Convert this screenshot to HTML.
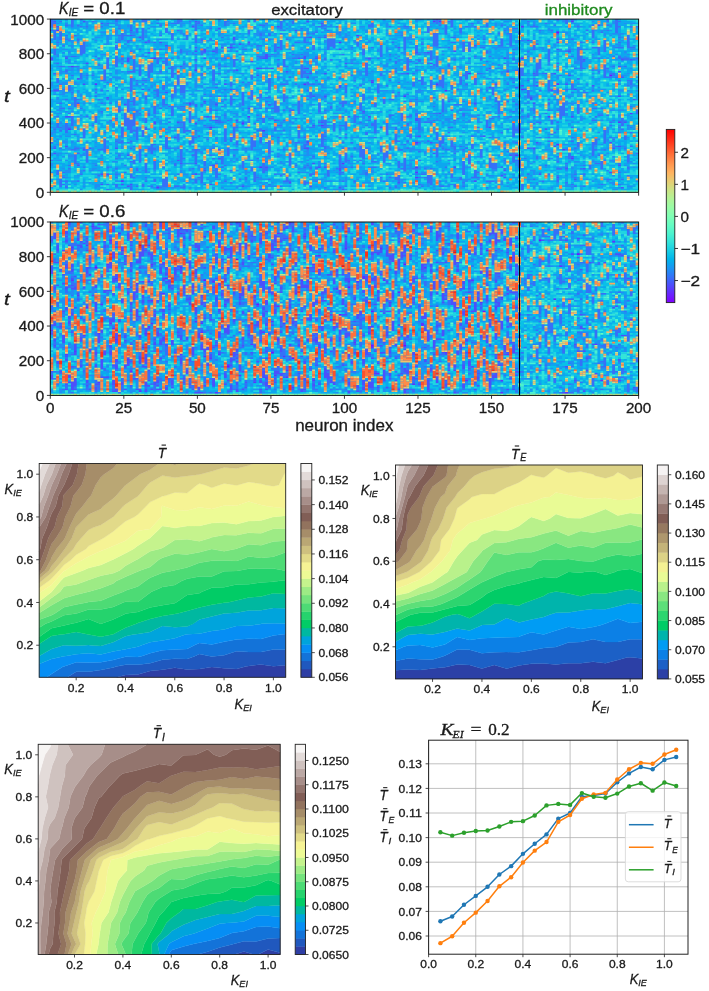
<!DOCTYPE html>
<html><head><meta charset="utf-8"><style>
html,body{margin:0;padding:0;background:#fff;}
svg{display:block;filter:blur(0.35px);}
</style></head><body>
<svg width="709" height="991" viewBox="0 0 709 991">
<rect width="709" height="991" fill="#fff"/>
<g transform="translate(50.30 19.10) scale(2.9415 1.7320)" fill="none" stroke-width="1">
<rect x="0" y="0" width="200" height="100" fill="#0ac0e8"/>
<path stroke="#7610ff" d="M172.5 7v1m18 24v1"/>
<path stroke="#6032fe" d="M2.5 6v1m4 56v1m1-37v1m8 9v1m9 55v1m11-72v1m1 74v1m13-69v1m5 32v1m7-47v1m4 43v1m2-5v1m4 28v1m1-22v1m14-28v1m6 23v1m6-49v1m1 69v1m5-75v1m5 26v1m11 7v1m4 46v1m0-4v1m0-4v1m0-15v1m6-71v1m1 35v1m1-37v1m2 39v1m8-11v1m7 30v1m9 15v1m2-39v1m0-19v1m0-19v1m9 51v1m3 15v1m0-36v1m2 37v1m3 4v1m0-80v1m16 57v1m4-6v1"/>
<path stroke="#4c50fc" d="M0.5 22v2m1 53v1m0-4v1m0-34v1m0-41v1m1 39v1m0-38v1m3 68v1m0-18v1m0-35v1m1 33v1m3 27v1m0-37v1m0-15v1m2 40v1m0-39v1m0-37v1m1 23v1m1 48v1m3-49v1m1 68v1m0-7v1m0-88v1m2 86v1m0-45v1m3 28v1m0-59v1m0-17v1m2 94v1m1-47v1m1 46v1m0-19v1m0-57v3m1 70v1m0-87v1m0-4v1m3 3v1m1 29v1m1 22v1m0-51v1m1 5v1m1 2v1m1 36v2m2-48v1m2 28v1m0-28v1m3 52v1m1 12v1m0-23v1m1 23v1m0-57v1m3 20v2m1-46v1m1 84v1m0-7v1m0-24v1m0-35v1m0-4v1m0-6v1m0-3v1m0-16v1m3 85v1m0-41v1m0-26v1m0-6v2m1 37v1m1 38v1m1-12v1m0-67v1m1 39v1m0-10v1m1 30v1m0-6v1m0-50v1m0-22v1m1 10v1m1 20v1m1-22v1m1 23v1m1-31v2m1 46v1m0-30v1m1-16v1m1 81v1m0-38v1m2-9v1m0-39v1m1 10v1m2 7v1m0-5v1m1 69v1m0-71v1m1-7v1m1 62v1m0-66v3m1 26v1m1-22v1m1 29v1m1-43v1m0-13v1m3 25v1m1 63v1m2-89v1m1 15v1m2 51v1m0-47v1m0-8v2m1 51v1m0-5v2m0-39v1m0-6v1m0-28v1m1 94v1m0-66v1m0-22v1m1 72v1m0-23v1m0-18v1m1-23v1m1 62v1m1-27v1m0-58v1m1 82v1m0-42v1m0-14v1m0-22v1m5 86v1m0-12v2m0-50v2m0-23v1m1 80v1m1-74v1m1 30v1m5-4v1m2 2v1m0-35v1m1 12v1m3 26v1m6 31v1m0-79v1m3 14v1m3 25v2m0-40v1m1 47v1m3-49v1m1 51v1m0-47v1m1 51v1m0-52v1m1-27v1m1 53v1m3-29v1m2 58v1m0-68v1m7 74v1m0-46v1m0-34v1m3 51v1m2-29v1m0-12v1m2 8v1m2 52v1m1 0v1m0-5v1m0-66v1m1 7v1m1 47v1m2-40v1m2-2v1m1 1v1m1 33v1m0-63v1m1 32v2m1 27v1m0-27v1m0-18v1m1 39v1m0-34v1m1 50v1m2-27v1m0-33v1m2 9v1m1 31v1m0-43v1m1 59v1m0-75v1m0-5v1m0-3v1m0-4v1m0-9v1m3 85v1m0-50v1m1-6v1m0-15v1m1 60v1m0-24v1m0-57v1m1 91v1m0-53v1m3 45v1m0-64v1m3 14v1m2-36v1m4 84v1m0-18v1m1 2v1m2 9v1m0-12v1m0-30v1m0-15v1m0-4v1m1 69v1m0-65v1m0-11v1m1 35v1m2-37v1m1 22v1"/>
<path stroke="#3670f8" d="M0.5 81v1m0-11v1m0-66v1m0-7v5m1 68v1m0-11v1m0-24v1m0-10v1m0-15v4m0-15v6m0-10v1m1 84v3m0-30v3m0-7v1m0-17v1m0-7v3m0-12v1m0-13v1m1 78v5m0-23v1m0-11v1m0-3v1m0-12v1m0-4v1m0-12v1m0-11v1m0-21v5m0-11v1m1 93v1m0-5v1m0-4v1m0-38v1m0-12v1m0-14v1m0-13v1m1 80v2m0-5v1m0-34v6m0-20v1m0-18v2m0-10v1m0-11v1m0-3v1m0-7v1m1 82v1m0-3v1m0-23v1m0-9v1m0-4v1m0-14v4m0-15v1m0-16v1m1 62v1m0-20v6m0-20v1m0-11v1m0-12v1m0-22v5m1 73v6m0-10v2m0-10v1m0-22v6m0-24v1m0-7v1m0-13v1m1 83v1m0-11v1m0-7v1m0-4v1m0-5v1m0-25v1m0-20v1m0-17v2m0-10v1m1 85v1m0-39v1m0-21v4m0-20v6m0-17v1m0-5v1m1 86v1m0-3v1m0-12v1m0-12v6m0-56v7m1 55v8m0-27v1m0-25v1m0-29v1m2 56v1m0-30v1m0-32v1m1 82v1m0-29v4m0-16v1m0-3v1m0-3v1m0-20v1m1 68v1m0-16v1m0-12v1m0-19v1m0-25v1m1 52v1m0-23v1m0-6v1m0-8v1m0-7v1m0-8v1m0-25v1m1 64v8m0-12v1m0-37v7m1 62v1m0-4v1m0-11v1m0-40v1m0-11v1m0-15v7m0-27v1m1 55v1m0-11v1m2 46v2m0-6v1m0-3v1m0-4v1m0-7v1m0-11v1m0-14v1m0-19v1m0-19v7m0-11v1m0-3v1m0-3v1m0-13v1m1 76v1m0-8v1m0-22v4m0-42v1m0-4v1m0-5v1m1 64v2m0-10v6m0-23v1m0-21v1m0-4v2m0-16v4m1 76v1m0-5v1m0-31v8m0-53v1m1 61v1m0-15v7m0-18v8m0-24v1m0-19v2m0-5v1m1 86v3m0-10v3m0-7v1m0-4v1m0-3v1m0-7v1m0-5v1m0-13v8m0-19v1m0-14v8m0-12v1m0-9v1m0-5v1m0-7v1m0-6v1m0-5v3m1 85v1m0-11v3m0-11v1m0-10v1m0-11v8m0-17v5m0-27v8m0-22v1m0-9v1m1 94v1m0-11v2m0-26v8m0-17v1m0-17v1m0-3v1m0-31v3m1 67v8m0-29v1m0-29v7m0-16v1m1 77v2m0-33v4m0-31v1m0-3v1m0-31v7m0-12v2m1 91v1m0-3v1m0-9v6m0-11v1m0-17v1m0-6v3m0-16v3m0-12v1m0-15v1m0-22v2m1 72v2m0-22v2m0-16v1m0-15v8m0-22v2m1 82v1m0-25v6m0-53v6m1 61v2m0-12v5m0-13v2m0-4v1m0-23v5m0-14v1m0-25v1m0-5v1m1 82v1m0-57v5m0-23v4m0-24v1m0-3v1m1 96v1m0-31v1m0-17v1m0-22v1m0-9v1m0-6v1m0-9v1m0-7v1m1 88v5m0-12v1m0-40v4m0-12v3m0-17v1m1 66v6m0-29v7m0-26v1m0-28v5m0-22v3m1 66v1m0-13v1m0-4v1m0-10v1m0-23v1m1 21v6m0-13v3m0-19v7m0-26v4m0-10v1m1 93v1m0-14v2m0-47v5m0-12v1m0-30v1m1 93v1m0-8v1m0-16v1m0-9v4m0-8v1m0-31v6m0-32v1m0-7v3m1 94v1m0-23v8m0-21v1m0-4v1m0-10v1m0-13v5m0-26v3m0-20v2m1 94v2m0-18v1m0-22v7m0-16v1m0-13v5m0-18v2m1 37v1m0-17v1m0-40v3m1 58v3m0-9v1m0-12v7m0-59v1m1 87v1m0-4v1m0-9v1m0-4v1m0-9v5m0-24v1m0-49v1m1 91v3m0-20v8m0-15v1m0-5v1m0-16v2m0-24v2m0-9v1m0-12v5m0-12v5m1 84v1m0-17v1m0-9v1m0-10v1m0-58v2m1 85v7m0-46v1m0-19v2m0-6v1m0-10v3m0-10v2m0-10v1m1 91v1m0-10v1m0-5v3m0-24v1m0-6v1m0-9v1m0-6v1m0-25v1m1 49v1m0-8v1m1 21v1m0-7v1m0-4v1m0-13v1m0-6v1m0-3v1m0-6v2m0-9v1m0-17v1m0-18v1m0-7v1m1 81v1m0-3v1m0-6v1m0-7v1m0-13v1m0-5v1m0-30v7m1 50v6m0-9v1m0-25v1m0-4v1m0-5v1m0-5v1m0-10v1m0-3v1m0-22v4m0-14v1m1 82v1m0-32v2m0-16v1m0-14v1m0-4v1m1 56v1m0-7v5m0-25v1m0-10v1m0-4v1m0-38v1m1 82v1m0-10v1m0-22v8m0-16v1m0-10v1m0-3v1m0-5v1m0-14v1m0-6v1m0-22v3m1 70v5m0-21v1m0-58v1m1 92v1m0-8v1m0-20v3m0-27v6m0-14v3m0-25v2m1 62v1m0-4v1m0-14v7m0-23v1m0-7v1m0-12v1m0-7v5m0-12v1m0-3v1m0-13v1m1 72v1m0-6v3m0-11v1m0-4v1m0-37v1m0-6v1m1 73v1m0-73v1m1 61v4m0-18v1m0-27v8m0-14v1m0-20v1m1 73v2m0-19v1m0-13v1m0-46v1m1 61v1m0-18v1m0-4v1m0-15v1m0-10v1m0-23v1m0-9v3m0-8v1m1 83v3m0-7v1m0-14v8m0-35v6m0-15v3m1 53v6m0-24v4m0-14v1m0-10v1m0-52v2m1 89v1m0-12v1m0-17v1m0-7v1m0-4v1m0-11v1m0-25v1m0-5v1m0-3v1m1 52v4m0-9v2m0-8v1m0-7v1m0-9v3m0-25v2m0-8v1m0-8v2m0-7v1m1 94v1m0-16v6m0-22v1m0-11v3m0-32v1m0-8v1m0-11v1m0-9v1m1 82v2m0-6v1m0-12v1m0-6v1m0-16v1m0-5v1m0-3v1m0-18v1m0-27v1m1 92v1m0-4v1m0-14v1m0-10v8m0-21v1m0-13v1m0-12v7m0-13v1m0-8v1m0-5v1m0-7v1m0-4v2m1 57v1m0-11v1m0-7v1m0-32v1m1 68v1m0-28v3m0-18v7m0-40v5m1 60v1m0-12v1m0-8v1m0-4v1m0-9v4m0-28v2m0-5v1m1 74v1m0-3v1m0-7v1m0-30v1m0-25v1m0-26v6m0-10v1m0-8v5m1 87v1m0-5v1m0-15v1m0-12v1m0-7v1m0-7v1m0-10v5m0-11v1m0-15v5m0-22v1m0-7v1m1 90v3m0-49v1m0-9v1m0-11v1m0-17v1m1 81v1m0-17v8m0-30v1m0-4v1m0-20v1m1 18v1m0-31v1m0-3v1m0-6v1m0-15v2m1 81v1m0-10v1m0-5v1m0-15v1m0-21v1m0-16v1m0-10v1m1 74v1m0-18v1m0-8v5m0-22v8m0-42v1m1 30v1m0-19v8m0-12v1m0-3v1m0-16v1m1 87v3m0-11v1m0-14v2m0-6v1m0-39v2m0-22v4m1 80v1m0-11v1m0-10v1m0-4v1m0-27v1m0-3v1m0-4v1m0-6v2m0-7v1m0-15v1m0-5v1m0-4v1m0-3v1m1 80v2m0-6v2m0-25v1m0-21v4m0-9v1m0-8v1m0-5v1m1 62v1m0-11v1m0-18v1m0-26v1m0-23v3m0-10v1m1 84v1m0-9v2m0-52v1m0-15v1m0-15v1m1 53v1m0-3v1m0-12v6m0-17v1m0-28v1m0-7v1m1 61v8m0-12v1m0-5v1m0-56v2m1 92v1m0-15v1m0-11v2m0-6v1m0-3v1m0-3v1m0-8v5m0-11v1m0-8v1m0-24v2m0-15v1m0-5v1m0-3v1m1 83v4m0-30v1m0-51v7m0-12v1m1 43v2m0-29v1m0-13v5m1 44v5m0-54v6m1 69v1m0-83v1m1 83v2m0-12v8m0-18v1m0-6v1m0-3v1m0-14v1m0-15v1m0-28v1m1 85v1m0-6v1m0-4v1m0-12v1m0-4v1m0-11v1m0-6v1m0-10v4m0-31v1m1 75v1m0-12v1m0-9v6m0-15v1m0-3v1m0-8v5m0-17v2m0-11v5m0-16v1m1 53v1m0-8v1m1 10v1m0-7v1m0-9v1m0-40v1m0-8v1m0-10v1m1 76v1m0-20v1m0-20v5m0-13v1m0-13v1m1 20v1m0-44v3m1 65v1m0-9v7m0-21v1m0-12v5m0-15v1m1 44v1m0-9v6m0-27v1m0-12v4m0-30v4m1 67v2m0-16v1m0-10v2m0-6v1m0-37v8m0-11v1m1 35v1m0-36v1m0-21v2m1 80v1m0-4v1m0-23v2m0-46v1m0-15v3m1 80v1m0-4v1m0-15v1m0-11v8m0-18v3m1-14v6m0-21v1m1 68v1m0-19v4m0-46v2m0-18v7m1 71v1m0-17v6m0-37v3m0-49v1m1 88v1m0-14v4m0-20v7m0-29v1m1 58v1m0-7v1m0-18v2m0-21v2m0-11v1m0-12v1m0-6v1m0-8v1m0-4v1m0-17v1m1 50v1m0-10v1m0-5v1m0-30v1m1 82v2m0-7v2m0-27v5m0-9v2m0-20v1m0-15v1m0-3v1m0-5v2m1 64v4m0-12v4m0-11v1m0-6v1m0-29v1m0-7v1m1 49v1m0-12v1m0-14v1m0-9v5m0-28v1m0-23v1m1 84v1m0-15v8m0-16v1m0-26v1m0-17v1m0-22v8m0-14v1m1 69v1m0-5v1m0-4v1m0-8v2m0-6v1m0-14v1m0-22v8m0-26v1m1 61v3m0-14v2m0-7v1m0-4v1m0-24v1m0-15v1m1 75v1m0-51v3m0-8v1m1 57v1m0-4v1m0-15v1m0-6v1m0-14v2m0-10v1m0-18v1m0-5v1m0-11v4m1 76v1m0-5v1m0-11v1m0-6v1m0-6v1m0-15v7m0-29v1m0-13v2m0-5v1m1 75v1m0-8v1m0-57v5m0-24v1m1 76v1m0-3v1m0-4v1m0-28v1m0-41v1m1 70v5m0-25v1m0-12v1m0-3v1m0-33v1m0-22v4m1 82v6m0-10v1m0-28v1m0-25v5m0-13v1m0-10v6m1 34v1m0-5v1m0-5v1m0-6v1m0-38v8m0-16v1m1 81v1m0-9v6m0-15v5m0-16v1m0-17v1m0-18v7m0-20v8m0-15v2m1 93v1m0-4v1m0-24v4m0-39v4m0-11v1m0-13v1m0-14v1m0-4v1m1 95v1m0-23v1m0-8v5m0-26v8m0-22v8m1 45v1m0-11v1m0-73v6m1 66v1m0-11v1m0-4v1m0-16v1m0-21v1m0-12v1m0-16v1m1 87v3m0-22v4m0-12v1m0-11v1m0-7v1m0-9v3m0-28v1m0-4v1m0-11v5m1 90v2m0-20v1m0-5v3m0-18v1m0-10v1m0-27v1m0-11v1m0-4v1m1 46v1m0-9v1m0-10v1m1 50v2m0-20v1m0-22v1m0-4v1m0-17v5m0-33v3m1 88v1m0-3v1m0-13v8m0-15v1m0-22v2m0-9v1m0-16v1m0-20v6m1 55v1m0-38v1m0-8v5m0-31v1m1 73v6m0-62v1m0-10v6m1 72v1m0-20v3m0-8v1m0-66v1m1 84v5m0-43v1m0-16v4m0-17v1m0-18v1m1 86v1m0-4v1m0-27v1m0-8v1m0-25v1m1 43v5m0-13v1m0-37v1m0-10v2m0-8v1m1-1v1m0-6v1m1 85v1m0-5v1m0-36v5m0-22v1m0-13v1m0-6v1m0-7v2m0-18v3m1 88v1m0-14v6m0-18v1m0-12v1m0-37v1m1 71v1m0-11v4m0-30v1m0-19v5m0-31v1m0-14v1m1 82v4m0-42v3m1 8v1m0-10v8m0-29v1m0-12v1m0-8v1m1 76v1m0-21v1m0-55v5m0-13v1m1 85v1m0-4v1m0-6v1m0-8v1m0-4v1m0-47v1m0-20v1m1 69v1m0-14v1m0-17v1m0-11v1m0-9v1m0-8v1m0-15v1m1 47v1m0-23v1m0-27v8m1 61v6m0-23v8m0-15v1m0-7v1m0-12v1m0-3v1m0-13v2m0-7v1m0-13v1m1 75v1m0-11v1m0-9v2m0-16v1m0-21v1m0-5v1m0-21v1m1 84v1m0-10v5m0-26v6m0-22v1m0-17v7m0-27v1m1 86v4m0-31v1m0-13v1m0-5v1m0-25v5m0-21v1m1 67v1m0-55v1m1 62v1m0-35v2m0-16v5m0-11v1m0-15v1m0-4v1m0-18v1m1 72v1m0-31v1m0-33v1m0-9v1m1 87v1m0-18v1m0-16v1m0-5v1m0-6v2m0-15v1m0-5v1m0-3v1m0-11v1m0-8v3m0-15v2m1 74v2m0-22v1m0-24v1m0-12v8m0-19v1m0-11v1m1 63v1m0-10v1m0-4v1m0-16v1m0-19v6m0-23v1m1 86v1m0-63v1m1 52v1m0-31v1m0-53v1m1 86v1m0-10v1m0-11v1m0-3v1m0-17v1m0-5v2m0-4v1m0-12v7m0-16v1m0-10v8m1 41v1m0-9v3m0-21v1m0-10v1m0-26v1m1 58v1m0-28v1m0-36v1m1 88v2m0-4v1m0-5v1m0-5v1m0-4v1m0-17v1m0-5v1m0-8v1m0-13v3m0-14v1m0-3v1m0-3v1m1 60v1m0-37v8m0-14v1m0-13v1m1 15v8m1 38v1m0-10v1m0-3v1m0-9v1m0-36v1m0-23v1m0-19v3m1 74v4m0-64v1m1 77v1m0-26v1m0-3v1m0-7v1m0-21v1m0-6v4m0-20v1m0-11v1m1 84v1m0-6v1m0-3v1m0-16v1m0-47v1m1 42v3m0-25v6m0-21v1m0-19v8m0-20v1m1 81v1m0-66v8m0-12v1m0-5v1m1 82v1m0-8v1m0-6v1m0-43v1m0-15v1m0-5v1m1 17v1m0-37v1m1 77v3m1-16v8m0-21v1m0-8v1m0-4v1m0-8v1m0-13v1m0-14v1m0-4v1m0-8v5m0-8v1m1 79v1m0-9v1m0-7v4m0-15v1m0-3v1m0-6v1m0-36v1m1 66v1m0-6v1m0-24v1m0-26v1m0-9v1m0-7v5m1 74v1m0-14v5m0-32v1m0-5v1m0-45v1m1 73v1m0-7v1m0-12v8m0-46v8m0-22v7m1 73v1m0-38v1m0-23v1m0-6v1m0-23v1m0-4v1m0-4v2m1 90v1m0-25v1m0-8v1m0-3v1m0-27v1m0-3v1m1 37v1m0-12v1m0-28v2m0-6v1m0-7v1m1 51v1m0-41v1m0-18v1m0-17v8m1 87v1m0-8v1m0-6v1m0-19v1m0-4v1m0-28v1m0-15v2m0-7v1m0-4v1m0-4v1m0-7v1m0-4v1m1 90v1m0-30v1m0-7v5m0-40v1m0-7v1m1 57v1m0-8v3m0-43v1m0-6v2m1 66v1m0-6v2m0-9v5m0-22v1m0-24v1m0-4v1m0-14v2m0-15v8m1 56v1m0-9v1m0-4v1m0-13v1m0-16v3m0-22v1m0-13v1m1 18v1m0-8v1m1 60v1m0-26v3m0-33v1m0-19v1"/>
<path stroke="#208ef4" d="M0.5 97v1m0-6v1m0-5v1m0-6v2m0-8v2m0-5v1m0-10v2m0-5v1m0-3v1m0-8v1m0-8v1m0-6v1m0-6v3m0-11v1m0-10v1m0-9v2m1 67v1m0-11v1m0-7v2m0-4v1m0-7v1m0-14v1m0-19v1m0-26v1m1 91v1m0-12v1m0-5v2m0-7v1m0-4v1m0-16v1m0-3v1m0-5v1m0-4v2m0-9v1m0-12v1m0-8v2m0-5v1m0-4v2m0-6v3m0-8v1m0-4v1m1 84v1m0-7v1m0-5v1m0-11v1m0-5v1m0-5v2m0-7v1m0-3v1m0-3v1m0-8v1m0-3v1m0-13v3m0-19v1m1 79v1m0-4v1m0-5v1m0-8v1m0-5v1m0-6v2m0-11v3m0-18v1m0-6v3m0-8v2m0-4v1m0-5v1m0-12v1m0-3v1m1 76v1m0-4v1m0-5v2m0-8v1m0-5v1m0-4v1m0-5v2m0-5v1m0-15v1m0-12v1m0-7v2m0-7v1m0-8v1m0-8v1m0-8v1m0-7v1m0-3v1m0-3v1m1 94v1m0-9v2m0-11v2m0-6v2m0-9v1m0-7v1m0-27v1m0-5v1m0-3v1m0-7v3m0-5v1m0-4v2m0-5v1m0-5v1m0-5v1m0-5v1m1 89v1m0-13v1m0-4v2m0-10v2m0-6v1m0-4v1m0-11v1m0-3v1m0-4v2m0-5v2m0-4v1m0-5v3m0-14v2m0-15v2m0-5v2m1 81v1m0-3v1m0-21v1m0-15v1m0-24v2m0-14v1m0-8v1m1 72v1m0-16v1m0-9v1m0-5v1m0-8v1m0-16v2m0-6v1m0-10v2m0-9v1m0-9v1m0-5v1m0-6v1m1 93v1m0-12v2m0-11v1m0-5v1m0-7v1m0-12v1m0-3v1m0-10v1m0-4v2m0-43v1m1 93v1m0-3v1m0-18v2m0-23v1m0-5v1m0-5v1m0-17v1m0-5v1m0-4v1m0-22v1m1 66v1m0-17v1m0-23v2m0-4v1m0-17v1m0-11v1m0-5v3m1 90v1m0-8v1m0-31v1m0-10v1m0-5v1m1 41v2m0-5v1m0-10v2m0-16v1m0-30v1m0-21v1m1 83v3m0-9v1m0-4v1m0-4v1m0-11v1m0-3v1m0-5v1m0-27v1m0-30v1m0-3v1m0-10v1m1 93v2m0-8v1m0-3v1m0-8v1m0-21v1m0-8v1m0-11v1m0-16v1m0-6v1m0-14v1m1 83v1m0-15v1m0-3v1m0-5v1m0-21v1m0-9v1m0-7v1m0-15v1m0-7v1m0-12v1m0-3v1m1 40v1m0-11v1m0-19v1m0-7v1m0-8v1m0-6v2m1 86v1m0-5v1m0-14v2m0-5v1m0-12v1m0-5v1m0-15v1m0-33v6m0-12v1m1 94v1m0-14v1m0-27v1m0-26v2m0-5v1m0-23v1m0-6v1m0-3v1m1 92v1m0-9v1m0-6v1m0-23v3m0-30v1m0-8v1m0-25v1m1 94v1m0-5v1m0-4v1m0-3v1m0-4v1m0-4v1m0-6v1m0-7v3m0-5v1m0-12v1m0-4v1m0-9v2m0-9v1m0-8v2m0-6v3m0-26v4m0-8v2m1 93v1m0-5v1m0-5v1m0-11v2m0-4v1m0-9v2m0-4v1m0-22v1m0-14v2m0-12v2m0-12v1m0-4v2m0-9v2m0-5v1m1 79v1m0-4v1m0-5v2m0-7v1m0-17v1m0-7v1m0-7v1m0-11v1m0-7v1m1 72v1m0-50v1m0-13v1m0-13v1m0-11v1m0-3v1m0-7v3m0-9v1m1 85v1m0-7v1m0-4v1m0-39v1m0-9v1m0-17v1m0-13v2m0-5v1m1 78v1m0-9v1m0-4v1m0-18v2m0-4v1m0-24v1m0-19v1m1 79v1m0-14v1m0-10v2m0-5v1m0-13v2m0-13v1m0-3v1m0-5v2m0-18v1m0-12v2m1 81v1m0-13v1m0-25v2m0-4v1m0-4v1m0-12v1m0-3v1m0-8v1m0-4v2m0-13v1m0-6v1m1 77v1m0-27v2m0-9v1m0-4v1m0-7v1m0-9v1m0-4v1m0-15v1m0-10v1m0-12v1m1 85v1m0-13v1m0-19v2m0-16v2m0-11v1m0-9v1m0-7v2m0-9v1m1 78v1m0-20v1m0-27v2m0-11v1m0-3v1m0-3v1m0-16v1m0-11v2m0-5v2m1 88v1m0-9v1m0-13v1m0-4v1m0-7v1m0-5v1m0-12v2m0-10v1m0-4v1m0-7v1m0-31v1m0-6v1m1 96v1m0-41v1m0-8v1m0-13v2m0-4v1m0-24v1m0-10v1m0-3v1m1 94v1m0-11v1m0-26v2m0-8v1m0-12v1m0-3v1m0-7v1m0-12v1m0-23v1m1 68v3m0-19v1m0-4v1m0-6v2m0-20v1m0-21v1m1 84v1m0-29v1m0-7v2m0-6v3m0-19v1m0-12v1m0-3v1m0-4v1m0-13v1m0-4v1m0-5v2m0-5v1m0-3v1m1 94v2m0-26v1m0-24v1m0-9v1m0-18v1m0-4v1m0-6v1m0-5v1m1 83v1m0-11v1m0-23v1m0-3v1m0-4v1m0-10v1m0-11v1m0-4v1m0-3v1m0-4v1m0-4v1m0-12v1m0-4v2m1 45v1m0-7v1m0-21v1m0-12v1m0-20v2m0-7v1m1 94v1m0-16v1m0-9v1m0-7v1m0-7v1m0-41v1m0-5v2m1 77v1m0-24v2m0-9v1m0-4v1m0-3v1m0-13v1m0-8v2m0-18v2m0-28v1m1 77v1m0-10v1m0-11v1m0-11v2m0-25v1m0-7v2m0-12v1m1 84v1m0-10v2m0-5v2m0-26v2m0-7v1m0-5v2m0-10v1m0-13v1m0-4v1m0-23v3m0-7v3m1 90v1m0-3v1m0-5v1m0-7v1m0-33v2m0-5v1m0-6v3m0-13v1m0-7v2m0-5v1m0-7v1m0-8v1m0-4v2m0-8v1m1 91v1m0-6v1m0-7v1m0-9v1m0-35v1m0-6v2m0-12v2m0-10v3m1 76v1m0-7v2m0-7v2m0-5v1m0-8v1m0-34v1m0-5v1m0-6v1m0-8v2m0-11v1m0-3v1m0-15v1m1 91v1m0-3v1m0-10v1m0-8v1m0-4v1m0-18v2m0-9v1m0-3v1m0-5v1m0-13v2m0-14v2m0-18v1m1 61v2m0-8v1m0-4v1m0-16v1m0-7v5m0-10v1m0-7v1m0-8v1m1 74v1m0-4v1m0-6v3m0-11v1m0-13v1m0-8v1m0-17v1m0-4v1m0-13v1m0-14v1m0-9v1m0-3v1m1 77v1m0-6v2m0-20v1m0-9v1m0-6v2m0-9v2m0-6v1m0-22v1m0-8v1m1 81v1m0-4v1m0-12v2m0-8v1m0-7v1m0-5v1m0-19v1m0-4v1m1 54v1m0-8v1m0-18v1m0-4v1m0-5v1m0-23v1m0-12v1m0-9v1m0-3v1m0-3v1m0-5v1m1 80v1m0-20v1m0-14v1m0-9v1m0-8v5m0-8v1m0-5v1m0-18v1m0-5v1m0-7v1m0-9v1m1 92v1m0-3v1m0-18v1m0-6v1m0-8v1m0-15v1m0-6v3m0-6v1m0-6v1m0-4v2m0-12v1m0-7v1m0-9v1m1 79v1m0-20v1m0-6v2m0-8v1m0-13v1m0-7v1m0-14v1m0-10v2m1 68v1m0-33v1m0-5v2m0-17v1m0-6v1m0-10v1m0-3v1m0-18v2m0-10v2m1 95v1m0-4v1m0-8v1m0-46v1m0-3v1m0-14v1m0-6v2m0-6v1m0-5v2m0-8v1m1 89v1m0-7v1m0-3v1m0-13v1m0-4v2m0-5v1m0-14v1m0-4v2m0-4v1m0-6v2m0-10v1m0-7v1m0-3v1m0-3v1m0-6v1m0-4v1m0-10v1m0-6v1m1 32v1m0-3v1m0-4v1m0-9v2m0-4v1m0-7v1m0-4v1m0-8v1m0-3v1m0-8v2m1 87v1m0-11v1m0-7v1m0-15v1m0-5v2m0-6v1m0-25v1m0-8v2m0-7v2m0-17v1m1 79v1m0-4v1m0-8v1m0-17v1m0-3v1m0-12v1m0-7v1m0-8v1m0-19v1m0-6v2m1 87v2m0-11v1m0-8v2m0-9v1m0-10v1m0-4v1m0-8v2m0-6v1m0-7v1m0-5v2m0-26v1m0-6v1m1 84v1m0-8v1m0-6v2m0-21v1m0-7v1m0-4v1m0-9v3m0-13v1m0-8v1m0-8v1m0-17v1m1 86v1m0-10v1m0-13v2m0-25v2m0-22v1m0-12v1m0-5v1m0-3v1m0-11v1m1 91v1m0-4v1m0-7v3m0-15v2m0-18v1m0-23v2m0-5v1m0-11v1m0-10v1m0-6v1m1 85v1m0-9v1m0-8v1m0-8v2m0-19v2m0-7v3m0-5v1m0-14v1m0-11v1m0-28v1m1 49v1m0-34v1m0-3v1m1 82v1m0-24v1m0-11v1m0-33v1m0-20v1m0-7v1m0-5v2m1 86v1m0-3v1m0-6v1m0-5v1m0-7v1m0-9v1m0-5v1m0-7v1m0-7v1m0-3v1m0-15v1m0-5v1m0-10v2m0-4v1m0-5v1m0-11v4m1 86v1m0-3v1m0-4v2m0-18v1m0-21v1m0-7v2m0-18v1m0-24v2m0-5v1m1 87v1m0-4v1m0-14v1m0-8v1m0-8v2m0-21v1m0-16v1m0-13v2m0-14v3m0-6v1m1 93v1m0-3v1m0-3v1m0-3v1m0-9v1m0-6v2m0-14v1m0-5v2m0-9v1m0-5v2m0-6v1m0-7v1m0-8v2m0-23v1m0-9v1m0-4v1m1 92v1m0-12v1m0-8v1m0-28v1m0-5v1m0-4v1m0-19v1m0-7v1m1 75v1m0-3v1m0-10v1m0-10v1m0-13v1m0-9v1m0-4v1m0-6v2m0-14v1m0-26v1m0-5v1m0-8v1m1 95v1m0-77v2m0-14v1m1 80v1m0-3v1m0-11v2m0-4v1m0-7v3m0-8v1m0-20v1m0-5v1m0-9v2m0-10v1m0-7v2m0-4v1m0-5v1m0-9v1m0-5v1m1 87v1m0-5v1m0-4v2m0-6v1m0-13v1m0-3v1m0-3v1m0-4v2m0-13v1m0-4v1m0-4v1m0-10v1m0-28v1m1 87v1m0-12v1m0-10v1m0-12v1m0-5v1m0-26v2m0-6v1m0-30v1m1 92v1m0-13v1m0-8v1m0-4v2m0-6v1m0-19v2m0-4v1m0-5v1m0-10v2m0-6v1m0-10v1m0-18v1m0-4v2m1 92v1m0-7v1m0-25v1m0-3v1m0-3v1m0-5v2m0-7v1m0-3v1m0-22v1m0-9v1m0-4v1m0-3v1m0-7v1m0-6v1m0-3v1m0-4v1m1 68v2m0-13v2m0-4v1m0-9v1m0-6v1m0-14v1m0-5v1m0-18v1m0-6v1m0-6v1m1 84v1m0-3v1m0-8v1m0-5v2m0-12v1m0-14v1m0-22v1m0-5v2m0-6v2m0-15v1m1 84v1m0-7v1m0-9v1m0-3v1m0-7v1m0-33v2m0-12v1m0-9v2m0-16v1m1 81v1m0-3v1m0-5v1m0-10v3m0-5v1m0-4v1m0-7v3m0-16v2m0-14v1m0-21v1m0-5v1m0-8v1m1 81v1m0-3v1m0-3v1m0-7v1m0-3v1m0-7v2m0-5v1m0-4v1m0-8v1m0-3v1m0-18v1m0-7v2m0-5v1m0-3v1m0-4v1m0-6v2m0-19v1m1 85v1m0-4v1m0-3v1m0-3v1m0-6v3m0-17v1m0-23v1m0-3v1m0-5v1m0-3v1m0-4v1m0-6v2m0-7v3m0-17v3m0-8v1m1 96v1m0-18v1m0-3v1m0-5v1m0-6v1m0-12v2m0-6v1m0-6v1m0-23v1m0-15v2m0-7v1m1 83v2m0-6v1m0-9v1m0-3v1m0-4v1m0-16v1m0-12v1m0-4v1m0-4v1m0-11v2m0-13v3m0-18v1m0-6v2m0-4v1m1 95v1m0-5v1m0-26v1m0-25v4m0-10v1m0-5v1m0-4v2m0-8v3m0-17v1m0-5v1m0-3v1m1 87v1m0-11v3m0-13v2m0-5v1m0-6v1m0-7v1m0-5v1m0-12v2m0-28v1m0-16v1m1 93v1m0-5v1m0-18v1m0-16v1m0-7v1m0-11v3m0-6v1m0-5v3m0-9v1m0-9v1m0-14v1m0-4v1m0-3v1m0-5v1m1 91v1m0-3v1m0-3v1m0-11v1m0-5v2m0-7v1m0-5v1m0-3v1m0-12v2m0-8v1m0-5v1m0-5v1m0-5v1m0-9v1m0-9v2m0-4v1m0-6v2m0-8v1m0-3v1m1 93v1m0-6v1m0-17v1m0-5v2m0-13v1m0-4v1m0-8v1m0-5v1m0-6v1m0-11v2m0-6v1m0-26v1m0-4v1m1 91v1m0-20v1m0-14v1m0-3v1m0-12v1m0-42v1m0-5v2m1 93v1m0-3v1m0-10v1m0-32v1m0-3v1m1 43v1m0-11v1m0-22v1m0-12v1m0-3v1m0-3v1m0-3v1m0-11v3m0-16v1m0-11v1m0-5v1m0-7v2m1 89v1m0-3v1m0-5v2m0-30v1m0-3v1m0-4v1m0-9v2m0-6v1m0-15v1m0-10v1m0-5v1m0-13v2m1 86v2m0-9v1m0-4v1m0-3v1m0-3v1m0-29v1m0-16v1m0-30v2m0-6v1m1 91v1m0-8v3m0-42v2m0-10v1m0-22v1m0-7v1m0-10v3m0-6v1m0-4v1m1 82v1m0-4v2m0-35v1m0-22v1m0-4v1m0-17v1m0-3v1m1 75v1m0-6v1m0-11v1m0-10v1m0-3v1m0-8v1m0-7v1m0-5v1m0-13v1m0-6v2m0-8v1m0-16v1m1 91v1m0-14v1m0-7v1m0-8v1m0-8v1m0-14v1m0-11v1m0-6v2m0-10v1m0-3v1m0-12v2m0-12v1m1 89v1m0-11v1m0-9v2m0-4v1m0-5v1m0-9v1m0-22v1m0-10v1m0-6v1m0-20v1m1 89v1m0-8v1m0-5v1m0-26v1m0-7v1m0-11v1m0-8v1m0-8v3m0-17v1m0-5v1m0-4v1m0-6v1m1 89v1m0-8v3m0-8v1m0-21v1m0-3v1m0-5v2m0-6v1m0-16v1m0-4v2m0-6v1m0-27v1m1 89v1m0-5v1m0-4v1m0-28v1m0-3v1m0-4v1m0-43v1m0-3v1m0-6v2m1 90v1m0-3v1m0-3v1m0-10v1m0-9v1m0-4v2m0-5v1m0-4v1m0-7v1m0-6v1m0-13v1m0-7v2m0-6v1m0-5v1m0-6v1m0-15v2m1 73v2m0-9v2m0-4v1m0-11v1m0-4v1m0-12v1m0-25v1m0-9v1m0-17v2m1 72v1m0-41v1m1 41v1m0-6v2m0-8v1m0-7v1m0-22v1m0-28v2m0-5v1m0-8v1m1 84v2m0-5v1m0-22v1m0-16v1m0-8v1m0-6v1m0-4v1m0-9v1m0-6v1m1 33v1m0-19v1m0-10v1m0-3v1m0-5v2m1 64v2m0-11v1m0-43v1m0-12v1m0-6v3m0-12v3m0-11v1m0-3v1m0-5v3m1 84v1m0-7v1m0-12v2m0-12v1m0-6v1m0-6v1m0-32v1m0-5v1m0-9v1m1 83v1m0-3v1m0-3v1m0-12v1m0-17v1m0-3v1m0-20v1m0-15v1m0-17v1m1 69v1m0-11v1m0-12v1m0-7v1m0-26v1m0-8v1m0-3v1m0-6v2m0-6v1m0-3v1m1 87v1m0-3v1m0-22v1m0-8v1m0-4v1m0-6v2m0-10v1m0-9v2m0-14v1m0-9v2m0-4v1m0-5v1m0-9v1m0-3v1m0-4v1m0-3v1m1 89v3m0-12v2m0-13v1m0-45v2m0-7v1m0-5v1m0-13v2m0-5v1m1 87v1m0-17v1m0-3v1m0-12v1m0-5v1m0-17v1m0-5v1m0-16v1m0-7v3m0-16v1m0-3v1m1 82v1m0-3v1m0-14v1m0-9v1m0-28v1m0-27v2m0-7v1m1 77v4m0-6v1m0-8v3m0-5v1m0-14v1m0-14v1m0-34v1m0-3v1m0-3v1m1 84v1m0-14v1m0-8v2m0-6v1m0-8v1m0-18v1m0-3v1m0-21v1m0-14v1m1 84v1m0-5v1m0-6v1m0-13v1m0-6v1m0-9v2m0-5v1m0-4v1m0-5v2m0-7v3m0-5v1m0-5v2m0-7v1m0-3v1m0-5v1m0-4v1m0-5v1m0-4v1m0-11v1m0-11v2m1 95v1m0-9v1m0-5v2m0-12v1m0-12v2m0-12v1m0-8v1m0-8v3m0-14v1m0-11v1m0-20v1m1 94v1m0-5v1m0-4v1m0-19v1m0-8v2m0-6v1m0-13v1m0-7v1m0-15v1m0-3v1m0-7v1m0-7v1m0-3v1m1 76v1m0-4v1m0-10v2m0-7v1m0-33v1m0-4v2m0-9v1m0-10v1m0-14v1m1 87v2m0-12v1m0-28v1m0-36v1m0-4v1m1 58v1m0-6v3m0-10v1m0-8v1m0-3v1m0-3v1m0-3v1m0-13v1m0-15v1m0-25v1m0-3v1m1 95v1m0-3v1m0-11v1m0-16v1m0-8v2m0-4v1m0-15v1m0-8v1m0-5v1m0-11v2m0-8v2m0-21v1m1 86v1m0-19v1m0-15v2m0-4v1m0-10v1m0-6v1m0-6v1m0-8v1m0-14v1m0-12v1m1 92v1m0-4v1m0-15v1m0-24v1m0-3v1m0-28v2m0-23v1m0-7v1m1 84v1m0-9v1m0-3v1m0-3v1m0-3v1m0-15v2m0-6v1m0-28v1m0-9v1m0-3v1m0-3v1m0-12v1m1 90v1m0-4v1m0-3v1m0-3v1m0-16v1m0-3v1m0-6v1m0-11v2m0-7v2m0-17v1m0-9v1m0-14v1m1 78v2m0-9v1m0-6v1m0-3v1m0-15v1m0-11v3m0-14v1m0-6v1m0-14v1m0-17v1m1 82v1m0-3v1m0-18v1m0-3v1m0-16v1m0-3v1m0-3v1m0-14v1m0-15v1m0-7v2m0-6v1m1 72v1m0-6v1m0-7v2m0-6v1m0-5v1m0-14v2m0-30v1m0-10v1m0-14v1m0-5v1m1 86v1m0-17v1m0-24v1m0-10v1m0-8v1m0-11v1m0-12v1m1 69v1m0-12v1m0-9v1m0-17v1m0-12v1m0-14v2m0-7v1m0-10v2m0-7v1m1 86v1m0-4v2m0-18v1m0-4v1m0-9v1m0-4v1m0-5v1m0-3v1m0-6v2m0-13v1m0-3v1m0-4v1m0-14v1m1 69v2m0-9v1m0-14v1m0-14v1m0-6v1m0-3v1m0-4v1m0-10v1m0-3v1m0-14v1m0-13v1m0-14v1m1 91v1m0-8v1m0-28v2m0-5v1m0-4v1m0-26v1m0-3v1m0-22v1m0-3v1m1 90v1m0-39v2m0-9v1m0-33v1m0-14v2m1 67v1m0-6v1m0-4v1m0-9v1m0-11v2m0-4v1m0-23v1m0-7v1m0-5v1m0-3v1m1 81v1m0-11v1m0-4v1m0-16v2m0-9v3m0-49v1m0-3v1m0-9v2m1 56v1m0-20v2m0-5v1m0-11v1m0-13v1m0-10v1m0-3v1m0-5v1m1 90v1m0-21v1m0-17v1m0-23v1m0-3v1m0-10v1m0-8v1m0-3v1m0-5v2m0-7v1m1 84v2m0-16v1m0-37v2m0-7v1m0-7v1m0-14v1m0-8v1m1 85v1m0-5v1m0-33v2m0-7v1m0-10v3m0-13v1m0-5v1m0-5v1m0-9v2m0-12v1m1 81v1m0-4v1m0-21v2m0-13v1m0-7v1m0-16v1m0-11v1m0-4v1m0-7v1m1 76v2m0-8v1m0-14v1m0-7v1m0-13v1m0-3v1m0-6v1m0-12v2m0-12v1m0-13v2m0-8v1m0-9v2m1 81v1m0-8v1m0-11v1m0-12v1m0-24v1m0-7v1m0-7v1m0-7v1m0-10v1m1 85v3m0-7v1m0-28v1m0-3v1m0-8v2m0-8v1m0-18v2m0-4v1m0-3v1m0-6v1m0-6v1m0-13v1m0-3v1m0-3v1m1 81v2m0-4v1m0-6v1m0-4v1m0-16v1m0-7v1m0-12v2m0-7v1m0-6v1m0-15v1m0-10v1m0-3v1m0-3v1m0-3v1m1 94v1m0-3v1m0-39v2m0-18v1m0-5v1m0-13v4m0-9v3m0-6v1m0-3v1m0-11v3m0-6v1m1 81v1m0-7v1m0-26v2m0-29v1m0-23v1m0-4v1m1 90v1m0-3v1m0-20v2m0-26v1m0-9v1m0-4v1m0-7v1m0-5v1m0-7v2m0-6v1m0-10v1m1 90v1m0-7v1m0-5v1m0-6v3m0-8v1m0-13v1m0-4v1m0-5v1m0-3v1m0-6v3m0-6v1m0-26v1m0-8v2m0-6v2m0-7v1m0-5v1m1 74v1m0-25v1m0-6v1m0-3v1m0-10v2m0-18v2m0-12v1m0-6v1m1 81v1m0-4v2m0-8v1m0-7v1m0-8v1m0-5v1m0-5v1m0-3v1m0-5v1m0-13v1m0-19v1m0-7v1m0-15v1m0-4v1m1 55v1m0-9v1m0-5v2m0-4v1m0-11v1m0-13v1m0-9v1m0-13v1m1 91v1m0-11v1m0-24v1m0-6v1m0-8v2m0-15v1m0-4v1m0-13v1m0-6v1m0-13v2m1 90v1m0-3v1m0-3v1m0-4v1m0-5v1m0-25v1m0-9v2m0-12v1m0-4v1m0-13v1m0-10v1m1 78v2m0-11v3m0-8v1m0-7v2m0-16v1m0-5v1m0-6v2m0-6v2m0-7v2m0-11v3m0-8v1m0-22v1m0-9v2m1 91v2m0-24v1m0-5v1m0-26v2m0-28v1m0-6v1m1 85v1m0-6v1m0-6v1m0-5v1m0-14v2m0-11v1m0-3v1m0-6v1m0-25v1m0-16v1m0-10v1m1 90v1m0-83v2m0-12v1m1 78v1m0-11v1m0-8v1m0-35v1m0-13v1m1 52v1m0-4v2m0-8v1m0-9v1m0-8v1m0-27v1m0-14v2m0-9v2m0-5v1m0-3v1m1 96v1m0-18v1m0-5v1m0-15v1m0-11v1m0-9v1m0-7v1m0-4v1m0-4v1m0-17v1m0-7v1m0-4v1m1 50v1m0-3v1m0-3v1m0-9v1m0-3v1m0-4v2m0-29v2m1 78v1m0-10v1m0-6v2m0-5v1m0-4v1m0-7v1m0-8v2m0-12v1m0-6v4m0-18v3m0-15v1m0-3v1m0-9v1m1 6v2m1 66v1m0-14v1m0-55v1m0-7v1m0-6v1m0-8v2m1 93v2m0-7v1m0-4v1m0-4v1m0-6v1m0-6v1m0-3v1m0-15v1m0-5v2m0-5v2m0-6v3m0-6v1m0-4v1m0-6v1m0-10v1m0-14v1m0-4v1m0-5v2m1 87v1m0-15v1m0-13v1m0-11v1m0-13v1m0-5v2m0-6v1m0-7v2m0-5v1m0-11v1m0-3v1m0-4v1m0-4v1m0-3v1m0-3v1m0-5v1m0-6v1m1 95v2m0-9v3m0-7v2m0-6v1m0-7v1m0-4v1m0-14v1m0-7v3m0-8v2m0-6v1m0-13v1m0-6v1m0-11v1m0-16v1m1 90v1m0-7v2m0-5v1m0-3v1m0-8v1m0-4v1m0-5v1m0-21v1m0-25v2m0-13v1m0-5v1m0-6v1m0-3v1m0-3v1m1 81v1m0-6v1m0-4v1m0-12v1m0-5v1m0-16v1m0-5v3m0-6v1m0-10v1m0-5v2m0-23v1m1 92v1m0-8v1m0-6v1m0-7v1m0-11v1m0-13v3m0-8v1m0-10v1m0-3v1m0-12v1m0-14v1m0-13v1m1 85v1m0-9v1m0-4v1m0-23v1m0-17v1m0-25v1m0-5v1m1 78v1m0-46v1m0-11v1m0-16v1m0-6v1m0-10v1m1 70v1m0-20v1m0-17v1m0-21v1m0-21v1m1 88v1m0-10v1m0-4v2m0-26v1m0-19v2m0-8v1m0-3v1m0-10v1m0-3v1m0-9v1m0-12v1m1 90v1m0-11v1m0-4v1m0-7v1m0-26v1m0-20v1m0-8v1m0-12v1m0-6v1m1 90v1m0-3v1m0-19v1m0-9v1m0-5v1m0-12v1m0-14v1m0-3v1m0-6v1m0-4v1m0-3v1m0-30v1m1 74v1m0-4v1m0-15v1m0-5v1m0-7v1m0-9v1m0-19v1m0-17v1m0-4v1m1 91v1m0-4v1m0-15v1m0-39v1m0-33v2m0-4v1m1 86v1m0-7v1m0-11v1m0-4v1m0-6v2m0-9v4m0-24v1m0-14v2m0-9v1m1 71v1m0-14v1m0-30v1m0-5v1m0-5v1m0-15v1m0-4v1m0-19v1m0-4v1m0-4v2m1 93v1m0-5v2m0-6v1m0-10v2m0-4v1m0-8v2m0-4v1m0-3v1m0-6v1m0-5v1m0-8v1m0-13v1m0-8v1m0-8v1m0-12v2m0-9v1m0-8v2m1 95v1m0-7v1m0-25v1m0-25v1m0-13v1m0-10v1m0-4v1m0-7v1m0-7v1m1 88v1m0-8v2m0-18v2m0-13v1m0-3v1m0-4v1m0-4v2m0-5v1m0-7v1m0-6v1m0-5v1m0-13v1m0-12v2m0-5v1m0-4v2m1 85v1m0-23v1m0-22v1m0-12v1m0-10v1m0-6v1m0-16v1m0-3v1m0-3v1m1 79v1m0-5v1m0-10v1m0-3v1m0-16v1m0-27v1m0-12v1m0-4v2m0-18v1m1 93v1m0-14v1m0-16v1m0-7v2m0-9v1m0-13v1m0-3v1m0-6v2m0-7v1m0-12v1m1 75v1m0-6v1m0-10v1m0-8v1m0-20v1m0-6v1m0-14v2m0-12v1m0-12v1m0-16v1m1 82v1m0-3v1m0-6v1m0-16v1m0-3v1m0-24v1m0-17v1m0-6v1m0-3v1m0-5v1m0-10v1m1 90v1m0-19v1m0-6v1m0-25v1m0-6v1m0-4v1m0-4v1m0-3v1m0-11v1"/>
<path stroke="#0ca7ef" d="M0.5 93v1m0-9v1m0-13v1m0-7v1m0-4v1m0-6v1m0-13v4m0-12v1m0-6v1m0-6v1m0-4v2m0-11v2m0-6v1m1 82v1m0-7v1m0-4v2m0-4v1m0-3v1m0-3v1m0-6v1m0-5v1m0-7v3m0-9v2m0-5v1m0-5v2m0-4v1m0-5v1m0-6v1m0-5v2m0-4v1m0-10v1m0-7v3m0-11v1m1 84v1m0-6v2m0-12v1m0-5v2m0-11v2m0-5v1m0-3v1m0-3v1m0-9v1m0-6v1m0-4v1m0-5v1m0-16v1m0-3v1m0-4v1m0-6v2m0-12v1m0-9v2m1 95v1m0-13v2m0-4v1m0-6v1m0-4v1m0-8v1m0-8v1m0-5v1m0-5v1m0-5v1m0-4v2m0-6v1m0-8v2m0-9v1m0-4v1m0-10v3m0-5v1m0-3v1m0-11v1m0-3v1m1 86v1m0-5v3m0-9v1m0-12v1m0-7v1m0-5v3m0-7v2m0-6v1m0-5v1m0-6v1m0-9v1m0-11v1m0-8v1m0-7v2m1 85v1m0-7v2m0-7v1m0-10v1m0-4v1m0-4v1m0-4v1m0-18v1m0-6v1m0-10v1m0-9v1m0-5v1m0-12v3m0-8v1m1 85v1m0-3v1m0-7v1m0-4v2m0-4v1m0-4v1m0-13v2m0-7v1m0-3v1m0-6v1m0-4v1m0-5v3m0-7v1m0-9v1m0-3v1m0-5v1m0-9v1m0-4v1m0-10v1m0-5v1m1 92v1m0-4v1m0-13v1m0-3v1m0-9v3m0-13v1m0-11v1m0-3v1m0-7v1m0-12v2m0-5v2m0-7v1m0-6v1m0-4v2m0-5v1m0-10v1m1 88v1m0-5v2m0-5v1m0-4v2m0-15v2m0-8v1m0-6v2m0-4v1m0-3v1m0-3v1m0-16v1m0-9v1m0-3v1m0-5v1m0-4v1m0-3v1m0-3v1m0-12v1m0-5v3m0-6v1m1 90v1m0-7v1m0-4v1m0-10v1m0-6v2m0-4v1m0-6v2m0-10v2m0-8v1m0-5v2m0-9v1m0-7v2m0-7v1m0-4v1m0-3v1m0-11v1m0-3v1m0-4v2m1 78v1m0-3v1m0-3v1m0-3v1m0-8v1m0-15v1m0-3v1m0-5v1m0-3v1m0-3v1m0-14v2m0-9v1m0-5v1m0-16v3m0-6v2m0-5v1m0-3v1m1 95v1m0-3v1m0-4v2m0-11v2m0-13v1m0-20v1m0-5v1m0-3v1m0-6v1m0-3v1m0-6v2m0-4v1m0-3v1m0-5v1m0-4v1m0-20v1m1 88v1m0-25v1m0-7v1m0-24v4m0-9v2m0-12v3m0-9v2m0-5v1m0-5v2m0-9v2m1 84v1m0-7v1m0-4v1m0-3v1m0-11v1m0-11v1m0-9v1m0-12v2m0-17v1m0-14v2m0-13v4m0-6v1m1 92v2m0-7v1m0-6v2m0-5v2m0-7v1m0-7v1m0-5v3m0-15v1m0-15v2m0-6v2m0-5v2m0-5v1m0-4v1m0-7v1m0-14v1m0-5v1m0-3v1m1 91v1m0-4v1m0-5v1m0-3v1m0-5v2m0-4v1m0-4v2m0-4v1m0-3v1m0-3v1m0-3v1m0-4v2m0-18v2m0-5v1m0-9v1m0-4v1m0-3v1m0-7v2m0-6v1m0-7v4m0-8v1m0-3v1m1 85v2m0-6v2m0-4v1m0-7v2m0-5v1m0-7v1m0-5v3m0-10v1m0-3v1m0-6v2m0-4v1m0-3v1m0-3v1m0-3v1m0-3v1m0-5v1m0-10v3m0-5v1m0-4v2m0-5v1m0-3v1m0-7v1m0-4v1m0-8v1m1 87v1m0-8v1m0-4v2m0-4v1m0-5v1m0-3v1m0-8v2m0-6v1m0-9v3m0-5v1m0-4v1m0-5v2m0-6v1m0-5v1m0-14v2m0-5v1m0-7v2m0-5v1m0-7v1m0-3v1m0-3v1m0-4v1m0-3v1m0-3v1m1 93v1m0-3v1m0-12v1m0-17v1m0-3v1m0-3v1m0-5v1m0-7v1m0-4v1m0-5v1m0-3v1m0-5v1m0-4v1m0-29v2m0-6v2m1 81v1m0-4v1m0-3v1m0-12v1m0-4v1m0-9v1m0-24v1m0-3v1m0-3v1m0-3v1m0-28v1m0-5v2m1 87v1m0-13v1m0-6v1m0-6v2m0-5v1m0-5v2m0-7v1m0-12v4m0-12v1m0-5v1m0-5v1m0-3v1m0-6v1m0-8v1m0-5v2m0-6v1m0-7v1m1 97v1m0-10v1m0-4v1m0-23v1m0-19v1m0-9v1m0-11v1m0-9v1m0-12v1m0-6v1m0-5v2m1 77v1m0-17v2m0-9v1m0-8v2m0-5v1m0-6v4m0-8v1m0-3v1m0-25v2m0-8v1m1 89v1m0-11v2m0-19v1m0-8v2m0-26v2m0-10v3m0-10v1m0-6v4m0-20v1m1 95v1m0-10v1m0-6v3m0-8v1m0-7v1m0-16v1m0-3v1m0-9v2m0-12v1m0-4v1m0-15v1m0-6v2m0-5v1m0-10v3m0-6v1m1 94v1m0-3v1m0-3v1m0-7v1m0-8v3m0-10v1m0-26v2m0-9v1m0-5v1m0-6v2m0-10v1m0-7v2m0-8v2m0-9v3m1 91v1m0-3v1m0-7v1m0-5v1m0-13v2m0-6v1m0-3v1m0-27v1m0-17v1m0-5v1m0-6v1m0-10v1m0-3v1m1 87v1m0-11v2m0-10v1m0-3v1m0-5v1m0-16v1m0-5v1m0-3v1m0-6v4m0-24v3m0-5v1m0-7v3m0-5v1m0-4v2m1 86v1m0-4v2m0-4v1m0-5v1m0-4v2m0-14v1m0-7v3m0-9v1m0-44v1m0-7v1m0-4v1m0-7v2m0-4v1m1 95v1m0-4v1m0-5v1m0-4v1m0-4v1m0-7v3m0-6v1m0-7v1m0-15v1m0-9v1m0-5v1m0-3v1m0-18v1m0-6v2m0-6v2m0-6v1m0-5v1m0-9v2m1 96v1m0-9v2m0-6v1m0-20v1m0-4v1m0-8v2m0-8v1m0-5v2m0-4v1m0-4v1m0-4v1m0-4v1m0-19v1m1 79v1m0-9v3m0-5v1m0-4v2m0-14v1m0-29v1m0-8v1m0-3v1m0-8v1m0-13v1m0-3v1m0-4v1m1 77v1m0-12v1m0-3v1m0-4v1m0-5v1m0-4v2m0-18v2m0-14v2m0-9v1m0-3v1m0-23v1m0-7v1m1 87v2m0-6v1m0-7v3m0-6v1m0-10v3m0-5v1m0-16v1m0-13v1m0-4v1m0-3v1m0-14v2m0-6v1m0-8v2m0-5v1m0-5v1m1 91v1m0-3v1m0-3v1m0-3v1m0-32v1m0-4v1m0-7v1m0-8v1m0-6v1m0-5v1m0-26v1m1 86v1m0-5v1m0-3v1m0-12v1m0-3v1m0-4v1m0-4v1m0-6v1m0-11v1m0-12v1m0-3v1m0-3v1m0-3v1m0-3v1m0-7v2m0-5v1m0-5v3m0-7v3m0-8v2m0-7v1m0-4v1m0-6v2m1 95v1m0-8v1m0-11v6m0-8v1m0-8v1m0-15v2m0-4v1m0-4v1m0-3v1m0-7v2m0-11v1m0-4v1m0-4v1m0-4v1m0-16v6m0-14v1m1 93v1m0-8v3m0-5v1m0-8v1m0-11v1m0-3v1m0-23v2m0-6v2m0-5v1m0-3v1m0-5v2m0-10v1m0-5v1m0-4v1m0-6v1m1 70v1m0-10v1m0-4v1m0-3v1m0-11v1m0-3v1m0-3v1m0-16v1m0-3v1m0-9v1m0-3v1m0-12v1m0-7v2m0-5v1m0-10v1m1 95v1m0-16v1m0-3v1m0-5v2m0-4v1m0-19v2m0-9v1m0-6v2m0-4v1m0-5v1m0-3v1m0-4v2m0-5v1m0-3v1m0-17v2m0-4v1m1 85v1m0-9v1m0-3v1m0-6v1m0-4v2m0-6v3m0-5v1m0-4v1m0-7v2m0-11v1m0-5v1m0-11v2m0-5v1m0-5v2m0-5v1m0-7v1m0-11v1m0-13v1m1 85v1m0-7v1m0-4v2m0-6v1m0-10v1m0-4v1m0-19v1m0-11v3m0-24v3m0-15v2m1 88v1m0-5v2m0-6v1m0-5v2m0-20v1m0-3v1m0-13v1m0-5v1m0-20v1m0-19v1m0-6v1m0-4v1m1 96v1m0-4v1m0-4v2m0-11v2m0-4v1m0-4v2m0-6v1m0-13v1m0-4v1m0-4v2m0-13v2m0-6v2m0-4v1m0-21v2m0-4v1m0-10v1m1 84v2m0-8v1m0-15v1m0-5v1m0-6v3m0-8v1m0-3v1m0-8v1m0-5v3m0-16v2m0-14v1m0-6v2m1 75v1m0-3v1m0-4v2m0-8v1m0-5v2m0-5v1m0-5v3m0-6v1m0-13v1m0-7v1m0-29v2m0-4v1m0-5v3m0-15v1m0-3v1m1 88v2m0-16v1m0-11v1m0-4v1m0-7v1m0-9v1m0-12v1m0-8v2m0-16v1m0-17v2m1 90v2m0-14v1m0-9v1m0-9v1m0-5v1m0-12v1m0-10v1m0-6v1m0-8v1m0-8v2m0-5v2m0-6v1m0-8v2m0-7v2m1 82v2m0-8v1m0-3v1m0-17v1m0-3v1m0-18v1m0-5v3m0-10v1m0-8v2m0-15v1m0-3v1m0-11v1m1 95v2m0-15v1m0-16v1m0-3v1m0-7v3m0-7v1m0-7v5m0-10v1m0-4v2m0-5v1m0-7v1m0-3v1m0-12v2m0-4v1m0-6v2m0-16v1m1 96v1m0-11v1m0-7v2m0-10v1m0-4v1m0-3v1m0-7v2m0-5v2m0-22v1m0-9v1m0-5v1m0-9v2m0-5v2m0-7v2m0-4v1m0-6v1m1 90v3m0-13v1m0-4v2m0-11v3m0-6v1m0-4v1m0-6v4m0-7v2m0-8v1m0-6v1m0-5v1m0-4v1m0-6v1m0-4v1m0-6v2m0-4v1m0-5v1m0-15v2m0-6v2m0-5v2m1 91v1m0-22v1m0-28v1m0-3v1m0-4v2m0-10v1m0-4v1m0-5v1m0-13v1m0-5v2m0-4v1m0-4v2m0-5v1m1 88v1m0-6v2m0-5v2m0-4v1m0-4v1m0-6v1m0-4v1m0-5v1m0-7v1m0-12v1m0-3v1m0-5v2m0-4v1m0-5v1m0-7v1m0-5v1m0-9v1m0-16v2m1 88v1m0-5v3m0-11v2m0-8v2m0-5v1m0-14v1m0-4v1m0-4v1m0-14v2m0-8v2m0-7v2m0-5v1m0-5v2m0-5v1m0-6v2m0-11v1m0-5v1m1 95v1m0-8v3m0-6v2m0-4v1m0-15v1m0-9v2m0-5v1m0-3v1m0-10v1m0-6v2m0-4v1m0-6v1m0-18v2m0-4v1m0-3v1m0-4v1m0-7v2m1 72v1m0-3v1m0-3v1m0-9v1m0-6v1m0-6v1m0-7v1m0-4v1m0-11v2m0-17v2m0-8v1m0-10v1m0-7v1m1 88v1m0-4v1m0-7v1m0-3v1m0-5v1m0-6v1m0-9v1m0-5v1m0-12v2m0-5v1m0-7v1m0-4v2m0-4v1m0-3v1m0-7v2m0-9v1m0-6v3m0-6v1m0-3v1m0-6v1m0-6v2m1 92v1m0-4v1m0-20v1m0-7v4m0-12v2m0-4v1m0-4v1m0-4v1m0-5v1m0-3v1m0-3v1m0-6v1m0-7v1m0-8v1m0-16v2m0-4v1m0-9v4m1 91v1m0-3v1m0-4v1m0-6v1m0-7v4m0-7v1m0-4v1m0-17v1m0-6v1m0-12v2m0-5v1m0-11v2m0-6v1m0-5v1m0-7v1m0-5v1m0-8v1m1 93v1m0-3v1m0-3v1m0-3v1m0-11v3m0-14v2m0-4v1m0-10v1m0-4v1m0-6v2m0-6v1m0-8v1m0-9v1m0-9v1m0-6v1m0-8v2m0-5v1m0-4v1m0-8v1m1 97v1m0-3v1m0-9v1m0-5v1m0-3v1m0-3v1m0-5v1m0-12v1m0-7v1m0-6v1m0-5v1m0-10v1m0-3v1m0-16v4m0-19v1m0-9v1m1 96v1m0-3v1m0-4v2m0-5v1m0-7v1m0-5v1m0-5v2m0-9v1m0-17v1m0-4v1m0-4v1m0-4v1m0-10v1m0-18v1m0-6v1m0-11v1m0-3v1m1 74v2m0-15v1m0-8v1m0-4v1m0-5v1m0-4v1m0-8v1m0-10v2m0-5v1m0-7v1m0-8v2m0-9v4m0-10v2m1 95v1m0-6v1m0-8v1m0-8v1m0-8v1m0-5v1m0-7v1m0-12v1m0-6v1m0-5v1m0-3v1m0-5v1m0-4v1m0-6v2m0-4v1m0-10v1m0-5v1m0-4v1m0-7v2m1 91v2m0-7v1m0-5v1m0-11v1m0-6v1m0-9v1m0-5v2m0-5v1m0-5v2m0-19v1m0-6v1m0-6v1m0-10v2m0-5v1m0-8v3m0-10v1m1 95v1m0-4v1m0-10v1m0-3v1m0-3v1m0-14v1m0-4v1m0-6v1m0-6v1m0-5v1m0-5v2m0-7v1m0-4v1m0-7v1m0-3v1m0-3v1m0-3v1m0-8v1m0-3v1m0-11v1m0-6v2m1 88v3m0-6v1m0-6v1m0-6v1m0-3v1m0-9v1m0-3v1m0-4v2m0-20v3m0-6v1m0-7v1m0-11v1m0-5v1m0-8v1m0-3v1m0-7v1m1 85v1m0-42v1m0-19v2m0-12v1m0-13v1m0-4v1m0-6v1m1 88v1m0-11v1m0-7v3m0-8v1m0-12v1m0-5v1m0-8v1m0-3v1m0-22v1m0-4v1m0-3v1m0-16v2m1 82v3m0-7v1m0-3v1m0-6v1m0-5v1m0-3v1m0-7v5m0-9v1m0-11v1m0-4v2m0-7v1m0-9v1m0-4v1m0-5v2m0-5v1m0-6v1m0-12v1m0-4v2m0-8v1m0-3v1m1 93v1m0-8v1m0-5v2m0-5v2m0-4v1m0-6v3m0-5v1m0-3v1m0-15v3m0-5v1m0-3v1m0-9v3m0-12v1m0-3v1m0-5v2m0-6v1m0-5v1m0-4v1m0-5v3m1 75v1m0-19v2m0-5v2m0-13v2m0-11v1m0-9v1m0-10v2m0-12v1m0-15v4m0-10v1m0-5v1m0-3v1m1 96v1m0-8v1m0-3v1m0-6v1m0-3v1m0-10v3m0-7v1m0-4v1m0-4v1m0-8v1m0-7v1m0-4v1m0-7v1m0-8v1m0-3v1m0-9v2m0-16v2m0-4v1m0-4v2m1 80v1m0-7v1m0-18v2m0-5v1m0-3v1m0-3v1m0-7v1m0-5v1m0-6v2m0-21v2m0-6v1m0-3v1m0-5v1m0-6v1m0-5v1m0-4v2m1 93v1m0-5v3m0-11v1m0-15v1m0-5v2m0-4v1m0-10v1m0-3v1m0-7v2m0-11v2m0-5v2m0-4v1m0-3v1m0-10v1m0-7v1m0-7v1m0-7v1m1 88v3m0-9v2m0-4v1m0-7v2m0-14v3m0-10v1m0-37v2m0-16v1m0-6v1m0-4v1m1 96v1m0-7v2m0-8v1m0-4v1m0-18v2m0-6v1m0-4v1m0-6v1m0-13v1m0-6v4m0-6v1m0-5v1m0-8v1m0-4v1m0-4v1m0-5v1m0-3v1m0-10v1m0-4v1m1 92v2m0-16v1m0-5v1m0-18v1m0-5v2m0-7v1m0-6v1m0-7v1m0-3v1m0-6v1m0-7v2m0-7v1m1 75v1m0-13v1m0-3v1m0-5v3m0-5v1m0-7v1m0-3v1m0-3v1m0-5v1m0-10v1m0-6v2m0-12v1m0-8v3m0-19v2m0-9v2m0-6v1m1 91v1m0-11v3m0-18v1m0-6v1m0-8v6m0-13v1m0-4v1m0-4v2m0-20v2m0-7v1m0-5v3m0-5v1m0-8v1m0-3v1m0-9v1m1 91v1m0-4v1m0-5v1m0-19v3m0-5v1m0-3v1m0-4v1m0-5v2m0-10v1m0-4v1m0-6v3m0-8v1m0-5v1m0-3v1m0-5v2m0-4v1m0-3v1m0-10v1m0-3v1m0-6v1m0-4v2m0-4v1m1 97v1m0-6v1m0-11v1m0-12v1m0-5v2m0-8v1m0-13v1m0-6v1m0-10v3m0-7v2m0-4v1m0-3v1m0-6v4m0-6v1m0-4v2m0-6v1m0-9v1m0-4v1m1 74v1m0-5v1m0-7v1m0-9v1m0-3v1m0-4v1m0-29v1m0-18v1m0-6v1m0-4v1m1 90v2m0-10v1m0-4v1m0-6v1m0-21v1m0-17v1m0-5v1m0-11v1m0-4v1m0-6v1m0-8v1m0-3v1m0-7v1m0-4v2m1 84v1m0-10v1m0-9v1m0-10v1m0-5v2m0-5v1m0-4v2m0-7v3m0-11v2m0-4v1m0-16v1m0-3v1m0-4v1m0-7v1m0-3v1m0-5v1m0-3v1m1 95v1m0-12v1m0-9v4m0-6v1m0-3v1m0-7v1m0-5v2m0-4v1m0-5v2m0-9v2m0-6v1m0-5v1m0-6v3m0-6v1m0-14v1m0-6v1m0-4v2m0-13v3m1 91v1m0-6v1m0-8v1m0-8v1m0-16v1m0-4v1m0-13v5m0-15v1m0-10v1m0-5v2m0-6v1m0-5v1m0-5v1m0-4v2m0-4v1m1 88v1m0-7v1m0-6v1m0-5v2m0-10v3m0-11v1m0-5v2m0-5v1m0-4v1m0-12v3m0-11v1m0-7v3m0-6v1m0-10v3m0-6v2m0-12v1m0-5v2m0-4v1m1 93v3m0-7v1m0-5v1m0-12v1m0-5v3m0-6v1m0-7v3m0-8v1m0-7v1m0-12v1m0-4v1m0-20v3m0-13v1m0-9v1m1 95v1m0-3v1m0-5v1m0-9v1m0-4v1m0-7v3m0-7v1m0-6v1m0-5v3m0-10v1m0-17v1m0-3v1m0-14v1m0-4v1m0-12v1m0-5v1m0-5v1m1 94v3m0-10v1m0-10v1m0-6v1m0-11v1m0-3v1m0-4v1m0-16v1m0-4v1m0-3v1m0-12v3m0-6v1m0-11v1m0-4v2m0-4v1m0-3v1m0-9v1m1 95v1m0-5v3m0-7v1m0-5v3m0-5v1m0-28v2m0-16v2m0-10v1m0-8v4m0-7v1m0-5v2m0-5v1m0-9v1m1 88v1m0-7v1m0-3v1m0-5v1m0-3v1m0-5v1m0-9v1m0-5v1m0-18v1m0-6v1m0-6v1m0-6v3m0-5v1m0-5v1m0-3v1m0-4v1m0-5v1m0-4v1m0-3v1m0-3v1m0-8v1m0-8v1m1 95v2m0-18v1m0-6v2m0-9v2m0-13v1m0-5v1m0-4v2m0-10v1m0-4v1m0-33v1m0-6v1m1 95v1m0-3v1m0-10v2m0-14v1m0-7v2m0-5v1m0-5v1m0-7v1m0-5v1m0-4v1m0-9v1m0-3v1m0-3v1m0-4v1m0-18v1m0-12v1m0-7v2m1 91v1m0-4v1m0-3v1m0-3v1m0-4v1m0-3v1m0-6v3m0-22v1m0-11v1m0-6v1m0-4v2m0-11v1m0-11v2m0-15v1m0-4v1m0-5v2m1 91v1m0-7v1m0-3v1m0-9v2m0-18v1m0-3v1m0-9v1m0-5v1m0-3v1m0-11v1m0-13v1m0-4v1m0-9v1m0-7v1m0-5v1m0-3v1m1 89v2m0-19v1m0-9v1m0-6v1m0-7v1m0-6v1m0-4v1m0-7v2m0-11v1m0-3v1m0-4v2m0-5v1m0-12v1m0-3v1m0-11v3m1 88v2m0-20v1m0-4v1m0-8v1m0-6v3m0-10v2m0-10v1m0-4v1m0-4v1m0-4v2m0-7v2m0-15v1m0-4v1m0-7v2m0-4v1m0-6v1m1 93v2m0-12v1m0-18v1m0-4v1m0-16v1m0-7v1m0-9v1m0-8v1m0-3v1m0-3v1m0-3v1m0-10v2m0-9v1m0-3v1m0-4v1m1 90v1m0-5v1m0-9v1m0-6v1m0-14v1m0-10v2m0-5v1m0-4v2m0-34v3m0-8v4m0-6v1m1 89v1m0-3v1m0-5v1m0-4v1m0-6v1m0-5v3m0-6v1m0-4v2m0-7v1m0-3v1m0-10v1m0-7v1m0-4v1m0-3v1m0-6v1m0-8v1m0-6v1m0-4v1m0-9v1m0-5v1m0-6v1m1 85v1m0-8v1m0-5v1m0-3v1m0-5v1m0-15v1m0-17v1m0-8v3m0-13v1m0-5v1m0-7v1m0-5v1m0-3v1m0-10v1m0-8v1m1 90v1m0-4v1m0-13v1m0-4v1m0-7v1m0-9v1m0-3v1m0-6v1m0-11v1m0-12v3m0-6v2m0-6v1m0-15v1m0-4v1m1 83v1m0-6v3m0-21v2m0-8v2m0-8v1m0-4v1m0-20v1m0-6v1m0-5v1m0-7v1m0-3v1m0-4v1m0-10v1m0-5v2m1 82v2m0-6v1m0-14v1m0-4v1m0-5v1m0-4v2m0-5v1m0-6v2m0-4v1m0-10v1m0-4v1m0-5v2m0-6v1m0-8v3m0-12v1m0-3v1m0-6v2m1 84v3m0-14v1m0-10v1m0-4v1m0-16v2m0-4v1m0-7v2m0-5v1m0-3v1m0-5v1m0-4v1m0-11v1m0-10v1m0-6v2m0-9v1m0-3v1m1 92v1m0-5v3m0-9v1m0-11v1m0-10v2m0-7v3m0-8v1m0-4v1m0-5v2m0-5v1m0-4v2m0-11v3m0-5v1m0-3v1m0-13v3m0-14v1m0-5v1m1 96v1m0-5v3m0-8v1m0-4v1m0-4v1m0-5v1m0-4v1m0-6v2m0-11v1m0-4v1m0-7v1m0-5v2m0-7v3m0-5v1m0-3v1m0-4v2m0-8v4m0-6v1m0-6v2m0-9v1m0-8v3m1 79v2m0-6v1m0-11v2m0-26v1m0-25v1m0-3v1m0-3v1m0-5v1m0-10v2m0-15v1m1 96v2m0-12v1m0-3v1m0-3v1m0-4v2m0-8v1m0-3v1m0-3v1m0-7v1m0-5v1m0-5v1m0-4v2m0-25v1m0-5v1m0-4v1m0-11v1m0-9v2m1 90v1m0-12v1m0-8v2m0-4v1m0-35v2m0-6v1m0-3v1m0-12v1m0-3v1m0-3v1m0-12v1m0-10v2m1 85v1m0-30v1m0-19v3m0-6v1m0-7v2m0-7v1m0-7v1m0-3v1m0-7v1m0-14v2m1 93v1m0-6v1m0-4v1m0-19v1m0-15v1m0-4v1m0-8v1m0-5v1m0-6v1m0-7v1m0-3v1m0-7v2m0-6v3m0-7v1m0-4v2m0-5v1m0-3v1m0-7v1m1 96v1m0-3v1m0-5v2m0-6v1m0-3v1m0-3v1m0-8v1m0-10v2m0-7v1m0-4v2m0-15v1m0-7v2m0-7v1m0-3v1m0-8v2m0-5v1m0-3v1m0-7v1m0-6v1m0-11v1m1 95v2m0-11v1m0-8v1m0-5v1m0-4v2m0-11v1m0-3v1m0-7v2m0-21v1m0-3v1m0-4v1m0-6v1m0-5v1m0-5v2m0-6v2m0-4v1m0-6v1m0-6v1m1 88v1m0-7v1m0-5v1m0-4v1m0-3v1m0-21v2m0-4v1m0-12v3m0-10v1m0-4v2m0-4v1m0-3v1m0-6v2m0-15v1m0-4v1m0-3v1m0-8v1m1 94v1m0-11v2m0-23v1m0-3v1m0-3v1m0-8v5m0-7v1m0-4v1m0-4v1m0-10v1m0-4v2m0-4v1m0-8v5m0-12v1m0-5v2m0-4v1m0-3v1m0-3v1m0-9v1m1 94v2m0-27v2m0-9v1m0-5v3m0-18v1m0-8v3m0-5v1m0-11v2m0-11v1m0-7v1m0-6v1m0-4v1m0-3v1m1 74v1m0-3v1m0-6v2m0-6v2m0-4v1m0-29v4m0-13v1m0-4v2m0-22v1m1 92v2m0-9v2m0-5v1m0-5v1m0-7v1m0-11v2m0-5v1m0-4v1m0-8v1m0-9v2m0-4v1m0-4v2m0-4v1m0-22v1m0-5v2m0-8v2m1 89v1m0-8v1m0-4v1m0-6v1m0-4v1m0-20v1m0-4v1m0-7v1m0-8v1m0-6v2m0-5v2m0-7v1m0-4v2m0-7v1m0-8v1m0-3v1m0-11v3m1 89v1m0-8v1m0-5v1m0-10v1m0-4v1m0-23v3m0-7v1m0-18v1m0-3v1m0-4v1m0-10v1m0-3v1m1 75v1m0-12v2m0-13v1m0-4v2m0-6v1m0-19v2m0-8v3m0-5v1m0-5v1m0-4v1m0-26v2m1 87v3m0-16v1m0-8v1m0-3v1m0-3v1m0-3v1m0-14v1m0-8v1m0-10v3m0-13v1m0-3v1m1 59v1m0-11v2m0-12v1m0-4v1m0-6v2m0-6v1m0-8v1m0-5v2m0-6v2m0-12v1m0-6v1m0-4v1m0-5v3m0-12v1m0-4v1m0-5v1m1 97v1m0-4v2m0-5v1m0-15v1m0-9v1m0-4v1m0-24v3m0-6v1m0-12v1m0-10v1m0-20v1m1 83v1m0-8v1m0-9v1m0-9v2m0-12v2m0-5v1m0-5v1m0-3v1m0-4v2m0-5v1m0-12v2m0-7v1m0-9v1m0-4v1m0-12v1m1 96v1m0-14v2m0-8v1m0-7v1m0-3v1m0-14v1m0-3v1m0-3v1m0-6v3m0-8v1m0-3v1m0-10v1m0-4v1m0-15v1m0-6v2m0-6v1m0-4v1m0-3v1m1 95v1m0-3v1m0-4v2m0-7v1m0-5v1m0-11v2m0-6v1m0-7v1m0-5v1m0-3v1m0-3v1m0-5v2m0-4v1m0-3v1m0-5v1m0-8v1m0-3v1m0-17v3m0-5v1m0-14v2m1 93v1m0-3v1m0-11v3m0-6v2m0-5v2m0-22v1m0-5v1m0-8v4m0-14v1m0-8v3m0-5v1m0-3v1m0-25v1m1 89v1m0-5v2m0-10v4m0-7v2m0-4v1m0-3v1m0-13v1m0-7v1m0-3v1m0-15v1m0-3v1m0-9v1m0-9v1m0-20v2m1 92v1m0-6v1m0-5v1m0-7v4m0-26v2m0-7v2m0-4v1m0-15v2m0-20v2m0-12v1m0-5v1m1 89v1m0-5v1m0-5v1m0-5v1m0-4v2m0-6v1m0-4v2m0-5v1m0-3v1m0-8v1m0-4v1m0-3v1m0-4v1m0-3v1m0-6v3m0-14v3m0-5v1m0-7v2m0-5v2m0-11v1m0-4v1m0-4v1m1 76v1m0-11v1m0-6v1m0-12v2m0-5v2m0-6v1m0-8v2m0-6v1m0-10v1m0-12v1m0-5v1m0-5v1m0-5v2m0-6v2m0-9v1m1 89v1m0-15v1m0-4v1m0-12v1m0-9v1m0-8v1m0-3v1m0-4v2m0-26v1m0-6v3m0-12v1m1 90v1m0-6v2m0-7v2m0-11v2m0-16v1m0-3v1m0-12v1m0-6v2m0-4v1m0-6v1m0-6v1m0-3v1m0-13v1m0-14v2m0-5v1m0-5v1m1 92v1m0-3v1m0-6v1m0-4v1m0-9v1m0-3v1m0-11v2m0-7v2m0-6v1m0-3v1m0-3v1m0-4v2m0-8v1m0-4v1m0-10v4m0-10v1m0-4v1m0-4v1m0-3v1m0-3v1m0-5v2m0-4v1m0-8v1m1 95v2m0-18v5m0-11v1m0-3v1m0-9v1m0-4v1m0-3v1m0-4v2m0-4v1m0-14v4m0-19v1m0-4v1m0-4v1m0-3v1m0-4v2m0-7v1m0-9v1m0-3v1m1 96v1m0-21v2m0-5v1m0-5v3m0-9v1m0-4v1m0-3v1m0-3v1m0-9v2m0-5v1m0-8v1m0-4v2m0-11v3m0-9v1m0-15v2m0-5v2m1 90v1m0-9v4m0-6v1m0-11v1m0-12v1m0-5v2m0-6v1m0-3v1m0-6v2m0-5v2m0-10v1m0-25v1m0-8v1m1 66v1m0-5v2m0-6v1m0-4v1m0-9v1m0-3v1m0-5v1m0-11v5m0-15v1m0-3v1m0-6v2m0-22v1m0-4v1m1 97v1m0-35v1m0-13v1m0-9v1m0-8v1m0-11v1m0-17v1m1 84v2m0-19v1m0-5v1m0-10v1m0-12v1m0-6v1m0-6v1m0-19v1m0-3v1m0-12v1m0-9v1m0-5v1m0-3v1m1 88v1m0-7v1m0-9v1m0-4v1m0-6v2m0-17v1m0-5v1m0-15v1m0-5v1m0-4v1m0-3v1m0-5v2m0-16v1m0-8v1m1 97v1m0-8v1m0-9v3m0-15v1m0-3v1m0-4v1m0-19v1m0-4v1m0-4v1m0-11v2m0-6v3m0-6v1m0-5v1m0-4v2m0-10v1m0-9v1m1 89v2m0-13v3m0-12v1m0-8v1m0-15v1m0-9v1m0-17v1m0-4v1m1 73v1m0-5v1m0-8v1m0-12v1m0-3v1m0-12v2m0-12v2m0-4v1m0-3v1m0-5v3m0-6v1m0-6v1m0-7v1m0-7v1m0-20v1m1 89v2m0-7v1m0-5v1m0-12v1m0-4v1m0-8v1m0-4v2m0-5v2m0-8v1m0-6v1m0-8v1m0-7v1m0-6v2m0-4v1m0-3v1m0-4v1m0-3v1m0-3v1m0-4v1m0-3v1m0-12v1m0-5v3m1 94v1m0-7v1m0-4v1m0-11v1m0-6v3m0-11v2m0-9v1m0-13v1m0-11v1m0-8v2m0-5v1m0-7v1m0-6v1m0-8v1m0-7v1m1 93v2m0-8v1m0-13v1m0-6v1m0-10v1m0-6v3m0-9v1m0-4v2m0-11v1m0-6v1m0-3v1m0-4v1m0-7v2m0-9v5m0-8v1m0-5v2m0-9v1m1 90v1m0-6v1m0-8v2m0-6v1m0-7v3m0-12v2m0-5v2m0-5v1m0-4v1m0-15v2m0-4v1m0-10v1m0-8v1m0-4v2m0-5v2m0-10v1m0-5v1m0-4v2m1 84v1m0-8v2m0-7v1m0-13v1m0-4v1m0-5v1m0-9v1m0-6v3m0-5v1m0-16v1m0-6v1m0-4v1m0-3v1m1 78v1m0-7v1m0-15v3m0-9v1m0-3v1m0-6v1m0-6v2m0-4v1m0-5v1m0-7v1m0-4v1m0-8v2m0-4v1m0-4v2m0-4v1m0-13v1m0-6v1m0-5v1m0-9v1m1 91v1m0-9v4m0-10v1m0-9v2m0-5v1m0-4v2m0-8v1m0-7v1m0-14v1m0-6v1m0-7v1m0-6v1m0-7v2m0-8v2m0-4v1m0-3v1m0-8v1m1 94v3m0-7v1m0-3v1m0-8v1m0-12v2m0-6v1m0-5v1m0-6v2m0-22v2m0-5v1m0-3v1m0-5v2m0-4v1m0-6v1m0-3v1m0-5v1m0-13v1m0-4v1m1 95v1m0-4v2m0-6v1m0-4v1m0-20v1m0-13v3m0-5v1m0-6v2m0-12v1m0-13v2m0-8v1m0-6v1m0-8v4m0-6v1m0-4v1m1 87v3m0-10v2m0-8v1m0-10v1m0-4v2m0-12v1m0-4v1m0-5v1m0-5v2m0-5v2m0-11v2m0-9v2m0-5v1m0-5v1m0-6v1m0-6v1m0-5v1m0-6v1m1 91v1m0-3v1m0-6v1m0-13v1m0-8v1m0-12v1m0-7v2m0-4v1m0-6v1m0-7v1m0-14v1m0-12v1m1 76v1m0-3v1m0-8v1m0-4v1m0-3v1m0-4v1m0-9v1m0-6v1m0-3v1m0-4v1m0-5v1m0-5v2m0-4v1m0-4v1m0-4v1m0-6v4m0-17v1m0-4v1m0-5v2m0-5v1m0-7v2m0-6v2m1 92v1m0-11v2m0-6v1m0-4v2m0-5v1m0-6v1m0-8v2m0-8v1m0-3v1m0-10v1m0-6v1m0-7v1m0-5v1m0-7v1m0-3v1m0-6v1m0-6v1m0-3v1m0-11v2m1 90v2m0-5v2m0-9v3m0-7v3m0-10v1m0-10v1m0-6v1m0-7v1m0-3v1m0-13v1m0-3v1m0-5v1m0-4v2m0-4v1m0-6v3m0-5v1m0-4v1m0-5v1m0-3v1m0-6v3m0-5v1m1 91v1m0-6v1m0-4v2m0-5v1m0-6v1m0-6v1m0-6v1m0-18v3m0-22v1m0-3v1m0-14v2m0-8v1m0-11v1m0-4v2m1 92v1m0-17v3m0-11v3m0-6v1m0-4v2m0-7v1m0-3v1m0-12v1m0-8v4m0-14v1m0-6v1m0-15v2m0-4v1m0-3v1m0-7v1m1 91v1m0-5v2m0-12v1m0-5v1m0-9v1m0-5v1m0-5v1m0-10v1m0-5v2m0-7v1m0-7v1m0-14v1m0-17v2m0-4v1m0-3v1m1 94v2m0-19v2m0-24v2m0-10v2m0-11v1m0-24v1m0-8v1m0-3v1m0-5v1m0-3v1m1 91v1m0-11v2m0-11v1m0-4v1m0-10v2m0-7v1m0-5v1m0-6v1m0-4v1m0-3v1m0-13v1m0-15v1m0-12v2m0-7v1m1 95v1m0-6v1m0-7v1m0-15v2m0-10v1m0-6v1m0-5v3m0-15v1m0-4v1m0-4v1m0-7v2m0-5v1m0-10v2m0-6v3m0-5v1m0-3v1m0-5v1m0-3v1m0-4v2m1 92v2m0-6v1m0-4v1m0-7v2m0-5v1m0-4v1m0-3v1m0-3v1m0-8v1m0-3v1m0-4v2m0-7v1m0-8v1m0-9v1m0-14v1m0-19v1m0-5v1m0-4v1m0-4v1m1 96v1m0-3v1m0-4v1m0-7v1m0-11v2m0-4v1m0-6v1m0-3v1m0-22v2m0-13v2m0-5v2m0-9v1m0-8v1m0-16v1m0-4v2m1 93v1m0-4v1m0-7v1m0-3v1m0-5v1m0-4v2m0-9v1m0-5v2m0-20v5m0-9v1m0-11v1m0-3v1m0-12v1m0-5v1m0-3v1m0-13v1m0-3v1m0-3v1m1 94v2m0-9v1m0-14v1m0-9v1m0-4v2m0-6v1m0-33v1m0-3v1m0-6v3m0-5v1m0-5v1m0-4v1m0-4v1m0-4v1m0-3v1m0-4v1m1 96v1m0-9v2m0-7v1m0-4v1m0-3v1m0-6v1m0-17v1m0-24v2m0-17v1m0-11v1m0-5v1m0-4v1m0-5v1m1 95v1m0-6v1m0-6v1m0-13v1m0-32v1m0-4v1m0-4v1m0-6v1m0-4v2m0-4v1m0-15v1m1 84v1m0-8v3m0-5v1m0-10v1m0-25v1m0-18v1m0-6v2m0-4v1m0-3v1m0-6v2m0-23v1m1 93v1m0-4v1m0-7v1m0-9v1m0-10v2m0-7v1m0-7v1m0-4v1m0-3v1m0-7v2m0-9v1m0-7v1m0-8v1m0-9v1m0-8v1m0-4v1m0-3v1m0-4v2m0-8v1m1 96v1m0-5v1m0-3v1m0-6v2m0-15v1m0-4v1m0-6v2m0-10v1m0-12v1m0-5v1m0-15v2m0-5v1m0-7v1m0-3v1m0-7v4m1 74v1m0-6v2m0-8v2m0-5v1m0-8v1m0-4v2m0-9v1m0-4v2m0-16v1m0-6v2m0-4v1m0-5v1m0-5v1m0-6v2m0-7v1m0-7v1m0-4v1m0-3v1m0-4v1m1 87v3m0-8v1m0-3v1m0-5v1m0-6v1m0-33v1m0-5v1m0-4v1m0-11v1m0-18v2m0-6v2m0-5v1m1 94v2m0-16v1m0-8v2m0-8v2m0-8v1m0-12v1m0-8v3m0-6v2m0-6v1m0-3v1m0-7v2m0-18v1m0-7v1m0-8v1m1 89v1m0-6v1m0-5v1m0-4v1m0-3v1m0-3v1m0-8v1m0-8v1m0-24v1m0-15v3m0-6v1m0-4v1m0-11v3m0-5v1m0-4v1m1 82v1m0-10v1m0-7v1m0-9v1m0-14v2m0-10v2m0-5v1m0-3v1m0-16v5m1 68v2m0-6v1m0-13v1m0-4v1m0-4v2m0-4v1m0-17v1m0-3v1m0-10v1m0-4v1m0-3v1m0-16v1m0-3v1m0-7v1m0-7v1m0-5v1m0-5v1m0-4v1m1 95v1m0-8v1m0-5v1m0-7v1m0-12v1m0-6v2m0-6v1m0-8v1m0-4v2m0-7v1m0-11v1m0-7v1m0-8v1m0-22v1m1 94v2m0-4v1m0-4v1m0-7v1m0-7v1m0-5v1m0-13v1m0-4v1m0-7v1m0-10v1m0-5v2m0-8v4m0-19v2m0-11v1m0-9v1m0-3v1m1 95v1m0-4v2m0-11v1m0-3v1m0-8v1m0-4v1m0-15v1m0-3v1m0-4v1m0-3v1m0-3v1m0-4v1m0-7v1m0-4v1m0-3v1m0-10v1m0-4v2m0-14v1m0-6v2m1 88v2m0-8v1m0-14v1m0-4v1m0-8v1m0-6v1m0-10v1m0-7v1m0-5v2m0-12v1m0-13v1m0-6v3m0-19v3m1 95v1m0-13v1m0-13v1m0-24v1m0-9v1m0-23v1m0-15v1m0-3v1m0-5v1m1 73v1m0-5v3m0-6v1m0-3v1m0-10v2m0-11v3m0-14v2m0-14v1m0-6v1m0-5v1m0-5v1m0-6v2m0-4v1m1 91v1m0-14v1m0-3v1m0-16v1m0-6v1m0-5v1m0-13v1m0-13v1m0-9v1m0-4v2m0-5v2m0-8v2m0-8v1m1 88v1m0-5v1m0-10v1m0-10v2m0-12v1m0-5v1m0-5v1m0-3v1m0-5v1m0-5v2m0-5v1m0-4v1m0-5v1m0-10v1m0-6v1m0-7v3m0-10v1m1 86v1m0-15v1m0-10v1m0-4v1m0-7v1m0-8v1m0-7v1m0-19v1m0-4v1m0-10v1m0-5v1m0-4v1m1 76v2m0-5v1m0-3v1m0-3v1m0-16v3m0-9v1m0-8v1m0-5v1m0-4v1m0-9v2m0-4v1m0-7v1m0-9v1m0-4v1m0-6v1m0-7v1m0-8v3m0-6v2m0-4v1m1 97v1m0-5v1m0-4v1m0-6v3m0-12v1m0-4v1m0-5v1m0-3v1m0-5v2m0-22v1m0-5v1m0-13v1m0-5v1m0-7v4m0-7v1m0-3v1m0-13v3m1 94v1m0-4v1m0-13v1m0-3v1m0-3v1m0-10v3m0-18v1m0-4v1m0-5v2m0-13v2m0-6v1m0-3v1m0-4v1m0-3v1m0-7v1m0-8v1m0-6v1m0-6v2m0-4v1m1 95v2m0-4v1m0-3v1m0-7v2m0-5v1m0-16v1m0-5v1m0-7v1m0-4v2m0-4v1m0-9v1m0-3v1m0-11v1m0-3v1m0-5v3m0-7v2m0-5v1m0-5v2m0-15v1m0-4v2m1 94v1m0-8v1m0-6v1m0-3v1m0-4v1m0-11v1m0-8v1m0-3v1m0-5v2m0-10v1m0-5v3m0-7v2m0-9v1m0-6v2m0-7v3m0-5v1m0-5v1m0-8v1m0-6v1m0-6v1m1 93v2m0-7v1m0-10v1m0-5v1m0-10v1m0-4v1m0-4v1m0-6v1m0-4v1m0-6v2m0-7v1m0-8v1m0-9v1m0-21v1m1 80v2m0-7v1m0-3v1m0-4v1m0-3v1m0-14v1m0-6v1m0-4v1m0-15v3m0-7v1m0-4v1m0-13v2m0-6v1m0-4v1m0-11v2m0-4v1m0-4v1"/>
<path stroke="#20d5e1" d="M0.5 98v1m0-12v1m0-8v1m0-29v1m0-8v1m0-11v1m0-11v1m1 71v1m0-12v1m0-12v1m0-21v1m0-4v1m0-8v1m0-12v1m0-5v1m0-3v1m1 68v1m0-32v1m0-23v1m0-3v1m1 55v1m0-78v2m0-8v1m1 82v1m0-3v1m0-3v1m0-3v1m0-11v1m0-3v1m0-5v1m0-3v1m0-3v1m0-18v1m0-9v1m0-16v2m0-6v1m0-3v1m0-4v2m0-24v1m1 96v1m0-19v1m0-3v1m0-3v1m0-25v1m0-5v1m0-29v1m0-6v2m0-12v1m1 88v1m0-23v1m0-4v1m0-11v1m0-44v1m0-11v1m0-7v3m1 86v2m0-6v1m0-10v1m0-10v1m0-4v2m0-42v1m0-6v1m1 77v2m0-10v1m0-22v1m0-12v1m0-7v1m0-10v1m0-3v1m0-8v2m0-27v1m1 87v1m0-16v1m0-18v2m0-21v1m0-13v1m0-8v1m0-25v1m0-3v1m1 94v1m0-4v2m0-12v1m0-3v1m0-14v1m0-15v2m0-17v1m0-12v1m0-6v2m0-12v1m0-8v1m1 92v1m0-9v1m0-9v1m0-13v1m0-14v1m0-15v1m0-15v1m0-4v1m0-19v1m1 88v2m0-6v1m0-4v1m0-4v2m0-5v1m0-18v2m0-11v1m0-6v2m0-16v1m0-18v2m0-5v1m0-20v1m1 96v2m0-9v1m0-12v1m0-7v1m0-4v1m0-5v2m0-14v2m0-10v1m0-11v4m0-7v1m0-11v2m0-16v2m1 82v1m0-4v2m0-27v1m0-15v1m0-9v1m0-6v2m0-5v1m0-12v3m0-5v1m0-7v1m0-3v1m0-5v1m0-5v1m1 53v1m0-8v1m0-7v1m0-18v1m0-17v2m0-9v1m1 80v1m0-11v1m0-18v1m0-17v1m0-4v1m0-9v1m0-3v1m0-4v1m0-6v1m0-4v1m0-9v1m0-6v1m1 87v1m0-5v1m0-17v2m0-15v1m0-5v1m0-15v1m0-4v1m0-7v1m0-8v1m0-5v1m0-12v1m1 77v1m0-10v1m0-21v1m0-5v2m0-6v1m0-3v1m0-14v1m0-4v1m0-16v1m0-6v2m0-7v2m1 82v2m0-4v1m0-4v2m0-5v1m0-10v1m0-14v2m0-12v1m0-10v1m0-6v2m0-6v2m0-24v2m1 75v1m0-11v1m0-4v1m0-3v1m0-3v1m0-4v2m0-6v1m0-5v1m0-10v1m0-15v1m0-10v1m0-4v1m0-4v1m0-3v1m0-3v1m0-4v1m0-14v1m0-5v1m1 92v1m0-4v1m0-15v2m0-5v2m0-10v3m0-12v1m0-5v1m0-8v2m0-11v2m0-6v1m0-23v2m0-5v2m0-9v1m1 94v1m0-5v1m0-33v1m0-27v1m0-9v1m0-15v1m1 79v1m0-3v1m0-11v2m0-12v1m0-7v1m0-7v1m0-5v3m0-5v1m0-12v2m0-10v1m0-4v1m0-5v1m0-3v1m1 55v1m0-4v1m0-4v1m0-24v1m0-4v1m0-8v1m0-25v1m0-19v1m1 90v1m0-3v1m0-4v1m0-6v2m0-9v2m0-5v1m0-11v1m0-19v1m0-4v1m0-5v1m0-19v3m1 72v1m0-8v2m0-10v1m0-45v1m0-3v1m0-7v1m0-10v1m0-11v1m1 83v1m0-12v1m0-6v1m0-63v1m1 79v1m0-23v1m0-41v1m1 61v1m0-11v1m0-12v1m0-16v1m0-9v2m0-9v1m0-12v3m0-7v1m0-7v2m0-5v1m0-6v1m1 81v1m0-27v2m0-6v1m0-8v3m0-19v1m0-3v1m0-5v1m0-4v1m0-27v1m0-3v1m0-3v1m1 88v1m0-12v2m0-5v1m0-3v1m0-7v1m0-4v1m0-13v1m0-3v1m0-3v1m0-7v1m0-6v1m0-3v1m0-18v1m1 74v1m0-9v1m0-18v1m0-13v2m0-12v1m0-14v1m0-18v1m0-3v1m0-8v1m1 83v1m0-4v1m0-8v1m0-22v2m0-7v2m0-4v1m0-9v1m0-8v1m0-28v2m0-9v1m0-3v1m1 91v1m0-5v1m0-3v1m0-3v1m0-4v1m0-4v2m0-21v1m0-3v1m0-5v1m0-4v1m0-12v1m0-26v2m0-17v2m0-7v1m1 93v1m0-5v1m0-12v1m0-9v1m0-11v1m0-29v2m0-17v1m1 76v1m0-6v1m0-4v1m0-8v1m0-4v2m0-12v3m0-9v1m0-7v1m0-8v1m0-17v1m0-5v1m0-23v1m0-4v1m1 90v1m0-9v1m0-7v1m0-3v1m0-8v1m0-17v1m0-3v1m0-20v1m0-10v1m0-8v1m0-7v1m0-12v1m1 66v1m0-4v2m0-8v1m0-25v1m0-18v1m0-7v1m0-9v2m0-6v2m1 84v1m0-8v2m0-25v1m0-5v2m0-22v1m0-21v1m0-5v2m0-10v1m1 89v3m0-5v1m0-5v2m0-14v1m0-7v1m0-9v1m0-3v1m0-3v1m0-10v3m0-5v1m0-8v1m0-8v2m0-12v2m0-9v3m0-6v1m0-4v1m0-3v1m1 91v1m0-13v1m0-10v1m0-4v2m0-4v1m0-6v2m0-4v1m0-3v1m0-4v2m0-25v1m0-16v1m0-20v1m1 96v1m0-21v1m0-9v1m0-15v1m0-11v2m0-18v1m0-7v1m0-7v1m0-5v3m0-6v1m1 75v2m0-5v1m0-13v1m0-25v1m0-21v1m0-12v1m0-6v3m0-6v1m1 88v1m0-29v1m0-4v1m0-44v2m0-5v1m0-10v1m0-4v1m0-5v1m1 88v1m0-10v1m0-13v1m0-54v1m0-9v1m0-3v1m0-6v1m1 92v1m0-11v1m0-4v1m0-5v2m0-4v1m0-3v1m0-9v1m0-3v1m0-9v2m0-5v1m0-4v2m0-8v1m0-4v1m0-3v1m0-3v1m0-8v1m0-22v4m0-13v2m0-5v1m1 94v1m0-17v1m0-5v1m0-32v1m0-3v1m0-22v1m0-10v1m0-8v3m1 90v1m0-3v1m0-13v1m0-25v1m0-6v1m0-6v1m0-15v1m0-9v1m0-17v1m0-6v1m0-3v1m0-4v1m1 92v1m0-6v1m0-6v1m0-28v1m0-12v1m0-6v1m1 47v1m0-3v1m0-6v1m0-4v1m0-20v1m0-9v4m0-13v4m0-6v1m0-3v1m0-19v2m0-10v1m0-7v1m0-3v1m1 77v1m0-6v2m0-10v2m0-19v2m0-5v2m0-11v2m0-4v1m0-11v1m0-6v1m0-26v1m1 97v1m0-3v1m0-5v1m0-3v1m0-15v1m0-8v2m0-4v1m0-4v2m0-9v1m0-4v1m0-5v2m0-14v1m0-4v2m0-13v1m0-5v1m0-5v1m0-10v1m0-5v1m1 94v1m0-6v1m0-4v1m0-3v1m0-22v1m0-14v1m0-17v1m0-4v1m0-4v2m0-4v1m0-8v1m0-10v2m0-5v1m0-9v1m0-4v2m1 94v2m0-17v1m0-3v1m0-8v1m0-4v2m0-16v1m0-23v1m0-5v1m0-17v1m1 80v1m0-5v1m0-9v1m0-15v1m0-6v1m0-41v1m0-11v1m0-3v1m0-6v1m1 90v2m0-20v1m0-3v1m0-6v1m0-6v1m0-5v1m0-7v1m0-13v1m0-10v1m0-4v1m0-6v1m0-20v2m0-11v3m1 90v1m0-6v1m0-17v1m0-18v1m0-3v1m0-5v1m0-7v1m0-11v2m0-20v2m0-4v1m1 77v1m0-19v1m0-7v1m0-5v2m0-14v1m0-3v1m0-14v2m0-6v1m0-8v1m0-7v1m0-7v1m1 74v2m0-38v1m0-15v1m0-5v1m0-3v1m0-5v1m0-24v1m1 89v1m0-6v1m0-3v1m0-4v1m0-5v1m0-15v1m0-14v2m0-7v1m0-7v1m0-10v1m0-11v1m0-8v1m0-3v1m0-12v1m1 88v1m0-9v2m0-8v1m0-17v1m0-8v1m0-6v1m0-21v1m0-13v2m0-8v1m0-4v1m0-8v2m1 90v1m0-7v1m0-7v1m0-10v1m0-16v1m0-3v1m0-9v1m0-5v1m0-8v2m0-4v1m0-3v1m0-16v1m0-11v1m0-6v1m1 87v2m0-6v1m0-3v1m0-39v1m0-4v1m0-14v1m0-9v1m0-3v1m0-6v1m0-5v1m1 83v1m0-4v1m0-5v1m0-8v1m0-7v1m0-5v1m0-3v1m0-3v1m0-7v1m0-3v1m0-5v1m0-4v2m0-9v1m0-16v1m0-12v1m0-3v1m0-9v2m1 80v1m0-5v1m0-13v1m0-15v1m0-7v1m0-30v2m0-5v2m0-14v1m0-7v1m1 70v1m0-6v1m0-11v2m0-7v1m0-7v1m0-8v2m0-4v1m0-3v1m0-10v1m0-5v1m0-6v1m0-3v1m0-13v1m1 66v1m0-8v1m0-3v1m0-13v1m0-16v1m0-6v1m0-7v1m0-7v1m0-8v1m1 81v1m0-5v1m0-5v1m0-15v1m0-11v1m0-3v1m0-7v3m0-5v1m0-8v1m0-3v1m0-21v1m0-3v1m0-13v1m0-7v2m0-6v1m1 92v1m0-13v1m0-3v1m0-6v1m0-14v1m0-4v1m0-5v1m0-4v1m0-8v1m0-5v1m0-5v3m0-8v1m0-3v1m0-11v1m1 74v2m0-31v2m0-27v1m0-26v1m0-6v1m0-4v1m0-10v1m1 86v1m0-9v1m0-42v1m0-11v1m0-11v1m0-15v1m1 87v1m0-16v1m0-25v1m0-4v2m0-6v1m0-4v1m0-7v1m0-12v1m0-4v1m0-9v2m1 59v1m0-34v1m0-8v1m0-9v1m0-5v1m0-13v1m0-6v1m1 85v1m0-5v1m0-32v1m0-17v1m0-17v1m0-13v1m0-6v1m0-9v1m1 86v1m0-4v2m0-14v2m0-14v1m0-4v1m0-17v2m0-5v1m0-14v1m0-6v1m0-4v1m0-10v1m0-10v2m1 78v1m0-6v1m0-6v4m0-10v1m0-25v3m0-10v2m0-5v1m0-4v1m0-26v1m0-4v1m1 94v1m0-6v1m0-7v1m0-5v1m0-5v1m0-4v1m0-11v1m0-8v1m0-48v1m0-3v1m1 89v1m0-3v1m0-8v1m0-5v1m0-12v2m0-6v1m0-17v1m0-4v2m0-6v1m0-4v1m0-5v1m0-5v1m0-17v1m1 78v1m0-7v1m0-3v1m0-6v1m0-19v1m0-7v1m0-7v1m0-28v1m0-11v1m0-8v4m1 83v1m0-19v1m0-12v1m0-14v1m0-3v1m0-14v2m0-5v1m0-5v1m0-11v2m0-8v1m0-7v1m0-4v1m0-9v1m1 95v2m0-13v2m0-42v2m0-4v1m0-6v1m0-4v1m0-19v1m0-5v1m1 79v4m0-9v1m0-9v1m0-8v1m0-8v1m0-3v1m0-8v1m0-12v1m0-14v2m0-7v1m1 64v1m0-4v2m0-6v1m0-6v1m0-4v1m0-11v2m0-4v1m0-3v1m0-10v1m0-4v2m0-10v1m0-30v2m0-7v1m1 84v1m0-7v1m0-19v1m0-15v1m0-3v1m0-17v1m0-9v2m0-11v1m0-13v1m1 83v4m0-10v1m0-6v1m0-4v1m0-3v1m0-4v2m0-43v1m0-21v1m0-5v1m1 77v1m0-29v1m0-4v1m0-25v1m0-32v1m0-4v1m1 96v1m0-6v1m0-6v1m0-25v1m0-4v1m0-14v1m0-13v1m0-13v1m0-20v1m1 61v1m0-6v1m0-7v1m0-3v1m0-18v1m0-18v1m0-5v1m0-4v1m0-11v1m1 87v1m0-10v1m0-25v1m0-10v1m0-10v2m1 57v1m0-15v1m0-4v1m0-14v1m0-3v1m0-10v4m0-6v1m0-5v1m0-4v1m0-20v1m0-14v1m0-5v1m0-5v1m0-6v1m1 86v2m0-5v2m0-8v1m0-3v1m0-9v1m0-15v1m0-3v1m0-21v1m0-3v1m0-15v1m0-5v1m0-11v1m0-3v1m0-4v1m1 89v1m0-7v1m0-6v1m0-6v1m0-24v1m0-5v3m0-18v1m0-8v2m0-9v1m0-6v1m0-8v1m1 22v1m0-6v1m0-14v1m1 69v1m0-10v1m0-13v1m0-7v3m0-12v2m0-7v1m0-4v1m0-6v1m0-3v1m0-3v1m0-4v2m0-4v1m0-5v1m0-15v1m1 91v1m0-7v1m0-8v2m0-8v1m0-8v2m0-9v1m0-7v1m0-5v1m0-11v1m0-5v1m0-3v1m0-4v2m0-8v1m0-9v2m0-18v1m1 78v1m0-17v2m0-5v2m0-12v1m0-6v2m0-9v1m0-9v1m0-8v2m0-6v1m0-3v1m0-4v1m0-18v2m1 88v1m0-3v1m0-7v1m0-5v1m0-5v1m0-3v1m0-12v3m0-8v1m0-4v1m0-8v1m0-6v2m0-9v1m0-8v2m0-7v1m0-4v2m0-4v1m0-4v1m0-6v1m0-11v1m1 65v1m0-10v1m0-24v1m0-8v1m1 65v2m0-6v1m0-4v1m0-9v1m0-8v1m0-4v1m0-3v1m0-13v1m0-15v1m0-6v1m0-9v1m0-4v1m0-4v1m0-4v1m0-6v1m0-12v1m0-3v1m1 95v1m0-28v1m0-21v1m0-15v1m0-8v1m0-12v1m0-3v1m1 81v1m0-6v4m0-20v1m0-5v1m0-5v2m0-5v2m0-4v1m0-6v1m0-3v1m0-7v1m0-13v7m0-13v4m0-11v1m0-9v1m0-18v1m1 95v1m0-11v2m0-13v1m0-4v1m0-21v3m0-13v1m0-18v1m0-14v1m0-9v1m0-3v1m1 93v1m0-10v1m0-3v1m0-3v1m0-8v1m0-9v1m0-19v1m0-15v1m0-35v1m1 94v1m0-19v1m0-4v1m0-7v1m0-3v1m0-9v1m0-9v1m0-8v3m0-8v1m0-7v1m0-14v1m0-6v1m0-10v1m0-5v2m0-5v2m1 89v1m0-11v1m0-3v1m0-15v2m0-10v1m0-4v1m0-17v1m0-5v2m0-9v1m0-3v1m0-6v2m0-15v1m1 82v1m0-23v1m0-7v2m0-27v1m0-8v1m0-23v1m0-9v2m1 94v1m0-12v1m0-3v1m0-4v1m0-4v2m0-11v1m0-8v1m0-4v1m0-8v1m0-3v1m0-8v1m0-6v1m0-20v1m0-8v1m1 84v1m0-14v1m0-4v2m0-13v1m0-22v1m0-7v1m0-7v2m0-15v1m0-5v1m0-7v2m0-6v1m0-11v1m1 89v1m0-7v1m0-8v1m0-5v1m0-8v1m0-9v1m0-4v2m0-14v1m0-3v1m0-3v1m0-14v1m0-6v1m0-3v1m0-6v2m0-7v1m1 85v2m0-8v2m0-10v1m0-11v1m0-5v1m0-17v1m0-10v1m0-5v1m0-3v1m0-5v1m0-9v1m0-8v1m0-6v1m0-4v2m0-10v1m1 93v1m0-8v1m0-10v1m0-4v1m0-8v1m0-12v2m0-14v2m0-24v2m0-11v1m0-6v1m0-3v1m1 81v1m0-4v2m0-11v1m0-13v1m0-3v1m0-9v2m0-9v1m0-5v1m0-6v1m0-6v2m0-27v1m0-7v2m1 89v1m0-5v2m0-6v2m0-4v1m0-18v1m0-4v2m0-13v2m0-5v2m0-4v1m0-10v1m0-10v1m0-7v1m0-11v5m0-8v1m0-5v1m0-3v1m1 91v1m0-13v1m0-16v1m0-4v1m0-18v1m0-4v2m0-5v1m0-6v1m0-31v2m1 82v1m0-8v1m0-3v1m0-10v1m0-7v1m0-4v1m0-3v1m0-15v1m0-12v1m0-3v1m0-10v1m0-4v1m0-15v1m0-8v1m0-4v1m1 84v1m0-3v1m0-4v1m0-3v1m0-13v1m0-3v1m0-3v1m0-12v2m0-4v1m0-3v1m0-15v1m0-11v1m0-19v1m0-3v1m0-3v1m1 94v1m0-14v1m0-10v1m0-27v4m0-6v1m0-10v2m0-9v1m0-16v1m1 61v2m0-10v1m0-3v1m0-8v1m0-33v1m0-12v1m0-17v1m1 77v2m0-5v1m0-11v1m0-20v1m0-3v1m0-6v2m0-4v1m0-7v1m0-5v1m0-10v2m0-6v2m0-5v1m0-14v1m1 88v2m0-21v1m0-12v1m0-13v1m0-8v2m0-43v2m1 96v1m0-9v1m0-11v1m0-13v1m0-11v1m0-5v1m0-5v1m0-10v1m0-25v2m0-10v1m0-7v1m1 88v1m0-20v1m0-4v1m0-19v2m0-11v1m0-3v1m0-8v1m0-18v1m0-3v1m1 81v1m0-7v1m0-5v2m0-10v1m0-3v1m0-18v1m0-32v1m0-4v2m0-6v2m0-9v1m0-16v1m1 72v1m0-34v1m0-15v1m0-6v2m0-12v1m0-4v2m0-4v1m1 75v2m0-4v1m0-12v1m0-18v1m0-5v2m0-6v1m0-14v3m0-18v1m0-15v2m1 88v2m0-10v1m0-5v1m0-4v2m0-7v3m0-6v1m0-10v2m0-6v1m0-5v1m0-27v1m0-6v1m0-13v1m0-4v1m0-5v1m1 90v1m0-7v1m0-5v1m0-12v3m0-9v1m0-4v2m0-5v1m0-12v1m0-7v1m0-10v2m0-5v1m0-6v1m0-9v1m0-5v1m0-3v1m0-12v1m1 96v1m0-22v1m0-12v1m0-7v2m0-6v1m0-8v1m0-7v1m0-8v1m0-3v1m0-6v2m0-19v2m0-5v1m1 73v1m0-11v1m0-5v1m0-18v1m0-27v1m0-3v1m1 66v1m0-8v1m0-7v1m0-3v1m0-10v1m0-15v1m0-8v1m0-15v2m0-4v1m1 28v1m0-17v1m0-4v1m0-6v1m0-5v1m1 60v1m0-7v2m0-23v1m0-16v2m0-5v1m0-30v2m0-5v1m0-3v1m0-5v3m1 82v1m0-4v1m0-16v1m0-14v1m1 33v1m0-3v1m0-16v2m0-12v1m0-3v1m0-4v1m0-4v1m0-8v1m0-9v1m0-6v2m0-9v1m0-4v2m0-9v1m0-9v1m0-7v1m1 80v2m0-4v1m0-6v1m0-8v1m0-9v2m0-6v1m0-15v1m0-11v1m0-4v1m0-5v1m0-3v1m0-15v1m0-13v1m0-5v1m0-4v1m1 95v3m0-5v1m0-12v2m0-18v1m0-3v1m0-18v1m0-15v1m0-9v1m0-3v1m0-4v1m0-10v1m0-4v1m0-3v1m0-3v1m1 88v1m0-5v1m0-26v1m0-33v1m0-15v1m0-8v1m1 76v2m0-7v1m0-11v1m0-8v2m0-7v1m0-7v1m0-6v1m0-10v2m0-9v1m0-12v1m0-11v1m0-12v1m1 85v2m0-15v2m0-7v1m0-3v1m0-17v1m0-15v1m0-11v1m0-9v1m0-21v1m1 61v1m0-22v1m0-18v1m0-7v2m0-12v1m0-4v1m0-4v1m1 93v1m0-4v1m0-26v1m0-4v2m0-8v1m0-16v1m0-3v1m0-3v1m0-16v1m0-4v1m0-5v2m0-7v1m0-6v1m0-5v2m0-5v2m1 94v1m0-3v1m0-3v1m0-8v1m0-14v1m0-5v1m0-5v1m0-22v1m0-7v1m0-3v1m0-6v3m0-6v1m0-4v1m0-6v1m0-3v1m0-12v1m1 87v2m0-17v1m0-6v1m0-14v1m0-4v1m0-10v1m0-7v1m0-24v3m0-6v2m0-4v1m0-12v2m0-7v1m1 92v1m0-12v1m0-6v1m0-5v1m0-7v1m0-10v2m0-8v1m0-14v3m0-5v1m0-13v1m0-3v1m0-7v1m0-8v1m0-9v1m1 93v1m0-3v1m0-3v1m0-9v1m0-6v2m0-8v1m0-4v1m0-6v1m0-4v1m0-3v1m0-8v1m0-6v2m0-5v2m0-4v1m0-22v2m0-5v1m0-4v2m1 73v1m0-3v1m0-4v1m0-18v1m0-11v3m0-5v1m0-3v1m0-11v1m0-9v1m0-3v1m0-11v1m0-7v1m0-4v1m0-6v1m0-8v1m0-3v1m1 93v2m0-10v1m0-4v1m0-3v1m0-9v1m0-4v1m0-4v1m0-5v1m0-3v1m0-6v2m0-8v1m0-7v1m0-7v1m0-3v1m0-17v1m0-16v1m1 87v1m0-6v2m0-5v1m0-10v2m0-4v1m0-5v1m0-7v1m0-16v1m0-5v1m0-6v1m0-8v1m0-5v1m0-3v1m0-15v1m0-5v2m0-9v1m1 86v1m0-4v1m0-16v2m0-7v4m0-6v1m0-16v1m0-5v1m0-6v1m0-9v1m0-3v1m0-25v2m1 85v1m0-3v1m0-3v1m0-48v1m0-15v2m0-23v1m0-10v1m1 96v1m0-4v1m0-7v1m0-11v1m0-3v1m0-12v2m0-5v1m0-29v1m0-4v1m0-6v1m0-5v1m0-16v1m0-3v1m0-7v1m1 85v3m0-8v1m0-6v1m0-18v2m0-18v1m0-4v1m0-10v1m0-3v1m0-16v1m0-3v1m0-3v1m0-5v1m0-7v1m1 90v2m0-7v2m0-5v1m0-16v3m0-16v2m0-14v1m0-4v1m0-6v4m0-16v3m0-21v1m0-5v1m1 92v1m0-3v1m0-5v1m0-10v1m0-11v1m0-9v2m0-18v1m0-4v1m0-19v1m0-15v1m0-7v1m1 85v1m0-25v1m0-5v1m0-8v1m0-41v1m1 77v1m0-6v1m0-5v1m0-6v1m0-14v1m0-6v1m0-12v1m0-4v2m0-23v1m0-6v1m0-5v1m0-16v1m1 95v1m0-7v1m0-20v1m0-5v1m0-39v2m0-7v1m0-13v1m1 80v1m0-7v2m0-11v1m0-12v1m0-10v1m0-20v2m0-17v1m0-16v1m0-4v1m0-7v1m1 72v1m0-7v1m0-15v1m0-4v1m0-18v1m0-18v2m0-5v1m0-12v2m1 73v1m0-11v1m0-21v1m0-17v1m0-14v1m1 76v1m0-5v2m0-13v3m0-9v2m0-7v1m0-6v3m0-15v1m0-4v1m0-5v1m0-5v1m0-11v1m0-6v1m0-15v1m0-10v3m0-5v1m1 94v1m0-12v1m0-12v2m0-13v1m0-5v1m0-9v1m0-5v1m0-22v1m0-14v1m0-6v1m0-6v1m1 92v1m0-27v2m0-6v2m0-5v2m0-11v1m0-8v1m0-3v1m0-12v1m0-4v1m0-7v4m0-6v1m0-5v1m0-12v2m0-5v2m0-4v1m0-4v1m1 87v1m0-7v2m0-25v1m0-15v1m0-23v1m1 72v1m0-17v2m0-17v1m0-8v1m0-10v1m0-4v1m0-31v2m0-11v3m1 82v1m0-3v1m0-3v1m0-8v1m0-3v1m0-4v1m0-9v1m0-5v2m0-7v1m0-11v1m0-6v1m0-5v1m0-10v1m0-4v1m0-12v1m0-5v1m0-7v1m0-5v1m1 85v2m0-4v1m0-8v1m0-6v1m0-5v1m0-4v1m0-6v2m0-7v2m0-7v2m0-9v1m0-4v1m0-6v1m0-7v1m0-6v1m0-5v3m0-5v1m0-3v1m0-11v4m0-11v1m0-4v1m1 86v1m0-18v1m0-11v1m0-3v1m0-5v1m0-10v1m0-20v2m0-4v1m0-3v1m0-5v1m0-11v1m0-5v1m0-6v1m1 93v1m0-7v1m0-20v1m0-6v1m0-6v2m0-8v1m0-11v1m0-14v1m0-4v1m0-19v2m1 84v1m0-10v1m0-4v2m0-4v1m0-3v1m0-13v1m0-15v2m0-6v2m0-6v1m0-7v1m0-13v3m0-5v1m0-4v1m0-3v1m0-8v1m0-3v1m0-3v1m1 82v1m0-3v1m0-3v1m0-6v1m0-4v1m0-11v1m0-14v1m0-11v1m0-18v1m0-6v1m0-5v1m0-3v1m0-9v3m1 84v1m0-15v1m0-32v1m0-4v1m0-13v1m0-8v1m0-16v1m1 77v2m0-26v1m0-4v1m0-23v1m0-8v1m0-6v2m0-4v1m0-6v1m0-5v3m0-6v2m0-13v2m0-5v2m1 91v1m0-4v1m0-3v1m0-5v1m0-8v1m0-5v1m0-16v5m0-7v1m0-4v2m0-21v1m0-4v1m0-13v1m0-11v1m0-10v1m1 72v1m0-16v2m0-4v1m0-9v1m0-4v1m0-27v1m0-6v1m0-10v1m0-6v2m0-4v1m1 88v3m0-7v1m0-5v1m0-39v2m0-7v2m0-4v1m0-20v1m1 42v1m0-19v2m0-16v1m0-9v3m0-17v1m0-3v1m0-3v1m1 91v2m0-5v1m0-41v1m0-6v1m0-7v2m0-13v1m0-17v1m0-5v1m0-12v1m1 92v2m0-6v1m0-4v1m0-10v1m0-3v1m0-12v1m0-28v1m0-6v1m0-3v1m0-5v1m0-16v1m0-5v1m1 79v1m0-9v1m0-12v1m0-5v1m0-5v2m0-4v1m0-11v1m0-12v1m0-9v1m0-20v1m0-4v1m0-4v1m0-3v1m1 90v1m0-14v1m0-9v1m0-10v1m0-4v1m0-8v2m0-10v1m0-11v1m0-4v2m0-6v1m0-12v1m0-5v1m0-15v1m1 89v1m0-9v1m0-6v1m0-12v2m0-8v3m0-7v1m0-9v2m0-9v1m0-3v1m0-7v2m0-4v1m0-12v2m0-4v1m0-12v1m1 85v1m0-4v2m0-5v1m0-17v1m0-3v1m0-4v1m0-10v1m0-3v1m0-13v1m0-7v1m0-6v1m0-15v1m0-3v1m0-5v1m0-3v1m0-6v1m0-5v2m1 94v1m0-4v1m0-30v1m0-5v1m0-6v1m0-14v1m0-19v3m1 70v1m0-33v1m0-3v1m0-4v1m0-19v1m0-5v1m0-7v1m0-4v1m0-8v1m0-10v1m1 72v2m0-10v1m0-4v1m0-4v2m0-9v1m0-5v1m0-6v1m0-6v1m0-5v1m0-17v1m0-12v1m0-13v2m1 76v1m0-18v1m0-6v1m0-7v1m0-23v3m0-10v1m0-7v1m0-6v1m0-7v2m0-4v1m0-4v2m0-6v1m1 92v1m0-5v1m0-4v1m0-7v2m0-7v1m0-21v2m0-4v1m0-4v1m0-6v1m0-5v1m0-4v1m0-4v1m1 58v1m0-9v1m0-10v1m0-21v1m0-3v1m0-9v1m0-7v2m0-4v1m0-5v1m0-5v1m0-4v1m0-6v1m0-11v1m0-9v1m1 88v1m0-8v1m0-5v1m0-5v1m0-4v1m0-3v1m0-3v1m0-13v3m0-13v2m0-11v1m0-7v1m0-3v1m0-28v3m0-8v1m1 85v1m0-9v1m0-17v1m0-6v1m0-3v1m0-12v2m0-8v1m0-10v1m0-6v1m0-5v1m0-12v1m1 75v2m0-7v2m0-8v1m0-4v1m0-5v1m0-4v1m0-4v1m0-4v2m0-5v1m0-8v1m0-3v1m0-6v1m0-6v2m0-16v1m0-4v2m0-5v1m0-5v1m0-5v1m0-4v2m1 33v1m0-8v2m0-11v1m0-11v1m1 76v1m0-16v1m0-3v1m0-31v1m0-3v1m0-3v1m0-7v1m0-35v1m1 90v2m0-4v1m0-9v1m0-7v1m0-5v2m0-16v1m0-7v1m0-3v1m0-4v1m0-7v3m0-6v1m0-14v1m0-15v1m0-4v1m0-4v1m1 64v1m0-11v1m0-12v1m0-7v1m0-3v1m0-6v1m0-41v1m1 94v1m0-9v3m0-11v1m0-6v1m0-7v2m0-18v1m0-5v1m0-28v1m0-10v1m0-5v3m0-11v1m1 96v1m0-4v1m0-7v2m0-8v1m0-8v1m0-4v1m0-20v1m0-7v1m0-5v1m0-5v2m0-13v1m0-5v2m0-12v1m0-5v1m0-11v1m1 95v2m0-14v1m0-4v1m0-6v1m0-8v1m0-4v1m0-9v1m0-12v2m0-12v1m0-4v1m0-14v1m0-6v1m0-4v2m0-14v1"/>
<path stroke="#34e4d9" d="M0.5 94v1m0-19v1m0-33v1m0-21v1m1 73v1m0-8v1m0-34v1m0-24v1m0-3v1m1 62v1m1-63v1m0-15v1m1 60v1m0-57v1m0-4v1m0-19v2m1 73v1m0-54v1m0-8v1m1 6v1m1 71v1m0-7v1m0-67v1m1 42v1m0-32v1m0-23v1m0-11v1m1 64v1m0-17v1m0-33v1m0-8v1m0-16v1m1 89v1m0-66v1m1 52v2m0-12v1m1 25v1m0-10v1m0-18v1m0-13v1m0-9v1m0-12v1m0-30v1m1 83v1m0-3v1m0-12v1m0-12v1m0-6v1m0-3v1m0-5v1m0-9v2m0-5v1m0-8v1m0-7v2m0-6v1m0-5v1m0-6v2m0-12v2m0-6v2m0-7v1m1 95v1m0-7v1m0-5v1m0-9v1m0-18v1m0-19v1m0-4v1m0-14v1m0-12v1m0-19v1m1 87v1m0-9v1m0-52v1m0-14v1m0-9v1m1 30v1m0-23v1m0-3v1m1 77v1m0-3v1m0-35v1m0-8v1m1 45v1m0-13v2m0-8v1m0-23v2m0-4v1m0-5v1m0-27v1m1 68v1m0-13v1m0-25v1m0-4v1m0-6v1m0-10v1m0-9v1m0-4v2m1 63v1m0-7v1m0-19v1m0-5v1m0-10v1m0-6v1m0-3v1m0-11v2m0-18v1m0-13v1m0-8v1m1 77v2m0-22v1m0-22v1m0-6v1m0-17v1m0-3v1m0-8v1m1 25v1m1 52v1m0-5v1m0-13v1m0-21v1m0-16v1m0-5v1m1 61v1m0-12v1m0-13v1m0-48v2m0-16v1m0-13v1m1 78v1m0-13v1m0-20v1m0-6v1m0-3v1m0-6v1m0-11v2m0-5v1m1 72v1m0-7v1m0-3v1m0-8v2m0-13v1m0-35v1m0-5v1m0-9v1m2 44v1m0-56v1m1 72v1m0-8v1m0-42v1m1 55v1m0-4v1m0-6v1m0-22v1m0-4v1m0-22v1m0-12v1m0-20v1m1 69v1m0-35v1m0-19v1m1 0v1m0-9v1m0-11v2m1 80v1m0-9v1m0-6v1m0-24v2m0-13v1m0-6v1m1 42v1m0-42v1m0-38v1m1 35v1m0-35v1m1 57v2m0-25v1m0-11v1m0-9v1m0-20v1m0-4v1m1 82v1m0-10v1m0-3v1m0-28v1m1 34v1m0-10v2m0-9v1m0-3v1m0-13v1m0-5v1m0-20v1m0-26v2m0-5v2m1 77v1m0-4v1m0-7v1m0-67v1m1 82v1m0-46v1m0-17v1m0-23v1m0-6v1m0-6v1m1 89v2m0-44v1m0-15v1m0-30v1m1 71v1m0-6v1m0-8v1m0-15v1m0-27v1m0-3v1m0-7v1m0-14v1m1 85v1m0-5v1m0-41v1m0-4v1m0-5v1m0-16v1m0-20v1m0-3v1m1 91v1m0-30v1m0-37v1m1 38v1m0-4v1m0-67v1m1 79v1m0-7v1m0-3v1m0-12v1m0-7v1m0-11v1m0-3v1m0-16v1m0-5v1m0-9v1m1 71v1m0-5v1m0-19v1m0-4v1m0-29v1m0-26v2m1 60v1m0-19v1m0-10v1m0-22v2m0-5v1m0-6v2m0-10v1m2 69v1m0-5v1m0-4v1m0-29v1m0-16v1m0-4v1m0-19v1m1 13v1m0-7v1m1 77v1m0-41v1m0-26v2m1 49v1m0-16v1m0-20v1m0-10v1m0-3v1m0-33v1m1 95v1m1-28v1m0-19v2m0-39v1m1 76v1m0-62v1m0-4v1m0-6v1m0-18v1m0-5v1m1 63v1m0-4v1m0-27v1m1 49v1m0-44v1m0-11v1m0-6v1m0-3v1m0-24v1m2 83v1m0-39v1m0-7v1m0-18v1m0-10v1m1 58v1m0-5v1m0-33v1m0-11v1m0-28v3m1 62v1m0-43v1m0-24v1m0-6v1m1 94v1m0-13v1m0-19v1m0-66v1m1 75v1m0-10v1m0-10v1m0-25v1m0-17v1m0-13v2m1 68v1m0-47v1m1 51v1m0-22v1m0-22v1m0-19v1m0-12v2m0-6v1m0-3v1m1 80v1m0-5v1m0-11v1m0-10v1m0-23v1m0-8v1m0-5v1m0-10v2m0-4v1m1 77v1m0-5v1m0-3v1m0-12v1m0-4v1m0-15v1m0-3v1m0-5v1m0-30v1m0-10v1m0-11v1m0-10v3m1 22v1m0-3v1m0-3v1m0-3v1m0-14v2m0-6v1m1 41v1m0-7v1m1 13v1m0-15v1m1 36v1m0-6v1m0-11v1m0-18v1m0-3v1m1-1v1m0-4v1m1 58v1m0-69v1m1 58v1m0-12v1m0-5v1m0-13v1m0-7v1m0-15v2m0-4v1m0-11v1m0-7v3m1 62v1m0-6v1m0-9v1m0-21v1m0-29v1m0-22v1m1 36v1m0-8v1m1 54v1m0-60v1m0-26v1m1 63v2m0-8v1m0-10v1m0-50v1m1 89v1m0-15v1m0-3v1m0-6v1m0-7v1m0-16v1m0-13v1m0-5v1m0-33v1m1 91v1m0-9v1m0-20v1m0-23v1m0-8v1m1 46v2m0-5v1m0-22v1m0-3v1m0-4v1m0-20v1m0-3v1m0-34v2m0-5v1m1 93v1m0-3v1m0-8v1m0-4v1m0-21v1m0-6v1m0-15v1m0-5v1m0-5v1m0-14v1m1 71v1m0-8v1m0-9v1m0-3v1m0-40v1m0-17v1m0-27v1m1 65v1m0-64v1m1 50v1m0-12v1m0-9v1m1 60v1m1-6v1m0-24v1m0-18v1m0-47v1m0-6v1m1 83v1m0-18v2m0-19v1m0-26v1m1 51v1m0-5v1m0-18v1m0-7v1m0-37v1m1 41v1m0-29v1m0-5v1m1 73v1m0-44v1m0-4v1m0-34v1m0-5v2m0-6v1m1 38v1m0-3v1m1 45v2m0-25v1m0-6v1m0-31v1m0-16v2m0-5v1m1 63v1m0-10v1m0-9v1m0-6v1m0-6v1m0-3v1m0-26v1m0-3v1m1 64v1m0-43v1m0-14v1m0-11v1m0-22v2m1 62v1m0-4v1m0-35v1m0-15v1m0-5v1m0-12v1m1 95v1m0-68v1m0-12v2m0-5v2m0-9v1m1 14v1m0-4v1m0-3v1m0-4v1m0-17v1m1 85v1m0-68v1m0-3v1m1 77v1m0-22v1m0-31v1m0-26v2m0-17v1m0-7v1m1 64v1m0-6v1m0-16v1m0-7v1m0-4v1m0-23v1m1 72v1m0-6v1m0-3v1m0-5v1m0-57v1m0-11v2m1 58v1m0-35v1m0-19v1m0-16v1m1 53v1m0-40v1m1 73v1m0-26v1m0-19v1m0-26v1m1 70v1m0-29v1m0-5v1m0-17v1m0-11v1m0-18v2m0-4v1m0-11v1m1 57v1m0-4v1m0-12v1m0-26v1m0-3v1m0-17v1m1 47v1m0-7v1m1 39v1m0-8v1m0-9v1m0-8v1m0-15v1m0-4v1m0-9v1m0-18v1m0-8v1m1 63v1m0-19v2m0-5v1m0-14v1m0-30v1m0-20v1m1 92v1m0-26v1m0-6v1m0-16v1m0-3v1m0-41v2m1 59v1m0-14v2m0-5v1m0-25v1m0-7v1m0-15v1m0-3v1m1 89v1m0-11v1m0-6v1m0-14v1m0-20v1m1 13v1m0-15v1m0-12v1m0-26v1m1 80v1m0-6v1m0-24v1m0-7v1m0-14v1m0-15v1m0-27v1m1 70v1m0-19v1m1 16v1m1 10v1m0-3v1m0-8v1m0-36v1m0-5v1m0-9v1m0-7v1m0-13v1m0-3v1m1 84v1m0-10v1m0-37v2m0-9v1m0-41v1m1 86v1m0-3v1m0-13v1m0-27v1m0-6v1m1 49v1m0-8v1m0-3v1m0-13v1m0-45v1m0-7v1m0-9v1m0-13v1m1 90v1m0-9v1m0-23v1m0-3v1m0-27v4m0-27v1m0-11v2m2 89v1m0-56v1m0-18v1m0-6v1m0-9v1m0-5v1m1 88v1m0-9v1m0-9v1m0-4v1m0-30v2m1 38v1m0-12v1m0-29v2m0-5v1m0-7v1m0-26v1m0-3v1m0-3v1m0-6v2m1 72v1m0-3v1m0-33v1m0-10v1m0-8v1m0-12v1m0-14v1m1 21v1m0-18v1m1 21v1m1 55v1m0-50v1m1 33v1m0-28v1m0-33v1m1 79v1m0-18v1m0-56v1m0-9v1m0-9v2m1 77v1m0-26v1m0-41v1m1 52v1m0-5v1m0-22v1m0-12v1m0-35v1m1 75v1m0-3v1m0-4v1m0-47v1m0-21v1m0-4v1m1 57v1m0-19v1m1 49v2m0-19v2m0-6v2m0-10v1m0-5v2m0-6v1m0-17v1m0-10v1m0-3v1m0-10v2m0-6v1m0-21v1m1 64v1m0-17v1m0-34v1m0-7v1m1 79v1m0-26v1m0-22v1m0-3v1m0-14v1m0-7v1m0-14v1m1 70v1m0-13v2m0-37v1m0-15v1m0-10v1m1 84v1m0-3v1m0-12v1m0-12v1m0-11v1m0-4v1m0-26v1m0-35v1m1 85v1m0-8v1m0-16v1m0-13v2m0-20v2m0-9v1m0-4v2m0-19v1m0-4v1m1 75v1m0-5v1m0-9v1m0-12v1m0-5v1m0-32v1m1 60v1m0-9v1m0-24v1m0-9v1m0-8v1m0-13v1m1 69v1m0-11v1m0-6v1m0-30v1m0-18v1m1 54v1m0-4v2m0-9v1m0-4v2m0-11v1m0-15v1m0-7v1m0-11v1m0-34v1m1 80v1m0-52v1m0-27v1m1 78v1m0-33v1m1 20v1m0-24v1m0-22v1m0-23v1m0-3v1m1 78v1m0-82v1m1 69v1m0-46v2m1 41v1m0-28v1m0-16v1m0-28v1m1 78v1m0-26v1m0-8v1m1 14v2m0-10v1m0-11v1m0-9v1m1 21v1m0-5v1m0-16v1m0-15v2m1 55v1m0-34v1m0-16v1m0-17v1m1 73v1m0-66v1m0-13v1m1 55v1m0-12v1m0-21v1m0-27v2m0-21v1m1 59v1m0-12v1m1 18v1m0-5v1m0-6v1m0-9v2m0-4v1m0-22v2m0-12v1m0-5v2m0-7v1m0-3v1m1 64v1m0-28v1m1 50v1m0-14v1m0-4v1m0-5v1m0-7v1m0-15v1m0-8v1m0-16v1m0-27v1m0-4v1m1 66v1m0-69v1m1 91v1m0-8v1m0-7v1m0-10v3m0-9v1m0-6v1m0-4v1m0-5v1m0-8v1m0-10v1m0-9v1m0-19v1m0-8v1m1 68v1m0-9v1m0-17v1m1 41v1m0-6v1m0-17v1m0-22v1m0-30v1m0-6v2m0-6v1m0-7v1m0-5v1m1 89v1m0-4v1m0-24v1m0-17v1m0-7v1m0-3v1m0-16v1m0-7v1m0-24v1m1 93v1m0-35v1m1 20v1m0-14v1m0-9v1m0-20v1m0-13v1m0-10v1m0-19v1m1 87v1m0-23v1m0-9v1m0-39v1m0-7v1m0-17v1m1 95v1m0-29v1m0-13v1m0-55v1m1 89v1m0-5v1m0-19v1m0-3v1m0-7v1m0-50v1m0-12v1m1 93v1m0-6v1m0-9v1m0-4v1m0-6v1m0-20v1m0-20v1m0-5v2m0-8v1m0-4v1m0-5v2m0-7v2m1 58v1m0-6v1m0-5v1m0-3v1m0-20v1m0-18v1m1 55v1m0-17v1m0-7v1m0-26v1m0-11v1m0-3v1m1 56v2m0-9v1m0-71v1m0-4v1m1 74v1m0-29v1m0-46v1m1 91v2m0-11v1m0-28v1m0-5v1m0-3v1m0-11v1m0-16v1m0-24v1m0-7v1m1 79v1m0-28v1m0-5v1m0-6v1m0-5v1m0-7v2m0-27v1m0-10v1m1 93v1m0-3v1m0-23v1m0-56v1m0-5v1m1 70v1m0-4v1m0-18v1m0-9v1m0-6v1m0-16v1m0-7v1m0-11v1m0-19v1m1 74v1m0-7v1m0-4v1m0-30v1m0-3v1m0-7v1m0-9v1m0-3v1m0-7v1m0-7v1m1 89v1m0-9v1m0-25v1m0-52v1m1 44v1m0-29v1m0-18v1m1 64v1m1 17v1m0-26v1m0-5v1m0-21v1m0-15v1m0-5v1m0-20v1m0-3v1m0-6v1m1 88v1m0-6v1m1 6v1m0-11v1m0-5v1m0-23v1m0-17v1m0-21v1m1 54v1m0-11v1m0-34v1m0-21v1m0-16v1m1 76v1m0-13v1m0-14v2m0-10v1m0-4v1m1 50v1m0-5v1m0-29v1m0-8v3m0-10v1m0-18v1m0-3v1m2 56v1m0-6v1m0-3v1m0-3v1m0-11v2m0-6v1m0-20v1m0-7v1m0-13v1m0-22v1m1 84v1m0-5v1m0-29v1m0-22v1m0-13v1m0-9v2m1 71v1m0-18v2m0-8v1m0-19v1m0-10v1m0-35v1m1 65v1m0-8v1m0-12v1m0-22v1m0-14v1m1 64v1m0-14v1m0-24v1m0-4v1m0-10v1m0-34v1m1 83v3m0-26v1m0-33v1m0-6v1m0-9v1m0-17v1m0-4v1"/>
<path stroke="#4af2cf" d="M0.5 20v1m1 23v1m1 4v1m0-34v1m1 16v1m1 20v1m2 43v2m0-4v1m0-42v1m1 13v1m1-15v1m0-4v1m0-27v1m1 71v2m1-38v1m0-55v1m1 49v1m0-53v1m1 38v1m1-5v1m0-11v1m1 37v1m2 13v1m1 14v1m0-75v1m1-2v1m1 45v1m0-20v1m0-36v1m1 23v1m0-25v1m5 54v1m1 20v1m0-60v1m1 33v1m1 17v1m1-13v1m0-55v1m1 76v1m1-24v1m0-13v1m0-12v1m0-22v1m2 43v1m1 26v1m1-31v1m1 18v1m0-84v1m1 89v1m0-27v1m0-38v1m0-23v1m0-6v1m1 82v1m0-13v1m0-45v1m2 34v1m0-29v1m1 55v1m0-27v1m0-57v1m1-4v1m0-6v1m1 47v1m0-7v1m0-23v1m1 27v1m0-44v1m2 84v1m0-12v1m0-50v1m0-15v1m2 0v1m0-8v1m0-7v2m2 85v1m0-73v1m0-4v1m0-12v1m2 34v1m0-25v1m3 57v1m0-65v1m2 49v1m0-3v1m1-30v1m2 51v1m1 2v2m2-79v1m2-13v1m1 68v1m0-45v1m0-7v1m0-7v1m0-8v1m2 71v2m1 19v1m0-3v1m0-49v1m0-20v1m0-28v1m2-3v1m1 27v1m1 63v1m1-6v1m0-37v1m1 26v1m1 18v1m0-8v1m0-12v1m0-74v1m0-6v1m1 88v1m1-45v1m0-8v1m1 56v1m3-52v1m0-4v1m1 53v1m0-3v1m0-50v1m0-7v2m1 38v1m0-46v1m2 61v1m2-92v1m2 8v1m2-4v1m2 7v1m1 4v1m0-8v2m1 75v1m0-78v1m1 75v1m2-30v1m1-20v1m1-28v1m2 79v1m0-79v1m0-3v1m0-5v1m1-16v1m1 96v1m3-77v1m1 30v1m1 44v1m0-28v1m0-46v1m0-7v1m0-18v1m1 54v1m0-6v1m0-44v1m1 72v1m1 7v1m0-5v1m0-26v1m0-26v2m0-33v1m2 93v1m0-18v1m0-34v1m0-32v1m1 64v1m2-7v1m1 20v1m0-8v1m0-13v1m0-34v1m2 30v1m1-46v1m3 1v1m2 27v1m0-13v1m0-19v1m0-28v2m1 76v1m0-6v1m0-27v1m0-16v1m4 50v1m0-41v1m0-7v1m3 37v1m0-47v1m1 31v1m0-37v1m1 67v1m1-14v1m2 4v1m1-8v1m0-73v1m2 83v1m0-8v1m0-3v1m0-5v1m0-51v1m0-3v1m0-31v1m1 69v1m0-52v1m1 50v1m0-68v1m1 91v1m0-45v1m2 43v1m0-14v1m0-11v1m0-4v1m0-56v1m1 26v1m1 13v1m0-42v1m1 40v1m0-51v1m1 93v1m1-42v1m1 34v1m0-30v3m0-41v1m2 41v1m0-51v1m1-18v1m1 34v1m1 55v1m0-5v1m0-13v1m0-77v1m2 97v1m0-38v1m0-53v1m1 54v1m4 30v1m0-5v1m0-17v1m0-29v1m1 9v1m0-19v1m2 42v1m1 16v1m1-18v1m0-59v1m1 51v1m1 22v1m0-16v1m0-9v1m0-12v2m0-51v1m1 52v1m0-44v1m1 39v1m5 8v1m1-46v1m0-11v1m1 64v1m0-15v1m0-7v1m0-36v1m1 57v1m0-24v1m0-5v1m0-27v1m0-5v1m0-11v1m0-7v1m0-7v1m3 88v1m0-8v1m0-42v1m1 38v1m0-67v1m1 64v1m1-4v1m0-6v1m0-58v1m1 32v1m0-10v1m0-48v1m1 35v1m0-13v1m1 71v1m0-20v1m0-16v1m0-20v1m1 34v1m1-43v1m1 41v1m0-36v1m1-41v1m1 80v1m1-21v1m1 3v1"/>
<path stroke="#60fac5" d="M0.5 51v1m6 24v1m7-59v1m5-4v1m3 51v1m0-53v1m2 60v1m1-19v1m1 39v1m10 0v1m0-68v1m0-23v1m6 28v1m8 59v1m6-1v1m5-95v1m3 45v1m1 30v1m3 16v1m0-75v1m2 20v1m5 42v1m0-85v1m2 91v1m3-7v1m4-50v1m5 56v1m7-1v1m1-6v1m0-16v1m1 15v1m2-30v1m2 23v1m9-14v1m2 21v1m2-15v1m14 13v1m0-27v1m0-34v1m9 58v1m7-1v1m4-19v1m10-16v1m7 32v1m4-1v1m0-17v1m1-60v1m1-5v1m2 43v1m2-49v1m2 11v1m1 32v1m2 37v1m2-19v1m1-1v1m3 17v1m6-22v1m0-50v1m4 69v1m1-1v1m1-1v1m1-29v1"/>
<path stroke="#74feba" d="M1.5 99v1m15-1v1m9-1v1m3-1v1m2-1v1m2-76v1m1 74v1m10-1v1m5-1v1m6-1v1m5-1v1m1-1v1m11-1v1m1-1v1m10-1v1m10-1v1m0-50v1m7 48v1m7-1v1m4-1v1m0-57v1m19 55v1m22-1v1m6-1v1m3-1v1m12-1v1m4-1v1m1-1v1m5-1v1m5-12v1m1-54v1m3 63v1m2-1v1m6-1v1"/>
<path stroke="#8bfeae" d="M3.5 99v1m7-1v1m4-1v1m5-1v1m1-1v1m1-1v1m5-1v1m14-1v1m6-1v1m6-1v1m4-1v1m2-1v1m4-1v1m2-1v1m4-1v1m2-1v1m4-1v1m2-1v1m8-1v1m10-1v1m6-1v1m2-1v1m3-1v1m4-1v1m5-1v1m3-1v1m5-1v1m5-1v1m5-1v1m4-1v1m11-1v1m1-1v1m19-31v1m8 29v1m3-1v1m1-1v1m8-1v1m1-1v1"/>
<path stroke="#a0faa1" d="M5.5 58v1m2 40v1m2-14v1m2 12v1m1-89v1m6 87v1m6-1v1m3-1v1m2-1v1m3-1v1m4-1v1m3-1v1m12-1v1m5-26v1m1 24v1m6-1v1m12-1v1m3-1v1m1-1v1m1-1v1m3-1v1m2-1v1m1-1v1m3-1v1m1-61v1m1 59v1m5-1v1m5-1v1m6-1v1m4-1v1m8-1v1m1-1v1m1-1v1m1-100v1m4 98v1m5-1v1m3-1v1m1-1v1m4-1v1m7-1v1m0-28v1m4 26v1m6-1v1m3-1v1m4-1v1m1-1v1m2-1v1m1-1v1m1-1v1m0-65v1m16 63v1m5-1v1m1-1v1m4-1v1m2-51v1"/>
<path stroke="#b4f295" d="M0.5 16v1m2 69v1m0-30v1m1 12v1m2 28v1m0-66v1m6 25v1m1 38v1m0-28v1m1-44v1m2 69v1m1-98v1m2 23v1m5-11v1m1-10v1m3-6v1m5 77v1m0-55v1m2 41v1m3 4v1m1 25v1m0-9v1m0-3v1m0-34v1m0-28v1m0-4v1m3 72v1m0-74v1m0-3v1m1 74v1m0-65v1m1 27v1m1 35v1m0-66v1m1 64v1m1-8v1m1 6v1m3-1v1m2-22v1m0-66v1m1 85v1m2-100v1m4 15v1m0-11v1m2 28v1m1 55v1m3 7v1m0-29v1m0-31v1m1 57v1m1-40v1m1 21v1m0-32v1m1-7v1m3 9v1m1 43v1m0-30v1m0-53v1m1 12v1m3 17v1m1-50v1m1 18v1m3 64v1m0-6v1m5-11v1m0-4v1m2-37v1m0-4v1m1 13v1m3 15v1m0-3v1m7-22v1m2 55v1m2-27v1m0-46v1m1 25v1m1 28v1m1-58v1m1 81v1m2-92v1m1 84v1m0-3v1m0-88v1m2 94v1m3-1v1m0-57v1m2 55v1m2-5v1m4 3v1m1-1v1m1-70v1m4 68v1m0-60v1m2 5v1m0-21v1m1 72v1m1-54v1m1 21v1m2-29v1m2 7v1m0-4v1m1 53v1m1-23v1m0-62v1m1-5v1m1 86v1m0-32v1m0-60v1m4 11v1m2 77v1m0-23v1m2 4v1m1 8v1m1-82v1m2 70v1m1 5v1m1-14v1m1 24v1m1-91v1m1 84v1m0-4v1m1 7v1m1-1v1m3-78v1m1 40v1m2-16v1m1-33v1m1 75v1m0-4v1m0-27v1m1 13v1m0-4v1m0-47v1m2 1v1m6 39v1m1 3v1m1 24v1m0-55v1m1 47v1m1 5v1m0-36v1m4-20v1m1-42v1m2 44v1m2 49v1m0-20v1m0-33v1m0-13v1m3 62v1m1-94v1m1 53v1m2-31v1"/>
<path stroke="#cbe486" d="M0.5 91v1m0-36v1m0-3v1m0-45v1m0-3v1m2 21v1m1 42v1m1 25v1m1-59v1m0-4v1m1-2v1m1 16v1m0-47v1m1 90v1m0-37v1m0-21v1m0-30v1m1 73v1m0-70v1m0-3v1m1 53v1m0-3v1m2-7v1m0-4v1m2-3v1m1 5v1m0-11v1m0-29v1m1 43v1m1 28v1m0-31v1m0-6v1m0-33v1m0-16v1m1 70v1m1-68v1m0-14v1m0-3v1m1 85v1m1-37v1m0-4v1m0-4v1m0-28v1m0-16v1m0-4v1m1 60v1m0-6v1m0-42v1m0-3v1m1 80v1m1-39v1m1-11v1m1 2v1m1-23v1m1 45v1m0-35v1m1 30v1m0-15v1m0-58v1m1 17v1m1 40v1m0-39v1m0-22v1m1 61v1m0-3v1m0-36v1m1-28v1m1 68v1m0-56v1m2 4v1m0-4v1m1 66v1m0-3v1m0-8v1m1-41v1m2 57v1m1-53v1m3-6v1m1 18v1m0-20v1m2 31v1m0-37v1m0-8v1m1 24v1m2-16v1m0-8v1m2 51v1m0-50v1m0-32v1m1 24v1m1 61v1m0-4v1m1-10v1m3-2v1m1-57v1m2 79v1m1-15v1m0-66v1m1 48v1m0-36v1m0-31v1m2 19v1m1 47v1m1-71v1m1 81v1m0-32v1m1 33v1m0-71v1m1 44v1m0-3v1m1 4v1m1-16v1m0-3v1m0-14v1m1-21v1m1 51v1m1 4v1m1-27v1m0-3v1m0-5v1m1 5v1m2 41v1m0-67v1m2 53v1m1-22v1m1-55v1m1 73v1m0-32v1m0-16v1m2 62v1m1 6v1m0-43v1m1 35v1m0-53v1m1-28v1m1 84v1m1-7v1m0-26v1m0-49v1m3 65v1m0-4v1m0-19v1m0-3v1m2-5v1m0-14v1m0-14v1m0-24v1m1 60v1m1-2v1m1 7v1m0-35v1m1 11v1m1-55v1m2 49v1m0-49v1m1 16v1m1 25v1m0-7v1m1 55v1m0-27v1m0-30v1m0-3v1m2 37v1m1 14v1m1-38v1m0-10v1m1-12v1m0-8v1m1 53v1m0-72v1m1 61v1m0-3v1m0-9v1m1-8v1m1-52v1m1 65v1m0-28v1m0-14v1m3 20v1m0-4v1m1-2v1m0-24v1m0-18v1m1 11v1m1-19v1m1 46v1m0-3v1m0-14v1m0-3v1m0-29v1m0-3v1m1 80v1m0-4v1m1-27v1m1-2v1m0-23v1m1 22v1m0-34v1m2 42v1m0-4v1m0-46v1m0-9v1m1 80v1m0-3v1m1-25v1m0-3v1m0-43v1m0-3v1m1 24v1m0-12v1m1 32v1m0-21v1m2-22v1m0-3v1m1 12v1m1 21v1m0-4v1m0-17v1m3 42v1m1 17v1m0-82v1m1 27v1m1 38v1m0-8v1m0-8v1m0-14v1m0-18v1m1 44v1m0-3v1m0-24v1m1-50v1m1 61v1m1-40v1m0-18v1m1 38v1m1-44v1m0-4v1m1 60v1m0-3v1m0-8v1m0-26v1m0-11v1m1 43v1m1 21v1m0-49v1m0-9v1m0-4v1m1 14v1m0-44v1m1 19v1m1 71v1m0-17v1m3-8v1m0-4v1m0-42v1m1-6v1m1 54v1m0-56v1m1-7v1m1 73v1m0-56v1m1 22v1m3-26v1m0-38v1m1 76v1m1 1v1m0-30v1m1-18v1m0-4v1m1 41v1m0-9v1m0-11v1m1 43v1m1-56v1m1 29v1m0-26v1m0-7v1m0-4v1m1 58v1m0-56v1m0-35v1m0-3v1m1 3v1m1 63v1m0-75v1m1 49v1m0-3v1m1 12v1m2 26v1m2 4v1m1-70v1m1 42v1m0-66v1m1 83v1m0-3v1m1-72v1m1 65v1m0-57v1m1 36v1m0-10v1m1 0v1m0-3v1m0-40v1m1 61v1m1 13v1m1-8v1m1-15v1m1-13v1m0-3v1m1-14v1m0-3v1m4 21v1"/>
<path stroke="#e0d377" d="M0.5 70v1m1 22v1m0-89v1m1 27v1m1 6v1m1-28v1m0-4v1m0-4v1m2 41v1m1-15v1m2 21v1m0-7v1m1 12v1m0-35v1m1 31v1m0-19v1m0-34v1m2 87v1m0-24v1m1-22v1m0-9v1m1 13v1m0-38v1m1 43v1m0-64v1m1 78v1m0-14v1m1 19v1m1-15v1m0-14v1m2-40v1m1 73v1m1-53v1m1 11v1m0-25v1m1 38v1m0-22v1m1-9v1m0-4v1m1 45v1m0-12v1m1-37v1m0-22v1m0-10v1m1-10v1m1 69v1m1 26v1m1-18v1m0-7v1m1-52v1m0-3v1m1-1v1m1 56v1m2 18v1m0-34v1m1 17v1m0-4v1m0-28v1m1-34v1m0-18v1m0-4v1m1 67v1m1-30v1m0-34v1m1 84v1m2-19v1m1-17v1m0-25v1m1-29v1m1 23v1m1 33v1m0-6v1m0-7v1m1 18v1m0-66v1m1 25v1m3 61v1m0-43v1m0-4v1m0-45v1m1 57v1m0-65v1m1 54v1m0-28v1m0-26v1m1 8v1m1 74v1m0-10v1m0-34v1m1 32v1m0-59v1m0-15v1m1 54v1m2 5v1m1-26v1m1 23v1m0-31v1m0-31v1m2 72v1m0-41v1m0-19v1m1 57v1m0-10v1m2-33v1m0-8v1m0-27v1m1 63v1m3-38v1m1 42v1m0-65v1m0-11v1m1 81v1m0-15v1m0-37v1m1 46v1m0-75v1m1 6v1m1 15v1m1 0v1m0-4v1m0-17v1m0-3v1m2 79v1m0-13v1m0-65v1m1-6v1m1 7v1m1 16v1m1 39v1m0-11v1m0-57v1m1 84v1m0-51v1m0-3v1m0-16v1m0-3v1m1 23v1m0-41v1m2 87v1m1-85v1m1 75v1m1-10v1m0-32v1m0-25v1m1 58v1m0-5v1m0-43v1m1 62v1m0-98v1m1 7v1m1-1v1m1 62v1m0-3v1m0-28v1m0-14v1m1 67v1m1-45v1m0-19v1m1 37v1m0-30v1m1 29v1m0-46v1m0-20v1m1 47v1m2-30v1m0-3v1m1 69v1m0-6v1m0-9v1m1-16v1m0-26v1m0-36v1m2 63v1m1 12v1m0-81v1m0-3v1m1 40v1m1-43v1m1 5v1m1 73v1m1-16v1m1 23v1m0-20v1m0-4v1m1-42v1m1-30v1m1 85v1m0-14v1m1-38v1m2 40v1m0-3v1m0-26v1m2 42v1m0-74v1m1 76v1m0-80v1m0-11v1m1 84v1m0-82v1m1-10v1m2 19v1m1 63v1m0-73v1m0-15v1m0-3v1m1 87v1m0-3v1m0-41v1m1-9v1m1 52v1m0-86v1m1 60v1m1-38v1m0-32v1m1 43v1m0-43v1m1 29v1m1 35v1m0-19v1m1 19v1m0-28v1m0-15v1m0-15v1m2 16v1m0-3v1m2-2v1m0-3v1m1 71v1m0-91v1m1 5v1m1 36v1m0-22v1m1 67v1m0-60v1m1 47v1m1 7v1m0-60v1m0-38v1m1 54v1m1-49v1m0-3v1m1 76v1m0-4v1m0-20v1m0-55v1m1 37v1m0-3v1m0-30v1m2 64v1m0-5v1m1 24v1m0-50v1m1 23v1m0-32v1m1 32v1m1-33v1m0-3v1m0-40v1m2 66v1m0-60v1m1 73v1m0-78v1m1 65v1m1-6v1m1-10v1m0-37v1m0-11v1m2 40v1m0-4v1m1 12v1m0-21v1m0-11v1m0-14v1m1 12v1m1 41v1m0-42v1m3-11v1m0-17v1m1 45v1m1-30v1m2-7v1m1 44v1m0-42v1m1 9v1m2-21v1m2 35v1m0-9v1m1 26v1m0-58v1m1 39v1m0-8v1m0-19v1m1 18v1m1-43v1m1 53v1m0-17v1m2 2v1m1-32v1m1 56v1m0-30v1m0-26v1m1 67v1m0-74v1m1 80v1m0-56v1m1 42v1m0-4v1m0-49v1m2-22v1m1 81v1m0-18v1m0-24v1m0-45v1m1 67v1m0-33v1m1 21v1m0-15v1m0-20v1m0-4v1m0-4v1m0-7v1m0-3v1m0-13v1m0-4v1m1 46v1m0-43v1"/>
<path stroke="#f4c069" d="M0.5 99v1m0-5v1m0-6v1m0-77v2m1 79v1m0-81v1m1-9v1m1 83v1m0-4v1m0-85v1m1 7v1m1 46v1m0-28v1m2 22v1m0-19v1m0-27v1m1 32v1m1 42v1m0-28v1m1-48v1m1 32v1m1-1v1m3-41v1m0-4v1m1 65v1m1-5v2m0-52v2m2 44v1m0-10v1m0-34v1m1 70v1m0-53v1m2 14v1m0-3v1m2 37v1m1-17v1m0-7v1m1-13v1m1 1v1m0-38v1m0-20v1m1 78v1m2-56v1m1-2v1m0-23v1m1 53v1m0-4v1m0-27v1m1-27v1m1 58v1m0-26v1m0-18v1m1 47v1m0-18v1m2 15v1m1 24v1m0-47v1m1 45v1m1-73v1m1 6v1m1 11v1m0-18v1m1 44v1m0-35v1m1 3v1m1-1v1m1 32v1m0-18v1m1 16v1m0-17v1m1 38v1m3-36v1m2 20v1m1-11v1m1 7v1m0-34v1m1 32v1m0-61v1m1 31v1m1 29v1m1-61v2m0-19v1m1 72v1m1-40v1m1 57v1m0-6v1m0-66v1m2-23v1m1 80v1m0-42v1m0-29v1m2-8v1m1 77v1m0-45v1m1 46v1m0-21v1m0-31v2m0-20v1m1 42v1m0-15v1m2 49v1m1-29v1m0-70v1m1 81v1m2-38v1m0-14v1m0-21v1m1 86v1m0-53v1m2 38v1m0-45v1m0-4v1m0-19v1m1 35v1m0-42v1m1 57v1m1-22v1m1-19v1m1 38v1m2-66v1m1 6v1m1 6v1m1-12v1m1 77v1m2-10v1m0-6v1m2-69v1m3 29v1m1 37v1m0-71v1m0-4v1m1 27v1m1 25v2m0-26v1m1-2v1m0-3v1m2 23v1m1 42v1m0-36v1m0-51v1m1 27v1m1 31v1m0-32v1m0-15v1m0-14v1m1 0v2m4 11v1m2 47v1m2 1v1m0-72v1m1 21v1m2 59v1m1-42v1m1 9v1m0-4v1m0-27v1m2 63v1m0-29v1m0-4v1m0-61v1m1 15v1m1-6v1m1-6v1m3 65v1m1-31v1m0-38v1m1 30v1m2 6v1m1 20v1m2-38v1m1 58v1m1-62v1m1 67v1m1-50v2m2-20v1m0-12v1m1 31v1m1 33v1m0-15v1m0-58v1m1 50v1m1-21v1m0-40v1m2 41v1m0-45v1m1 82v1m1-7v1m0-74v1m2 62v1m0-56v1m1 55v1m1 0v1m0-21v1m0-44v2m1 37v1m0-20v1m1 16v1m1 39v1m0-79v1m0-3v1m1 37v1m2 14v1m1-35v1m1 48v1m0-52v1m1 48v1m2-60v1m2 72v1m0-86v1m1 37v1m1 50v1m0-12v1m0-29v1m2 40v1m0-35v1m1 17v1m0-37v1m0-3v1m1 16v1m0-10v1m1 33v1m0-68v1m1 34v1m1-35v1m1 60v1m3-62v1m1 6v1m1 47v1m0-4v1m0-14v2m2 28v1m0-20v1m0-13v1m1 18v1m1 28v1m0-74v1m0-24v1m1 8v1m1 65v1m0-51v1m1-4v1m0-23v1m2 69v1m0-33v2m1-32v1m1 76v1m0-39v1m1 15v1m0-39v1m3-22v1m1 51v1m2 2v1"/>
<path stroke="#ffa759" d="M0.5 89v1m0-22v1m2 30v1m0-16v2m0-27v1m0-28v1m1 56v1m0-19v1m0-33v1m1-29v1m0-6v1m1 32v2m0-8v1m1 2v1m1 47v1m0-49v1m1 40v1m0-65v1m1 45v1m0-42v1m1 51v1m0-57v1m2 58v2m0-14v1m0-15v1m0-36v1m1 64v1m0-13v1m0-38v1m1 28v1m0-12v1m0-24v1m1 68v1m0-31v2m0-39v1m1-23v2m2 63v1m0-42v2m1 47v1m0-70v1m2 43v2m0-47v1m2 41v1m0-35v2m2 36v1m0-27v2m1 28v1m1 29v1m0-60v1m0-28v1m1 11v1m1 61v1m0-30v2m2 14v1m0-39v1m0-21v1m1 38v2m0-16v1m2 40v2m1-24v1m1-9v1m1 44v1m0-11v2m1-21v1m0-19v1m0-11v2m1-27v1m2 46v1m0-44v1m1 29v1m1 27v1m0-36v1m1 59v2m0-55v1m1 20v1m0-22v1m1 56v1m0-44v1m0-43v1m1 16v1m1 64v1m0-33v1m0-7v1m1 20v2m1-40v1m0-6v1m2 49v1m0-69v1m0-13v1m1 95v2m0-23v1m0-25v1m0-28v1m1 61v2m0-22v1m1-10v1m0-17v1m0-15v1m0-27v2m1 73v1m0-6v1m1 14v1m0-11v1m0-31v1m1-40v1m1 54v1m0-56v1m2 35v1m0-11v1m1 52v1m0-46v1m1 25v1m0-25v1m0-9v1m0-31v1m1-5v1m1 78v1m2-20v1m0-59v2m1 62v1m0-16v1m0-13v1m0-12v2m0-9v1m0-19v1m1 39v1m2 22v1m0-26v1m1 39v1m0-27v1m0-8v1m1-33v1m1 50v1m1 12v1m1-49v1m0-23v1m1 85v1m0-50v1m1 22v2m1 14v1m0-68v1m2-12v1m1 75v1m0-9v1m0-24v1m0-38v1m2 27v2m0-38v1m1 83v1m0-53v1m1 3v2m1 21v1m1-29v1m1-13v1m0-16v1m1 26v1m0-14v2m1 48v1m0-12v2m0-22v1m2 30v1m0-22v1m0-56v1m1 82v1m0-21v1m2 7v1m0-65v1m1 63v1m0-34v1m1 37v1m0-7v1m0-36v1m0-32v1m1 71v1m0-33v1m1-14v1m1 28v1m0-59v2m1 86v1m0-44v1m1-44v2m1 77v2m0-23v1m0-14v1m2 22v1m1 2v2m0-54v1m1 62v1m0-81v1m1 83v1m1-46v1m0-41v2m1 84v1m0-66v1m0-16v1m0-10v1m1 80v1m0-14v2m0-45v2m1 45v1m0-14v2m1 31v1m2-52v1m1 45v1m0-18v1m0-10v1m1 23v1m0-36v1m1 11v1m1 30v1m0-19v1m0-22v1m0-7v1m0-45v2m1 10v1m1 28v2m0-29v1m0-21v1m1 47v1m0-31v1m0-11v1m0-6v1m1 89v1m0-83v1m1 43v1m0-50v1m1 23v1m1 22v1m0-32v2m1 62v2m0-13v1m0-10v1m0-66v1m1 85v1m0-26v1m0-31v2m0-19v1m1 43v2m0-56v2m1 87v1m0-23v1m0-55v1m1 49v1m0-26v1m0-20v1m1 17v2m0-34v1m1 33v1m0-46v2m1 67v1m0-47v1m1 27v1m0-16v2m1 30v2m0-14v1m0-16v1m0-6v1m0-21v2m1-7v1m1 19v1m0-29v2m2 73v1m1-69v2m1 65v1m0-8v1m0-14v1m0-15v1m0-10v1m0-22v2m0-5v1m1 74v1m2-13v1m0-11v1m1-28v1m0-18v2m0-20v1m1 54v1m0-57v2m1 76v1m0-24v1m1 15v1m0-10v1m0-36v1m1 53v1m1 10v1m0-49v2m0-10v2m1 61v1m0-23v1m0-26v1m1 1v2m1 17v1m0-43v1m1 54v1m0-12v1m0-57v1m2 54v1m0-45v2m1 39v2m0-14v1m1 32v2m0-11v1m0-59v1m1 46v1m1-34v1m1 22v1m0-41v2m2 30v1m0-32v2m1 19v1m0-8v1m1-2v1m1 42v1m0-31v1m1-18v1m0-18v1m1 74v1m0-27v1m1 11v1m0-41v1m0-10v1m2 14v1m0-15v2m1 11v1m0-33v1m1 21v1m1-9v2m1 26v1m2 17v1m0-22v1m1 42v1m0-19v1m1-30v1m1 49v1m1-12v1m0-36v1m1-4v1m1-42v1m1 55v2m0-18v2m0-44v1m1 88v1m1-40v1m0-6v1m0-37v1m0-10v1m1 50v1m1 20v1m0-25v1m0-32v1m1 2v1m1 58v1m0-33v1m1 30v2m0-15v1m1-13v1m1-16v1m1 50v1m0-42v2m2-21v2m0-7v1m0-22v2m1 85v1m0-21v1m0-10v1"/>
<path stroke="#ff8c49" d="M0.5 96v1m0-28v1m0-15v1m0-47v1m1 84v1m0-79v1m0-13v1m1 53v1m0-28v1m1 58v1m0-19v1m0-35v1m0-34v2m4 76v1m0-75v1m1 52v1m1-5v1m0-9v1m1 12v1m0-35v1m1 31v1m0-17v1m0-34v1m1 49v1m2-7v1m1 36v1m0-39v1m0-52v2m2 77v1m0-14v1m0-38v2m1 54v2m1-16v1m0-14v2m0-44v1m1 70v1m0-55v1m1 27v2m0-9v1m0-35v1m0-18v1m1 59v2m0-10v2m0-9v1m0-34v1m1 29v1m1 40v2m0-56v1m0-31v1m1 58v2m1-24v2m1 42v1m0-10v1m0-23v1m0-29v1m0-10v1m1 59v1m0-27v1m0-11v1m0-22v1m1 36v1m0-57v1m1 19v2m1 37v1m1 18v1m0-7v1m0-11v1m0-12v2m1-32v1m1 36v2m0-29v1m0-11v1m0-8v1m1 49v2m0-21v1m1-11v1m0-19v1m1 43v1m1 17v2m0-21v1m0-19v1m1 42v2m0-23v1m0-48v1m1 74v1m0-73v1m0-7v1m1 23v1m1 49v1m0-73v1m3 33v1m0-25v2m1-24v1m1 23v2m1 33v1m1-59v1m1 25v1m1 51v2m0-31v1m1 21v1m0-49v1m1 44v1m0-25v1m0-28v1m0-18v1m1 56v1m1-10v1m1 37v2m0-12v2m2-10v1m0-56v1m3 44v1m1-7v2m0-41v1m1 46v1m0-27v1m1-41v1m1 66v2m0-49v1m1 57v1m0-10v1m1-30v2m1-21v1m1 43v2m1-23v1m0-28v1m0-20v1m1 65v1m0-26v1m1 54v1m0-17v1m0-48v2m1 41v1m0-61v1m0-5v1m1 68v1m0-50v1m1 37v2m0-68v2m1 54v2m0-24v1m1 57v1m0-69v1m1-1v2m0-20v1m1 29v1m1 49v1m0-13v1m0-21v1m0-45v2m1 59v1m0-6v1m1 7v1m1-45v1m0-35v1m1 60v1m0-32v1m0-23v1m1 85v1m1-4v1m0-84v1m1 58v1m0-9v1m1 34v1m0-24v2m0-34v1m0-15v1m1 3v1m1 59v1m1 4v1m0-74v1m1 55v1m0-13v1m0-31v1m1 42v1m1 6v1m0-77v1m1-2v1m1 36v1m0-14v1m0-24v1m2 47v1m0-54v1m1 71v1m0-45v2m1 52v2m0-14v2m0-39v1m0-27v1m1 19v1m2 31v2m0-12v1m0-24v1m1 64v2m0-46v1m0-9v2m0-25v1m1 51v1m0-63v1m1 84v2m0-81v1m2 69v1m0-8v2m1 11v1m0-92v1m1 55v1m0-13v1m1-12v2m1-23v1m1 57v1m0-27v1m1 28v1m0-17v2m1 19v2m0-49v1m0-25v1m1 62v1m0-42v2m0-31v1m1 87v1m0-16v1m0-10v1m0-60v1m1 32v1m0-35v1m1 58v1m0-14v2m1 8v1m0-6v1m0-7v1m0-24v2m1-9v1m1 73v1m0-32v1m1 7v2m0-39v1m1 47v2m1-78v1m1 48v1m2 19v1m0-61v2m1 47v1m0-19v1m0-39v1m2 84v1m0-22v1m0-67v1m1 26v2m0-11v1m1 4v2m2-1v2m1 54v1m0-18v1m1-15v1m0-14v1m0-6v1m0-10v1m1 68v1m0-86v1m2 67v1m0-69v1m1 66v1m1-4v1m0-30v1m1-6v1m0-10v1m1 28v1m0-6v1m0-26v2m1 8v1m0-30v1m0-9v1m1 83v1m1 5v1m0-51v1m0-20v1m1 57v1m1-73v2m1 66v2m0-21v1m0-25v1m0-34v2m1 37v1m1 52v2m0-5v1m0-23v1m1 0v2m1-26v2m1 32v1m0-11v1m0-41v1m1-27v1m1 69v1m0-75v1m1 72v1m1 4v1m0-56v1m0-16v1m1 73v1m0-59v1m2 69v2m0-28v1m1-10v1m0-47v1m1-2v1m1 38v1m1 32v1m0-51v1m0-17v2m1 57v2m1 10v1m1-59v1m1 37v2m0-17v1m1-14v1m0-4v1m0-33v2m1 45v1m1 40v2m0-20v1m0-7v2m0-27v2m0-8v1m0-29v1m1 31v1m1-26v1m1 54v1m0-11v1m0-63v2m1 31v1m1 27v1m1 3v1m0-22v1m0-34v1m1 77v1m0-21v1m0-55v2m1 47v1m1 1v1m1-18v1m0-6v1m0-21v1m1 18v1m0-42v1m1 81v1m0-61v1m1-15v2m0-14v1m1 90v1m0-14v2m0-35v1m0-6v1m0-16v2m1 54v2m0-21v1m0-41v2m1-11v1m2 72v1m0-76v1m1 82v1m0-9v1m0-51v2m1-7v2m2 32v1m0-56v1m2 65v1m0-35v1m0-11v1m1 17v1m0-32v1m1 52v1m0-24v1m0-20v1"/>
<path stroke="#ff703a" d="M1.5 3v1m6 6v1m2 38v1m4 28v1m4 3v1m2-32v1m2 5v1m3 2v1m0-40v1m3 33v1m0-23v1m1 8v1m0-22v1m1 38v1m1 12v2m1-24v1m4 29v1m1-63v1m2 44v1m1-62v1m1 92v1m0-29v1m0-53v1m4 56v1m3-23v1m1 13v1m3-49v1m2-11v1m3 5v2m1 62v1m3-56v1m5 0v1m1 62v1m6-6v1m4-43v1m3 1v1m2 29v1m3-41v1m1-8v1m2 33v1m1-35v1m2 63v1m1-67v1m4-14v1m1 48v1m2-3v1m6-46v1m2 13v2m0-12v1m3 32v1m3-35v1m2 58v1m1-41v1m1 36v1m0-71v1m1 6v1m5 56v1m7-20v1m1 43v1m0-15v1m1 18v1m0-32v1m2-63v2m3 84v1m2 8v1m4-20v1m0-30v1m1 35v1m1-34v1m1-11v1m0-28v1m6 55v2m1 0v1m3-29v1m1 47v1m1-18v1m0-17v1m2-34v1m1-18v1m1 81v1m3-79v1m2 50v1m1-28v1m1 52v1m5-14v1m1-32v1m2 17v1m5 1v1m1-13v1m0-43v1m3 55v1m0-20v1m0-22v1m6 59v1m4-24v1m1 10v2m2-11v1m1-58v2"/>
<path stroke="#ff5029" d="M43.5 30v1m41 31v1m40 30v1"/>
</g>
<g transform="translate(50.30 222.00) scale(2.9415 1.7340)" fill="none" stroke-width="1">
<rect x="0" y="0" width="200" height="100" fill="#0ca7ef"/>
<path stroke="#7610ff" d="M15.5 26v1m37 6v1m8 49v1m3-63v1m7 25v1m5 27v1m7 2v1m16-26v1m3-17v1m8 33v1m0-21v1m11 19v1m0-48v1m27 26v1m19-42v1m13 7v1"/>
<path stroke="#6032fe" d="M0.5 62v1m5 13v1m1-77v1m1 32v1m0-20v1m1 59v1m1-33v1m2 22v1m1-17v1m0-37v1m1 16v1m1-29v1m2 89v1m0-29v1m1-18v1m2-24v1m1 33v1m0-49v1m1 50v1m1 5v1m0-36v1m1-27v1m1 9v1m2 62v1m1 6v1m2-52v1m1 61v1m1-26v1m1-9v1m1-5v1m0-27v1m0-22v1m0-5v1m1 48v1m0-14v1m0-22v1m4 16v1m1-10v1m5 43v1m0-51v1m0-21v1m5 50v1m2 5v1m0-6v1m0-17v1m1 34v1m0-70v1m2 69v1m1-45v1m1 63v1m1-23v1m0-27v1m2-4v1m1 34v1m0-23v1m0-25v1m3-37v1m1 87v1m0-46v1m2-10v1m2 35v1m1 21v1m3-30v1m3-7v1m1 30v1m1-22v1m0-20v1m0-43v1m2 70v1m0-20v1m1 30v1m0-5v1m1-86v1m1 94v1m1-55v1m2-9v1m1-26v1m3 82v1m0-68v1m1 43v1m1 3v1m0-46v1m0-9v1m4 36v1m2-19v1m3-24v1m0-8v1m1 25v1m2 34v1m1-36v1m2-4v2m2-19v1m1 57v1m0-13v1m1 26v1m1-1v1m1-73v1m1 17v1m2 12v1m2-44v1m1 36v1m2 55v1m3-4v1m3-36v2m1-34v1m7 48v1m7 15v1m0-49v1m2-11v1m2 11v1m1 0v1m2-31v1m3 32v1m2 48v1m0-8v1m0-49v1m2 32v1m3-47v1m0-22v1m13 34v1m2-20v1m2 72v1m10-29v1m2 20v1m4-81v1m6 44v1"/>
<path stroke="#4c50fc" d="M0.5 88v3m0-5v1m0-23v1m0-6v1m0-12v1m0-24v5m0-20v1m1 60v1m0-5v2m0-11v2m0-23v2m0-16v1m0-18v4m1 70v2m0-46v1m0-14v1m0-11v4m1 69v1m0-27v1m0-3v1m0-32v1m1 37v5m0-19v1m0-17v1m0-6v1m0-15v1m1 79v1m0-4v1m0-15v1m0-3v1m0-29v2m0-14v2m0-15v3m0-17v2m0-4v1m0-4v2m1 85v1m0-5v2m0-33v2m0-5v2m0-43v1m0-13v1m1 90v5m0-14v1m0-21v1m0-12v2m0-4v1m0-13v1m0-3v1m0-5v1m0-6v2m0-5v2m0-11v2m1 79v1m0-7v5m0-20v2m0-7v4m0-25v1m0-13v2m0-8v1m1 53v1m0-42v1m0-4v1m0-29v1m0-5v2m0-5v2m1 74v2m0-4v1m0-15v3m0-14v1m0-43v2m0-4v1m0-12v1m1 55v1m0-20v1m0-26v1m1 81v1m0-4v2m0-45v1m0-23v4m0-14v1m0-6v1m0-3v1m1 86v1m0-24v2m0-49v1m0-4v1m0-4v2m1 20v1m0-28v1m0-13v1m0-3v1m1 93v2m0-4v1m0-12v2m0-9v2m0-31v6m0-16v2m0-13v1m0-23v1m1 89v1m0-29v5m0-67v1m0-3v1m1 87v1m0-11v6m0-23v2m0-33v1m1 57v1m0-16v3m0-38v2m0-28v2m0-4v1m1 77v1m0-51v1m0-12v1m0-4v2m0-22v1m0-6v1m1 73v3m0-6v2m0-17v2m0-19v1m0-17v4m0-16v2m0-5v1m1 88v1m0-7v3m0-12v1m0-28v3m0-5v1m0-13v1m0-10v3m0-18v4m0-19v4m1 90v2m0-16v3m0-6v2m0-13v2m0-6v3m0-34v1m0-4v2m0-18v1m0-3v1m1 43v2m0-23v3m1 54v2m0-50v3m0-29v1m0-5v2m0-13v2m0-4v1m1 94v1m0-15v2m0-16v1m0-4v2m0-43v1m0-3v1m0-4v1m1 60v3m0-5v1m0-39v2m0-4v1m0-33v4m1 84v1m0-10v1m0-6v1m0-11v1m0-21v2m0-6v2m0-11v1m0-11v2m0-6v3m0-13v1m0-3v1m0-10v1m0-3v1m1 89v1m0-3v1m0-49v5m0-26v1m1 76v1m0-7v1m0-35v1m0-7v5m0-17v3m0-5v1m0-15v2m1 72v1m0-20v5m0-17v2m0-13v1m0-29v1m0-10v7m0-17v1m1 75v1m0-25v1m0-15v2m0-5v2m0-10v1m0-22v7m1 76v2m0-6v3m0-12v1m0-8v6m0-17v1m0-5v3m0-48v1m0-16v2m1 91v1m0-4v1m0-7v1m0-25v1m0-17v1m0-15v1m0-15v2m0-12v2m0-5v1m1 91v1m0-16v1m0-47v1m0-11v1m0-8v4m1 70v2m0-25v2m0-4v1m0-15v2m0-4v1m1 44v1m0-3v1m0-4v2m0-30v3m0-5v1m0-17v1m0-35v1m0-6v4m1 86v1m0-19v1m0-11v3m0-21v1m0-10v1m0-16v4m0-6v1m0-25v3m1 63v3m0-16v1m0-4v2m0-20v2m0-11v2m1 70v2m0-27v2m0-38v1m0-6v2m0-5v2m0-13v1m0-12v1m1 85v1m0-41v1m0-4v2m0-13v2m0-5v2m0-26v1m0-4v1m0-4v1m1 91v1m0-5v3m0-26v3m0-33v1m0-3v1m1 38v1m0-50v5m1 46v1m0-13v1m0-3v1m0-23v1m0-15v1m0-3v1m0-22v5m1 69v4m0-17v3m0-7v1m0-35v3m0-5v1m0-23v2m1 87v1m0-3v1m0-51v1m0-5v3m0-26v1m0-6v2m0-4v1m0-3v1m1 80v3m0-22v2m0-24v1m0-3v1m0-20v1m0-20v2m1 89v1m0-3v1m0-4v1m0-12v1m0-34v2m0-5v2m0-23v5m0-19v2m1 86v1m0-25v5m0-38v3m0-6v2m1 60v1m0-44v1m0-7v4m0-22v1m0-5v3m0-14v1m0-5v3m0-15v2m1 96v1m0-4v2m0-33v3m0-54v4m1 81v1m0-29v4m0-12v1m0-6v1m0-12v2m0-5v1m0-41v1m0-3v1m1 92v1m0-3v1m0-20v2m0-20v1m0-8v1m0-3v1m0-11v1m0-11v1m1 54v2m0-11v2m0-69v1m1 70v2m0-11v1m0-12v1m0-4v1m1 36v5m0-23v1m0-33v1m0-4v1m0-5v1m0-9v2m0-25v2m1 67v1m0-3v1m0-27v3m0-14v1m0-10v1m0-4v2m0-4v1m1 56v1m0-13v4m0-16v1m0-17v2m0-26v4m1 45v1m0-20v2m0-4v1m0-14v1m0-6v1m0-18v3m1 86v1m0-7v3m0-29v3m0-16v1m0-4v1m0-14v2m0-4v1m0-17v3m1 74v1m0-31v4m0-6v1m0-16v2m0-17v1m0-4v2m0-8v1m0-6v1m1 78v3m0-15v1m0-5v3m0-31v1m0-37v7m0-20v1m1 77v1m0-5v3m0-22v2m0-18v2m1 54v2m0-6v2m0-14v1m0-3v1m0-3v1m0-4v2m1 7v4m0-23v1m0-18v2m0-4v1m0-4v2m0-16v1m0-16v5m0-17v3m1 93v1m0-11v1m0-16v1m0-6v2m0-17v2m0-15v5m0-20v2m1 70v1m0-4v1m0-81v4m1 48v2m0-4v1m0-4v2m0-10v1m0-15v3m0-21v3m0-18v1m0-3v1m1 72v1m0-9v2m0-4v1m0-56v2m0-5v2m1 81v2m0-21v1m0-13v1m0-15v1m0-4v2m0-36v1m1 71v1m0-24v3m0-12v1m0-28v1m1 74v1m0-6v2m0-25v1m0-7v3m0-32v4m0-17v1m0-12v4m0-7v1m1 79v4m0-6v1m0-33v3m0-6v2m0-17v6m1 56v1m0-5v3m0-6v2m0-13v1m0-5v1m0-3v1m0-15v2m0-9v1m0-7v3m0-27v1m0-16v1m1 87v2m0-32v1m0-25v1m0-4v2m0-21v3m1 53v1m0-16v1m0-20v2m0-18v1m0-5v1m0-9v5m1 75v1m0-3v1m0-5v2m0-38v3m0-6v2m0-14v1m0-5v3m0-19v1m0-3v1m0-7v5m1 74v2m0-5v1m0-16v1m0-54v2m0-9v1m1 78v2m0-17v3m0-12v1m0-4v1m0-7v4m0-18v1m0-4v2m0-13v2m0-18v2m0-6v1m1 82v1m0-3v1m0-61v2m0-20v1m0-7v2m0-4v1m1 55v1m0-5v1m0-45v1m0-8v2m1 75v1m0-3v1m0-8v2m0-11v1m0-15v3m0-6v2m0-16v1m0-14v2m0-4v1m0-3v1m0-13v1m1 94v1m0-40v2m0-4v1m0-29v1m0-26v4m0-6v1m1 58v1m0-3v1m0-19v2m0-5v1m0-14v2m1 64v2m0-4v1m0-18v2m0-4v1m0-25v1m0-31v1m1 81v2m0-21v1m0-4v1m0-24v1m0-18v4m1 58v1m0-7v2m0-12v2m0-34v1m0-13v2m0-18v1m0-12v1m0-4v2m0-4v1m1 62v2m0-14v2m0-21v2m0-5v2m1 49v1m0-32v4m0-25v1m0-7v1m0-14v4m1 76v2m0-5v1m0-24v2m0-4v1m0-20v3m0-21v1m0-3v1m1 55v1m0-5v2m0-11v1m0-4v2m0-4v1m0-9v1m0-12v2m0-28v1m0-18v3m1 88v1m0-24v2m0-12v1m0-11v1m0-23v3m0-16v1m1 44v3m0-18v1m0-3v1m0-4v2m0-27v1m0-3v1m0-14v1m1 83v6m0-15v1m0-6v4m0-18v1m0-12v1m0-7v2m1 46v4m0-6v1m0-37v1m0-3v1m0-18v1m1 60v2m0-4v1m0-16v1m0-8v2m0-16v1m0-3v1m0-22v1m0-19v1m0-5v3m1 81v2m0-22v2m0-14v2m0-24v1m0-6v3m0-20v2m0-17v1m1 58v1m0-3v1m0-29v1m0-4v2m1 37v3m0-7v3m0-26v3m1 40v1m0-22v1m0-9v1m0-10v4m0-18v1m0-4v1m0-26v2m0-4v1m1 63v3m0-6v2m0-10v1m0-6v1m0-17v2m0-23v4m1 82v2m0-7v2m0-18v2m0-14v2m0-34v2m0-5v1m0-25v1m0-3v1m1 76v2m0-21v1m1 13v1m0-6v1m0-4v2m0-12v1m0-15v2m0-13v1m0-14v1m1 77v1m0-4v2m0-43v3m0-18v1m0-3v1m0-28v2m1 50v1m0-6v1m0-6v3m0-45v1m0-4v1m1 88v2m0-6v3m0-15v3m0-17v1m0-11v1m0-17v2m1 32v4m0-32v2m0-4v1m0-13v3m1 58v4m0-20v1m0-14v2m0-5v2m0-26v2m1 54v4m0-6v1m0-13v1m0-9v1m0-39v2m0-17v2m0-19v2m1 84v1m0-13v1m0-28v1m0-12v2m0-7v3m0-17v1m0-7v1m1 85v1m0-3v1m0-15v1m0-39v3m0-7v2m0-24v2m1 56v1m0-5v1m0-5v1m0-17v1m0-22v1m0-3v1m0-13v2m0-4v1m1 70v7m0-17v1m0-7v1m0-18v1m0-6v1m0-16v1m1 62v1m0-33v3m0-6v1m0-10v1m0-8v2m0-12v1m0-19v4m0-7v1m1 76v1m0-4v2m0-12v1m0-4v2m0-4v1m0-22v1m0-5v2m0-22v1m0-9v3m1 35v6m0-23v4m0-26v5m1 68v1m0-14v1m0-9v2m0-44v2m0-25v1m1 90v1m0-9v1m0-23v2m0-9v1m0-39v7m0-17v1m0-3v1m0-3v1m1 79v1m0-5v1m0-19v1m0-49v4m1 76v2m0-15v3m0-14v1m0-5v2m0-4v1m0-13v1m0-37v1m0-7v5m1 78v1m0-12v3m0-6v1m0-18v2m1-19v1m0-14v2m0-16v1m0-3v1m0-12v1m1 80v2m0-16v2m0-31v1m0-4v2m0-13v3m0-31v2m1 84v1m0-3v1m0-6v1m0-52v1m0-32v1m1 91v1m0-46v1m0-43v2m1 46v2m0-25v1m0-8v4m0-28v1m1 78v2m0-9v1m0-12v2m0-11v4m0-32v1m1 66v6m0-34v6m0-48v2m1 61v2m0-4v1m0-43v3m0-16v2m0-5v2m0-21v1m0-4v2m1 72v1m0-9v5m0-39v5m1 50v4m0-26v1m0-6v1m0-4v2m0-4v1m0-10v1m0-8v1m0-15v1m0-5v1m0-8v1m0-12v6m1 56v1m0-9v1m0-27v2m0-28v2m0-6v1m1 71v1m0-14v4m0-15v1m0-6v1m0-6v4m0-28v2m0-4v1m1 77v2m0-4v1m0-16v1m0-33v1m0-3v1m0-5v3m0-18v1m1 61v1m0-4v1m0-71v1m0-11v1m0-3v1m1 43v4m1 50v1m0-14v1m0-4v2m0-38v4m0-31v6m1 49v3m0-28v1m0-23v2m0-4v1m0-3v1m0-13v1m0-6v4m1 61v3m0-16v2m0-22v1m1 54v3m0-14v3m0-24v1m0-11v3m0-17v2m0-5v2m1 39v1m0-9v2m0-13v3m1 25v1m0-5v3m0-35v2m0-10v1m0-3v1m0-6v2m0-18v2m1 64v1m0-33v1m0-42v1m0-11v1m1 95v1m0-5v1m0-47v6m0-35v2m0-4v1m1 78v1m0-6v2m0-4v1m0-28v1m0-18v2m0-5v2m0-40v1m1 62v2m0-18v1m0-3v1m0-20v2m0-12v1m0-4v1m0-4v2m1 67v1m0-3v1m0-77v1m1 83v1m0-20v2m0-5v2m0-25v4m0-10v1m0-9v4m0-6v1m1 63v6m0-26v2m0-14v3m0-5v1m0-47v2m0-6v2m1 80v2m0-86v3m0-5v1m1 84v3m0-12v1m0-3v1m0-13v4m0-18v1m0-3v1m0-5v3m0-9v1m0-6v2m0-6v1m0-14v1m0-11v7m1 69v1m0-3v1m0-24v1m0-12v3m0-18v1m0-3v1m0-20v1m0-7v1m1 77v1m0-26v5m0-18v1m0-41v3m1 69v1m0-6v4m0-66v2m1 85v1m0-22v1m0-16v1m0-6v3m0-17v1m0-4v2m0-23v1m0-3v1m1 74v1m0-22v1m0-12v2m0-20v1m0-16v3m0-19v5m1 82v1m0-26v5m0-7v1m0-30v1m0-24v6m0-23v1m1 87v1m0-3v1m0-3v1m0-36v1m0-7v2m0-5v1m0-13v2m0-6v2m0-13v1m1 39v1m3-22v1m4 49v1m1-73v1m1 21v1m1-29v1m3 43v1m2 49v1m0-98v1m1 81v1m0-74v1m2 7v1m1 72v1m0-22v1m1 3v1m0-55v1m0-12v1m1 50v2m0-9v1m0-27v1m1 69v1m0-24v1m0-14v1m0-55v1m1 77v1m0-8v1m1-56v1m1 46v1m1 16v1m3-65v1m3 25v1m1-2v1m0-17v1m0-15v1m1 72v1m0-13v1m0-62v1m1 46v1m0-47v1m1 45v1m0-18v1m1-17v1m0-13v1m2 74v1"/>
<path stroke="#3670f8" d="M0.5 87v1m0-25v1m0-4v2m0-13v2m0-40v1m0-4v2m1 80v1m0-5v1m0-15v1m0-4v2m0-14v1m0-7v1m0-13v2m0-5v1m0-16v2m0-5v1m1 74v1m0-34v1m0-15v3m0-32v1m0-6v1m1 74v1m0-3v1m0-25v1m0-3v1m0-32v1m1 67v1m0-25v1m0-19v1m0-3v1m1 41v2m0-18v1m0-40v2m0-12v1m0-8v2m0-15v1m0-3v1m1 64v1m0-3v1m0-10v1m0-3v1m0-4v1m0-13v2m0-10v2m0-10v2m0-28v1m1 95v1m0-23v1m0-15v1m0-12v1m0-10v1m0-6v1m0-4v2m0-5v1m0-3v1m0-4v1m0-15v2m0-10v1m1 90v1m0-13v1m0-4v1m0-46v2m0-25v2m1 70v1m0-40v1m0-3v1m0-4v1m0-27v3m0-9v1m0-4v1m1 75v1m0-3v1m0-16v2m0-12v1m0-22v1m0-3v1m0-20v1m0-10v1m1 81v2m0-21v1m0-10v1m0-12v1m0-9v1m0-29v1m0-3v1m1 86v2m0-4v1m0-12v1m0-20v1m0-17v1m0-15v1m0-4v2m0-17v1m0-4v1m0-3v1m0-3v1m1 84v1m0-38v1m0-17v1m0-8v1m0-10v1m0-3v1m0-4v1m1 26v1m0-10v2m0-35v2m0-6v1m1 96v1m0-4v1m0-4v2m0-14v1m0-3v1m0-6v3m0-12v3m0-26v1m0-22v1m0-18v1m1 91v3m0-65v2m1 32v1m0-14v1m0-8v1m0-17v1m0-25v1m0-6v1m1 82v2m0-31v2m0-7v2m0-9v1m0-29v3m0-6v1m0-12v1m1 69v1m0-17v1m0-16v2m0-15v1m0-11v1m0-5v2m0-14v4m1 75v1m0-8v1m0-11v1m0-5v1m0-5v1m0-47v1m0-3v1m1 86v3m0-14v1m0-24v1m0-7v1m0-3v1m0-11v1m0-12v1m1 53v1m0-5v1m0-45v1m0-4v1m0-24v1m1 86v1m0-61v1m0-16v1m0-3v1m0-4v1m0-12v1m1 86v3m0-7v2m0-30v1m0-37v1m0-4v1m0-7v1m0-16v1m1 81v1m0-16v1m0-6v1m0-10v1m0-33v1m0-4v2m1 69v1m0-30v1m0-24v1m0-30v1m0-6v1m1 89v1m0-12v1m0-6v1m0-11v1m0-15v2m0-4v1m0-6v2m0-15v1m0-4v1m0-7v1m0-12v2m0-5v1m0-12v1m1 85v1m0-20v1m0-9v1m0-4v1m0-40v1m1 45v2m0-11v1m0-14v2m0-7v1m0-17v1m1 53v2m0-10v1m0-13v1m0-22v1m0-7v2m0-5v1m0-20v1m1 75v1m0-12v1m0-12v2m0-12v1m0-4v1m0-4v1m0-20v2m0-25v1m1 92v1m0-57v2m0-13v2m0-4v1m0-10v1m0-3v1m0-16v1m1 85v5m0-19v1m0-25v1m0-3v1m0-4v1m0-11v1m0-4v1m0-12v1m0-15v2m0-4v1m1 89v1m0-35v1m0-5v2m0-11v1m0-11v1m0-3v1m0-13v2m0-7v1m0-12v1m0-3v1m0-3v1m0-3v1m1 93v3m0-23v1m0-3v1m0-5v1m0-3v1m0-11v1m0-5v1m0-3v1m0-24v1m0-5v2m0-6v1m1 73v1m0-5v2m0-29v1m0-17v1m0-32v1m0-11v1m1 84v2m0-13v1m0-6v1m0-8v1m0-4v2m0-8v1m0-8v1m0-10v3m0-5v1m0-16v1m0-23v1m1 94v1m0-8v1m0-15v1m0-8v1m0-17v2m0-4v1m0-28v1m0-20v1m1 87v1m0-15v1m0-9v5m0-42v1m0-8v1m0-11v3m0-9v1m0-7v1m1 84v2m0-41v1m0-4v1m0-4v1m0-9v1m0-4v1m0-29v2m0-5v2m1 88v1m0-5v1m0-14v1m0-41v1m1 50v1m0-6v1m0-11v2m0-44v3m0-20v1m0-4v1m1 54v1m0-3v1m0-4v2m0-23v1m0-3v1m0-8v1m0-6v1m0-12v2m0-6v1m0-3v1m1 80v1m0-9v1m0-6v1m0-16v3m0-58v1m0-3v1m1 87v1m0-3v1m0-4v2m0-13v1m0-10v1m0-7v1m0-22v2m0-4v1m0-22v1m0-5v1m0-5v1m0-4v1m0-3v1m1 92v1m0-15v1m0-40v1m0-3v1m0-23v1m1 72v1m0-4v2m0-13v1m0-3v1m0-34v1m0-4v1m0-13v1m0-21v1m0-7v4m1 86v2m0-16v1m0-4v1m0-40v1m0-4v1m0-10v1m0-14v1m0-11v1m0-3v1m1 70v1m0-20v1m0-24v1m0-28v1m1 93v1m0-37v3m0-52v1m1 72v1m0-4v1m0-14v1m0-9v1m0-18v2m0-13v1m0-4v1m0-7v3m1 71v1m0-10v3m0-17v2m0-14v1m0-11v2m0-8v1m0-13v1m0-20v1m0-15v1m1 59v1m0-21v1m0-4v2m0-27v1m1 83v1m0-9v1m0-12v1m0-5v1m0-12v1m0-11v2m0-24v3m0-12v1m0-3v1m1 49v1m0-16v1m0-9v1m0-8v1m0-4v2m0-21v1m0-4v1m1 62v1m0-10v1m0-3v1m0-23v3m0-7v1m0-21v1m0-4v1m0-14v2m1 90v1m0-11v1m0-15v1m0-20v1m0-4v1m0-25v1m0-19v1m1 72v1m0-9v1m0-15v1m0-3v1m0-17v1m0-4v1m0-9v1m0-11v1m0-16v3m1 76v1m0-23v1m0-19v1m0-3v1m0-9v1m0-3v1m0-4v1m0-9v1m0-7v2m0-19v2m1 95v1m0-52v1m0-10v1m0-10v1m0-13v1m0-9v1m1 88v1m0-5v1m0-11v1m0-3v1m0-16v1m0-16v1m0-29v1m0-16v1m0-9v1m1 95v1m0-19v1m0-14v1m0-8v1m0-11v1m0-7v1m1 51v2m0-19v1m0-3v1m0-20v1m0-6v1m0-35v1m0-14v1m0-4v1m1 89v1m0-6v1m0-15v1m0-17v1m0-12v1m0-20v1m0-3v1m0-8v2m1 53v1m0-5v3m0-14v1m0-12v2m0-4v1m0-8v1m0-13v1m0-5v2m0-17v1m1 86v2m0-4v1m0-17v2m0-18v1m0-4v1m0-4v1m0-8v1m0-22v1m0-8v1m1 47v1m0-4v1m0-3v1m0-26v1m0-12v1m0-21v5m0-7v1m1 74v1m0-3v1m0-8v1m0-4v1m0-12v1m0-33v1m0-6v1m0-10v1m0-5v2m1 65v1m0-3v1m0-11v2m0-13v1m0-4v2m0-4v1m0-22v1m0-4v1m0-3v1m0-10v2m1 49v1m0-21v1m0-7v1m0-8v1m0-3v1m0-25v1m1 95v2m0-9v1m0-13v1m0-14v3m0-31v1m0-8v3m0-26v2m1 83v2m0-9v1m0-11v1m0-25v1m0-4v1m0-23v1m1 64v1m0-4v1m0-14v1m0-3v1m0-13v1m0-7v3m0-20v1m0-30v1m0-3v1m0-3v1m1 67v1m0-11v1m0-25v1m0-19v2m0-18v1m0-5v1m1 82v1m0-12v1m0-11v1m0-37v1m0-9v1m0-10v2m0-10v1m1 93v1m0-6v1m0-3v1m0-6v2m0-37v1m0-4v1m0-13v1m0-23v1m1 71v2m0-17v2m0-5v1m0-39v4m0-13v1m0-20v1m1 74v3m0-7v1m0-10v1m0-5v2m0-21v1m0-4v1m0-24v1m0-7v3m1 86v1m0-9v1m0-11v1m0-6v4m0-18v1m0-34v1m0-17v1m0-4v2m0-7v1m1 88v1m0-5v2m0-6v2m0-6v1m0-3v1m0-24v1m0-22v1m0-26v1m1 69v1m0-14v1m0-3v1m0-4v1m0-11v1m0-5v1m0-27v1m0-5v1m0-3v1m0-3v1m0-11v1m1 91v1m0-5v2m0-29v2m0-6v1m0-4v1m0-31v1m0-11v1m0-16v1m1 64v3m0-9v1m0-3v1m0-22v2m0-4v1m0-11v1m0-21v1m1 90v1m0-3v1m0-7v1m0-3v1m0-18v1m0-3v1m0-15v1m0-7v1m0-3v1m0-25v1m0-7v1m1 57v1m0-18v1m0-8v2m0-12v1m0-40v1m1 96v1m0-6v4m0-17v1m0-10v1m0-22v1m0-32v2m0-15v1m0-3v1m1 74v1m0-41v2m0-5v1m0-25v1m0-8v1m0-4v2m1 82v1m0-3v1m0-57v2m1 66v2m0-5v1m0-27v1m0-3v1m0-38v1m0-3v1m0-10v1m1 79v1m0-17v2m0-12v1m0-6v1m0-11v1m0-39v1m0-13v3m1 84v1m0-13v1m0-8v1m0-5v1m0-9v1m0-11v2m0-36v1m0-18v1m1 43v1m0-3v1m0-29v1m0-12v1m1 79v1m0-7v1m0-4v1m0-18v1m0-17v1m0-4v1m0-22v1m1 73v3m0-8v1m0-54v1m0-20v1m0-13v1m1 93v1m0-7v1m0-25v1m0-27v1m0-13v2m0-17v1m0-3v1m1 62v3m0-15v1m0-31v1m0-18v1m0-16v1m1 95v1m0-14v1m0-25v1m0-20v1m0-4v1m0-7v1m0-3v1m0-28v2m1 79v1m0-14v1m0-6v1m1 24v2m0-11v1m0-7v1m0-14v1m0-12v1m0-24v2m0-26v1m0-4v1m1 94v1m0-13v2m0-4v1m0-10v1m0-11v1m0-13v2m0-6v1m0-12v1m0-3v1m0-5v2m0-23v2m0-4v1m1 86v1m0-5v2m0-14v1m0-9v1m0-8v1m0-23v1m0-4v1m0-4v2m0-7v2m0-12v2m0-8v1m0-11v1m1 81v1m0-8v1m0-21v1m0-3v1m0-11v1m0-7v1m0-5v1m0-21v1m0-9v1m0-4v1m1 79v1m0-14v1m0-15v1m0-13v1m0-6v1m0-10v1m0-31v1m0-3v1m1 94v1m0-38v1m0-3v1m0-21v1m0-3v1m0-8v1m1 68v1m0-24v1m0-6v3m0-15v4m0-7v2m0-19v1m0-5v2m0-27v1m0-6v2m0-4v1m1 92v1m0-13v1m0-19v1m0-9v1m0-13v2m0-4v1m0-13v1m0-10v1m0-6v1m0-4v2m1 76v1m0-15v1m0-34v1m0-11v1m0-5v1m1 46v1m0-3v1m0-14v1m0-24v1m0-16v1m0-4v1m0-7v1m0-3v1m1 82v1m0-6v1m0-36v2m0-4v1m0-5v1m0-4v1m0-4v1m0-16v2m0-12v3m1 66v1m0-16v1m0-16v1m0-10v1m0-8v1m0-9v2m0-24v5m1 79v1m0-3v1m0-15v1m0-10v1m0-3v1m0-10v1m0-7v1m0-14v2m0-20v1m0-8v1m0-14v2m1 63v2m0-41v1m0-17v1m1 63v1m0-8v1m0-23v4m0-50v2m1 83v1m0-8v1m0-3v1m0-13v1m0-6v2m0-28v1m0-3v1m0-11v1m0-10v2m0-14v1m1 86v1m0-14v1m0-4v1m0-29v1m0-24v3m0-7v1m0-18v2m1 41v1m0-6v1m0-32v1m0-9v1m1 85v1m0-10v1m0-42v1m0-5v1m0-3v1m0-25v1m0-3v1m1 72v1m0-10v1m0-14v2m0-7v3m0-11v1m0-33v1m0-3v1m0-4v2m1 77v3m0-6v2m0-23v1m0-15v1m0-26v1m0-18v1m1 82v1m0-16v1m0-5v1m0-3v1m0-19v1m0-16v2m0-5v1m0-8v1m0-6v1m1 79v1m0-16v2m0-4v1m0-15v1m0-16v1m0-4v1m0-8v1m1 53v1m0-30v1m0-16v1m0-4v1m0-30v1m0-3v1m0-7v1m0-4v1m0-3v1m1 88v2m0-7v2m0-16v1m0-31v1m0-3v1m0-15v1m0-32v1m1 81v1m0-52v1m0-15v1m0-3v1m0-10v1m0-5v1m1 89v1m0-12v1m0-25v1m0-9v3m0-5v1m0-8v1m1 31v1m0-41v1m0-3v1m0-3v1m0-11v1m0-7v1m0-4v1m0-3v1m0-7v1m1 81v1m0-14v1m0-12v2m0-27v3m0-5v1m0-6v2m0-4v1m0-26v1m1 96v1m0-8v1m0-10v1m0-11v1m0-10v1m0-60v1m1 94v1m0-13v1m0-4v1m0-19v2m0-19v1m0-6v2m0-16v1m0-4v1m0-23v1m1 74v1m0-5v1m0-3v1m1-11v2m0-4v1m0-4v1m0-19v1m1 55v1m0-17v1m0-5v1m0-17v1m0-3v1m0-24v3m0-15v1m0-15v1m0-6v3m1 69v1m0-10v1m0-15v1m0-9v1m0-23v1m0-8v1m0-3v1m1 80v1m0-4v1m0-38v2m0-14v1m0-3v1m0-20v1m0-8v2m0-5v1m0-3v1m0-9v1m1 93v1m0-10v1m0-5v2m0-4v1m0-20v1m0-18v3m0-31v1m0-5v1m0-11v2m0-4v1m1 30v1m0-26v1m1 89v1m0-14v1m0-35v2m1 46v1m0-35v2m0-40v1m0-3v1m0-15v1m1 63v2m0-6v1m0-32v1m0-17v1m1 72v1m0-17v2m0-10v1m0-13v1m0-11v1m0-15v1m1 53v1m0-14v1m0-8v1m0-16v1m0-16v1m0-25v1m0-12v1m1 84v1m0-4v1m0-3v1m0-3v1m0-5v1m0-45v3m0-22v1m0-12v1m1 63v1m0-24v1m0-4v1m0-4v1m0-7v1m0-10v1m0-5v1m0-20v1m1 90v1m0-25v1m0-54v1m0-3v1m1 76v1m0-4v1m0-4v2m0-29v2m0-18v1m0-33v2m0-7v1m0-3v1m0-3v1m1 74v1m0-10v1m0-18v1m0-3v1m0-12v1m0-22v2m0-4v1m1 67v1m0-3v1m0-37v1m0-6v1m1 51v1m0-6v1m0-13v1m0-8v1m0-22v1m0-12v1m0-9v1m0-13v1m0-5v1m1 84v1m0-40v1m1 32v2m0-5v1m0-26v1m0-45v7m0-16v1m0-3v1m0-5v1m0-3v1m1 75v1m0-23v1m0-9v1m0-18v3m0-14v1m1 61v1m0-39v3m0-10v1m0-5v1m0-3v1m0-16v1m0-5v1m1 69v1m0-12v1m0-3v1m0-37v1m0-12v1m0-6v1m1 71v1m0-14v1m0-34v1m0-35v1m1 54v4m0-13v1m0-18v1m0-12v1m0-9v1m0-3v1m1 72v1m0-24v1m0-7v1m0-22v1m0-16v1m0-24v1m1 92v2m0-26v1m0-30v1m1 55v1m0-20v1m0-4v1m0-3v1m0-8v1m0-19v1m0-8v2m0-17v2m0-14v1m0-7v1m0-9v1m1 85v1m0-9v1m0-13v1m0-12v1m0-4v1m1 33v1m0-12v1m0-61v1m0-14v1m1 69v1m0-38v1m0-3v1m0-13v1m1 31v1m0-6v3m0-14v3m0-10v2m0-19v5m1 59v1m0-6v1m0-38v1m0-6v1m0-19v1m0-11v1m1 67v1m0-16v1m0-22v3m0-13v1m0-17v3m1 78v1m0-17v6m0-17v1m0-21v1m0-43v1m1 84v1m0-17v4m0-10v1m0-7v1m0-4v1m0-7v5m0-12v1m0-9v1m0-13v5m1 33v3m0-40v1m0-19v5m1 75v1m0-3v1m0-12v1m0-9v6m0-19v5m0-47v1m1 79v4m0-20v4m0-13v1m0-8v6m0-30v3m0-10v1m0-8v6m0-14v1m0-3v1m1 49v6m0-54v1m1 79v3m0-28v4m0-48v1m0-18v6m1 55v1m0-28v1m0-7v1m0-17v1m0-13v3m1 91v1m0-4v1m0-43v6m0-29v6m0-17v5m0-9v1m0-8v3m0-9v1m1 68v5m0-30v3m0-15v1m0-10v1m0-16v1m0-3v1m1 54v3m0-28v1m0-7v1m1 65v1m0-6v1m0-13v1m0-35v6m0-9v1m0-10v3m0-6v1m0-8v4m0-16v2m1 83v1m0-16v1m0-40v1m0-40v2m1 85v1m0-3v1m0-20v2m0-6v1m0-67v4m1 90v3m0-26v1m0-10v1m0-5v1m0-5v1m0-15v1m0-9v1m0-10v1m0-15v1m1 81v1m0-14v4m0-9v1m0-12v2m0-14v1m0-8v1m0-8v1m0-15v1m0-6v1m0-6v1m1 53v1m0-15v1m0-31v1m0-11v1m1 65v1m0-3v1m0-8v3m0-9v2m0-11v4m0-16v1m0-9v6m0-17v5m0-15v5m0-12v1m1 69v2m0-20v1m0-24v5m0-27v5m1 71v5m0-52v4m0-6v1m0-19v1m0-4v1m0-12v1m1 86v1m0-35v5m0-30v3m1 41v1m0-12v1m0-21v6m0-33v2m1 71v1m0-14v1m0-4v1m0-10v1m0-5v1m0-23v1m0-5v1m0-9v1m0-27v1m0-8v3m1 85v1m0-11v6m0-14v3m0-16v1m0-7v1m0-11v1m0-28v1m1 76v3m0-65v4m1 38v2m0-59v1m1 67v6m0-26v1m0-38v3m0-27v7m1 78v1m0-15v1m0-11v4m0-22v3m0-34v1m1 75v1m0-10v1m0-11v1m0-10v3m0-18v1m0-7v1m0-11v1m0-12v1m1 69v1m0-6v4m0-70v1m0-6v1m0-14v1m1 89v1m0-5v1m0-36v1m0-23v6m0-33v1m1 90v5m0-35v6m0-24v1m0-42v4m1 44v1m0-13v3m0-12v4m0-10v1m1 70v1m0-75v1m0-20v4m1 88v3m0-20v3m0-16v1m0-34v1m0-4v1m0-27v1"/>
<path stroke="#208ef4" d="M0.5 97v1m0-47v1m0-52v1m1 76v2m0-53v1m1 59v1m0-5v2m0-12v2m0-4v1m0-5v1m0-35v1m0-12v2m0-21v2m1 92v3m0-7v1m0-3v1m0-21v3m0-9v1m0-16v1m0-5v1m0-9v1m0-5v1m1 60v1m0-15v1m0-8v1m0-4v2m0-19v1m0-10v4m0-10v1m0-8v2m0-10v2m0-14v1m1 49v1m0-9v1m0-13v1m0-12v1m0-3v1m0-17v1m1 84v2m0-5v1m0-19v1m0-30v2m0-9v2m0-10v3m0-15v1m0-9v1m0-4v2m0-5v2m1 76v1m0-5v1m0-6v1m0-5v3m0-9v1m0-27v3m0-12v1m0-14v1m0-18v4m1 56v1m0-17v2m0-14v1m0-18v1m0-5v1m0-10v1m1 74v1m0-6v1m0-19v1m0-23v1m0-5v1m0-6v2m0-7v1m1 52v1m0-24v1m0-5v1m0-11v1m0-3v1m0-3v1m0-16v3m1 78v1m0-4v1m0-7v2m0-5v1m0-3v1m0-4v1m0-6v1m0-28v1m0-21v2m0-9v1m0-6v2m0-16v1m1 79v1m0-10v1m0-4v1m0-8v1m0-29v2m0-22v1m1 73v1m0-4v1m0-59v1m1 63v1m0-4v1m0-3v1m0-19v1m0-30v3m0-16v2m0-14v1m0-6v1m0-4v1m1 71v1m0-19v1m0-5v3m0-6v1m0-15v1m0-13v1m0-8v1m0-3v1m0-3v1m1 54v1m0-17v1m0-3v1m0-3v1m0-18v1m0-24v1m1 76v1m0-22v1m0-4v1m0-14v1m0-7v1m0-4v1m0-7v1m0-3v1m0-9v1m1 63v1m0-11v1m0-37v2m0-4v1m0-43v1m1 89v1m0-6v2m0-5v2m0-9v1m0-4v1m0-5v2m0-9v1m0-20v1m0-37v3m1 87v1m0-4v1m0-5v1m0-11v1m0-3v1m0-14v1m0-16v1m0-10v1m0-25v1m1 42v1m1 27v1m1 0v1m0-4v1m0-6v2m0-7v1m0-4v1m0-49v1m0-3v1m0-15v1m0-6v1m0-4v1m1 96v1m0-21v1m0-8v2m0-9v4m0-32v1m0-9v1m0-4v2m0-21v1m1 80v1m0-16v2m0-6v1m0-11v1m0-7v1m0-45v1m1 86v1m0-7v2m0-6v1m0-17v1m0-4v1m0-21v1m0-19v2m1 67v3m0-16v1m0-3v1m0-15v1m0-10v1m0-5v1m0-17v3m0-5v1m0-4v2m0-5v1m0-17v1m1 82v1m0-14v1m0-13v1m0-3v1m0-13v1m0-10v1m0-4v1m0-24v2m0-4v1m0-12v1m0-11v1m1 90v5m0-13v1m0-9v1m0-13v1m0-37v1m0-17v1m1 74v1m0-4v1m0-28v1m0-6v1m0-7v1m1 27v1m0-4v1m0-9v1m0-12v1m0-3v1m0-15v1m0-7v1m0-30v2m1 41v1m0-14v1m0-6v1m0-8v2m1 76v1m0-21v1m0-6v1m0-23v1m0-3v1m0-4v1m0-10v2m0-15v1m0-7v1m0-3v1m0-3v1m0-3v1m0-9v1m1 86v1m0-6v1m0-3v1m0-3v1m0-4v2m0-5v1m0-8v1m0-7v1m0-5v1m0-14v1m0-19v1m0-24v1m0-3v1m1 71v1m0-3v1m0-14v1m0-4v1m0-14v1m0-5v1m0-6v1m0-9v1m1 44v1m0-20v1m0-40v3m1 77v2m0-5v1m0-3v1m0-8v2m0-7v1m0-5v1m0-11v1m0-8v1m0-38v2m0-5v2m1 81v1m0-18v1m0-3v1m0-8v4m0-6v1m0-5v1m0-3v1m0-24v1m0-5v1m0-3v1m0-6v2m0-5v1m0-6v1m0-4v1m0-10v1m0-3v1m1 90v1m0-13v2m0-7v1m0-34v1m0-8v2m0-26v1m0-5v2m0-5v1m0-10v2m1 90v2m0-42v1m0-3v1m0-13v1m0-15v1m0-3v1m1 74v1m0-28v1m0-33v1m1 20v1m0-12v2m0-36v1m0-4v2m0-10v1m1 79v1m0-6v1m0-31v1m0-4v2m0-12v2m0-6v2m0-4v1m0-3v1m0-11v1m1 79v1m0-12v2m0-6v3m0-16v1m0-3v1m0-36v1m0-16v1m0-11v1m1 70v1m0-15v1m0-13v1m0-6v1m0-23v1m0-15v1m1 84v1m0-27v3m0-6v1m0-21v1m0-32v1m0-12v1m1 74v2m0-13v1m0-9v2m0-33v4m0-8v1m0-15v1m1 71v1m0-5v2m0-20v1m0-4v2m0-5v2m0-36v1m0-5v1m0-6v1m0-10v1m1 91v1m0-12v1m0-11v1m0-4v1m0-13v1m0-6v1m0-15v1m0-11v1m0-14v1m0-18v1m1 65v1m0-20v2m0-11v1m0-5v3m0-13v1m0-10v1m0-16v3m1 84v1m0-4v2m0-5v1m0-3v1m0-51v2m0-22v3m0-10v1m1 92v1m0-5v1m0-15v2m0-19v1m0-7v2m0-18v1m0-4v1m0-4v1m0-6v1m0-6v2m0-15v2m0-8v3m1 90v1m0-13v2m0-28v2m0-7v1m0-10v1m0-17v1m0-5v1m0-3v1m0-4v1m0-4v2m0-10v1m0-9v1m0-3v1m1 91v1m0-31v2m0-29v1m0-35v1m1 96v1m0-24v7m0-9v1m0-7v1m0-6v1m0-6v1m0-7v1m0-6v1m0-11v1m0-5v1m0-6v1m0-10v1m0-7v2m0-10v1m1 77v2m0-12v1m0-42v1m0-4v1m0-19v1m0-11v4m1 86v1m0-4v1m0-21v1m0-28v1m0-4v2m0-10v1m0-3v1m1 44v1m0-7v1m0-3v1m0-42v2m0-6v2m1 71v1m0-18v1m0-4v1m0-8v2m0-46v1m0-19v1m1 94v1m0-7v1m0-7v1m0-3v1m0-5v1m0-43v1m0-20v1m0-3v1m1 44v1m0-7v1m0-19v1m0-13v1m0-6v2m0-18v1m1 88v2m0-53v1m0-38v1m0-6v1m1 82v1m0-6v1m0-16v1m0-13v1m0-4v1m0-4v2m0-8v5m0-15v1m0-13v1m0-10v1m0-5v1m0-4v2m1 92v1m0-7v1m0-21v2m0-4v1m0-14v1m0-8v1m0-24v1m0-6v1m1 64v1m0-3v1m0-9v1m0-17v1m0-4v1m0-4v1m0-6v1m0-6v1m0-37v2m1 87v1m0-15v1m0-3v1m0-11v2m0-4v1m0-7v1m0-3v1m0-14v1m0-17v3m0-11v1m0-4v1m0-17v2m1 85v2m0-8v1m0-10v1m0-6v1m0-4v2m0-44v1m0-4v2m1 68v2m0-4v1m0-8v1m0-12v1m0-18v1m0-17v1m0-4v1m0-3v1m0-8v1m0-5v2m0-6v1m0-5v1m1 79v1m0-22v1m0-14v2m0-7v1m0-24v1m0-10v1m0-9v1m0-3v1m1 80v1m0-3v1m0-16v1m0-17v2m0-23v1m0-11v1m0-4v2m0-9v3m0-5v1m0-16v1m1 88v1m0-26v1m0-23v2m0-28v1m0-9v2m1 83v1m0-5v1m0-17v1m0-17v1m0-6v1m0-31v1m0-11v1m0-17v1m1 93v1m0-44v1m0-5v3m0-14v1m0-4v2m0-6v1m0-4v1m0-5v1m0-4v1m0-3v1m0-11v1m1 63v1m0-25v1m0-41v1m0-5v1m0-3v1m1 61v1m0-3v1m0-5v1m0-3v1m0-13v1m0-11v1m0-5v1m0-8v1m0-6v1m1 76v1m0-3v1m0-20v1m0-56v1m1 75v1m0-8v1m0-17v1m0-33v1m0-7v1m0-18v1m0-15v3m0-5v1m1 83v1m0-8v1m0-33v1m1 50v1m0-3v1m0-36v2m0-14v1m0-11v1m0-3v1m0-13v2m0-11v2m0-4v1m1 72v1m0-9v1m0-5v1m0-10v1m0-10v1m0-23v1m0-10v1m0-14v1m0-3v1m1 22v4m0-10v1m0-25v1m1 84v1m0-5v2m0-15v1m0-4v1m0-9v3m0-16v1m0-3v1m0-10v1m0-22v1m0-5v2m0-7v3m1 78v2m0-18v1m0-3v1m0-7v1m0-16v1m0-35v1m0-11v1m1 90v1m0-41v1m0-23v1m0-4v2m0-5v1m0-6v1m0-7v1m0-15v1m1 75v1m0-41v1m0-21v1m0-18v3m1 74v1m0-17v1m0-13v1m0-12v1m0-14v1m0-4v1m0-14v2m1 76v2m0-10v1m0-4v1m0-31v1m0-34v1m0-10v2m0-4v1m1 55v1m0-16v1m0-4v1m0-12v1m0-8v2m0-6v1m0-20v1m1 80v1m0-13v2m0-16v1m0-17v1m0-8v1m0-16v1m0-3v1m0-10v1m0-7v1m1 96v1m0-4v1m0-12v1m0-27v1m0-11v1m0-4v1m0-3v1m0-11v1m0-12v1m0-6v1m1 65v1m0-9v3m0-22v1m0-3v1m0-12v1m0-11v1m0-13v1m0-5v1m1 48v2m0-14v1m0-24v2m0-15v1m1 42v1m0-18v1m0-14v1m0-6v1m0-7v1m0-11v1m0-4v2m0-5v1m1 90v1m0-32v1m0-3v1m0-3v1m0-10v1m0-17v1m0-3v1m0-7v1m0-10v1m0-5v1m0-8v1m1 68v1m0-27v2m0-19v1m0-32v1m1 93v2m0-13v1m0-8v1m0-27v1m0-10v1m0-4v1m0-3v1m0-20v1m1 79v1m0-7v2m0-6v1m0-5v1m0-5v2m0-14v1m0-3v1m0-16v1m0-5v1m0-29v1m0-13v1m0-3v1m0-6v1m1 95v1m0-6v2m0-4v1m0-6v1m0-3v1m0-12v1m0-21v1m0-22v1m0-28v3m0-5v1m1 94v2m0-9v1m0-27v1m0-15v1m0-18v1m0-18v2m0-4v1m1 81v1m0-10v1m0-17v2m0-18v1m0-5v1m0-5v1m0-4v1m0-7v1m0-16v1m0-3v1m0-3v1m0-3v1m1 38v1m0-4v1m0-38v3m0-5v1m1 83v1m0-29v3m0-12v1m0-3v1m0-8v1m0-4v1m0-7v2m0-6v3m0-5v1m0-5v2m0-21v2m0-7v1m1 78v1m0-12v1m0-3v1m0-4v1m0-14v1m0-3v1m0-3v1m0-10v1m0-29v1m0-10v1m0-7v1m0-3v1m1 85v1m0-6v1m0-18v2m0-8v1m0-3v1m0-31v2m0-15v2m1 83v1m0-4v1m0-6v2m0-7v1m0-8v1m0-4v1m0-32v1m0-5v2m0-7v1m0-23v6m0-9v1m0-6v1m0-4v1m0-3v1m1 68v2m0-11v1m0-8v2m0-28v1m0-6v1m0-3v1m0-4v1m0-11v1m0-4v1m1 93v1m0-52v1m0-13v1m1 60v1m0-57v1m1 57v1m0-18v1m0-6v2m0-9v1m0-11v1m0-5v1m0-4v1m0-7v1m0-13v1m1 60v1m0-18v1m0-15v1m0-15v2m0-8v3m0-46v1m1 65v2m0-14v1m0-28v1m0-5v1m0-4v2m0-16v1m0-7v2m1 74v1m0-6v1m0-55v2m1 76v2m0-24v1m0-15v2m0-27v1m0-11v2m0-5v1m0-4v1m0-5v1m0-3v1m0-4v1m0-5v1m0-6v1m1 86v1m0-3v1m0-18v1m0-22v1m0-28v2m1 74v1m0-3v1m0-5v1m0-27v1m0-31v1m0-5v2m0-7v1m0-17v1m0-5v1m0-7v1m1 89v1m0-16v1m0-5v1m0-7v1m0-21v1m0-36v1m0-5v2m0-5v1m0-3v1m1 86v1m0-14v1m0-14v1m0-10v1m0-21v2m0-4v1m0-16v2m1 71v1m0-12v1m0-3v1m0-20v1m0-17v1m0-4v1m0-11v2m0-18v1m1 62v1m0-12v1m0-18v1m0-3v1m0-13v1m0-29v2m0-5v2m1 78v1m0-26v1m0-9v1m0-13v3m0-9v2m0-6v2m0-4v1m0-6v1m1 76v1m0-10v1m0-18v2m0-5v1m0-26v1m0-6v1m0-7v1m1 60v1m0-11v1m0-20v2m0-4v1m0-26v1m0-11v1m1 70v1m0-21v1m0-20v1m0-7v1m0-32v1m0-4v1m0-14v1m1 86v1m0-3v1m0-5v1m0-16v1m0-9v2m0-9v1m0-9v1m0-3v1m0-9v2m0-5v1m0-3v1m0-8v1m0-5v1m0-6v2m0-8v1m0-6v1m0-5v1m0-4v1m1 96v1m0-4v1m0-15v1m0-14v2m0-7v1m0-5v1m0-4v1m0-4v2m0-54v1m1 96v1m0-11v4m0-11v5m0-9v1m0-4v1m0-3v1m0-3v1m0-14v2m0-11v1m0-14v1m0-6v1m0-13v1m0-3v1m0-3v1m0-4v2m0-6v1m0-5v1m1 83v1m0-3v1m0-4v1m0-9v1m0-3v1m0-15v1m0-15v1m0-5v2m0-10v1m0-17v1m0-3v1m0-5v2m1 69v1m0-3v1m0-7v2m0-37v1m0-4v2m0-13v2m0-25v1m1 95v1m0-6v1m0-17v1m0-4v1m0-28v2m0-13v1m0-21v1m0-5v1m0-4v1m1 76v1m0-8v1m0-27v1m0-4v1m0-26v1m0-3v1m0-3v1m0-3v1m1 76v1m0-24v1m0-4v1m0-22v1m0-16v1m0-11v1m0-6v2m0-7v2m1 79v1m0-12v1m0-5v2m0-11v1m0-6v1m0-41v1m0-15v1m1 76v1m0-11v1m0-31v1m0-27v1m0-3v1m0-15v1m1 91v2m0-21v1m0-19v1m0-14v1m0-18v2m0-5v1m0-3v1m0-7v1m0-12v1m0-6v1m0-3v1m1 96v1m0-28v1m0-14v1m0-4v1m0-33v1m0-8v1m0-7v1m0-3v1m1 53v1m0-9v1m0-22v1m0-26v1m1 87v1m0-39v1m0-34v1m0-19v1m1 89v1m0-15v1m0-4v1m0-27v1m0-42v1m1 82v2m0-4v1m0-35v2m0-15v1m0-20v3m0-10v1m0-15v3m1 88v1m0-14v2m0-22v1m0-7v1m0-20v2m0-16v1m0-11v1m0-4v1m1 84v1m0-7v2m0-18v1m0-3v1m0-3v1m0-13v1m0-17v1m0-20v1m0-9v1m0-3v1m0-3v1m0-10v1m1 91v1m0-4v1m0-27v2m0-13v1m0-6v1m0-13v1m0-18v1m0-3v1m1 68v1m0-5v3m0-17v1m0-4v1m0-25v1m0-4v2m0-6v2m0-7v1m0-11v1m0-5v1m0-8v1m0-4v1m0-8v1m1 68v1m0-17v1m0-27v1m0-8v1m0-3v1m0-15v1m0-3v1m1 44v1m0-18v3m0-11v1m0-4v1m0-15v2m1 80v1m0-19v1m0-49v1m0-3v1m1 64v1m0-29v1m0-12v1m0-7v1m0-3v1m0-9v1m0-21v1m0-6v1m0-5v2m1 86v2m0-16v1m0-5v1m0-19v1m0-6v1m0-17v1m0-21v1m0-5v1m1 72v1m0-74v2m1 66v1m0-3v1m0-4v1m0-11v1m0-11v1m0-19v1m0-26v1m1 87v1m0-6v1m0-41v1m0-16v1m0-17v2m0-5v2m0-4v1m1 75v1m0-26v1m0-51v2m1 77v3m0-11v1m0-16v1m0-4v1m0-22v1m0-4v1m0-11v1m0-29v1m1 90v1m0-3v1m0-19v1m0-30v1m0-9v1m0-14v1m1 68v1m0-40v2m0-16v1m0-5v1m0-12v1m0-5v1m0-3v1m0-5v1m1 60v1m0-13v1m0-20v1m0-9v1m0-10v1m1 11v1m0-13v1m1 65v1m0-3v1m0-3v1m0-10v1m0-4v2m0-8v1m0-7v2m0-8v1m0-7v1m0-9v2m0-20v1m0-23v1m1 85v1m0-5v1m0-28v1m0-10v1m0-3v1m0-19v1m0-8v1m0-4v2m0-9v1m0-13v1m1 82v1m0-3v1m0-12v3m0-27v1m0-12v1m0-9v1m0-3v1m0-16v3m0-19v1m1 88v1m0-7v1m0-23v1m0-27v1m0-3v1m0-3v1m0-13v1m0-19v1m1 95v1m0-9v1m0-5v1m0-9v2m0-14v2m0-13v2m0-37v1m1 75v1m0-3v1m0-5v1m0-5v1m0-4v2m0-7v1m0-23v1m0-4v1m0-17v1m0-4v1m0-7v1m0-14v1m0-5v1m0-5v1m0-7v1m1 64v2m0-8v1m0-60v1m1 94v1m0-7v1m0-21v1m0-7v2m0-10v1m0-9v1m0-4v1m0-7v1m0-10v1m0-6v1m0-6v1m0-8v1m0-7v1m0-6v1m1 90v1m0-16v1m0-18v1m0-9v1m0-10v1m0-29v1m0-6v1m0-4v2m1 70v1m0-3v1m0-13v1m0-19v1m0-17v2m1 51v1m0-3v1m0-3v1m0-4v1m0-9v1m0-38v1m0-9v1m0-16v1m1 86v1m0-17v2m0-21v1m0-11v1m0-6v1m0-7v1m0-31v1m0-9v1m1 80v1m0-4v1m0-5v1m0-53v1m0-19v1m1 90v1m0-29v1m0-17v4m0-6v1m0-23v1m0-21v1m1 76v2m0-7v1m0-3v1m0-11v1m0-40v1m0-7v1m1 65v1m0-4v1m0-5v1m0-5v1m0-8v1m0-9v1m0-7v1m0-22v1m0-26v2m1 81v1m0-5v2m0-11v1m0-4v1m0-22v1m0-9v1m0-19v1m0-11v2m0-20v2m0-5v2m0-4v1m1 83v1m0-33v1m0-5v1m0-5v1m0-11v1m0-7v1m0-4v1m0-9v1m0-9v1m1 85v1m0-10v1m0-7v1m0-12v2m0-14v1m0-17v1m0-24v1m0-4v1m1 81v1m0-5v1m0-14v3m0-23v1m0-13v1m0-17v1m0-3v1m0-20v1m0-4v2m1 86v2m0-20v2m0-12v2m0-22v1m0-4v1m0-4v1m0-9v1m0-9v1m0-4v2m0-12v1m1 84v1m0-8v1m0-5v1m0-7v1m0-3v1m0-7v1m0-6v1m0-3v1m0-3v1m0-4v1m0-5v1m0-10v1m0-9v1m0-9v1m0-5v3m0-6v1m0-3v1m0-11v1m0-7v1m1 88v1m0-13v1m0-20v2m0-8v1m0-8v1m0-14v2m0-9v2m0-6v1m0-5v1m0-18v1m1 88v1m0-17v1m0-13v1m0-6v1m0-9v1m0-23v2m0-35v4m1 92v1m0-11v1m0-3v1m0-3v1m0-3v1m0-15v1m0-4v1m0-20v1m0-3v1m0-34v1m1 87v1m0-42v1m0-48v1m0-3v1m1 90v1m0-27v1m0-17v2m0-25v1m0-4v1m0-10v2m0-5v1m0-9v1m0-3v1m1 82v1m0-11v1m0-13v1m0-29v1m0-18v1m1 63v1m0-18v2m0-5v2m0-25v1m0-13v1m0-13v1m0-15v1m0-4v1m1 79v1m0-4v1m0-10v1m0-5v1m0-14v3m0-24v1m0-15v1m0-5v1m0-3v1m0-9v1m1 77v1m0-11v1m0-20v2m0-24v1m0-32v1m1 83v3m0-14v2m0-17v1m0-55v1m1 90v1m0-12v1m0-8v1m0-5v1m0-11v1m0-26v1m0-11v1m0-12v1m0-17v2m1 66v1m0-30v1m0-13v1m0-13v2m0-10v1m1 85v1m0-8v1m0-17v2m0-35v1m0-4v1m0-5v2m0-8v1m0-9v1m0-6v2m1 74v1m0-8v1m0-3v1m0-6v1m0-6v2m0-31v1m0-32v1m1 79v1m0-20v1m0-22v1m0-12v1m0-9v1m0-6v1m0-25v1m1 92v1m0-8v1m0-18v3m0-15v1m0-6v1m0-4v1m0-4v1m0-5v3m0-6v2m0-7v1m0-14v2m0-9v2m0-5v2m0-6v2m0-9v1m0-3v1m1 54v1m1 33v1m0-3v1m0-3v1m0-6v1m0-4v1m0-7v1m0-18v1m0-20v1m0-13v1m0-3v1m1 60v1m0-3v1m0-34v2m0-26v2m1 44v1m0-15v1m0-11v1m0-13v1m0-24v1m0-6v1m0-5v1"/>
<path stroke="#0ac0e8" d="M0.5 92v1m0-17v2m0-7v1m0-4v2m0-29v1m0-9v2m0-5v1m0-18v1m1 84v1m0-19v1m0-6v1m0-35v2m0-19v1m0-6v1m0-6v2m0-4v1m1 84v2m0-15v1m0-14v1m0-4v1m0-19v1m0-14v1m0-4v2m0-9v2m0-5v1m0-7v1m0-15v1m1 88v3m0-8v1m0-11v1m0-3v1m0-11v1m0-33v3m0-5v1m0-16v3m0-12v1m0-9v1m1 92v1m0-13v2m0-5v1m0-4v1m0-21v2m0-14v1m0-29v1m0-4v1m0-4v2m0-11v1m1 85v1m0-4v1m0-15v1m0-12v2m0-4v1m0-5v1m1 37v1m0-29v1m0-17v1m0-5v1m0-5v2m0-32v1m0-5v1m1 92v1m0-16v1m0-5v2m0-6v1m0-6v1m0-14v1m0-14v1m1 54v1m0-18v2m0-21v1m0-11v1m0-3v1m0-4v1m0-5v1m0-15v1m0-6v2m0-4v1m0-9v1m1 79v1m0-5v2m0-6v2m0-10v1m0-6v4m0-6v1m0-43v1m0-10v1m0-4v1m0-7v1m1 81v1m0-8v2m0-4v1m0-15v1m0-26v1m0-3v1m0-5v2m0-6v3m0-19v1m0-18v1m1 94v1m0-4v1m0-4v1m0-9v1m0-4v1m0-4v1m0-3v1m0-18v1m0-5v1m0-10v1m0-28v1m0-6v1m0-7v1m0-8v1m1 65v1m0-3v1m0-14v2m0-12v1m0-6v3m1 50v2m0-5v1m0-9v1m0-25v1m0-3v1m0-9v1m0-4v2m0-7v3m0-31v1m0-6v3m1 81v1m0-3v1m0-3v1m0-13v1m0-5v1m0-3v1m0-5v1m0-4v1m0-12v2m0-6v2m0-14v1m0-4v1m0-5v1m0-13v1m0-6v1m1 54v1m0-4v1m0-6v1m0-3v1m0-31v2m1 58v2m0-4v1m0-7v1m0-3v1m0-19v1m0-6v1m0-10v1m0-5v1m0-25v1m0-11v1m1 95v1m0-29v1m0-22v1m0-9v1m0-4v1m0-4v1m0-3v1m0-10v1m0-21v1m0-5v1m1 96v1m0-7v2m0-5v1m0-6v1m0-6v1m0-14v1m0-14v1m0-4v1m0-3v1m0-7v1m0-22v3m0-20v1m1 94v1m0-15v1m0-9v1m0-14v1m0-16v1m0-17v1m0-21v1m1 82v1m0-4v1m0-3v1m0-3v1m0-5v2m0-4v1m0-35v1m0-3v1m0-6v1m0-8v1m0-22v1m1 57v1m0-27v1m0-3v1m0-9v1m0-14v1m1 48v1m0-16v2m0-16v2m0-5v1m0-4v1m0-33v1m1 84v1m0-14v4m0-17v1m0-6v1m0-20v1m0-12v1m0-3v1m0-8v2m0-12v1m0-6v1m1 75v1m0-6v1m0-7v1m0-12v3m0-5v1m0-25v2m0-13v1m0-3v1m1 78v1m0-5v1m0-10v1m0-30v1m0-4v1m0-15v1m0-14v1m0-17v1m0-5v1m1 91v1m0-7v1m0-10v1m0-18v1m0-19v3m0-5v1m0-4v2m0-15v2m0-6v1m0-10v1m1 64v1m0-15v1m0-3v1m1 25v1m0-7v1m0-12v1m0-9v1m0-21v2m0-20v1m0-8v1m0-6v1m1 79v1m0-17v1m0-24v5m0-63v1m1 84v1m0-4v1m0-25v1m0-6v1m0-6v2m0-19v2m1 65v1m0-3v1m0-13v2m0-17v1m0-3v1m0-3v1m0-18v1m0-17v1m0-11v3m1 43v1m0-3v1m0-20v1m0-7v1m0-11v1m0-8v1m0-4v1m0-16v1m1 67v1m0-16v1m0-10v1m0-28v1m1 73v1m0-11v1m0-5v1m0-5v1m0-8v1m0-4v1m0-8v1m0-16v1m0-40v1m1 89v1m0-13v1m0-3v1m0-44v1m0-3v1m0-4v2m0-16v1m0-3v1m0-13v2m1 87v1m0-18v2m0-14v2m0-22v1m0-15v2m0-8v2m0-4v1m0-7v2m1 76v1m0-27v2m0-11v1m0-12v1m0-5v1m0-3v1m0-43v1m1 82v1m0-24v1m0-3v1m0-24v1m0-13v2m1 68v1m0-13v1m0-34v1m0-7v1m0-4v1m0-8v4m1 55v2m0-14v1m0-14v1m0-3v1m0-5v2m0-6v1m0-7v1m0-31v1m0-3v1m0-10v2m0-5v2m1 68v1m0-8v1m0-22v1m0-4v1m0-3v1m0-19v1m1 68v1m0-5v3m0-8v1m0-3v1m0-17v2m0-9v1m0-3v1m0-9v2m0-22v1m1 63v1m0-6v1m0-14v3m0-15v1m0-16v1m0-4v2m0-4v1m0-4v1m0-7v1m0-5v1m0-7v1m0-13v1m0-5v1m1 75v1m0-21v1m0-18v1m0-6v1m0-3v1m0-15v1m0-15v1m1 77v2m0-21v1m0-11v2m0-24v1m0-18v1m0-11v1m1 58v1m0-3v1m0-20v2m0-5v2m0-4v1m0-16v1m0-5v1m0-12v1m0-11v5m0-7v1m1 89v1m0-3v1m0-26v1m0-3v1m0-4v1m0-3v1m0-13v1m0-25v1m0-18v1m1 85v1m0-12v1m0-3v1m0-23v1m0-11v3m0-13v3m0-20v1m0-11v1m0-5v1m0-5v1m0-4v1m1 83v1m0-12v1m0-4v2m0-5v1m0-52v1m1 65v2m0-4v1m0-10v2m0-8v2m0-19v1m0-25v1m1 61v1m0-3v1m0-10v2m0-5v2m0-19v1m0-32v2m1 30v1m0-3v1m0-10v1m0-12v2m0-30v1m1 77v1m0-4v1m0-22v2m0-7v1m0-17v1m0-3v1m0-31v3m0-6v1m0-6v1m0-3v1m1 92v3m0-8v1m0-10v1m0-16v1m0-21v1m0-27v2m0-5v2m0-6v1m0-11v2m0-4v1m1 95v1m0-23v1m0-7v3m0-11v2m0-7v1m0-7v1m0-7v2m0-14v1m0-27v1m1 90v1m0-5v1m0-18v1m0-16v1m0-7v1m0-5v1m0-25v1m0-3v1m0-20v1m1 83v1m0-4v1m0-6v1m0-26v1m0-39v3m0-5v1m0-14v1m1 92v1m0-16v1m0-6v1m0-3v1m0-25v1m0-3v1m0-37v1m1 82v4m0-8v1m0-18v1m0-7v4m0-21v1m0-46v1m0-3v1m1 71v1m0-27v1m0-4v2m0-14v1m0-3v1m0-3v1m0-14v1m0-5v1m0-6v1m0-4v1m1 91v1m0-29v1m0-4v1m0-4v2m0-6v1m0-6v1m0-4v1m0-13v2m0-15v2m0-5v1m1 68v1m0-12v1m0-3v1m0-19v3m0-18v1m0-3v1m0-13v1m0-5v1m0-3v1m0-9v1m0-10v2m0-4v1m0-6v2m1 60v1m0-5v1m0-5v3m0-7v1m0-4v1m0-6v1m0-15v1m0-12v1m0-13v1m0-3v1m1 88v1m0-4v2m0-7v1m0-14v1m0-6v1m0-19v1m0-3v1m0-21v2m0-10v2m0-19v1m1 89v1m0-5v1m0-4v2m0-7v1m0-3v1m0-4v1m0-5v1m0-19v1m0-6v1m0-20v1m0-5v1m0-17v1m1 86v1m0-16v1m0-7v1m0-4v1m0-3v1m0-4v1m0-4v2m0-7v1m0-4v1m0-5v2m0-5v1m0-26v2m0-4v1m0-4v1m0-3v1m0-4v2m0-16v1m0-3v1m1 95v3m0-9v1m0-3v1m0-3v1m0-13v1m0-3v1m0-46v1m0-17v1m1 86v1m0-4v1m0-8v1m0-4v2m0-13v1m0-3v1m0-23v2m0-14v1m0-6v1m0-13v2m0-11v2m1 79v2m0-17v3m0-5v1m0-4v1m0-18v1m0-22v1m0-4v2m0-7v2m0-5v1m0-4v1m0-3v1m0-19v1m1 91v1m0-4v1m0-3v1m0-14v3m0-17v2m0-20v1m0-3v1m0-6v1m0-6v1m0-21v1m0-6v1m0-5v3m1 90v1m0-45v1m0-7v1m0-24v1m0-7v1m1 73v1m0-77v1m1 82v1m0-22v2m0-24v1m0-23v1m1 52v1m0-15v1m0-21v1m0-5v1m0-6v1m0-13v1m0-7v2m0-19v1m0-5v1m0-4v1m1 82v1m0-8v6m0-27v1m0-13v1m0-11v1m0-8v1m0-5v1m0-20v1m1 73v1m0-6v2m0-14v1m0-4v2m0-4v1m0-18v1m0-14v1m0-3v1m0-4v1m0-4v2m0-5v1m0-15v1m1 93v1m0-4v2m0-16v1m0-19v2m0-5v1m0-3v1m0-5v2m0-5v1m0-15v1m1 63v1m0-12v1m0-44v1m0-27v1m0-6v1m1 77v1m0-12v1m0-16v1m0-3v1m0-16v1m0-8v2m0-7v1m0-31v1m1 92v1m0-3v1m0-5v2m0-4v1m0-19v1m0-3v1m0-4v1m0-10v1m0-18v1m0-7v4m0-8v2m0-10v2m0-19v1m1 91v1m0-8v1m0-24v1m0-31v1m0-8v2m0-29v1m1 88v1m0-8v2m0-7v1m0-17v1m0-18v1m0-40v1m1 85v1m0-24v2m0-4v1m0-6v1m0-4v1m0-19v2m0-4v1m0-16v1m0-12v1m0-5v2m0-6v1m0-6v1m1 89v1m0-19v1m0-20v1m0-3v1m0-4v1m0-6v1m0-13v1m0-10v1m0-8v2m0-14v1m0-3v1m0-4v1m1 96v1m0-20v1m0-5v1m0-19v1m0-5v2m0-32v2m0-9v1m0-6v2m0-7v1m0-3v1m1 93v1m0-22v1m0-12v1m0-4v2m0-5v1m0-10v1m0-28v1m1 60v1m0-3v1m0-3v1m0-7v1m0-17v1m0-3v1m0-13v1m0-4v2m0-4v1m0-26v1m0-7v1m1 87v1m0-5v3m0-25v1m0-12v1m0-30v1m0-14v1m1 64v1m0-11v2m0-18v1m0-5v1m0-4v1m0-13v1m0-6v1m0-5v1m0-12v1m0-18v2m1 92v1m0-3v1m0-5v2m0-5v1m0-54v1m0-16v1m1 79v1m0-20v1m0-22v2m0-6v1m0-45v1m1 84v1m0-3v1m0-6v4m0-10v1m0-32v1m0-20v1m0-15v2m0-16v1m1 71v1m0-29v1m0-3v1m0-18v1m0-4v1m0-6v1m0-4v1m0-19v1m1 95v1m0-23v2m0-14v1m0-18v1m0-17v1m0-3v1m0-10v3m0-17v1m0-5v2m1 96v1m0-5v1m0-15v1m0-4v1m0-7v1m0-3v1m0-7v1m0-27v2m0-8v1m0-13v1m0-5v2m1 80v1m0-16v1m0-20v1m0-17v1m0-7v1m0-6v1m0-12v1m0-3v1m0-15v1m1 76v1m0-5v1m0-14v2m0-9v1m0-11v1m0-3v1m0-6v2m0-13v2m0-4v1m0-23v1m0-3v1m1 84v1m0-4v1m0-4v2m0-11v2m0-6v1m0-3v1m0-24v1m0-6v1m0-3v1m0-11v1m0-21v1m1 74v2m0-17v1m0-21v1m0-19v3m0-25v1m0-5v1m0-4v1m1 77v1m0-4v1m0-12v1m0-3v1m0-19v1m0-6v1m0-10v1m1 59v1m0-17v2m0-12v1m0-3v1m0-24v1m0-26v1m0-12v4m1 86v1m0-15v1m0-30v2m0-23v2m0-13v1m0-9v1m0-4v1m0-6v1m0-3v1m0-6v1m1 87v1m0-11v1m0-7v1m0-50v1m0-4v1m0-15v2m0-4v1m1 93v1m0-11v1m0-4v1m0-4v1m0-4v1m0-14v2m0-8v3m0-18v1m0-4v2m0-4v1m0-18v1m0-4v1m0-9v1m1 81v1m0-8v1m0-7v1m0-5v1m0-5v1m0-29v1m0-8v1m1 59v1m0-16v1m0-13v1m0-10v1m0-5v1m0-16v1m0-19v1m0-8v2m0-8v1m0-5v2m1 55v1m0-4v1m0-14v2m0-14v1m0-15v1m0-9v1m0-5v2m0-5v1m0-9v1m1 96v1m0-18v1m0-16v1m0-16v1m0-24v3m0-5v1m0-7v1m0-4v1m0-17v1m1 78v1m0-5v1m0-18v1m0-10v1m0-5v1m0-11v1m0-27v1m0-6v4m1 75v2m0-6v2m0-6v3m0-16v1m0-3v1m0-18v1m0-4v2m0-4v1m0-18v1m1 60v1m0-19v1m0-3v1m0-7v1m0-7v4m0-28v1m0-22v1m1 88v2m0-12v1m0-32v1m0-4v1m0-14v1m0-7v1m0-12v1m1 72v2m0-19v1m0-5v1m0-14v1m0-3v1m0-5v1m0-16v1m0-23v2m0-7v2m0-9v1m1 84v2m0-10v1m0-3v1m0-3v1m0-8v1m0-22v1m0-26v1m0-24v1m1 96v1m0-6v2m0-42v1m0-18v2m0-5v1m0-9v1m0-15v2m0-4v1m1 88v1m0-8v1m0-5v3m0-10v1m0-7v1m0-11v1m0-18v1m0-17v1m0-28v1m1 93v1m0-12v1m0-3v1m0-4v2m0-5v1m0-6v1m0-3v1m0-10v2m0-5v2m0-4v1m0-4v1m0-5v1m0-11v3m0-29v1m0-6v1m1 83v1m0-4v2m0-11v1m0-3v1m0-12v2m0-18v2m0-16v1m0-5v1m0-6v2m1 66v1m0-32v1m0-6v2m0-14v1m0-16v1m0-11v1m0-19v2m0-8v1m1 81v1m0-48v1m0-11v1m0-20v1m1 82v1m0-21v1m0-21v1m0-14v1m0-5v1m0-3v1m0-4v1m0-4v2m1 68v1m0-15v1m0-12v1m0-3v1m0-6v1m0-14v1m0-27v1m0-3v1m0-12v1m1 55v1m0-13v3m0-9v4m0-29v1m0-5v2m0-5v2m1 49v2m0-4v1m0-8v4m0-17v1m0-5v1m0-14v1m0-8v1m0-7v1m0-4v2m0-7v1m1 89v1m0-27v1m0-10v3m0-6v1m0-33v2m0-7v4m0-9v1m0-18v1m1 96v1m0-22v2m0-65v1m0-10v1m0-3v1m1 91v4m0-12v1m0-55v1m1 64v1m0-23v2m0-4v1m0-5v1m0-18v1m0-10v1m0-7v2m0-14v3m0-17v2m0-13v2m1 91v2m0-9v1m0-12v1m0-4v1m0-25v1m0-18v1m0-18v2m0-5v1m1 84v2m0-4v1m0-16v3m0-9v1m0-17v1m0-3v1m0-8v2m0-6v1m0-5v1m0-15v1m0-4v1m0-3v1m0-3v1m0-3v1m0-3v1m0-9v5m0-7v1m0-5v1m1 92v4m0-20v1m0-15v1m0-22v1m0-21v1m0-4v1m1 75v1m0-4v1m0-3v1m0-9v1m0-12v2m0-13v2m0-16v1m0-3v1m0-9v1m0-19v2m1 57v1m0-12v2m0-22v1m0-14v1m1 60v1m0-13v1m0-8v1m0-13v3m0-7v1m0-5v1m0-10v1m0-20v1m0-4v1m0-3v1m0-4v1m0-4v1m0-5v1m0-4v1m0-6v2m1 87v1m0-10v1m0-23v1m0-6v1m0-4v2m0-4v1m0-4v1m0-28v3m0-16v1m1 86v1m0-13v1m0-11v1m0-12v3m0-12v1m0-6v1m0-4v1m0-12v1m0-4v2m0-18v4m0-19v4m0-7v1m1 85v2m0-16v2m0-12v4m0-7v2m0-6v1m0-20v1m0-11v1m0-18v1m0-5v1m0-6v1m1 95v1m0-4v2m0-11v1m0-4v1m0-4v1m0-28v2m0-11v1m0-3v1m0-12v1m0-13v1m0-3v1m1 82v1m0-4v1m0-4v1m0-7v1m0-4v2m0-8v3m0-40v2m0-17v2m0-14v1m0-4v1m0-7v2m0-5v2m1 94v1m0-25v1m0-11v1m0-7v1m0-4v1m0-16v1m0-13v1m0-3v1m0-5v1m0-3v1m0-3v1m0-8v1m1 86v1m0-4v1m0-10v1m0-4v1m0-4v1m0-7v1m0-3v1m0-26v1m0-8v1m0-6v3m0-6v1m0-5v2m0-19v3m0-7v1m0-4v1m0-4v1m1 97v1m0-7v1m0-4v1m0-21v1m0-16v1m0-3v1m0-3v1m0-27v1m0-4v1m0-14v1m0-3v1m0-7v2m1 95v1m0-3v1m0-14v1m0-3v1m0-4v2m0-12v1m0-19v1m0-3v1m0-3v1m0-10v1m0-6v1m0-6v2m1 70v1m0-19v1m0-15v1m0-5v1m0-3v1m0-8v1m0-17v1m0-4v2m0-11v1m0-4v2m0-4v1m0-17v1m0-4v1m1 93v2m0-5v1m0-17v1m0-28v1m0-16v1m0-6v1m0-5v2m0-14v1m1 83v1m0-7v1m0-8v1m0-16v1m0-16v2m0-20v1m0-3v1m0-4v1m1 37v3m0-14v4m0-12v1m0-4v1m0-7v2m0-6v1m0-16v2m0-4v1m0-3v1m0-6v3m0-16v1m1 72v1m0-4v1m0-20v1m0-19v1m0-15v1m0-3v1m0-18v1m1 97v1m0-19v1m0-35v1m0-3v1m0-3v1m0-6v1m0-3v1m0-10v1m0-6v1m0-8v1m1 82v2m0-4v1m0-17v1m0-3v1m0-3v1m0-3v1m0-4v1m0-4v1m0-18v1m0-12v1m0-6v1m0-5v2m0-7v2m1 70v1m0-6v4m0-6v1m0-11v1m0-13v1m0-16v1m0-40v1m1 81v1m0-4v1m0-25v1m0-21v3m0-18v1m0-13v1m0-5v1m0-16v1m1 79v1m0-11v1m0-11v4m0-20v1m0-33v1m0-8v1m1 86v1m0-4v1m0-3v1m0-26v1m0-3v1m0-3v1m0-3v1m0-6v1m0-5v2m0-7v1m0-8v1m0-5v1m0-4v1m0-14v3m0-5v1m0-6v3m1 79v3m0-9v1m0-4v1m0-58v1m0-7v1m1 75v2m0-16v1m0-17v1m0-5v2m0-4v1m0-17v1m0-4v2m0-15v1m0-13v2m1 78v2m0-21v1m0-18v1m0-8v1m0-3v1m0-10v1m0-21v2m0-16v1m1 79v1m0-10v1m0-4v1m0-4v1m0-6v1m0-3v1m0-11v1m0-13v2m0-16v1m0-14v1m0-8v2m1 84v1m0-8v2m0-4v1m0-4v1m0-7v1m0-3v1m0-5v2m0-15v2m0-4v1m0-17v1m0-5v1m0-11v1m0-12v1m0-6v3m0-10v2m1 91v1m0-8v1m0-3v1m0-8v1m0-7v1m0-3v1m0-6v3m0-6v2m0-11v4m0-7v1m0-4v2m0-5v1m0-6v1m0-4v1m0-13v1m0-4v1m0-5v1m0-15v1m1 88v1m0-11v1m0-6v1m0-13v3m0-21v1m0-22v2m0-4v1m0-7v1m0-4v1m0-5v1m0-8v3m1 86v1m0-4v1m0-13v3m0-10v1m0-5v2m0-5v1m0-5v2m0-4v1m0-4v2m0-20v1m0-13v1m0-3v1m0-6v2m0-6v1m0-14v2m1 84v1m0-27v1m0-4v2m0-5v2m0-4v1m0-4v1m0-11v2m0-6v1m0-12v1m0-3v1m0-4v2m0-16v1m0-7v1m1 89v2m0-11v1m0-3v1m0-6v1m0-5v1m0-6v1m0-7v1m0-11v1m0-4v1m0-3v1m0-5v1m0-5v3m0-16v4m0-9v2m0-13v1m0-12v1m1 97v1m0-6v2m0-4v1m0-5v2m0-7v1m0-17v1m0-4v1m0-10v1m0-8v1m0-5v1m0-10v3m0-5v1m0-4v1m0-3v1m0-7v1m0-6v1m0-3v1m0-9v1m0-6v1m1 96v1m0-3v1m0-8v2m0-4v1m0-4v1m0-12v2m0-13v1m0-3v1m0-3v1m0-17v2m0-8v3m0-24v1m0-3v1m0-9v1m0-6v2m1 96v1m0-8v3m0-15v1m0-5v1m0-5v3m0-5v1m0-19v4m0-6v1m0-6v1m0-5v1m0-6v1m0-6v1m0-8v2m1 68v1m0-4v2m0-5v1m0-11v1m0-4v1m0-20v1m0-11v1m0-10v1m0-3v1m0-7v1m0-5v1m0-5v1m0-4v2m0-8v1m0-3v1m0-9v1m1 93v1m0-3v1m0-10v1m0-19v1m0-21v1m0-5v1m0-5v1m0-27v1m0-4v1m0-8v1m1 93v1m0-3v1m0-12v1m0-5v2m0-6v1m0-5v2m0-4v1m0-28v4m0-6v1m0-11v1m0-3v1m0-7v2m0-4v1m0-6v2m0-6v1m0-7v2m1 90v1m0-5v1m0-8v1m0-4v2m0-12v2m0-27v1m0-7v1m0-14v1m0-18v1m1 80v1m0-3v1m0-11v1m0-3v1m0-4v2m0-5v2m0-8v1m0-6v1m0-3v1m0-3v1m0-5v2m0-10v2m0-4v1m0-6v1m0-3v1m0-3v1m0-10v1m0-4v1m0-7v2m1 77v1m0-8v2m0-9v1m0-4v1m0-8v1m0-5v1m0-3v1m0-6v1m0-13v1m0-14v1m0-11v1m0-24v1m1 90v1m0-6v3m0-8v3m0-6v2m0-7v4m0-18v1m0-5v1m0-3v1m0-4v2m0-14v1m0-11v1m0-4v2m0-8v1m0-8v2m0-4v1m0-3v1m1 80v1m0-6v1m0-3v1m0-6v3m0-7v2m0-7v1m0-6v2m0-12v3m0-5v1m0-4v1m0-3v1m0-5v1m0-5v1m0-7v1m0-3v1m0-5v1m0-6v1m0-7v1m0-16v1m0-4v2m1 92v1m0-3v1m0-8v1m0-4v1m0-6v2m0-7v2m0-10v2m0-6v1m0-3v1m0-4v2m0-17v1m0-10v1m0-13v1m0-4v2m0-11v2m0-5v1m0-5v2m1 89v2m0-6v1m0-9v1m0-4v1m0-3v1m0-3v1m0-4v2m0-8v2m0-4v1m0-6v2m0-4v1m0-5v1m0-4v1m0-5v1m0-4v1m0-7v2m0-7v1m0-8v1m0-3v1m0-6v2m0-13v1m1 88v2m0-8v2m0-6v2m0-10v3m0-5v1m0-8v1m0-3v1m0-5v1m0-11v1m0-8v1m0-6v1m0-4v1m0-3v1m0-7v1m0-8v1m0-6v1m1 72v3m0-6v2m0-29v1m0-5v1m0-3v1m0-3v1m0-5v2m0-11v2m0-5v1m0-14v1m0-3v1m0-5v2m0-6v1m0-4v1m0-4v1m1 87v1m0-5v1m0-22v2m0-12v1m0-18v1m0-4v1m0-3v1m0-3v1m0-9v1m0-19v1m0-3v1m0-4v2m0-5v1m1 97v1m0-5v1m0-5v1m0-10v3m0-5v1m0-3v1m0-3v1m0-5v1m0-10v1m0-5v1m0-9v1m0-4v1m0-3v1m0-4v2m0-5v1m0-11v1m0-3v1m0-10v1m0-5v1m0-5v1m0-5v1m1 90v1m0-17v1m0-7v2m0-4v1m0-12v1m0-3v1m0-10v1m0-3v1m0-3v1m0-18v2m1 66v1m0-5v1m0-13v2m0-5v2m0-17v2m0-4v1m0-9v2m0-5v1m0-4v1m0-6v1m0-3v1m0-20v1m0-3v1m0-10v1m0-10v1m1 83v1m0-5v2m0-8v1m0-11v2m0-5v1m0-3v1m0-8v1m0-4v2m0-5v1m0-10v1m0-3v1m0-3v1m0-5v2m0-5v1m0-14v1m0-3v1m0-11v1m1 93v1m0-4v1m0-5v1m0-6v2m0-5v1m0-10v1m0-15v1m0-4v1m0-12v2m0-15v1m0-3v1m0-6v1m0-3v1m0-3v1m0-8v2m0-6v1m0-6v3m1 89v2m0-4v1m0-4v1m0-7v1m0-21v2m0-7v1m0-4v1m0-15v1m0-8v2m0-8v1m0-5v1m0-6v1m0-9v1m0-3v1m0-5v1m1 84v2m0-13v1m0-4v1m0-14v1m0-4v1m0-3v1m0-4v2m0-7v2m0-5v1m0-7v1m0-3v1m0-4v1m0-16v1m0-4v1m0-10v1m0-5v1m0-6v2m1 81v2m0-13v1m0-11v2m0-5v1m0-3v1m0-7v1m0-6v1m0-5v3m0-10v1m0-5v3m0-5v1m0-3v1m0-9v1m0-4v1m0-8v1m0-6v1m0-5v1m0-3v1m1 96v1m0-18v2m0-9v1m0-9v3m0-16v1m0-5v3m0-5v1m0-3v1m0-5v1m0-7v2m0-13v1m0-4v1m0-3v1m0-3v1m0-9v1m0-6v1m1 89v1m0-12v1m0-4v2m0-4v1m0-13v3m0-10v3m0-7v1m0-4v1m0-12v4m0-8v2m0-5v1m0-4v2m0-18v2m0-4v1m0-4v2m0-6v1m0-7v2m1 73v1m0-16v2m0-4v1m0-5v1m0-4v1m0-14v2m0-7v2m0-7v1m0-9v2m0-5v1m0-4v2m0-4v1m0-5v2m1 87v2m0-5v1m0-8v1m0-7v1m0-3v1m0-12v1m0-11v1m0-5v2m0-6v2m0-17v2m0-9v1m0-6v1m0-8v1m0-7v1m0-3v1m0-8v1m1 80v1m0-5v1m0-5v1m0-11v1m0-10v3m0-6v2m0-11v2m0-6v1m0-6v1m0-4v1m0-6v1m0-13v1m1 82v2m0-5v1m0-3v1m0-3v1m0-12v2m0-8v1m0-6v1m0-5v1m0-7v1m0-12v1m0-3v1m0-13v1m0-8v1m0-3v1m0-8v1m0-7v1m0-4v1m1 82v1m0-5v1m0-7v3m0-21v2m0-9v1m0-45v2m0-14v1m1 89v1m0-6v1m0-5v1m0-12v5m0-16v1m0-3v1m0-4v1m0-4v1m0-3v1m0-4v1m0-10v1m0-7v1m0-8v3m0-11v1m0-6v1m1 86v1m0-5v2m0-5v1m0-5v1m0-6v1m0-4v1m0-18v1m0-10v1m0-5v1m0-4v1m0-12v1m0-9v1m0-15v1m0-8v1m0-6v1m1 92v1m0-5v1m0-4v1m0-6v1m0-12v1m0-8v2m0-6v3m0-12v1m0-8v1m0-8v1m0-18v1m0-4v1m0-9v3m0-5v1m1 76v1m0-11v1m0-20v1m0-4v1m0-6v1m0-7v1m0-5v3m0-10v2m0-6v1m0-13v2m0-16v1"/>
<path stroke="#20d5e1" d="M0.5 93v1m0-3v1m0-17v1m0-4v1m0-21v1m0-22v1m0-17v2m1 80v1m0-11v2m0-8v2m0-10v2m0-14v1m0-35v1m0-18v2m0-12v1m1 94v2m0-12v1m0-22v2m0-28v1m0-8v1m0-3v1m0-5v1m1 65v1m0-3v1m0-17v3m0-7v1m0-3v1m0-5v1m0-16v1m0-7v2m0-6v1m0-9v1m0-15v1m0-5v1m0-4v2m0-4v1m0-3v1m0-3v1m0-3v1m1 93v1m0-13v1m0-5v1m0-6v1m1 23v1m0-18v2m0-13v1m0-4v2m0-12v1m0-3v1m0-43v2m1 80v1m0-3v1m0-16v2m0-7v1m0-10v1m0-22v1m0-9v1m1 49v1m0-5v1m0-5v1m0-12v3m1-27v1m0-15v1m0-3v1m0-4v1m0-16v1m1 80v1m0-26v1m0-19v1m0-16v1m0-11v1m1 76v1m0-7v1m0-3v1m0-6v1m0-29v2m0-13v1m0-5v1m0-20v1m0-4v1m1 77v1m0-4v1m0-4v1m0-12v1m0-4v1m0-35v1m0-3v1m0-22v1m0-18v1m1 93v1m0-41v2m0-10v1m0-12v1m0-8v1m0-16v1m0-18v1m1 86v1m0-24v3m0-33v1m0-3v1m0-23v1m0-10v1m1 96v1m0-18v2m0-13v1m0-9v1m0-4v1m0-30v1m0-6v1m1 54v1m0-64v1m0-4v1m0-15v2m1 96v1m0-21v1m0-6v1m0-4v1m0-21v1m0-3v1m0-12v1m0-13v1m0-5v1m1 63v1m0-17v1m0-41v1m0-5v1m0-3v1m0-12v2m0-5v2m0-9v1m1 95v1m0-4v1m0-14v1m0-6v1m0-12v1m0-3v1m0-5v1m0-37v1m1 52v1m0-12v2m0-39v1m0-19v1m1 86v1m0-12v1m0-5v1m0-3v1m0-35v1m0-6v2m0-8v3m0-7v1m0-6v1m0-13v1m1 82v1m0-29v1m0-13v1m0-15v1m0-39v1m1 91v1m0-13v1m0-52v1m0-20v1m0-15v1m1 87v1m0-8v1m0-25v4m0-17v1m0-20v1m1 70v1m0-17v1m0-7v1m0-3v1m0-8v1m0-21v3m0-20v1m0-9v1m1 74v1m0-3v1m0-23v1m0-32v1m0-3v1m0-30v1m0-4v2m1 83v1m0-30v1m0-13v2m0-7v1m0-32v1m0-4v2m0-4v1m1-9v1m1 94v1m0-6v2m0-10v1m0-56v2m0-5v2m0-20v1m1 15v1m1 72v1m0-47v1m0-3v1m0-4v1m0-4v1m0-4v1m0-9v1m0-26v2m0-10v1m1 94v1m0-63v1m1 21v1m0-14v1m0-23v1m1 77v1m0-7v1m0-78v1m1 78v1m0-7v1m0-4v1m0-11v1m0-3v1m0-3v1m0-65v1m1 75v1m0-9v1m0-41v1m1 31v1m0-19v2m0-13v1m0-3v1m0-4v1m0-4v2m0-5v1m0-4v1m0-7v1m0-3v1m1 80v1m0-22v1m0-21v2m0-5v1m1 25v1m0-43v2m0-17v1m0-15v1m1 74v1m0-37v1m0-4v1m1 52v1m0-14v1m0-5v1m0-3v1m0-12v1m0-9v1m1 22v1m0-11v1m0-14v2m0-8v1m0-6v1m0-3v1m0-5v1m0-15v1m0-4v1m1 71v1m0-6v1m0-8v1m0-21v4m0-12v1m0-18v1m0-3v1m0-4v1m0-27v1m0-3v1m1 87v2m0-78v1m1 29v2m0-17v1m0-5v1m0-15v1m1 77v1m0-23v1m0-4v2m0-24v1m1 40v1m0-20v1m0-19v1m0-3v1m0-18v1m0-15v2m0-13v1m1 59v2m0-4v1m0-13v1m0-19v1m1 42v2m0-16v1m0-10v1m0-11v1m0-24v1m0-5v1m0-7v1m0-7v1m1 11v1m1 16v1m0-7v1m0-12v1m1 59v1m0-5v1m0-15v1m0-44v1m0-3v1m1 48v1m0-4v1m0-12v1m0-47v1m0-4v1m1 54v1m0-12v1m0-23v1m0-20v1m1 54v1m0-38v1m0-8v1m1 50v1m0-14v2m0-41v1m1 80v1m0-20v1m0-28v1m0-21v1m0-3v1m0-3v1m0-14v1m1 64v1m0-25v2m0-12v1m0-5v1m0-23v1m0-14v1m1 83v3m0-5v1m0-3v1m0-7v2m0-10v2m0-10v2m0-19v3m0-18v1m1 48v1m0-13v1m0-13v1m0-3v1m0-4v1m0-16v1m0-14v1m0-3v1m1 66v1m0-10v1m0-4v1m0-11v1m0-17v1m0-16v1m0-25v3m1 56v1m0-9v1m0-8v1m0-16v1m0-37v1m1 93v1m0-37v1m0-30v1m0-5v1m1 69v1m0-39v1m1 4v2m0-15v1m0-3v1m0-20v1m0-29v1m1 87v2m0-4v1m0-32v1m0-30v1m1 48v1m0-51v3m0-30v1m1 93v1m0-7v1m0-3v1m0-60v1m1 60v2m0-12v1m0-28v1m0-4v1m0-11v1m1 57v1m0-17v1m0-51v1m0-16v1m0-4v1m1 83v1m0-3v1m0-22v1m0-30v1m0-20v1m1 66v1m0-13v1m0-12v2m0-19v1m0-4v1m0-34v1m0-3v1m1 60v1m0-5v1m0-12v1m0-44v1m0-19v1m1 35v1m0-4v1m0-6v1m1 68v1m0-14v1m0-16v1m0-4v1m0-21v1m0-4v2m0-14v1m0-5v2m1 66v1m0-8v1m0-43v1m0-19v2m0-13v1m0-14v1m1 71v1m0-6v1m0-3v1m0-31v1m1 58v1m0-3v1m0-4v1m0-18v1m0-4v1m0-17v2m0-21v2m0-22v1m1 79v1m0-54v1m0-4v1m0-15v2m0-12v1m1 74v1m0-13v1m0-19v1m0-22v3m0-6v1m0-26v1m0-4v1m1 70v1m0-10v1m0-3v1m0-3v1m0-27v1m0-4v1m0-19v1m0-19v1m1 85v1m0-11v1m0-12v1m0-19v1m0-15v1m1 51v1m0-8v1m0-14v1m0-3v1m0-22v1m1 49v1m0-14v1m0-3v1m0-18v1m0-22v1m0-29v1m0-10v1m1 67v1m0-18v1m0-9v1m0-22v1m0-3v1m0-4v1m0-24v1m1 80v3m0-8v1m0-13v1m0-4v1m0-7v1m0-4v1m0-11v1m0-22v2m0-4v1m0-10v1m1 57v1m0-4v1m0-44v1m1 75v1m0-3v1m0-10v1m0-15v1m0-4v1m0-13v1m0-10v1m0-9v1m0-18v1m0-15v1m1 85v1m0-5v1m0-4v2m0-21v1m0-8v1m0-3v1m0-4v1m0-34v1m0-5v1m0-19v1m1 94v1m0-43v1m0-21v1m0-6v1m0-25v1m0-4v1m1 93v1m0-12v1m0-17v1m0-14v1m0-16v1m1 37v1m0-51v1m0-18v1m0-3v1m0-4v1m1 82v1m0-7v1m0-3v1m0-4v1m0-13v1m0-7v1m0-16v2m0-45v1m1 85v1m0-30v1m0-16v1m0-4v1m0-21v1m1 40v1m0-8v1m0-31v1m0-22v2m0-4v1m0-3v1m1 91v1m0-3v1m0-21v1m0-10v2m0-7v1m0-21v1m0-6v1m0-21v1m0-15v1m1 93v1m0-15v1m0-3v1m0-29v1m0-8v2m1 52v1m0-3v1m0-11v1m0-14v1m0-10v2m0-23v1m0-34v1m0-4v1m1 91v1m0-24v1m0-24v1m0-5v1m0-6v1m0-13v1m0-6v2m0-11v1m1 75v3m0-10v1m0-14v1m0-26v1m0-18v1m1 66v1m0-44v1m0-35v1m1 59v3m0-16v1m0-26v1m0-37v1m1 75v1m0-22v1m0-9v1m0-3v1m0-52v1m1 75v1m0-62v1m1 54v2m0-4v1m0-26v1m1 37v2m0-4v1m0-57v1m0-13v1m1 13v1m1 54v1m0-18v1m0-7v1m0-8v1m0-43v1m1 71v1m0-4v2m0-14v2m0-17v1m0-26v1m0-5v2m0-21v1m0-3v1m1 6v1m0-7v1m1 94v2m0-17v1m0-22v1m0-40v1m1 75v1m0-14v1m0-23v1m0-16v2m0-20v1m0-23v1m0-9v1m1 95v3m0-41v1m0-4v2m0-24v2m0-30v2m1 51v1m0-5v2m0-22v1m0-11v1m1 57v4m0-34v1m0-3v1m0-15v1m1 15v1m0-3v1m0-17v1m1 51v1m0-9v1m0-6v1m0-11v1m0-16v1m0-19v1m0-6v2m0-4v1m0-19v1m1 83v1m0-6v1m0-5v2m0-23v1m0-4v1m0-10v1m0-4v2m0-7v2m0-4v1m0-19v2m0-8v1m1 71v2m0-4v1m1 13v1m0-25v1m0-38v1m0-5v1m0-9v1m0-3v1m0-23v1m1 34v1m1 33v1m0-15v2m0-21v1m0-10v1m1 66v1m0-22v2m0-52v1m0-14v1m1 83v2m0-28v1m0-3v1m0-19v1m0-33v1m0-15v2m1 91v1m0-12v2m0-36v1m0-6v1m0-5v1m0-9v1m0-6v1m0-3v1m0-16v1m1 18v2m0-11v1m0-3v1m0-4v2m0-14v2m0-4v1m1 72v1m0-40v1m0-29v1m0-5v1m1 51v1m0-27v1m0-15v1m1 58v1m0-43v1m0-5v2m0-20v1m1 80v1m0-4v1m0-21v3m0-42v1m1 60v3m0-35v1m0-14v1m0-5v1m0-4v1m0-15v1m0-19v1m0-7v1m1 91v1m0-16v1m0-9v1m0-26v1m0-3v1m0-15v1m0-16v1m1 83v1m0-8v1m0-9v1m0-14v2m0-11v1m0-13v1m0-7v3m0-7v3m1 56v1m0-18v1m0-16v1m0-15v1m0-28v1m0-4v1m0-23v1m1 84v1m0-4v1m0-34v1m0-5v1m0-26v1m0-12v1m0-6v2m1 62v1m0-8v1m0-12v1m0-14v1m0-24v1m1 82v1m0-8v1m0-6v1m0-18v1m0-6v1m0-4v1m0-8v1m0-18v1m0-6v1m0-30v1m1 85v1m0-28v1m0-10v2m0-25v1m0-20v1m0-5v1m0-4v1m1 88v1m0-14v1m0-27v1m0-4v1m0-12v1m1 47v3m0-10v2m0-20v1m0-19v1m0-3v1m0-19v1m0-13v1m1 42v2m0-45v1m0-10v1m1 91v1m0-8v2m0-4v1m0-4v1m0-42v1m0-6v1m0-9v1m0-28v1m1 67v1m0-18v1m1 27v1m0-6v1m0-47v1m0-19v1m0-4v1m0-5v2m1 88v1m0-29v1m0-11v2m0-7v1m0-15v1m0-3v1m0-6v1m0-3v1m0-3v1m1 69v2m0-34v3m0-7v1m0-16v1m0-20v1m0-4v1m0-11v1m0-6v1m0-10v1m1 97v1m0-5v3m0-5v1m0-4v1m0-5v1m0-11v1m0-18v1m0-24v1m0-17v1m0-14v1m1 90v1m0-3v1m0-13v1m0-35v1m0-7v1m0-28v2m0-7v1m0-5v1m0-4v1m1 44v2m0-37v1m1 62v3m0-6v2m0-15v1m0-15v1m0-5v1m0-4v1m0-18v2m1 53v1m0-10v1m0-34v2m0-11v2m1 25v1m1 19v1m0-8v1m0-16v1m0-39v1m0-3v1m1 80v1m0-6v1m0-3v1m0-59v1m0-9v1m0-7v1m0-3v1m1 78v1m0-15v1m0-14v1m0-5v1m0-4v2m0-7v2m0-7v1m0-5v1m0-9v1m0-3v1m0-5v1m0-16v1m1 76v1m0-7v1m0-9v1m0-50v1m0-7v1m0-19v1m0-3v1m1 92v1m0-3v1m0-3v1m0-21v1m0-7v1m0-4v1m0-15v1m0-19v1m0-17v2m1 69v1m0-10v1m0-50v4m0-21v1m1 6v1m1 46v1m0-6v1m0-3v1m0-19v2m0-31v1m0-3v1m0-6v2m1 92v1m0-18v1m0-8v1m0-18v1m0-7v1m0-7v1m0-23v1m0-10v1m0-5v2m0-8v3m1 92v1m0-4v1m0-4v1m0-4v1m0-3v1m0-14v4m0-10v1m0-8v1m0-6v1m0-3v1m0-3v1m0-7v2m0-10v1m0-13v1m0-3v1m0-9v3m0-5v1m0-8v1m0-3v1m0-5v1m1 93v1m0-4v1m0-19v1m0-6v1m0-7v1m0-6v1m0-7v1m0-10v1m0-4v1m0-15v1m0-3v1m0-4v1m0-3v1m0-13v1m0-4v1m0-3v1m1 85v1m0-4v1m0-7v2m0-7v1m0-11v1m0-4v1m0-10v1m0-4v2m0-5v1m0-5v1m0-5v1m0-22v3m0-7v2m1 74v2m0-4v1m0-8v1m0-6v1m0-12v2m0-8v2m0-23v2m0-18v1m0-19v1m1 93v1m0-6v1m0-10v1m0-4v1m0-13v1m0-11v1m0-4v1m0-7v1m0-9v1m0-9v1m0-3v1m0-6v1m0-9v2m0-12v4m0-9v2m1 90v1m0-20v1m0-42v1m0-18v1m0-7v1m0-7v1m0-5v2m1 91v1m0-12v1m0-4v2m0-7v1m0-3v1m0-5v1m0-4v2m0-6v2m0-10v1m0-18v2m0-6v1m0-19v1m0-6v1m0-12v1m1 97v1m0-3v1m0-8v1m0-14v1m0-33v1m0-3v1m0-5v1m0-9v1m0-5v1m0-11v1m0-5v2m0-11v1m1 79v1m0-7v1m0-11v1m0-25v1m0-5v1m0-14v2m0-15v1m0-7v1m1 89v2m0-10v3m0-7v2m0-14v2m0-5v1m0-5v3m0-17v1m0-5v1m0-8v1m0-6v2m0-6v1m0-9v1m0-4v1m0-8v1m0-3v1m0-12v1m1 94v1m0-22v2m0-18v2m0-14v1m0-3v1m0-3v1m0-4v2m0-7v1m0-5v2m0-11v3m0-10v1m1 80v1m0-5v1m0-3v1m0-20v1m0-3v1m0-7v1m0-5v1m0-10v1m0-9v2m0-4v1m0-14v1m0-4v1m0-14v2m0-5v1m0-9v1m1 92v1m0-9v1m0-10v1m0-10v1m0-5v1m0-18v1m0-5v1m0-6v1m0-26v1m1 54v1m0-5v2m0-15v1m0-9v1m0-4v1m0-4v1m0-7v1m0-4v1m0-7v1m0-10v1m0-4v1m0-6v1m1 89v2m0-7v1m0-4v1m0-14v2m0-16v1m0-5v1m0-3v1m0-8v1m0-5v1m0-3v1m0-5v1m0-6v1m0-6v1m0-6v1m0-6v1m0-13v1m1 85v2m0-5v1m0-9v1m0-9v1m0-4v1m0-27v2m1 44v1m0-3v1m0-10v1m0-5v1m0-7v1m0-9v1m0-11v1m0-4v1m0-5v1m0-5v1m0-3v1m0-16v1m0-8v1m0-12v1m1 94v1m0-4v1m0-16v1m0-18v1m0-18v2m0-4v1m0-5v1m0-11v1m0-10v2m1 46v1m0-8v1m0-14v1m0-6v1m0-9v1m0-6v1m1 65v1m0-4v1m0-4v1m0-35v1m0-3v1m0-51v1m1 89v1m0-7v1m0-30v1m0-5v2m0-7v1m0-4v1m0-5v1m0-17v1m0-3v1m0-10v1m0-3v1m0-5v2m1 78v1m0-51v1m0-21v1m0-14v1m1 86v1m0-7v1m0-18v1m0-3v1m0-14v1m0-6v1m0-4v1m0-4v1m0-3v1m0-16v2m0-31v2m1 94v1m0-12v1m0-6v1m0-3v1m0-5v1m0-6v1m0-12v2m0-22v1m0-13v1m0-11v1m0-5v1m0-9v1m0-3v1m1 90v1m0-11v1m0-5v1m0-4v1m0-19v1m0-15v1m0-3v1m0-15v1m0-10v1m0-4v1m0-5v2m0-11v2m1 88v1m0-5v2m0-28v1m0-5v2m0-22v1m0-8v1m0-8v2m0-7v1m0-5v1m0-4v1m0-5v2m0-6v1m1 91v2m0-4v1m0-4v1m0-7v1m0-11v3m0-10v1m0-22v2m0-7v1m0-4v1m0-3v1m0-3v1m0-5v1m0-10v1m0-7v1m1 79v2m0-4v1m0-7v2m0-28v2m0-4v1m0-14v1m0-7v1m0-4v1m0-13v2m0-8v1m0-6v2m0-9v1m0-6v2m0-6v1m1 79v1m0-4v2m0-18v2m0-5v1m0-7v1m0-15v2m0-25v1m0-6v1m0-9v2m1 94v1m0-12v1m0-4v2m0-4v1m0-7v1m0-20v1m0-9v1m0-5v3m0-9v1m0-7v1m0-5v1m0-5v1m0-3v1m0-15v1m0-3v1m0-6v1m1 95v1m0-6v1m0-24v1m0-6v1m0-3v1m0-5v1m0-4v1m0-5v1m0-10v1m0-8v1m0-24v1m1 79v1m0-10v2m0-6v1m0-4v2m0-10v2m0-4v1m0-15v1m0-5v1m0-3v1m0-10v2m0-15v2m0-7v1m0-9v1m0-6v1m0-6v1m0-3v1m1 96v1m0-5v2m0-18v1m0-28v1m0-13v1m0-6v1m0-6v2m0-18v1m0-3v1m0-7v2m0-4v1m1 92v2m0-22v1m0-6v1m0-5v1m0-7v4m0-11v3m0-12v1m0-3v1m0-8v1m0-13v1m0-4v2m0-10v1m0-4v1m0-5v2m0-6v1m1 96v1m0-7v2m0-14v1m0-6v1m0-7v3m0-10v1m0-25v1m0-3v1m0-14v1m0-16v1m0-4v2m1 81v1m0-3v1m0-9v2m0-20v1m0-11v1m0-3v1m0-6v1m0-6v4m0-14v1m0-6v1m0-7v2m0-4v1m0-7v1m0-10v1m1 96v1m0-5v1m0-9v1m0-3v1m0-4v1m0-15v1m0-3v1m0-21v1m0-26v1m0-3v1m0-4v1m0-3v1m0-5v1m1 89v1m0-6v1m0-3v1m0-6v1m0-9v1m0-3v1m0-7v1m0-5v1m0-14v2m0-10v1m0-8v2m0-4v1m0-5v1m0-6v1m0-7v1m0-4v1m0-3v1m1 72v2m0-4v1m0-7v1m0-13v1m0-6v1m0-8v2m0-6v1m0-3v1m0-7v1m0-4v1m0-3v1m0-20v1m0-6v1m0-10v1"/>
<path stroke="#34e4d9" d="M0.5 95v1m0-23v1m0-7v1m0-54v1m1 74v1m0-7v2m0-42v1m0-19v1m0-10v1m2 60v1m0-16v1m0-16v1m0-7v1m0-11v1m0-3v1m0-15v1m0-3v1m0-3v1m0-8v1m1 80v1m1 11v1m0-14v1m0-31v1m1 13v1m0-4v1m2 31v1m0-21v3m1 15v1m0-41v1m0-30v1m1 67v1m0-54v1m0-21v1m0-17v1m1 37v1m0-5v1m0-17v1m0-7v1m0-13v1m2 92v1m0-23v2m0-35v1m0-35v1m0-4v2m1 58v1m0-38v1m1 25v1m1 25v1m0-3v1m0-3v1m0-26v1m0-15v1m0-17v1m1-1v1m1 39v1m0-15v1m0-24v1m0-3v1m0-5v1m1 61v1m0-22v1m0-28v1m1 57v1m0-27v1m0-4v1m0-28v1m0-5v1m0-3v1m2 10v2m1 44v1m0-5v1m1-2v1m0-3v1m0-7v1m0-24v1m0-20v1m1 4v2m0-13v1m1 44v1m0-11v1m0-46v1m0-4v1m2 61v1m1 4v1m1-38v1m0-13v1m1-11v1m1 2v1m2-15v1m2 88v1m0-4v1m0-43v1m0-7v1m0-11v1m0-16v1m0-6v1m1 42v1m0-12v1m1-33v1m2 63v1m0-13v1m0-4v1m0-10v2m0-44v1m0-4v1m1 83v1m0-14v1m0-3v1m0-6v1m0-16v1m0-17v1m0-3v1m0-27v1m1 75v1m0-3v1m0-53v1m1 29v1m0-18v1m1-9v1m0-10v2m0-22v1m1 58v1m0-32v1m1 14v1m0-12v1m0-15v1m2-10v1m0-5v1m0-4v1m0-10v3m1 78v1m0-57v1m1 40v1m1 16v1m2-35v1m1 0v1m0-41v1m1 26v1m0-17v1m1 28v2m0-4v1m1 11v1m0-54v1m1 33v1m0-21v1m0-19v1m1 66v1m0-27v1m0-34v1m1 75v1m1-92v1m0-3v1m1 95v1m0-39v1m0-30v1m2 66v1m1-18v1m0-8v1m0-15v1m0-7v1m0-6v1m0-41v2m1 88v1m0-21v1m0-31v1m1-10v1m0-19v1m1 64v1m0-7v1m0-28v1m0-26v3m1 63v1m0-22v1m0-63v1m1 22v1m1 10v1m1 48v1m0-19v1m0-19v2m0-20v2m2 24v1m0-15v1m0-25v1m0-4v1m0-17v1m1 75v1m1-31v1m0-21v2m1 59v1m0-8v1m0-39v2m0-17v1m1 3v1m0-23v1m0-4v1m1 63v1m0-69v1m1 68v1m0-43v1m0-20v2m1 40v1m1 17v1m0-71v1m1 74v1m0-60v1m0-20v1m1 68v1m0-4v1m0-22v1m1 32v1m0-23v1m0-4v1m0-48v3m1 36v1m0-28v1m2 65v1m0-6v2m0-26v1m0-43v1m0-4v1m0-16v1m1 51v1m0-6v1m1-28v1m1 17v1m1 44v1m0-36v1m1 7v1m0-55v1m1 43v1m1 32v1m0-10v1m0-15v1m0-24v1m1 43v1m0-58v1m1 26v1m1 0v1m0-23v1m0-15v3m1 1v1m0-10v3m2 84v1m1-29v1m0-65v1m2 36v1m0-3v1m0-18v1m2 44v1m0-57v1m1 54v1m0-8v1m0-38v1m1 29v1m2 40v2m0-14v1m0-43v1m1 43v1m0-27v2m0-13v1m0-22v1m0-6v1m1 64v2m0-35v1m0-12v1m0-21v1m1 76v1m0-62v1m0-33v1m1 61v1m0-31v1m1 43v1m0-3v1m0-16v1m0-16v1m1-18v1m0-9v1m0-14v1m1 61v1m0-22v1m0-4v1m0-39v2m0-4v1m1 69v1m0-48v2m3 55v1m0-36v1m0-14v1m1 19v1m1 7v1m1-26v1m0-36v1m1 85v1m3-14v1m0-14v1m0-18v1m0-22v1m1 42v1m0-7v1m1-12v1m0-6v1m0-9v1m0-41v2m1 36v1m0-23v1m1 60v1m1-4v1m0-30v1m0-49v1m1 79v1m0-3v1m1 17v1m0-46v2m1 10v1m0-13v1m0-4v2m0-23v1m0-28v1m1 52v1m0-54v1m1 93v1m0-19v1m0-48v1m1 0v1m0-26v1m1 15v1m0-21v1m1 81v1m0-40v1m0-16v1m1 63v2m0-41v1m0-37v1m0-11v1m0-6v1m1 93v1m0-25v2m1 5v1m0-3v1m0-16v1m0-10v1m0-56v1m1 29v1m0-14v2m0-4v1m1 77v1m0-4v1m0-32v1m0-8v2m0-24v1m1-19v1m0-4v1m2 53v1m0-23v1m0-17v1m1 39v1m0-3v1m0-15v1m0-3v1m0-13v1m0-7v1m1 49v1m1 17v1m0-4v1m0-22v1m0-54v1m0-8v1m1 75v2m0-55v1m1 62v1m0-6v1m0-51v1m0-6v1m0-10v1m1 58v1m0-60v1m0-30v1m1 48v3m0-7v1m0-16v1m1 45v1m0-36v1m0-17v1m1 52v1m0-65v1m1 47v1m0-21v1m0-29v2m1 78v2m0-5v1m0-29v1m0-16v1m0-3v1m0-40v1m1 84v1m0-3v1m0-4v1m0-4v1m0-8v3m0-8v1m0-7v1m0-5v2m0-7v1m0-11v3m0-22v1m0-3v1m0-5v1m0-13v1m0-6v1m0-4v2m1 91v1m0-4v1m0-3v1m0-11v1m0-79v1m0-3v1m1 93v1m0-21v1m0-3v1m0-8v1m0-9v1m0-12v1m0-40v1m0-6v1m1 92v2m0-10v1m0-40v1m0-11v1m0-26v1m1 52v1m0-18v1m1 43v1m0-7v1m0-50v1m0-13v1m0-11v1m1 68v5m0-8v1m0-37v1m0-3v1m0-10v1m0-9v1m0-14v1m0-4v2m0-5v1m1 78v1m0-16v1m0-28v1m0-16v1m0-5v1m0-5v1m0-5v1m1 74v1m0-3v1m0-28v1m0-21v1m0-18v2m0-29v1m1 93v1m0-4v2m0-7v1m0-12v1m0-24v2m0-6v3m0-6v2m0-9v1m0-9v1m0-3v1m0-4v2m0-9v1m0-3v1m0-5v1m0-12v2m1 90v1m0-18v1m0-52v3m0-10v2m0-7v1m0-4v1m1 77v1m0-24v1m0-14v1m0-3v1m0-16v1m0-28v1m1 82v1m0-50v1m0-5v1m0-29v1m1 54v1m0-30v1m0-18v1m0-14v1m1 67v1m0-29v1m0-5v1m0-5v1m0-3v1m0-18v1m0-16v2m1 82v1m0-51v1m0-10v1m0-22v1m0-5v1m1 84v1m0-7v1m0-17v1m0-7v1m0-5v1m0-14v1m1 36v1m0-21v1m0-7v1m0-20v1m0-19v1m0-4v2m0-8v3m0-8v1m1 6v1m1 49v1m0-9v1m0-36v1m0-10v2m1 81v1m0-18v1m0-28v1m0-18v1m0-12v1m0-3v1m0-15v1m1 92v1m0-5v2m0-96v2m1 79v1m0-11v1m0-25v1m0-17v1m0-11v1m0-3v1m0-12v1m0-4v1m0-3v1m1 73v1m0-5v1m0-10v2m0-30v1m0-10v1m0-4v2m0-9v1m1 74v1m0-9v1m0-5v1m0-4v2m0-36v1m0-13v1m0-3v1m0-4v1m0-10v1m0-9v1m1 52v1m0-34v1m0-13v1m0-3v1m0-16v1m1 61v1m0-12v1m0-27v4m0-20v3m1 32v1m0-5v1m0-12v1m0-15v1m1 81v1m0-4v2m0-17v1m0-21v1m0-3v1m0-14v1m0-5v1m0-4v1m0-4v1m0-10v1m0-3v1m0-8v1m0-6v1m0-12v1m1 94v1m0-4v2m0-6v1m0-12v1m0-5v1m0-5v1m0-14v1m0-4v1m0-3v1m0-16v1m0-11v2m0-6v1m0-15v1m0-4v1m1 90v2m0-4v1m0-18v2m0-13v1m0-12v1m0-3v1m0-4v1m0-10v1m0-11v1m0-3v1m1 58v1m0-30v1m0-8v1m0-24v1m1 65v1m0-27v1m0-3v1m0-14v1m0-14v1m0-36v2m1 85v1m0-6v1m0-13v3m0-20v1m0-4v1m0-23v1m0-6v1m0-5v1m0-16v1m0-9v1m1 73v3m0-18v1m0-12v1m1 31v1m0-3v1m0-6v1m0-47v1m0-16v1m0-5v1m0-3v1m1 75v1m0-31v1m0-12v1m0-16v1m0-22v1m0-3v1m1 83v1m0-16v1m0-17v1m0-17v2m0-13v1m0-4v1m0-17v1m1 72v1m0-4v1m0-29v1m0-20v1m0-9v1m0-3v1m0-9v1m0-13v1"/>
<path stroke="#4af2cf" d="M0.5 32v1m1 52v1m0-69v1m0-5v1m2 0v1m1 27v1m2 23v2m4-46v1m0-22v1m6 74v1m1-50v1m1 53v1m0-19v1m0-6v1m1-1v1m1-26v1m2 21v1m1-9v1m0-47v1m1 97v1m0-32v1m0-40v1m1 11v1m2-38v1m1 90v1m2-53v1m7-13v1m4 12v1m1 24v1m0-53v1m1 49v1m10-10v1m0-50v1m4 81v2m3-19v1m1-46v1m1 51v1m0-52v1m0-29v1m12 83v1m0-19v1m0-24v1m2-24v1m4-18v1m4 23v1m0-6v1m1 34v1m1 7v1m1 8v1m0-3v1m1 13v1m0-85v1m4 89v1m0-28v2m4-23v1m1-14v1m1 63v1m0-25v1m0-45v1m3 69v1m1-98v2m6 39v1m0-40v1m2 84v1m1-6v1m1 2v1m0-49v1m2 58v1m1-7v1m1-84v1m6 29v1m1-27v1m7 29v1m0-18v1m4 56v1m2 0v1m0-26v1m0-31v1m1-28v1m3 20v2m1 62v1m2-15v1m1-9v1m1-2v1m0-49v1m4 45v1m0-41v1m0-10v1m1 80v1m0-31v1m3 29v1m1-49v1m0-32v1m1 30v1m1 47v1m3-1v1m0-6v1m0-28v1m0-52v1m1 81v2m1-12v1m2 14v1m0-18v1m0-73v1m1 88v1m0-18v1m0-39v1m2 33v1m0-52v1m1 19v1m0-29v1m0-5v1m1 79v2m0-49v1m0-11v1m1 61v1m1-62v1m0-4v1m0-3v1m0-34v1m1 45v1m0-34v1m2 83v1m0-36v1m0-23v1m2 38v1m0-30v1m1-22v1m1 9v1m0-3v1m0-26v1m1 42v1m0-7v1m0-14v1m2-25v1m1 86v1m0-46v1m0-9v1m1 40v1m0-69v1m1 64v1m0-12v1m0-24v1m0-9v1m0-39v1m1 90v1m0-17v1m0-51v1m0-25v1m1 92v1m0-25v2m0-28v1m0-22v1m0-6v1m0-5v1m1 45v2m2-23v1m0-13v1m1 32v1m0-23v1m0-38v1m1 44v1m0-23v1m0-17v1m1 82v1m0-8v1m0-22v1m1 15v1m0-28v2m0-37v1m1 25v1m0-40v2m1 33v1m0-6v2m0-18v1m0-8v1m1 72v1m0-50v1m0-33v1m1 69v1m0-9v1m0-12v1m0-47v1m1 54v1m0-50v1m1 66v1m0-11v1m0-4v2m0-33v1m1-33v1"/>
<path stroke="#60fac5" d="M0.5 94v1m32 4v1m10-1v1m1-1v1m13-1v1m0-9v1m16 7v1m1-1v1m1-48v1m4 46v1m7-38v1m3 35v1m11-93v1m7-2v1m2 92v1m0-94v1m5 93v1m23-42v1m1 40v1m2-1v1m3-1v1m0-35v1m2 33v1m0-70v1m15 68v1m4-57v1m4 55v1m0-6v1m0-64v1m0-3v1m0-3v1m0-11v1m3 16v1m2 33v1m6-15v1m5 44v1m2-51v1m0-3v1m2 16v1m1-57v1m1 34v1m5 23v1m3 31v1m1-81v1"/>
<path stroke="#74feba" d="M3.5 99v1m2-1v1m42-1v1m2-1v1m1-1v1m14-1v1m3-1v1m7-1v1m3-1v1m3-1v1m3-1v1m7-1v1m3-1v1m7-1v1m11-1v1m4-1v1m2-50v1m6 48v1m2-1v1m4-1v1m7-1v1m2-1v1m14-1v1m7-7v1m1-13v1m10 6v1m7 0v1m1 9v1m4-1v1m3-1v1m3-1v1m1-78v1m5 76v1m3-32v1"/>
<path stroke="#8bfeae" d="M1.5 99v1m5-1v1m3-1v1m1-5v1m2 3v1m1-1v1m1-1v1m11-1v1m1-1v1m1-1v1m6-1v1m2-1v1m1-1v1m1-1v1m1-1v1m10-1v1m5-1v1m1-1v1m7-1v1m7-1v1m8-1v1m5-1v1m1-1v1m2-1v1m1-1v1m7-1v1m2-1v1m1-1v1m2-1v1m1-1v1m1-1v1m11-1v1m7-1v1m5-1v1m5-1v1m1-1v1m7-1v1m8-1v1m4-1v1m2-1v1m4-1v1m4-1v1m1-1v1m2-1v1m1-1v1m2-1v1m1-1v1m9-1v1m4-1v1m9-1v1"/>
<path stroke="#a0faa1" d="M2.5 99v1m5-1v1m9-1v1m12-1v1m11-1v1m1-1v1m4-1v1m2-1v1m5-1v1m4-1v1m2-1v1m8-1v1m10-1v1m13-1v1m8-1v1m6-1v1m1-1v1m5-1v1m10-1v1m8-1v1m4-1v1m3-1v1m1-1v1m11-1v1m1-1v1m9-1v1m7-1v1m2-84v1m2 82v1m0-55v1m6 53v1m1-50v1m6 48v1m4-40v1m3-21v1m1 58v1m2-1v1m2-1v1m1-58v1m4 56v1m3-1v1"/>
<path stroke="#b4f295" d="M4.5 99v1m4-15v1m2 13v1m1-1v1m6-1v1m2-1v1m1-1v1m2-1v1m1-1v1m7-1v1m1-1v1m7-90v1m3 43v1m11 44v1m0-35v1m7 33v1m1-1v1m2-1v1m1-1v1m7-1v1m9-1v1m7-1v1m1-1v1m2-1v1m15-1v1m1-54v1m7 52v1m2-1v1m2-1v1m3-1v1m2-1v1m6-83v1m2 0v1m2 80v1m9-1v1m8-1v1m0-80v1m6-19v1m6 9v1m1 32v1m1 43v1m0-57v1m1 35v1m2 29v1m0-29v1m1 9v1m1-26v1m1 1v1m2-51v1m1 53v1m1-41v1m0-10v1m1 73v1m0-19v1m1-10v1m0-18v1m1 55v1m0-32v1m1 30v1m1-49v1m3 47v1m1-15v1m0-51v1m2 54v1m0-4v1m0-3v1m0-19v1m0-33v1m1 63v1m0-99v1m1 69v1m1-71v1m2 57v1m1-4v1m0-3v1m1 34v1m1-90v1m2 98v1m0-14v1m0-62v1m1 22v1m3 8v1m0-20v1m1 41v1m1 10v1m0-32v1"/>
<path stroke="#cbe486" d="M0.5 99v1m1-4v1m0-6v1m0-91v1m2 48v1m0-31v1m1 36v1m2-9v1m2 39v1m1-25v1m1-60v1m4 9v1m1 82v1m0-34v1m0-39v1m1 12v1m2 57v1m1-9v1m0-43v1m0-7v1m0-10v1m2 5v1m1 6v1m0-42v1m0-6v1m2 49v1m0-9v1m0-8v1m0-29v1m1 34v1m0-40v1m1 13v1m1 41v1m1-28v1m1-14v1m1 43v1m0-6v1m1-8v1m0-48v1m1 26v1m1-9v1m4 61v1m0-5v1m1 9v1m1-33v1m0-8v1m0-33v1m1 19v1m1 57v1m0-94v1m2 85v1m0-6v1m0-28v1m1-52v1m1 89v1m0-13v1m0-8v1m1-40v1m0-5v1m0-14v1m1 58v1m0-48v1m2 3v1m0-30v1m0-8v1m2 91v1m0-41v1m1 24v1m0-59v1m1 50v1m1-29v1m1 35v1m0-76v1m2 85v1m1 5v1m1-63v1m0-31v1m1 65v1m0-6v1m4 6v1m1-56v1m0-8v1m1 76v1m1-12v1m0-45v1m2-29v1m0-6v1m1 63v1m3 13v1m1-49v1m3 8v1m0-22v1m1 45v1m0-20v1m0-18v1m0-31v1m1 81v1m0-53v1m2 8v1m1 14v1m0-18v1m4 16v1m0-8v1m2 27v1m1 4v1m0-6v1m0-36v1m0-22v1m2 79v1m0-32v1m0-5v1m2-28v1m0-5v1m1 50v1m2-77v1m4 65v1m0-15v1m0-23v1m1 6v1m1-15v1m1 47v1m0-49v1m1 57v1m1 9v1m0-50v1m1 48v1m0-62v1m0-6v1m1 65v1m0-33v1m0-26v1m0-5v1m0-15v1m1 43v1m1-46v1m3 54v1m0-20v1m0-18v1m0-40v1m7 72v1m1 22v1m0-92v1m1 82v1m2-4v1m1 10v1m0-44v1m1-19v1m1 5v1m1 29v1m0-31v1m1 0v1m0-32v1m1 8v1m1 39v1m2 35v1m0-50v1m1 35v1m0-5v1m1-33v1m2-29v1m2 20v1m0-22v1m3 76v1m4-32v1m3-32v1m1-33v1m1 93v1m0-55v1m1 53v1m0-19v1m0-82v1m1 89v1m0-86v1m1 43v1m0-13v1m1 48v1m0-17v1m2 28v1m0-43v1m1-46v1m2 38v1m0-28v1m1 12v1m2-2v1m0-28v1m2 83v1m0-3v1m0-19v1m0-41v1m0-30v1m3 36v1m0-17v1m1 73v1m0-40v1m0-47v1m0-15v1m1 70v1m0-17v1m0-39v1m0-4v1m1 84v1m1-1v1m0-11v1m0-39v1m0-35v1m0-17v1m1 17v1m1-2v1m0-18v1m1 97v1m0-30v1m0-3v1m1 21v1m0-76v1m2 11v1m0-4v1m1 26v1m2 26v1m0-57v1m1 65v1m0-51v1m1 30v1m0-38v1m0-30v1m1 89v1m1-7v1m1-27v1m0-10v1m0-20v1m1 15v1m0-4v1m0-4v1m1 43v1m0-15v1m1 3v1m0-11v1m1 17v1m0-60v1m0-15v1m1 86v1m0-83v1m1 61v1m0-33v1m1 51v1m0-10v1m0-16v1m0-72v1m1 83v1m0-31v1m1-9v1m0-20v1m1 34v1m0-10v1m0-32v1m0-5v1m0-4v1m1-19v1m1 71v1m0-4v1m0-42v1m0-9v1m0-7v1m0-7v1m0-8v1m1 96v1m0-67v1m0-19v1m1 59v1m0-56v1"/>
<path stroke="#e0d377" d="M0.5 36v1m1 11v1m0-14v1m0-8v1m0-24v1m1 68v1m0-30v1m0-35v1m1 14v1m1 37v1m0-36v1m1 45v1m0-5v1m0-24v1m0-34v1m1 6v1m0-9v1m1 71v1m0-26v1m0-5v1m0-40v1m1 80v1m1-31v1m1-11v1m0-31v1m0-6v1m1 48v1m0-26v1m1 8v1m0-16v1m1 24v1m0-17v1m1 41v1m0-38v1m0-34v1m1 11v1m1 55v1m0-8v1m0-29v1m0-11v1m0-34v1m1 83v1m0-77v1m0-7v1m1 22v1m0-6v1m0-30v1m1 48v1m0-16v1m1 15v1m1 44v1m0-15v1m0-12v1m0-39v1m0-14v1m0-23v1m1 27v1m0-9v1m0-5v1m1 79v1m0-50v1m0-5v1m0-35v1m1 78v1m0-7v1m0-71v1m1 79v1m0-7v1m0-14v1m0-12v1m0-15v1m0-23v1m0-15v1m2 57v1m0-7v1m0-49v1m1 47v1m0-16v1m1 48v1m0-66v1m1 53v1m0-88v1m1 10v1m1 78v1m0-7v1m0-26v1m0-23v1m1 45v1m0-7v1m0-42v1m0-9v1m1 18v1m0-22v1m0-12v1m0-7v1m1 48v1m0-11v1m0-7v1m0-12v1m1 27v1m0-7v1m0-16v1m0-36v1m1 29v1m0-22v1m0-8v1m1 79v1m0-5v1m0-22v1m0-5v1m0-16v1m0-28v1m1 9v1m1 63v1m0-5v1m0-9v1m0-33v1m1 16v1m0-5v1m0-48v1m2 59v1m0-18v1m2-27v1m0-26v1m1 91v1m0-37v1m1 1v1m0-21v1m0-21v1m0-8v1m1 72v1m0-54v1m1 55v1m0-22v1m0-8v1m1 25v1m0-29v1m0-20v1m0-41v1m1 90v1m0-42v1m0-11v1m0-23v1m0-10v1m0-6v1m1 82v1m1-9v1m0-30v1m0-5v1m1-8v1m0-5v1m0-6v1m1 57v1m0-66v1m0-14v1m1 22v1m1 34v1m0-40v1m2 54v1m0-43v1m0-15v1m0-6v1m0-12v1m1 7v1m0-17v1m1 31v1m0-8v1m1-19v1m1 26v1m0-7v1m0-24v1m1 51v1m0-52v1m0-7v1m1 55v1m2-10v1m0-41v1m1 35v1m1 50v1m0-50v1m1 22v1m1 25v1m0-62v1m3 54v1m0-7v1m0-33v1m0-20v1m0-20v1m1 47v1m0-61v1m2 59v1m0-20v1m1-27v1m0-16v1m1 80v1m0-53v1m1 10v1m0-27v1m0-6v1m1 61v1m0-18v1m0-7v1m0-11v1m1-9v1m0-8v1m1-27v1m2 62v1m0-34v1m1 26v1m0-20v1m0-8v1m0-7v1m1-12v1m1 65v1m0-19v1m0-32v1m1 51v1m1-38v1m0-15v1m0-20v1m0-15v1m1 33v1m0-28v1m1 30v1m0-7v1m0-28v1m1 85v1m0-11v1m1-6v1m0-6v1m0-22v1m0-27v1m0-5v1m2-12v1m0-7v1m1 68v1m1-40v1m1 36v1m0-7v1m0-6v1m0-18v1m1 43v1m0-32v1m0-15v1m1 46v1m0-5v1m0-11v1m0-5v1m0-16v1m0-6v1m1 20v1m0-47v1m1 69v1m0-8v1m0-5v1m0-20v1m0-41v1m0-18v1m1 83v1m0-79v1m1 9v1m0-3v1m0-5v1m1 53v1m1 8v1m0-11v1m1-43v1m1 68v1m0-11v1m1-18v1m0-50v1m0-14v1m1 68v1m1-14v1m0-18v1m0-23v1m0-21v1m1 38v1m1 29v1m0-72v1m2 60v1m0-11v1m0-45v1m1 56v1m0-5v1m0-45v1m1 53v1m0-5v1m0-52v1m0-7v1m1 81v1m0-38v1m0-8v1m0-16v1m0-7v1m0-6v1m1 47v1m0-21v1m1 40v1m0-23v1m0-74v1m1 84v1m0-11v1m1 5v1m0-8v1m0-5v1m1-20v1m1 32v1m0-44v1m0-9v1m1 57v1m0-43v1m0-12v1m1-37v1m1 48v1m0-32v1m1 36v1m0-8v1m1 16v1m0-39v1m1 42v1m0-24v1m0-50v1m1 84v1m0-67v1m0-8v1m1 48v1m0-8v1m0-15v1m1 45v1m0-13v1m0-38v1m0-6v1m2 63v1m0-5v1m0-16v1m0-3v1m0-7v1m0-27v1m0-5v1m0-13v1m1 67v1m0-7v1m0-9v1m1-9v1m0-6v1m0-51v1m1 50v1m1 4v1m0-47v1m0-24v1m1 60v1m0-43v1m0-7v1m1 6v1m0-16v1m1 47v1m0-42v1m0-5v1m1 31v1m1 5v1m0-13v1m1 43v1m0-39v1m0-8v1m0-39v1m1 55v1m0-25v1m0-4v1m0-5v1m1 66v1m0-14v1m0-22v1m0-34v1m0-25v1m1 80v1m0-14v1m0-6v1m1-25v1m0-24v1m0-8v1m1 64v1m0-33v1m0-16v1m0-7v1m0-18v1m1 77v1m0-56v1m0-6v1m0-15v1m1 46v1m0-15v1m0-40v1m1 75v1m0-14v1m0-40v1m0-21v1m1 39v1m0-12v1m0-6v1m1 21v1m0-46v1m1 84v1m0-8v1m0-3v1m0-6v1m0-18v1m0-8v1m0-17v1m0-7v1m0-26v1m1 14v1m0-17v1m0-6v1m1 41v1m0-10v1m0-5v1m1-1v1m1 34v1m1-23v1m0-33v1m1 9v1m0-3v1m1 55v1m0-6v1m0-21v1m0-7v1m0-27v1m1 66v1m1-19v1m0-4v1m0-37v1m1 66v1m0-39v1m0-40v1m1 29v1m1 35v1m0-33v1m0-4v1m1 6v1m1 22v1m0-3v1m0-15v1m1 21v1m0-84v1m1 25v1m0-3v1m0-23v1m2 91v1m0-36v1m0-51v1m1 54v1m0-34v1m0-11v1m0-4v1m0-20v1m1 50v1m0-53v1m1 84v1m0-28v1m0-3v1m1 36v1m0-3v1m0-15v1m0-75v1m1 83v1m0-3v1m0-12v1m0-5v1m2-27v1m0-12v1m0-24v1m0-6v1m3 48v1m0-20v1m1 47v1m0-38v1m0-7v1m0-8v1m1-6v1m1 39v1m0-44v1m1 45v1m1-10v1m1 28v1m0-69v1m2 35v1m1 22v1m2-48v1m1 23v1m0-31v1m0-20v1m1 57v1m0-15v1m0-21v1m0-23v1m1 80v1m0-29v1m0-5v1m0-13v1m0-29v1"/>
<path stroke="#f4c069" d="M0.5 58v1m0-6v1m0-14v1m0-34v1m0-7v1m1 64v1m0-5v1m0-19v1m1 34v1m0-41v1m0-35v1m1 78v1m0-28v1m1-33v1m0-18v1m0-8v1m1 64v1m0-5v1m0-21v1m0-12v1m0-11v1m0-18v1m1 82v1m0-8v1m0-28v1m0-27v1m1 63v1m0-48v1m0-22v1m0-13v1m0-7v1m1 53v1m0-39v1m0-6v1m0-10v1m0-5v1m1 79v1m0-5v1m0-41v1m0-7v1m1 44v1m0-6v1m0-11v1m0-15v1m0-40v1m1 56v1m0-15v1m0-18v1m1 46v1m0-31v1m0-8v1m0-22v1m1 58v1m0-13v1m0-10v1m0-7v1m0-13v1m1 51v1m0-18v1m0-7v1m0-26v1m0-14v1m0-5v1m1 57v1m0-7v1m0-14v1m0-31v1m0-37v1m1 84v1m0-28v1m0-37v1m0-9v1m1 70v1m0-30v1m0-8v1m1 18v1m0-6v1m0-38v1m0-6v1m0-17v1m1 86v1m0-51v1m1 2v1m0-45v1m0-7v1m1 80v1m0-52v1m0-15v1m0-8v1m1 44v1m0-31v1m0-15v1m1 81v1m0-29v1m0-25v1m0-7v1m0-6v1m1 25v1m1 25v1m0-24v1m0-25v1m0-17v1m1 6v1m1 61v1m0-10v1m0-34v1m0-5v1m0-20v1m1 53v1m0-16v1m0-6v1m0-18v1m1 49v1m0-62v1m0-16v1m0-9v1m1 89v1m0-22v1m0-7v1m0-29v1m0-5v1m0-32v1m1 52v1m1-3v1m0-3v1m0-7v1m0-42v1m1 33v1m0-42v1m1 98v1m0-46v1m0-18v1m0-5v1m1 53v1m0-12v1m0-49v1m0-18v1m1 66v1m0-7v1m0-29v1m1-6v1m1 56v1m0-48v1m0-46v1m1 83v1m0-26v1m1 7v1m0-40v1m0-31v1m1 64v1m0-49v1m0-16v1m1 42v1m0-30v1m0-16v1m1 72v1m0-53v1m0-5v1m1 70v1m0-17v1m0-23v1m0-40v1m0-13v1m1 51v1m1 34v1m0-7v1m0-6v1m0-14v1m0-36v1m0-28v1m1 85v1m0-13v1m0-24v1m0-36v1m1 73v1m0-23v1m0-26v1m0-20v1m1 68v1m0-18v1m0-32v1m0-15v1m0-14v1m1 31v1m0-7v1m0-18v1m0-6v1m0-7v1m0-9v1m0-7v1m1 29v1m0-13v1m0-24v1m1 71v1m0-28v1m0-5v1m0-24v1m1 14v1m1 52v1m0-19v1m0-17v1m0-29v1m1-5v1m1 63v1m0-18v1m0-7v1m0-45v1m0-5v1m1 83v1m0-41v1m0-9v1m0-16v1m0-9v1m0-22v1m0-4v1m1 92v1m0-5v1m0-54v1m1 41v1m0-21v1m0-5v1m1-6v1m1 33v1m0-14v1m0-24v1m0-8v1m1 12v1m0-7v1m0-30v1m1 70v1m0-6v1m0-71v1m1 64v1m1-17v1m0-30v1m0-5v1m1 52v1m0-43v1m0-8v1m1 46v1m0-26v1m0-12v1m0-7v1m0-13v1m0-12v1m0-18v1m1 62v1m0-61v1m1 84v1m0-8v1m0-14v1m0-6v1m0-24v1m1 14v1m0-6v1m0-33v1m1 56v1m0-5v1m0-30v1m0-15v1m1 49v1m0-9v1m0-7v1m0-19v1m0-15v1m0-6v1m0-10v1m0-10v1m0-8v1m1 83v1m0-17v1m0-28v1m0-6v1m0-30v1m0-7v1m0-5v1m1 81v1m0-8v1m0-65v1m1 82v1m0-23v1m0-26v1m0-39v1m0-9v1m1 81v1m0-23v1m1-35v1m0-19v1m1 73v1m0-14v1m0-18v1m0-29v1m1 24v1m0-51v1m1 63v1m0-13v1m0-23v1m0-5v1m0-26v1m1 80v1m0-57v1m0-21v1m1 43v1m0-7v1m1 49v1m0-6v1m0-10v1m0-7v1m0-19v1m0-8v1m0-22v1m1 37v1m0-8v1m0-17v1m0-8v1m0-24v1m0-7v1m1 87v1m0-8v1m0-41v1m0-6v1m0-19v1m1 45v1m0-30v2m0-27v1m0-6v1m1 41v1m0-5v1m0-26v1m0-3v1m1 45v1m0-30v1m0-29v1m0-8v1m1 83v1m0-27v1m0-6v1m0-14v1m0-23v1m0-11v1m1 49v1m0-35v1m0-21v1m1 74v1m0-46v1m0-39v1m1 71v1m0-15v1m0-6v1m1 42v1m0-20v1m0-16v1m0-54v1m1 56v1m0-24v1m0-8v1m1 50v1m0-7v1m0-61v1m0-16v1m1 63v1m0-7v1m0-7v1m0-8v1m0-22v1m0-6v1m0-13v1m1 42v1m0-5v1m0-28v1m0-9v1m0-8v1m1 49v1m0-24v1m1 37v1m0-22v1m0-19v1m0-19v1m1 74v1m0-16v1m0-57v1m0-24v1m1 61v1m0-61v1m1 75v1m0-61v1m1 41v1m0-8v1m0-6v1m0-8v1m0-7v1m0-21v1m1 62v1m0-27v1m0-7v1m0-14v1m0-5v1m0-11v1m0-12v1m1 53v1m0-31v1m1 19v1m1 39v1m0-4v1m0-33v1m0-5v1m0-25v1m0-9v1m0-6v1m1 74v1m0-8v1m0-11v1m0-16v1m0-54v1m1 75v1m0-22v1m0-34v1m1 38v1m0-11v1m0-6v1m0-23v1m1 62v1m0-22v1m0-35v1m0-24v1m0-7v1m1 73v1m0-62v1m0-11v1m1 28v1m0-11v1m0-5v1m1 43v1m0-13v1m0-17v1m0-6v1m0-7v1m0-8v1m0-14v1m0-3v1m1 75v1m0-5v1m0-21v1m0-8v1m0-16v1m0-28v1m1 71v1m0-16v1m0-33v1m0-22v1m1 79v1m0-6v1m0-66v1m1 21v1m0-7v1m1 45v1m0-10v1m0-13v1m0-26v1m0-28v1m1 78v1m0-8v1m0-9v1m0-31v1m0-11v1m0-29v1m0-7v1m1 73v1m0-17v1m0-8v1m0-10v1m0-5v1m0-21v1m0-8v1m0-11v1m1 84v1m0-13v1m0-21v1m0-8v1m0-7v1m0-8v1m0-7v1m0-7v1m0-23v1m0-6v1m1 28v1m0-6v1m2 65v1m0-13v1m0-34v1m0-33v1m0-7v1m1 87v1m0-30v1m0-8v1m0-8v1m0-31v1m0-5v1m1 74v1m0-7v1m0-11v1m0-10v1m0-7v1m0-13v1m0-29v1m0-16v1m1 52v1m0-53v1m0-6v1m1 76v1m0-5v1m0-18v1m0-22v1m0-5v1m0-35v1m1 88v1m0-6v1m1-4v1m0-6v1m0-22v1m0-18v1m0-7v1m0-30v1m1 85v1m1 5v1m0-8v1m0-16v1m0-5v1m0-65v1m1 83v1m0-37v1m1 39v1m0-7v1m0-45v1m0-6v1m0-22v1m1 64v1m1-8v1m0-10v1m0-33v1m0-6v1m0-19v1m1 78v1m0-7v1m0-29v1m0-10v1m0-11v1m1 24v1m0-7v1m0-8v1m0-19v1m1 59v1m0-14v1m0-9v1m0-5v1m0-19v1m0-7v1m0-11v1m0-25v1m1 37v1m1 16v1m0-8v1m0-11v1m0-16v1m1 61v1m0-30v1m0-13v1m1 23v1m0-7v1m0-33v1m1 39v1m0-5v1m0-41v1m1 41v1m0-51v1m0-5v1m1 70v1m0-17v1m0-27v1m0-17v1m1 60v1m0-34v1m0-24v1m1 47v1m0-57v1m0-7v1m0-8v1m1 65v1m1-1v1m0-16v1m0-33v1m1 35v1m0-34v1m1 37v1m1-60v1m1 60v1m0-5v1m0-5v1m1 9v1m0-47v1m0-6v1m0-15v1m1 69v1m0-22v1m0-10v1m0-10v1m0-6v1m0-30v1m0-15v1m1 60v1m0-30v1m0-16v1m1 52v1m0-6v1m0-48v1m1-10v1m1 43v1m0-12v1m1 43v1m0-42v1m0-13v1m0-26v1m2 81v1m0-46v1m0-31v2m0-12v1m2 38v2m0-16v1m0-14v1m2 28v1m1 19v1m0-39v2m0-17v2m1 38v1m1-54v2m1 10v2m1 54v2m0-21v2m0-25v1m0-22v1m1 61v1m0-9v1m0-17v1m2 37v1m2-32v1m1 22v1m0-6v2m2 15v1m0-51v1m0-8v2m1 35v1m1 23v2m0-7v1m0-53v1m3 47v1m0-35v1m0-7v1m1 32v1m1 18v1m0-4v1m0-34v1m1 10v1m0-7v1m0-50v1m1 75v1m1-46v1m0-23v1m1 52v1m0-17v1m0-18v1m1 43v1m0-65v2m0-10v1m2 51v1m0-48v2m1 65v1m0-27v2m0-29v1m0-33v1m2-2v1m1 90v1m0-16v1m0-11v2"/>
<path stroke="#ffa759" d="M0.5 85v1m0-8v1m0-37v1m0-19v1m0-8v1m0-14v3m1 87v1m0-39v1m0-5v1m0-21v1m0-3v1m0-27v1m0-3v1m1 85v1m0-32v1m0-7v1m0-12v1m0-32v1m1 69v1m1 12v1m0-7v1m0-65v1m0-6v1m1 69v1m0-52v1m1-18v1m1 68v1m0-40v1m1 19v1m0-7v1m0-11v1m1 12v1m0-4v1m0-60v1m1 48v1m1 17v1m0-8v1m0-6v1m0-31v1m1 60v1m0-11v1m0-63v1m0-12v1m0-6v1m1 76v1m0-12v1m0-9v1m0-11v1m0-33v1m0-8v1m1 5v1m1 51v1m0-25v1m0-14v1m0-3v1m1 55v1m0-56v1m0-22v1m0-6v1m1 72v1m0-62v4m1 49v1m1-48v1m0-5v1m1 50v1m0-5v1m0-16v1m1 38v1m0-22v1m0-23v1m0-20v2m0-6v1m1 53v1m0-7v1m0-15v1m1 12v1m0-17v1m0-40v1m1 25v1m1 49v1m0-47v1m0-47v2m1 75v1m0-7v1m0-13v1m0-6v1m0-18v1m0-14v1m1 68v1m0-84v1m0-5v1m1 57v1m0-3v1m0-9v1m0-20v1m0-28v1m0-6v1m1 80v1m0-11v1m0-7v1m0-20v1m0-5v1m0-28v1m0-5v1m0-5v1m1 81v2m0-23v1m0-10v1m0-26v1m0-22v1m0-7v1m0-7v1m1 88v1m0-7v1m0-7v1m0-8v1m0-34v1m0-33v1m1 59v1m0-33v1m0-3v1m0-3v1m1 36v1m0-13v1m0-8v1m0-24v1m0-4v1m1 24v1m0-8v1m1 47v1m0-10v1m0-18v1m0-48v1m0-12v1m0-8v1m1 87v1m0-7v1m0-40v1m0-44v1m1 22v1m0-5v1m0-12v2m2 59v1m0-13v3m0-5v1m0-32v1m1 1v1m0-6v1m0-6v1m1 67v1m0-61v1m1 16v1m0-17v1m1-23v1m1 93v1m0-55v1m0-7v1m0-14v1m0-6v1m0-19v1m1 83v1m0-5v1m0-21v1m0-27v1m0-11v1m0-6v1m0-21v1m1 93v1m0-56v1m0-12v2m0-5v1m0-24v1m1 84v1m0-3v1m0-14v1m0-57v2m0-15v1m1 61v1m0-15v1m1-9v1m0-6v1m0-4v2m0-11v1m0-21v1m1 87v1m0-5v1m0-14v1m0-34v1m0-11v1m0-28v3m1 83v1m0-30v1m0-11v1m0-3v1m0-17v1m0-28v1m1 77v1m0-4v1m0-15v2m0-6v1m0-45v1m0-4v1m1 70v1m0-15v1m0-6v1m0-5v1m0-30v1m1 42v1m0-33v1m2 40v1m0-50v1m1 31v1m0-12v1m0-18v1m0-25v1m0-13v1m1 84v1m0-3v1m0-35v1m0-26v1m0-16v1m0-6v1m0-11v1m1 36v1m0-3v1m0-14v1m0-15v1m0-3v1m1 48v1m0-16v1m0-5v1m0-15v1m1 66v1m0-16v1m0-46v1m0-20v1m1 76v1m0-7v1m0-11v1m0-41v1m0-9v1m0-9v1m1 47v1m0-40v1m0-6v1m1 36v1m0-3v1m1-23v1m0-19v1m1 24v1m0-4v2m0-4v1m0-27v1m1 68v1m0-35v1m1 10v1m0-17v1m1 13v1m0-20v1m1 50v1m0-5v1m0-72v1m1 76v1m0-8v1m0-22v1m0-8v1m0-32v1m0-19v1m1 77v1m0-41v1m0-19v1m1 38v1m1 26v1m0-30v1m1 27v1m0-38v1m0-15v1m0-5v1m0-29v1m1 60v1m0-29v1m0-11v1m0-5v1m0-25v1m1 79v1m0-5v1m0-18v1m0-39v1m0-3v1m0-8v1m1 81v1m0-8v1m0-11v1m0-45v1m1 49v1m0-14v1m0-7v1m0-10v1m0-25v1m0-11v1m0-7v1m1 41v1m1 33v1m0-5v1m0-18v1m0-33v1m0-20v1m0-11v1m1 60v1m0-49v1m0-8v1m1 4v1m0-6v1m1 67v1m1-14v1m0-27v1m1 35v1m0-7v1m0-48v1m1 36v1m0-6v1m0-30v1m1 48v1m0-3v1m0-28v1m0-7v1m1 30v1m0-37v1m0-34v1m1 50v1m0-6v1m0-14v1m0-19v1m1 66v1m0-24v1m0-19v1m0-7v1m0-18v1m0-6v1m1 16v1m0-3v1m0-25v1m1 3v1m1 66v1m0-3v1m0-3v1m1-32v1m0-8v1m0-40v1m1 88v1m0-7v1m0-80v1m1 72v1m0-59v1m1 32v1m0-37v1m0-13v1m1 73v1m0-11v1m0-3v1m0-3v1m1-9v1m0-30v1m1-2v1m0-7v1m1 72v1m0-7v1m0-23v1m0-5v1m2 27v2m0-92v1m1 66v1m0-22v1m1 42v1m0-7v1m0-7v1m0-33v1m1 50v1m0-28v2m0-32v1m0-35v1m0-6v1m1 71v1m0-25v1m0-5v1m0-11v1m0-24v1m1 30v1m0-8v1m0-21v1m1-14v1m1 74v1m0-3v1m0-46v1m1 61v1m0-5v1m0-27v3m0-19v2m0-23v1m0-26v2m1 65v1m0-7v1m0-21v1m1 29v1m0-18v1m0-45v1m0-4v1m1 74v1m0-13v1m0-5v1m0-8v1m0-3v1m0-15v1m1 52v1m0-17v1m0-33v1m0-17v1m1 33v1m0-66v1m1 58v1m0-44v1m1 74v1m0-3v1m0-13v1m0-8v1m0-44v1m0-21v1m1 55v1m0-8v1m0-13v1m1 47v1m0-18v1m0-20v1m0-45v1m1 62v1m0-20v1m0-42v1m0-5v1m1 70v2m0-4v1m0-10v1m0-3v1m0-7v1m0-24v1m0-7v1m0-10v1m0-16v1m0-6v1m1 73v1m0-7v1m0-23v2m1 18v1m0-40v1m0-25v1m1 29v3m1 32v2m0-56v1m0-4v1m1 70v1m0-6v1m0-30v1m0-9v1m1 16v1m0-10v1m0-34v1m0-4v2m1 12v1m2 54v2m0-4v1m0-30v1m0-33v1m1 58v1m0-25v1m0-25v1m0-4v1m0-8v1m0-14v1m1 54v1m1-26v1m0-4v1m0-7v1m1-12v3m0-9v1m0-8v1m1 83v1m0-24v1m0-27v1m0-7v1m1 32v1m0-10v1m0-31v1m0-3v1m0-27v1m1 31v1m0-18v1m1 67v1m0-13v1m1-14v1m0-3v1m1 16v1m0-8v1m0-30v1m0-28v1m1 74v1m0-31v1m1 30v1m0-16v1m0-35v1m1 41v1m0-28v1m1 21v1m0-16v1m0-5v1m0-50v1m0-5v1m0-3v1m1 81v1m0-16v1m0-6v1m0-6v1m1 32v1m0-11v1m0-79v1m1 58v3m0-14v1m0-8v1m0-34v1m0-12v1m1 54v1m0-8v1m0-10v2m0-4v1m0-42v1m1 62v1m0-41v1m0-20v1m1 84v1m0-4v1m0-3v1m0-27v1m0-22v1m0-31v1m1 66v1m0-36v1m0-13v1m0-26v1m1 80v1m0-15v1m0-46v1m0-19v1m1 60v1m0-15v1m0-22v1m0-19v1m0-6v1m1 78v1m0-10v1m0-8v1m0-19v1m0-21v1m0-33v1m1 77v1m0-14v1m1-9v1m0-4v1m1-7v1m0-3v1m0-3v1m0-45v1m1 35v1m0-10v2m1 12v1m1 43v1m0-54v1m1 33v1m1 8v1m0-6v1m0-21v1m0-48v1m1 45v2m1 26v2m1-24v1m0-32v1m0-24v1m1 58v1m0-7v2m0-43v1m0-10v1m1 47v1m1-46v1m0-6v1m1 83v1m0-26v1m1 20v1m0-65v1m1-5v2m0-12v1m0-7v1m2 95v1m0-6v1m0-23v2m0-10v1m0-54v1m1 75v1m0-39v1m0-14v1m0-31v1m1 48v1m0-28v2m0-27v1m1-1v1m1 92v1m0-91v1m1 83v1m0-15v1m0-54v2m0-6v2m1 68v1m0-23v2m0-30v1m1 17v1m0-22v1m0-30v2m1 62v1m0-8v1m0-50v2m1 74v2m0-48v1m1 45v1m0-17v1m0-13v1m0-59v1m1 80v1m0-81v1m1 70v1m0-45v2m0-14v1m1 57v1m0-9v1m0-16v1m0-30v2m0-16v2m1 71v2m0-14v1m0-17v1m0-29v2m1 62v1m0-57v1m1 45v1m0-47v1m1 56v1m0-88v1m2 75v1m0-33v1m0-20v1m1 68v1m0-32v1m0-11v2m0-32v1m1 62v2m0-90v1m1 54v1m0-39v1m1 58v1m0-13v2m0-35v1m0-21v1m0-13v1m1 90v1m0-18v1m0-16v1m0-39v1m0-6v2"/>
<path stroke="#ff8c49" d="M0.5 84v1m0-38v1m0-45v1m1 91v1m0-4v2m0-47v1m0-14v1m0-4v1m0-3v1m0-27v1m1 88v1m0-15v1m0-4v2m0-22v1m0-4v2m0-12v1m0-33v1m0-5v3m1 46v2m0-34v2m0-4v1m1 66v1m0-26v1m0-3v1m0-3v1m0-34v2m0-25v1m1 88v1m0-20v2m0-57v3m0-19v1m1 47v3m0-30v3m1 64v1m0-33v1m0-13v1m0-26v2m1 63v3m0-85v2m1 76v1m0-3v1m0-14v2m0-7v1m0-7v1m1 20v1m0-4v2m0-67v1m0-3v1m1 62v1m0-3v1m0-34v1m1 37v1m0-20v3m0-13v1m0-22v1m0-4v1m1 59v1m0-12v3m0-10v1m0-5v2m0-12v2m0-4v1m1 49v1m0-3v1m0-19v1m0-26v1m0-31v2m0-5v2m1 69v1m0-3v1m0-18v1m0-37v1m0-4v1m0-22v1m1 76v1m0-3v1m0-41v1m0-3v1m0-14v1m0-17v4m1 74v4m0-25v1m0-56v1m1 54v2m0-4v1m0-36v4m0-8v1m1 64v1m0-3v1m0-43v2m0-31v1m0-3v1m1 32v1m0-32v1m0-6v1m1 61v1m0-5v3m0-16v1m0-12v1m0-15v3m0-15v3m0-13v1m0-6v3m1 82v1m0-7v1m0-15v2m0-4v1m0-11v1m0-16v6m0-35v1m1 74v3m0-44v1m0-5v3m0-10v2m1 42v2m0-48v2m0-5v2m0-30v4m0-13v1m1 88v2m0-11v1m0-22v4m0-16v2m0-5v2m0-17v4m0-16v1m0-16v2m1 54v1m0-27v1m0-13v4m0-20v1m1 69v1m0-12v1m0-20v1m0-3v1m0-25v4m1 61v1m0-21v1m0-9v1m0-5v2m0-16v1m1-7v1m0-13v1m0-5v2m1 77v1m0-6v2m0-19v1m0-4v2m0-11v1m0-23v2m1 49v1m0-35v3m0-5v1m0-18v1m0-31v1m1 68v1m0-19v2m0-23v1m0-3v1m0-21v1m1 65v1m0-18v1m0-9v1m0-4v1m0-15v3m0-15v2m1 23v3m0-5v1m0-19v2m0-5v1m0-15v1m0-4v1m1 32v4m0-19v1m1 27v3m0-5v1m0-16v2m0-41v3m1 79v3m0-48v1m0-4v1m0-26v3m0-6v1m1 85v2m0-10v1m0-3v1m0-24v1m0-15v1m0-36v4m1 78v1m0-38v1m0-3v1m0-33v2m1-23v1m1 87v1m0-27v1m0-9v2m0-22v1m0-6v1m0-24v4m1 70v1m0-6v1m1 11v4m1-21v1m0-12v1m0-39v1m0-11v2m0-14v1m1 85v1m0-5v3m0-53v1m0-32v2m1 89v1m0-3v1m0-31v5m0-25v1m0-3v1m0-13v2m0-28v2m1 84v1m0-3v1m0-25v1m0-4v2m0-4v1m0-16v1m0-3v1m0-19v1m0-3v1m0-4v1m1 73v1m1-5v1m0-19v1m0-61v4m0-6v1m1 85v3m0-11v1m0-28v2m0-16v2m0-13v1m0-22v1m0-5v1m0-7v1m1 67v1m0-14v1m0-17v2m0-4v1m0-32v3m1 76v2m0-5v2m0-17v3m0-49v1m0-22v1m1 93v1m0-20v1m0-26v1m0-15v1m1 37v1m0-24v1m0-5v2m0-10v1m0-14v5m0-20v1m0-7v1m1 77v3m0-64v1m0-15v3m1 4v1m1 79v2m0-27v1m0-49v1m0-23v2m1 91v1m0-43v1m1 30v1m0-25v1m0-18v2m0-4v1m0-14v3m0-17v1m0-3v1m0-3v1m1 63v1m0-4v2m0-18v2m0-54v4m1 43v1m0-5v3m0-12v1m0-3v1m0-25v1m1 76v2m0-19v1m0-31v1m0-16v1m1 64v2m0-19v1m0-37v1m0-3v1m0-9v1m0-12v1m0-3v1m0-3v1m1 66v3m0-5v1m0-17v1m0-21v1m0-8v1m0-24v1m0-3v1m1 54v1m0-31v2m0-17v2m0-5v2m0-12v1m1 81v3m0-49v1m0-4v1m0-33v1m1 75v1m0-26v1m0-4v1m0-13v4m0-12v1m0-5v3m0-19v4m1-17v2m1 65v1m0-4v1m0-60v1m0-4v1m1 63v5m0-17v1m0-3v1m1 30v1m0-46v4m0-43v1m1 69v1m0-5v1m0-38v4m0-11v1m0-3v1m1 63v2m0-5v2m0-42v1m0-25v1m1 74v1m0-5v3m0-33v3m0-26v1m1 35v1m0-5v2m0-61v1m0-3v1m0-7v1m1 78v1m0-35v1m0-40v1m1 55v1m0-19v2m0-4v1m0-18v2m0-5v1m0-11v1m0-3v1m1 56v2m0-20v2m0-27v1m0-23v2m2 43v1m0-21v3m0-13v1m1 79v1m0-24v1m0-21v1m0-14v2m0-20v1m1 53v1m0-25v1m0-3v1m0-11v3m0-6v2m0-8v3m0-6v2m1 62v1m0-60v1m0-35v1m1 78v1m0-16v1m0-5v1m1 30v1m0-45v1m0-3v1m0-20v5m1 58v1m0-16v1m0-19v3m0-15v3m0-6v1m0-11v2m0-5v1m0-27v1m1 92v1m0-6v1m0-70v2m0-6v1m1 58v3m0-13v1m1 19v2m0-10v1m0-3v1m0-16v1m0-20v3m0-25v3m0-14v1m1 67v1m0-6v1m0-60v2m0-5v1m1 54v2m0-20v1m0-4v1m0-7v1m0-3v1m0-14v1m0-18v1m1 73v1m0-47v2m0-8v1m0-8v1m1 73v2m0-18v1m0-11v1m0-15v1m0-7v1m0-16v2m0-22v2m1 64v1m0-13v4m0-16v1m1 30v1m0-61v1m1 40v2m0-4v1m0-40v1m0-23v1m1 48v2m1-20v2m0-13v1m0-15v1m1 66v1m0-10v1m0-3v1m0-12v1m0-17v3m0-5v1m0-13v1m1 66v1m0-18v3m0-22v1m0-18v1m0-13v1m0-23v1m1 81v1m0-3v1m0-30v1m0-10v1m0-49v1m1 90v1m0-16v1m0-49v3m0-9v1m1 67v2m0-12v5m0-23v1m0-11v1m0-15v3m0-14v4m1 59v1m0-17v1m0-26v1m0-33v2m1 48v1m0-3v1m0-18v2m0-23v3m1 44v1m0-41v4m1 57v1m0-28v2m0-29v1m0-3v1m0-13v1m1 43v2m0-4v1m0-17v1m0-43v1m0-5v1m1 80v1m0-22v1m0-44v3m0-17v1m1 57v4m0-43v1m0-6v2m0-22v6m1 79v1m0-13v1m0-4v2m1 6v1m0-4v2m0-21v3m0-20v4m0-24v3m0-15v1m0-12v1m1 83v1m0-7v1m0-36v2m0-17v3m1 42v3m0-50v1m0-18v1m0-4v1m1 77v1m0-24v1m0-3v1m0-4v2m0-41v1m1 74v2m0-25v1m0-3v1m0-17v4m0-42v3m1 78v1m0-27v1m0-3v1m1-2v1m0-49v1m0-3v1m0-12v1m1 89v2m0-4v1m0-3v1m0-14v2m0-21v1m0-6v3m0-15v2m0-13v1m1 59v4m0-16v2m0-5v2m0-32v1m0-35v1m1 80v2m0-15v1m0-62v6m0-14v1m0-8v2m0-4v1m1 89v1m0-4v1m0-10v1m0-4v1m0-18v1m0-5v3m0-26v1m0-3v1m1 55v2m0-5v1m0-12v1m0-13v1m0-33v2m0-4v1m1 28v1m0-4v1m1 35v1m0-14v2m0-40v1m0-27v3m0-5v1m1 33v1m1 46v1m0-14v1m0-10v1m0-5v2m0-19v1m0-3v1m0-24v1m0-4v2m1 38v2m0-13v3m0-5v1m0-28v1m0-5v3m0-10v1m1 47v1m0-6v4m0-34v1m1 42v1m0-35v1m1 57v1m0-36v1m0-52v1m1 84v1m0-34v2m0-24v1m0-16v2m0-5v1m0-13v1m1 82v1m0-3v1m0-12v2m0-19v2m0-20v1m0-30v1m1 42v2m0-18v1m0-3v1m1 46v1m0-7v1m0-34v2m0-16v1m0-6v1m1 72v1m0-3v1m0-12v1m0-5v2m0-7v2m0-5v1m0-30v1m0-16v1m1 63v2m0-12v1m0-3v1m0-61v1m1 70v2m0-4v1m0-19v2m0-13v1m0-15v3m0-12v2m0-5v1m0-14v3m1 43v4m0-55v1m1 62v1m0-3v1m0-6v1m0-3v1m0-39v3m0-27v3m1 55v2m0-12v1m0-36v3m1 8v2m1 60v1m0-31v1m0-48v1m1 68v1m0-13v2m0-31v2m0-5v2m0-29v1m0-7v1m1 65v2m0-5v2m0-18v1m1 26v2m0-5v1m0-36v1m0-5v2m0-17v2m0-17v1m1 82v2m0-6v2m0-35v1m0-3v1m0-20v1m0-8v1m1 68v1m0-4v2m0-56v2m0-19v3m0-22v1m1 80v1m0-20v1m0-66v4m1 76v1m0-39v1m0-27v1m0-3v1m1 68v1m0-11v2m0-19v1m0-16v1m0-18v4m0-25v1m0-3v1m1 85v2m0-4v1m0-7v1m0-15v1m0-40v2m0-20v1m0-3v1m1 46v3m0-6v2m0-12v2m0-4v1m0-17v1m0-23v1m1 79v2m0-15v2m0-44v2m0-4v1m0-21v3m1 73v1m0-12v2m0-21v1m0-17v3m1 51v1m0-32v1m0-20v1m0-3v1m0-13v1m1 66v3m0-6v2m0-8v3m0-21v4m0-11v3m0-22v1m0-4v1m0-22v3m0-13v5m1 44v1m0-14v1m0-20v3m0-17v1m1 62v2m0-22v1m0-3v1m0-3v1m0-14v3m0-14v3m2 41v1m1-21v2m0-36v1m1 9v1m1 24v1m0-16v2m0-27v1m1 77v1m0-13v1m1-7v2m0-37v1m1 65v1m0-55v1m1 17v1m1 24v2m0-9v2m0-11v1m0-23v2m1 6v1m1 30v1m0-39v1m0-32v1m1 2v1m0-21v2m1 83v1m1-43v1m1-32v1m1 52v1m0-22v1m0-24v2m1 41v1m1-8v1m1-57v1m1 73v2m0-6v1m2-5v1m0-47v1m0-10v1m1 62v1m0-8v1m1-70v1m1 88v1m0-37v2m0-21v2m0-36v2m1 33v2m0-35v1m1 85v2m0-44v1m1 46v1m0-42v1m1 36v2m0-21v1m1-9v1m0-45v1m1 61v1m0-12v1m0-24v1m1 44v1m0-62v2m0-26v1m1 61v1m0-10v1m0-44v1m1 65v1m1-56v1m2 46v2m0-7v1m0-11v1m0-21v1m0-24v1m0-7v1m0-8v2m1 51v1m1-8v1m0-26v1"/>
<path stroke="#ff703a" d="M0.5 82v2m0-5v2m0-24v1m0-4v1m0-18v3m0-17v1m0-22v1m1 60v2m0-11v2m0-10v1m0-14v1m1 56v2m0-15v1m0-22v1m0-3v1m0-12v2m0-4v1m1 40v2m0-33v4m0-30v1m0-4v1m1 67v2m0-5v1m0-26v1m0-3v1m0-3v1m0-31v1m0-11v1m0-12v1m0-6v1m1 69v1m0-10v3m0-23v5m0-15v2m0-19v1m0-17v2m1 83v1m0-60v1m0-12v4m1 70v1m0-3v1m0-29v2m0-14v2m0-4v1m0-27v2m0-14v3m1 55v1m0-10v2m0-39v2m0-4v1m0-12v1m1 74v1m0-22v2m0-27v4m0-37v1m1 73v1m0-15v1m0-38v4m0-21v1m1 60v1m0-18v1m0-4v2m0-21v3m1 52v2m0-9v1m0-5v1m0-30v1m0-3v1m0-20v1m0-3v1m0-4v1m0-16v1m1 78v1m0-3v1m0-21v1m0-15v1m0-31v1m0-5v3m1 79v1m0-19v2m0-4v1m0-24v4m0-6v1m0-16v1m0-3v1m0-14v1m1 67v1m0-3v1m0-20v2m0-25v1m0-3v1m0-10v1m0-5v1m1 58v2m0-32v3m0-17v1m0-3v1m0-15v2m0-12v1m0-10v1m0-3v1m1 88v1m0-6v1m0-19v1m1-47v3m0-25v1m1 88v1m0-3v1m0-43v1m0-5v1m0-3v1m0-10v3m0-17v1m1 45v1m0-16v1m0-51v2m1 85v1m0-3v1m0-8v1m0-3v1m0-66v2m1 62v1m0-4v1m0-15v1m0-34v2m0-4v1m0-6v1m0-3v1m0-12v3m0-10v1m1 92v1m0-40v1m0-3v1m0-12v1m0-10v2m0-19v1m0-5v3m1 74v1m0-5v2m0-34v2m0-15v1m1 51v1m0-4v1m0-14v5m0-47v1m0-6v1m0-14v2m1 58v1m0-3v1m0-19v3m0-39v1m1 72v1m0-18v3m0-6v2m0-10v1m0-4v1m0-19v1m1 38v1m0-5v2m0-27v1m0-16v1m0-3v1m0-3v1m0-28v1m0-4v1m1 67v1m0-3v1m0-25v3m0-17v2m0-4v1m0-14v1m0-10v1m1 82v1m0-19v1m0-11v1m0-3v1m0-60v2m1 86v2m0-4v1m0-35v1m0-45v2m0-5v2m1 77v5m0-32v1m0-11v1m1 31v3m0-5v1m0-12v1m0-13v2m0-5v2m1-13v1m0-5v3m0-12v2m0-16v1m0-4v2m1 74v2m0-13v5m0-19v2m0-4v1m0-14v1m0-19v2m0-19v1m0-9v2m0-5v2m1 80v1m0-8v1m0-3v1m0-20v1m0-15v1m1-7v2m0-18v2m1 73v1m0-12v1m0-27v2m0-13v2m0-6v2m1 46v2m0-25v1m0-3v1m0-3v1m1 21v3m0-17v4m0-34v3m0-18v4m0-14v4m0-21v1m1 86v1m0-24v3m0-10v1m0-27v1m0-11v2m0-20v1m0-4v2m1 76v1m0-34v2m0-5v1m0-23v1m1 53v2m0-4v1m0-18v5m0-37v1m0-3v1m0-22v1m1 92v1m0-38v1m0-17v1m0-3v1m0-16v1m0-4v2m0-12v2m1 44v2m0-27v1m1 61v1m0-3v1m0-12v2m1 6v1m0-13v1m0-18v1m0-4v1m0-18v1m0-3v1m1 52v2m0-4v1m0-20v1m0-39v1m1 61v1m0-3v1m0-24v1m0-6v4m0-23v1m0-6v1m0-3v1m1 51v1m0-12v1m0-21v2m0-5v1m0-11v2m0-14v1m0-11v2m0-5v1m1 73v2m0-43v1m0-16v1m0-18v1m1-2v1m1 72v1m0-17v3m0-12v1m0-21v2m0-13v1m0-4v2m1 47v3m0-36v1m0-14v2m0-14v1m1 60v2m0-65v1m0-3v1m1 67v1m0-5v3m0-26v5m0-32v1m0-20v1m0-3v1m1 79v1m0-24v2m0-12v1m0-3v1m0-14v3m0-18v3m0-11v3m0-19v2m1 27v1m0-20v1m0-16v1m1 81v1m0-26v1m0-3v1m1 13v1m0-17v3m0-6v1m0-12v2m0-21v3m0-25v1m1 87v3m0-44v1m0-5v1m0-8v1m0-3v1m0-4v1m0-22v1m1 77v2m0-5v1m0-14v1m0-3v1m0-19v1m0-16v1m0-3v1m0-15v3m0-7v1m0-5v1m1 73v1m0-17v1m0-4v1m0-32v2m0-4v1m0-12v1m0-11v1m1 62v1m0-17v1m0-4v1m0-25v1m0-26v1m0-4v2m1 56v1m0-3v1m0-49v1m1 71v1m1-6v1m0-27v2m0-4v1m0-21v1m0-34v1m1 43v4m0-6v1m0-40v1m0-4v1m1 85v1m0-3v1m0-18v1m0-17v1m0-15v2m0-35v2m1 80v1m0-3v1m0-13v1m0-19v1m0-3v1m0-36v2m0-6v2m1 70v4m0-6v1m0-10v1m0-18v4m0-6v1m0-29v2m1 51v2m0-15v3m0-26v2m0-23v2m0-4v1m0-14v2m0-4v1m0-3v1m1 81v1m0-4v1m0-19v3m0-26v2m0-4v1m0-25v1m0-3v1m0-3v1m0-10v1m0-3v1m1 79v1m0-3v1m0-3v1m0-17v1m0-5v1m0-25v2m0-21v3m0-5v1m1 79v1m0-24v2m0-5v1m0-19v5m0-16v2m1 26v1m0-23v1m0-40v2m1 75v1m0-19v2m0-22v1m0-20v1m0-12v1m1 79v3m0-5v1m0-12v1m0-12v1m0-19v2m0-5v1m0-16v2m0-4v1m0-9v1m0-20v1m0-4v1m1 81v2m0-15v1m0-4v1m0-15v4m0-6v1m0-21v2m0-14v1m1 30v2m0-4v1m0-3v1m0-29v1m0-4v1m1 70v1m0-12v1m0-3v1m0-18v3m0-35v2m0-16v1m0-4v2m1 66v1m0-3v1m0-22v1m0-13v1m0-10v1m0-14v3m1 69v3m0-18v4m0-25v1m0-3v1m0-22v1m0-3v1m0-9v1m0-3v1m0-19v1m1 80v1m0-18v1m0-4v2m0-23v2m0-4v1m1 52v3m0-6v1m0-21v3m0-5v1m0-24v1m0-14v1m1 55v1m0-15v1m0-19v1m0-26v1m0-16v2m0-4v1m1 48v4m0-15v2m0-23v1m0-4v1m0-10v3m1 59v1m0-14v2m0-22v5m0-16v3m0-29v2m0-6v3m1 79v1m0-10v1m0-18v1m0-4v2m0-51v3m1 47v2m0-10v2m0-5v1m0-15v2m0-13v4m0-17v2m0-13v1m1 84v1m0-38v1m0-4v1m0-9v1m0-34v1m0-3v1m1 72v1m0-20v1m0-20v1m0-15v1m0-13v1m0-3v1m0-3v1m1 85v2m0-15v2m0-16v3m0-5v1m0-13v1m0-17v1m0-26v3m1 68v1m0-5v1m0-24v1m0-3v1m0-16v4m0-18v1m0-3v1m1 60v4m0-62v1m0-23v1m1 85v2m0-21v1m0-4v1m0-11v1m0-5v1m0-25v2m0-20v3m0-7v1m1 67v4m0-23v1m0-35v3m0-12v2m1 44v2m0-26v1m0-29v1m1 71v1m0-3v1m0-21v3m0-21v1m1 52v1m0-5v3m0-32v1m0-21v1m0-16v3m0-23v1m1 82v1m0-15v2m0-17v4m0-13v2m0-5v2m0-47v1m1 90v3m0-5v1m0-14v1m0-5v3m0-12v3m0-40v1m0-9v2m1 74v1m0-4v2m0-31v3m0-5v1m0-13v3m0-16v2m0-28v3m1 37v2m0-5v2m0-33v1m0-13v2m1 60v1m0-4v2m0-35v2m0-6v1m0-5v1m0-3v1m1 64v1m0-11v3m0-31v4m1 42v1m0-10v5m0-35v3m0-29v1m0-4v2m0-23v1m1 82v2m0-19v1m0-39v2m0-26v3m1 74v3m0-23v1m0-24v1m0-16v1m0-13v1m1 37v4m0-31v3m1 62v1m0-19v1m0-38v2m0-6v3m0-22v2m1 66v1m0-74v3m1 72v1m0-3v1m0-16v2m0-5v2m0-20v1m1 12v1m0-29v2m0-5v2m0-22v1m1 60v3m0-30v3m1 38v3m0-17v1m0-14v1m0-6v1m0-16v3m0-22v1m1 78v2m0-4v1m0-69v1m0-4v1m1 51v1m0-3v1m0-29v5m0-30v1m0-4v1m1 52v1m0-14v2m0-20v3m0-14v2m0-14v1m1 78v1m0-6v1m0-13v1m0-27v3m0-13v2m0-34v2m0-7v2m0-6v3m1 75v1m0-5v3m0-18v5m0-19v2m0-35v1m0-8v2m0-5v1m1 86v2m0-4v1m0-10v1m0-25v1m0-10v2m0-4v1m0-3v1m0-11v1m0-3v1m0-15v1m0-14v3m1 59v1m0-4v1m0-54v4m1 67v1m1 9v2m0-6v3m0-11v2m0-5v1m0-31v2m0-4v1m0-8v2m1 57v2m0-32v2m0-16v3m0-14v1m0-18v1m0-3v1m1 70v3m0-5v1m0-24v2m0-20v3m0-5v1m0-40v1m0-5v2m1 83v1m0-4v1m0-30v3m0-41v1m0-12v1m0-3v1m1 56v2m0-27v1m1 27v2m0-36v2m1 53v1m0-3v1m0-12v1m0-20v1m0-5v2m0-18v5m0-36v1m0-3v1m1 54v1m0-5v2m0-24v2m0-5v1m0-12v1m0-4v1m1 57v1m0-15v3m0-22v2m0-9v2m0-6v2m0-18v2m1 74v3m0-21v5m0-21v1m0-18v1m0-3v1m1 56v2m0-17v1m0-47v1m0-11v2m1 72v1m0-15v2m0-11v2m0-31v1m0-27v1m0-4v2m1 77v2m0-15v1m0-3v1m0-9v2m0-38v1m1 54v1m0-18v1m0-13v4m0-16v1m0-11v1m0-4v1m0-32v1m1 60v1m0-10v1m0-3v1m0-21v4m1 52v1m0-12v1m0-35v1m0-16v1m1 32v1m0-13v1m0-3v1m0-27v2m1 48v1m0-12v2m0-37v4m0-19v3m1 79v1m0-3v1m0-28v1m0-4v1m0-8v4m0-42v1m0-3v1m1 72v2m0-4v1m0-12v2m0-68v1m1 63v1m0-4v1m0-15v2m0-5v2m0-18v3m1 41v1m0-20v1m0-18v1m0-4v2m0-17v1m0-17v1m0-3v1m0-6v2m1 85v2m0-16v1m0-12v1m0-12v1m0-22v1m0-6v1m0-3v1m1 55v2m0-21v1m0-5v3m0-24v1m0-18v1m0-18v3m0-5v1m1 85v1m0-4v2m0-56v1m0-3v1m0-11v1m0-3v1m1 64v1m0-26v2m0-44v1m0-5v3m1 70v2m0-4v1m0-11v1m0-14v1m0-18v1m0-3v1m0-39v1m1 56v5m0-26v2m0-16v2m1 51v3m0-28v1m0-29v1m0-24v1m1 82v2m0-4v1m0-61v1m1 58v1m0-11v3m0-24v3m0-5v1m0-36v1m0-4v2m1 73v1m0-9v1m0-42v1m0-34v5m1 38v2m0-13v2m1 23v2m0-59v3m1 65v1m0-4v1m6 16v1m1-56v1m0-11v1m1 21v1m0-23v2m2 47v1m2 9v1m0-30v1m1 34v1m3-72v1m2 51v1m1 18v1m1-10v2m3-32v1m0-24v1m0-12v1m5 34v1m1 44v1m1-80v1m2 76v2m1-31v1m4-27v1m3-35v1"/>
<path stroke="#ff5029" d="M0.5 81v1m0-26v1m0-14v4m0-29v4m1 43v1m0-13v1m0-9v1m1 43v1m2-1v1m0-71v3m0-18v3m1 81v4m0-57v1m0-4v1m0-16v1m0-15v1m1 82v1m0-6v4m1-75v1m0-5v1m1 59v2m0-4v1m0-7v1m0-5v2m0-38v1m1 38v3m0-26v1m0-32v1m0-4v2m1 58v2m0-12v3m1 19v1m0-13v4m0-13v1m0-19v2m1 52v3m0-6v1m0-6v1m0-5v3m0-57v1m0-17v2m0-4v1m1 78v1m0-67v1m0-5v1m1 66v1m0-46v1m1 50v1m0-43v1m0-36v2m0-4v1m1 54v2m0-6v1m0-50v1m0-3v1m1 67v1m0-3v1m0-15v3m1-55v4m1 86v1m0-52v1m1 22v2m0-51v1m0-16v2m0-5v1m1 86v1m0-3v1m0-20v2m0-6v3m0-18v3m0-51v1m1 89v3m0-32v1m0-3v1m0-34v1m1 39v5m0-41v2m0-18v1m1 39v1m1-41v1m1 61v1m0-3v1m0-3v1m0-40v4m0-35v2m0-4v1m1 87v4m0-30v1m0-56v3m1 70v2m0-5v1m0-73v2m1 79v3m0-16v1m0-3v1m0-3v1m0-41v1m0-21v1m0-4v2m1 7v1m0-5v2m1 79v1m0-14v2m0-6v3m0-40v3m1 32v1m0-3v1m0-20v2m0-4v1m0-39v1m0-5v2m1 59v1m0-5v3m1-27v1m1 48v1m0-29v1m0-3v1m0-47v4m0-6v1m0-9v1m0-4v1m1 83v2m0-4v1m0-8v1m0-4v2m1-53v1m1 22v1m0-46v4m1 86v1m0-24v1m0-3v1m1 10v1m0-46v1m1 53v2m0-54v1m0-11v1m0-4v1m0-19v1m1 76v2m0-4v1m0-35v2m0-22v2m0-4v1m0-3v1m0-18v1m0-3v1m1 72v1m0-52v1m0-22v1m1 92v2m0-4v1m0-21v3m0-18v3m0-6v1m0-14v2m0-4v1m1 19v2m0-6v1m0-23v2m0-6v2m0-9v3m1 57v1m0-4v1m1-7v3m0-75v2m1 89v1m0-27v3m0-20v2m0-19v2m0-4v1m0-3v1m1 65v2m0-4v1m0-13v4m0-39v3m0-26v4m1 53v4m0-29v1m0-23v1m0-12v2m1 42v1m0-44v1m0-3v1m1 21v3m1 46v2m0-24v2m1 11v1m0-14v5m0-68v5m1 77v1m1-1v1m0-53v5m1 19v1m0-3v1m0-53v1m1 49v1m0-5v3m0-18v1m0-3v1m0-22v3m0-17v2m1 81v1m0-3v1m1-42v1m1 50v1m0-19v3m0-65v2m1 60v1m0-3v1m0-19v2m0-5v2m0-16v1m0-12v1m0-12v3m1 71v1m0-20v2m0-4v1m0-43v1m0-3v1m0-12v1m1 22v5m1-40v5m1 4v1m0-3v1m1 5v1m1 45v5m0-21v1m1 43v2m0-4v1m0-20v1m0-15v3m0-15v1m1 44v1m0-71v2m1 58v1m0-3v1m0-18v1m0-32v2m0-25v3m1 77v1m0-37v1m0-40v1m0-3v1m1 62v3m0-56v1m0-3v1m0-3v1m0-10v1m1 77v1m0-3v1m0-3v1m0-21v1m0-44v1m1 79v1m0-3v1m0-56v1m1 44v2m0-17v2m0-4v1m0-3v1m0-19v1m0-4v1m0-15v3m0-27v1m1 75v2m0-70v1m1 80v1m0-3v1m0-10v2m0-51v1m0-12v2m1 48v1m0-4v2m0-18v1m0-33v1m0-3v1m1 42v3m0-15v1m0-34v1m0-17v1m1 86v2m0-5v2m0-31v1m0-34v1m0-14v1m1 66v1m0-3v1m0-54v3m1 55v1m0-25v1m0-5v1m0-20v2m0-4v1m0-11v1m0-3v1m1 64v2m0-24v1m0-24v1m0-31v5m1 77v1m0-23v1m0-3v1m1 21v1m0-6v4m0-12v1m0-4v1m0-59v1m0-15v2m1 91v2m0-4v1m0-39v1m0-23v1m0-4v2m1 35v1m0-27v1m0-6v2m0-27v1m2 66v1m0-4v2m0-13v1m0-13v2m0-15v4m0-13v1m1 59v2m0-4v1m0-41v1m0-23v2m0-4v1m0-16v1m0-3v1m0-3v1m1 72v4m0-6v1m0-18v1m0-3v1m0-32v4m0-18v1m0-3v1m1 56v1m0-13v1m0-4v2m1 2v1m0-3v1m0-11v2m0-21v1m1 23v1m0-6v4m0-20v1m0-4v2m0-21v3m1 79v3m0-31v1m0-5v2m0-28v1m1 45v1m0-50v1m0-11v3m0-6v1m1 42v4m0-39v5m0-17v3m1 10v4m1 66v1m0-17v1m0-35v1m0-15v1m0-27v3m1 68v1m0-49v3m1-6v1m1 72v1m0-82v2m1 15v3m0-27v2m0-6v2m1 17v1m1 64v4m0-39v1m1 44v1m0-3v1m0-12v1m0-64v1m0-16v1m0-4v2m1 85v2m0-6v2m0-33v5m0-12v2m0-15v1m0-4v1m1 51v2m0-19v1m0-4v2m0-28v5m0-28v1m0-4v2m2 77v1m0-56v1m0-26v3m1 78v2m1-14v2m0-16v1m1-10v2m0-19v4m0-14v1m1 55v1m0-72v3m1 77v2m0-62v1m1-9v1m0-4v2m0-25v2m1 71v1m0-10v1m0-3v1m0-60v1m0-4v1m1 69v2m0-62v5m1 48v2m0-6v2m0-18v2m0-42v1m1 43v1m1 38v1m0-43v1m0-3v1m0-10v1m0-18v1m0-12v1m1 57v1m0-24v2m0-5v2m1 38v1m1-35v1m1 48v2m0-28v1m0-6v2m0-42v1m1-17v2m1 79v2m0-82v1m1 71v3m0-20v1m0-24v1m0-3v1m0-37v1m1 85v3m1-4v1m0-3v1m0-10v3m0-22v1m0-4v1m1-2v1m0-24v2m0-4v1m0-12v1m0-16v2m1 88v5m0-66v2m0-22v2m0-4v1m2 85v1m0-5v2m0-14v3m0-5v1m0-44v2m0-15v1m1 20v1m0-26v1m0-5v2m1 28v4m0-14v2m0-20v3m1 70v1m0-83v1m0-5v2m1 52v1m0-4v2m0-34v1m0-5v2m1 73v2m0-23v1m0-25v4m1 3v1m0-4v1m1 26v2m0-5v2m0-12v1m0-6v1m0-16v4m0-33v1m1 48v1m1 25v2m0-5v1m0-78v4m1 67v4m1-22v2m0-63v2m1 74v1m0-5v2m0-9v1m0-4v2m0-30v1m1 48v1m0-5v2m0-20v1m1 24v1m0-5v1m0-35v6m0-23v1m0-5v1m0-11v1m0-3v1m1 66v2m0-4v1m0-28v3m1 3v3m0-5v1m1 18v2m0-15v1m0-25v2m1 33v2m0-52v2m0-4v1m2 56v1m0-11v1m0-59v1m1 73v1m0-9v1m0-6v4m0-22v1m0-34v1m1 25v2m0-12v1m1 23v1m0-10v3m0-21v4m1-39v2"/>
<path stroke="#ff2f18" d="M0.5 55v1m0-34v1m3 57v2m5-14v1m7-62v1m2 67v3m0-23v3m3-38v2m0-4v1m1 47v1m1 26v2m0-33v1m1 2v1m3-65v1m3 83v1m1-72v1m1 63v1m0-42v1m1 36v1m0-3v1m0-3v1m0-20v1m0-39v1m0-4v2m1 52v1m3 22v1m3 1v1m2-2v1m0-55v1m0-3v1m1-11v1m0-22v1m1 0v1m1 93v1m0-42v1m1 2v1m0-38v1m2-22v1m1 69v1m0-24v2m0-20v1m1 54v1m2-19v2m7-11v1m0-3v1m0-22v1m3 51v2m0-12v1m1-39v1m4-29v1m0-3v1m2 49v1m1 24v1m0-45v1m2-16v1m0-24v1m5 78v1m0-18v1m0-22v1m3-22v2m1 37v1m1 33v3m0-14v1m2-31v1m0-4v1m1 29v2m0-42v1m0-4v1m3 54v1m0-67v1m3 48v1m1 11v1m1-30v1m0-37v1m1 31v1m2-9v1m1 9v1m2-38v1m1 0v1m1-16v1m1 21v1m0-5v1m3 51v3m3-61v3m1 26v1m1 15v1m0-50v1m2 78v1m1-3v1m1-9v1m3 13v1m2-34v1m0-62v1m2 58v2m1-50v1m0-3v1m1 2v1m1 47v1m0-24v1m1 40v1m0-3v1m0-3v1m2-14v1m4 25v1m1-3v1m2 7v1m2-65v1m0-4v2m2 38v1m0-29v1m0-7v1m0-19v1m1-15v1m1 53v1m0-40v2m2 34v1m0-3v1m1 23v1m0-17v2m5 14v1m2-46v1m1 54v1m0-33v1m1 3v1m1 18v1m4-56v1"/>
<path stroke="#ff1008" d="M30.5 13v1m69 11v1m19-25v1m19 15v1m19 2v1"/>
</g>
<rect x="50.30" y="19.10" width="588.30" height="173.20" fill="none" stroke="#111" stroke-width="1.00"/>
<line x1="519.50" y1="19.10" x2="519.50" y2="192.30" stroke="#000" stroke-width="1.1"/>
<line x1="46.90" y1="192.30" x2="50.30" y2="192.30" stroke="#222" stroke-width="0.9"/>
<text x="44.20" y="197.70" font-size="14.20" font-family='"Liberation Sans", sans-serif' text-anchor="end" fill="#1a1a1a" stroke="#1a1a1a" stroke-width="0.30" textLength="8.46" lengthAdjust="spacingAndGlyphs">0</text>
<line x1="46.90" y1="157.66" x2="50.30" y2="157.66" stroke="#222" stroke-width="0.9"/>
<text x="44.20" y="163.06" font-size="14.20" font-family='"Liberation Sans", sans-serif' text-anchor="end" fill="#1a1a1a" stroke="#1a1a1a" stroke-width="0.30" textLength="25.39" lengthAdjust="spacingAndGlyphs">200</text>
<line x1="46.90" y1="123.02" x2="50.30" y2="123.02" stroke="#222" stroke-width="0.9"/>
<text x="44.20" y="128.42" font-size="14.20" font-family='"Liberation Sans", sans-serif' text-anchor="end" fill="#1a1a1a" stroke="#1a1a1a" stroke-width="0.30" textLength="25.39" lengthAdjust="spacingAndGlyphs">400</text>
<line x1="46.90" y1="88.38" x2="50.30" y2="88.38" stroke="#222" stroke-width="0.9"/>
<text x="44.20" y="93.78" font-size="14.20" font-family='"Liberation Sans", sans-serif' text-anchor="end" fill="#1a1a1a" stroke="#1a1a1a" stroke-width="0.30" textLength="25.39" lengthAdjust="spacingAndGlyphs">600</text>
<line x1="46.90" y1="53.74" x2="50.30" y2="53.74" stroke="#222" stroke-width="0.9"/>
<text x="44.20" y="59.14" font-size="14.20" font-family='"Liberation Sans", sans-serif' text-anchor="end" fill="#1a1a1a" stroke="#1a1a1a" stroke-width="0.30" textLength="25.39" lengthAdjust="spacingAndGlyphs">800</text>
<line x1="46.90" y1="19.10" x2="50.30" y2="19.10" stroke="#222" stroke-width="0.9"/>
<text x="44.20" y="24.50" font-size="14.20" font-family='"Liberation Sans", sans-serif' text-anchor="end" fill="#1a1a1a" stroke="#1a1a1a" stroke-width="0.30" textLength="33.85" lengthAdjust="spacingAndGlyphs">1000</text>
<line x1="50.30" y1="192.30" x2="50.30" y2="195.70" stroke="#222" stroke-width="0.9"/>
<line x1="123.84" y1="192.30" x2="123.84" y2="195.70" stroke="#222" stroke-width="0.9"/>
<line x1="197.38" y1="192.30" x2="197.38" y2="195.70" stroke="#222" stroke-width="0.9"/>
<line x1="270.91" y1="192.30" x2="270.91" y2="195.70" stroke="#222" stroke-width="0.9"/>
<line x1="344.45" y1="192.30" x2="344.45" y2="195.70" stroke="#222" stroke-width="0.9"/>
<line x1="417.99" y1="192.30" x2="417.99" y2="195.70" stroke="#222" stroke-width="0.9"/>
<line x1="491.53" y1="192.30" x2="491.53" y2="195.70" stroke="#222" stroke-width="0.9"/>
<line x1="565.06" y1="192.30" x2="565.06" y2="195.70" stroke="#222" stroke-width="0.9"/>
<line x1="638.60" y1="192.30" x2="638.60" y2="195.70" stroke="#222" stroke-width="0.9"/>
<text x="4.00" y="102.40" font-size="15.59" font-family='"Liberation Sans", sans-serif' text-anchor="start" fill="#1a1a1a" stroke="#1a1a1a" stroke-width="0.30" font-style="italic" textLength="5.72" lengthAdjust="spacingAndGlyphs">t</text>
<rect x="50.30" y="222.00" width="588.30" height="173.40" fill="none" stroke="#111" stroke-width="1.00"/>
<line x1="519.50" y1="222.00" x2="519.50" y2="395.40" stroke="#000" stroke-width="1.1"/>
<line x1="46.90" y1="395.40" x2="50.30" y2="395.40" stroke="#222" stroke-width="0.9"/>
<text x="44.20" y="400.80" font-size="14.20" font-family='"Liberation Sans", sans-serif' text-anchor="end" fill="#1a1a1a" stroke="#1a1a1a" stroke-width="0.30" textLength="8.46" lengthAdjust="spacingAndGlyphs">0</text>
<line x1="46.90" y1="360.72" x2="50.30" y2="360.72" stroke="#222" stroke-width="0.9"/>
<text x="44.20" y="366.12" font-size="14.20" font-family='"Liberation Sans", sans-serif' text-anchor="end" fill="#1a1a1a" stroke="#1a1a1a" stroke-width="0.30" textLength="25.39" lengthAdjust="spacingAndGlyphs">200</text>
<line x1="46.90" y1="326.04" x2="50.30" y2="326.04" stroke="#222" stroke-width="0.9"/>
<text x="44.20" y="331.44" font-size="14.20" font-family='"Liberation Sans", sans-serif' text-anchor="end" fill="#1a1a1a" stroke="#1a1a1a" stroke-width="0.30" textLength="25.39" lengthAdjust="spacingAndGlyphs">400</text>
<line x1="46.90" y1="291.36" x2="50.30" y2="291.36" stroke="#222" stroke-width="0.9"/>
<text x="44.20" y="296.76" font-size="14.20" font-family='"Liberation Sans", sans-serif' text-anchor="end" fill="#1a1a1a" stroke="#1a1a1a" stroke-width="0.30" textLength="25.39" lengthAdjust="spacingAndGlyphs">600</text>
<line x1="46.90" y1="256.68" x2="50.30" y2="256.68" stroke="#222" stroke-width="0.9"/>
<text x="44.20" y="262.08" font-size="14.20" font-family='"Liberation Sans", sans-serif' text-anchor="end" fill="#1a1a1a" stroke="#1a1a1a" stroke-width="0.30" textLength="25.39" lengthAdjust="spacingAndGlyphs">800</text>
<line x1="46.90" y1="222.00" x2="50.30" y2="222.00" stroke="#222" stroke-width="0.9"/>
<text x="44.20" y="227.40" font-size="14.20" font-family='"Liberation Sans", sans-serif' text-anchor="end" fill="#1a1a1a" stroke="#1a1a1a" stroke-width="0.30" textLength="33.85" lengthAdjust="spacingAndGlyphs">1000</text>
<line x1="50.30" y1="395.40" x2="50.30" y2="398.80" stroke="#222" stroke-width="0.9"/>
<line x1="123.84" y1="395.40" x2="123.84" y2="398.80" stroke="#222" stroke-width="0.9"/>
<line x1="197.38" y1="395.40" x2="197.38" y2="398.80" stroke="#222" stroke-width="0.9"/>
<line x1="270.91" y1="395.40" x2="270.91" y2="398.80" stroke="#222" stroke-width="0.9"/>
<line x1="344.45" y1="395.40" x2="344.45" y2="398.80" stroke="#222" stroke-width="0.9"/>
<line x1="417.99" y1="395.40" x2="417.99" y2="398.80" stroke="#222" stroke-width="0.9"/>
<line x1="491.53" y1="395.40" x2="491.53" y2="398.80" stroke="#222" stroke-width="0.9"/>
<line x1="565.06" y1="395.40" x2="565.06" y2="398.80" stroke="#222" stroke-width="0.9"/>
<line x1="638.60" y1="395.40" x2="638.60" y2="398.80" stroke="#222" stroke-width="0.9"/>
<text x="4.00" y="305.30" font-size="15.59" font-family='"Liberation Sans", sans-serif' text-anchor="start" fill="#1a1a1a" stroke="#1a1a1a" stroke-width="0.30" font-style="italic" textLength="5.72" lengthAdjust="spacingAndGlyphs">t</text>
<text x="50.30" y="412.60" font-size="14.20" font-family='"Liberation Sans", sans-serif' text-anchor="middle" fill="#1a1a1a" stroke="#1a1a1a" stroke-width="0.30" textLength="8.46" lengthAdjust="spacingAndGlyphs">0</text>
<text x="123.84" y="412.60" font-size="14.20" font-family='"Liberation Sans", sans-serif' text-anchor="middle" fill="#1a1a1a" stroke="#1a1a1a" stroke-width="0.30" textLength="16.92" lengthAdjust="spacingAndGlyphs">25</text>
<text x="197.38" y="412.60" font-size="14.20" font-family='"Liberation Sans", sans-serif' text-anchor="middle" fill="#1a1a1a" stroke="#1a1a1a" stroke-width="0.30" textLength="16.92" lengthAdjust="spacingAndGlyphs">50</text>
<text x="270.91" y="412.60" font-size="14.20" font-family='"Liberation Sans", sans-serif' text-anchor="middle" fill="#1a1a1a" stroke="#1a1a1a" stroke-width="0.30" textLength="16.92" lengthAdjust="spacingAndGlyphs">75</text>
<text x="344.45" y="412.60" font-size="14.20" font-family='"Liberation Sans", sans-serif' text-anchor="middle" fill="#1a1a1a" stroke="#1a1a1a" stroke-width="0.30" textLength="25.39" lengthAdjust="spacingAndGlyphs">100</text>
<text x="417.99" y="412.60" font-size="14.20" font-family='"Liberation Sans", sans-serif' text-anchor="middle" fill="#1a1a1a" stroke="#1a1a1a" stroke-width="0.30" textLength="25.39" lengthAdjust="spacingAndGlyphs">125</text>
<text x="491.53" y="412.60" font-size="14.20" font-family='"Liberation Sans", sans-serif' text-anchor="middle" fill="#1a1a1a" stroke="#1a1a1a" stroke-width="0.30" textLength="25.39" lengthAdjust="spacingAndGlyphs">150</text>
<text x="565.06" y="412.60" font-size="14.20" font-family='"Liberation Sans", sans-serif' text-anchor="middle" fill="#1a1a1a" stroke="#1a1a1a" stroke-width="0.30" textLength="25.39" lengthAdjust="spacingAndGlyphs">175</text>
<text x="638.60" y="412.60" font-size="14.20" font-family='"Liberation Sans", sans-serif' text-anchor="middle" fill="#1a1a1a" stroke="#1a1a1a" stroke-width="0.30" textLength="25.39" lengthAdjust="spacingAndGlyphs">200</text>
<text x="344.30" y="431.30" font-size="15.97" font-family='"Liberation Sans", sans-serif' text-anchor="middle" fill="#1a1a1a" stroke="#1a1a1a" stroke-width="0.30" textLength="98.24" lengthAdjust="spacingAndGlyphs">neuron index</text>
<text x="307.00" y="15.10" font-size="15.27" font-family='"Liberation Sans", sans-serif' text-anchor="middle" fill="#1a1a1a" stroke="#1a1a1a" stroke-width="0.30" textLength="71.66" lengthAdjust="spacingAndGlyphs">excitatory</text>
<text x="578.60" y="15.10" font-size="15.27" font-family='"Liberation Sans", sans-serif' text-anchor="middle" fill="#1f8a1f" stroke="#1f8a1f" stroke-width="0.30" textLength="67.82" lengthAdjust="spacingAndGlyphs">inhibitory</text>
<text x="59.00" y="13.50" font-size="15.59" font-family='"Liberation Sans", sans-serif' text-anchor="start" fill="#1a1a1a" stroke="#1a1a1a" stroke-width="0.30" font-style="italic" textLength="9.57" lengthAdjust="spacingAndGlyphs">K</text>
<text x="68.80" y="16.10" font-size="10.89" font-family='"Liberation Sans", sans-serif' text-anchor="start" fill="#1a1a1a" stroke="#1a1a1a" stroke-width="0.30" font-style="italic" textLength="9.45" lengthAdjust="spacingAndGlyphs">IE</text>
<text x="83.30" y="13.50" font-size="15.59" font-family='"Liberation Sans", sans-serif' text-anchor="start" fill="#1a1a1a" stroke="#1a1a1a" stroke-width="0.30" textLength="42.00" lengthAdjust="spacingAndGlyphs">= 0.1</text>
<text x="59.00" y="216.50" font-size="15.59" font-family='"Liberation Sans", sans-serif' text-anchor="start" fill="#1a1a1a" stroke="#1a1a1a" stroke-width="0.30" font-style="italic" textLength="9.57" lengthAdjust="spacingAndGlyphs">K</text>
<text x="68.80" y="219.10" font-size="10.89" font-family='"Liberation Sans", sans-serif' text-anchor="start" fill="#1a1a1a" stroke="#1a1a1a" stroke-width="0.30" font-style="italic" textLength="9.45" lengthAdjust="spacingAndGlyphs">IE</text>
<text x="83.30" y="216.50" font-size="15.59" font-family='"Liberation Sans", sans-serif' text-anchor="start" fill="#1a1a1a" stroke="#1a1a1a" stroke-width="0.30" textLength="42.00" lengthAdjust="spacingAndGlyphs">= 0.6</text>
<defs><linearGradient id="rb" x1="0" y1="0" x2="0" y2="1"><stop offset="0.000" stop-color="#ff0000"/><stop offset="0.050" stop-color="#ff2613"/><stop offset="0.100" stop-color="#ff4d27"/><stop offset="0.150" stop-color="#ff733b"/><stop offset="0.200" stop-color="#ff964f"/><stop offset="0.250" stop-color="#ffb360"/><stop offset="0.300" stop-color="#e6cd73"/><stop offset="0.350" stop-color="#cce385"/><stop offset="0.400" stop-color="#b2f396"/><stop offset="0.450" stop-color="#99fca6"/><stop offset="0.500" stop-color="#80ffb4"/><stop offset="0.550" stop-color="#66fcc2"/><stop offset="0.600" stop-color="#4df3ce"/><stop offset="0.650" stop-color="#32e3da"/><stop offset="0.700" stop-color="#18cde4"/><stop offset="0.750" stop-color="#00b5eb"/><stop offset="0.800" stop-color="#1996f3"/><stop offset="0.850" stop-color="#3473f8"/><stop offset="0.900" stop-color="#4e4dfc"/><stop offset="0.950" stop-color="#6826fe"/><stop offset="1.000" stop-color="#8000ff"/></linearGradient></defs>
<rect x="666.30" y="129.40" width="8.50" height="173.20" fill="url(#rb)"/>
<rect x="666.30" y="129.40" width="8.50" height="173.20" fill="none" stroke="#222" stroke-width="0.90"/>
<line x1="674.80" y1="152.26" x2="678.00" y2="152.26" stroke="#222" stroke-width="0.9"/>
<text x="680.40" y="157.66" font-size="14.20" font-family='"Liberation Sans", sans-serif' text-anchor="start" fill="#1a1a1a" stroke="#1a1a1a" stroke-width="0.30" textLength="8.46" lengthAdjust="spacingAndGlyphs">2</text>
<line x1="674.80" y1="184.33" x2="678.00" y2="184.33" stroke="#222" stroke-width="0.9"/>
<text x="680.40" y="189.73" font-size="14.20" font-family='"Liberation Sans", sans-serif' text-anchor="start" fill="#1a1a1a" stroke="#1a1a1a" stroke-width="0.30" textLength="8.46" lengthAdjust="spacingAndGlyphs">1</text>
<line x1="674.80" y1="216.40" x2="678.00" y2="216.40" stroke="#222" stroke-width="0.9"/>
<text x="680.40" y="221.80" font-size="14.20" font-family='"Liberation Sans", sans-serif' text-anchor="start" fill="#1a1a1a" stroke="#1a1a1a" stroke-width="0.30" textLength="8.46" lengthAdjust="spacingAndGlyphs">0</text>
<line x1="674.80" y1="248.47" x2="678.00" y2="248.47" stroke="#222" stroke-width="0.9"/>
<text x="680.40" y="253.87" font-size="14.20" font-family='"Liberation Sans", sans-serif' text-anchor="start" fill="#1a1a1a" stroke="#1a1a1a" stroke-width="0.30" textLength="19.61" lengthAdjust="spacingAndGlyphs">−1</text>
<line x1="674.80" y1="280.54" x2="678.00" y2="280.54" stroke="#222" stroke-width="0.9"/>
<text x="680.40" y="285.94" font-size="14.20" font-family='"Liberation Sans", sans-serif' text-anchor="start" fill="#1a1a1a" stroke="#1a1a1a" stroke-width="0.30" textLength="19.61" lengthAdjust="spacingAndGlyphs">−2</text>
<path fill="#2e3ea4" stroke="#2e3ea4" stroke-width="0.3" d="M125.5 677.3L137.8 677.3L150.1 677.3L162.4 677.3L174.8 677.3L187.1 677.3L199.4 677.3L211.8 677.3L224.1 677.3L236.4 677.3L248.7 677.3L261.1 677.3L273.4 677.3L285.7 677.3L285.7 666.6L285.7 665.3L273.4 666.2L261.1 664.4L248.7 665.9L245.6 666.6L236.4 668.9L224.1 668.3L211.8 667.1L199.4 669.1L187.1 669.4L174.8 667.8L162.4 669.7L150.1 671.1L137.8 674.4L125.5 675.0L116.7 677.3Z"/>
<path fill="#2058be" stroke="#2058be" stroke-width="0.3" d="M76.2 677.3L88.5 677.3L100.8 677.3L113.2 677.3L116.7 677.3L125.5 675.0L137.8 674.4L150.1 671.1L162.4 669.7L174.8 667.8L187.1 669.4L199.4 669.1L211.8 667.1L224.1 668.3L236.4 668.9L245.6 666.6L248.7 665.9L261.0 664.4L273.4 666.2L285.7 665.3L285.7 655.9L285.7 649.8L273.4 649.6L261.1 652.1L248.7 652.1L236.4 651.2L224.1 655.2L217.1 655.9L211.8 656.4L209.0 655.9L199.4 654.1L195.3 655.9L187.1 658.9L174.8 658.7L162.4 659.8L150.1 663.2L137.8 664.8L125.5 664.8L116.2 666.6L113.2 667.4L100.8 670.1L88.5 671.7L76.2 671.7L67.3 677.3Z"/>
<path fill="#1373d9" stroke="#1373d9" stroke-width="0.3" d="M51.5 677.3L63.9 677.3L67.3 677.3L76.2 671.7L88.5 671.7L100.8 670.1L113.2 667.4L116.2 666.6L125.5 664.8L137.8 664.8L150.1 663.2L162.4 659.8L174.8 658.7L187.1 658.9L195.3 655.9L199.4 654.1L209.0 655.9L211.8 656.4L217.1 655.9L224.1 655.2L236.4 651.2L248.7 652.1L261.1 652.1L273.4 649.6L285.7 649.8L285.7 645.2L285.7 634.5L285.7 634.0L281.5 634.5L273.4 635.6L261.0 639.1L248.7 638.7L236.4 639.5L224.1 641.8L211.8 644.6L199.4 642.9L194.3 645.2L187.1 649.0L174.8 649.4L162.4 650.3L150.1 653.2L142.3 655.9L137.8 657.0L125.5 656.8L113.2 660.1L100.8 662.2L88.5 662.4L76.2 662.2L63.9 666.4L63.2 666.6L51.5 674.1L46.7 677.3Z"/>
<path fill="#068ef4" stroke="#068ef4" stroke-width="0.3" d="M51.5 674.1L63.2 666.6L63.9 666.4L76.2 662.2L88.5 662.4L100.8 662.2L113.2 660.1L125.5 656.8L137.8 657.0L142.3 655.9L150.1 653.2L162.4 650.3L174.8 649.4L187.1 649.0L194.3 645.2L199.4 642.9L211.8 644.6L224.1 641.8L236.4 639.5L248.7 638.7L261.0 639.1L273.4 635.6L281.5 634.5L285.7 634.0L285.7 623.8L285.7 623.6L273.4 623.3L261.4 623.8L261.1 623.9L248.7 625.8L236.4 626.0L224.1 629.5L211.8 630.9L199.4 633.8L187.1 634.2L185.6 634.5L174.8 638.2L162.4 640.5L150.1 642.3L141.7 645.2L137.8 646.7L125.5 649.2L113.2 651.6L100.8 654.4L88.5 653.2L76.2 654.3L66.1 655.9L63.9 656.3L51.5 658.9L39.2 664.1L39.2 666.6L39.2 677.3L46.7 677.3Z"/>
<path fill="#00a4dc" stroke="#00a4dc" stroke-width="0.3" d="M51.5 658.9L63.9 656.3L66.1 655.9L76.2 654.3L88.5 653.2L100.8 654.4L113.2 651.6L125.5 649.2L137.8 646.7L141.7 645.2L150.1 642.3L162.4 640.5L174.8 638.2L185.6 634.5L187.1 634.2L199.4 633.8L211.8 630.9L224.1 629.5L236.4 626.0L248.7 625.8L261.1 623.9L261.4 623.8L273.4 623.3L285.7 623.6L285.7 613.2L285.7 608.2L273.4 607.9L261.1 610.2L248.7 610.6L236.4 612.7L228.3 613.2L224.1 613.6L211.8 616.5L199.4 619.5L193.1 623.8L187.1 626.5L174.8 627.3L162.4 626.0L150.1 631.9L137.8 634.0L133.3 634.5L125.5 636.3L113.2 642.2L103.2 645.2L100.8 646.0L90.3 645.2L88.5 645.1L85.5 645.2L76.2 645.7L64.8 645.2L63.9 645.2L63.7 645.2L51.5 649.0L39.3 655.9L39.2 656.0L39.2 664.1Z"/>
<path fill="#00b8a0" stroke="#00b8a0" stroke-width="0.3" d="M39.3 655.9L51.5 649.0L63.7 645.2L63.9 645.2L64.8 645.2L76.2 645.7L85.5 645.2L88.5 645.1L90.3 645.2L100.8 646.0L103.2 645.2L113.2 642.2L125.5 636.3L133.3 634.5L137.8 634.0L150.1 631.9L162.4 626.0L174.8 627.3L187.1 626.5L193.1 623.9L199.4 619.5L211.8 616.5L224.1 613.6L228.3 613.2L236.4 612.7L248.7 610.6L261.1 610.2L273.4 607.9L285.7 608.2L285.7 602.5L285.7 593.9L273.4 593.3L261.1 596.4L248.7 597.6L236.4 600.6L227.8 602.5L224.1 602.8L211.8 604.8L199.4 607.4L187.1 610.9L178.6 613.2L174.8 613.9L162.4 616.0L150.1 619.0L137.8 623.0L136.3 623.8L125.5 627.8L113.2 634.2L112.2 634.5L100.8 636.7L88.5 634.6L88.4 634.5L76.2 631.9L63.9 634.2L60.5 634.5L51.5 636.1L39.2 644.0L39.2 645.2L39.2 655.9L39.2 656.0Z"/>
<path fill="#01cc66" stroke="#01cc66" stroke-width="0.3" d="M51.5 636.1L60.5 634.5L63.9 634.2L76.2 631.9L88.4 634.5L88.5 634.6L100.8 636.7L112.2 634.5L113.2 634.2L125.5 627.8L136.3 623.8L137.8 623.0L150.1 619.0L162.4 616.0L174.8 613.9L178.6 613.2L187.1 610.9L199.4 607.4L211.8 604.8L224.1 602.8L227.8 602.5L236.4 600.6L248.7 597.6L261.0 596.4L273.4 593.3L285.7 593.9L285.7 591.8L285.7 581.1L285.7 580.3L278.5 581.1L273.4 581.8L261.1 582.5L248.7 584.3L236.4 584.4L224.1 587.2L211.8 587.8L201.9 591.8L199.4 593.3L187.1 594.9L176.1 602.5L174.8 603.2L162.4 605.2L150.1 607.6L137.8 612.0L128.0 613.2L125.5 613.8L113.2 619.4L101.4 623.8L100.8 624.1L100.3 623.8L88.5 618.9L76.2 622.8L71.3 623.8L63.9 625.4L51.5 628.3L42.6 634.5L39.2 637.0L39.2 644.0Z"/>
<path fill="#25d36d" stroke="#25d36d" stroke-width="0.3" d="M42.6 634.5L51.5 628.3L63.9 625.4L71.3 623.8L76.2 622.8L88.5 618.9L100.3 623.8L100.8 624.1L101.4 623.8L113.2 619.4L125.5 613.8L128.0 613.2L137.8 612.0L150.1 607.6L162.4 605.2L174.8 603.2L176.1 602.5L187.1 594.9L199.4 593.3L201.9 591.8L211.8 587.8L224.1 587.2L236.4 584.4L248.7 584.3L261.1 582.5L273.4 581.8L278.5 581.1L285.7 580.3L285.7 570.6L284.1 570.4L273.4 568.5L261.1 568.4L248.7 568.8L239.5 570.4L236.4 571.0L224.1 571.3L211.8 576.6L199.4 576.5L187.1 578.7L181.5 581.1L174.8 585.0L162.4 586.9L151.6 591.8L150.1 592.7L137.8 601.9L125.5 601.7L123.2 602.5L113.2 606.9L100.8 609.5L88.5 609.4L77.2 613.2L76.2 613.6L63.9 615.3L51.5 621.6L45.5 623.8L39.2 627.7L39.2 634.5L39.2 637.0Z"/>
<path fill="#4ddb75" stroke="#4ddb75" stroke-width="0.3" d="M45.5 623.8L51.5 621.6L63.9 615.3L76.2 613.6L77.2 613.2L88.5 609.4L100.8 609.5L113.2 606.9L123.2 602.5L125.5 601.7L137.8 601.9L150.1 592.7L151.6 591.8L162.4 586.9L174.8 585.0L181.5 581.1L187.1 578.7L199.4 576.5L211.8 576.6L224.1 571.3L236.4 571.0L239.5 570.4L248.7 568.8L261.1 568.4L273.4 568.5L284.1 570.4L285.7 570.6L285.7 570.4L285.7 559.7L285.7 552.2L273.4 556.8L261.1 557.9L248.7 556.5L240.3 559.7L236.4 560.9L224.1 560.4L211.8 560.8L199.4 562.7L187.1 567.6L174.8 570.2L174.2 570.4L162.4 572.8L150.1 577.7L145.3 581.1L137.8 586.4L125.5 590.4L123.4 591.8L113.2 595.5L100.8 600.8L88.5 602.1L86.8 602.5L76.2 604.6L63.9 607.3L55.2 613.2L51.5 615.3L39.2 619.7L39.2 623.8L39.2 627.7Z"/>
<path fill="#75e37d" stroke="#75e37d" stroke-width="0.3" d="M51.5 615.3L55.2 613.2L63.9 607.3L76.2 604.6L86.8 602.5L88.5 602.1L100.8 600.8L113.2 595.5L123.4 591.8L125.5 590.4L137.8 586.4L145.3 581.1L150.1 577.7L162.4 572.8L174.2 570.4L174.8 570.2L187.1 567.6L199.4 562.7L211.8 560.8L224.1 560.4L236.4 560.9L240.3 559.7L248.7 556.5L261.1 557.9L273.4 556.8L285.7 552.2L285.7 549.0L285.7 540.7L273.4 541.5L261.1 545.3L248.7 544.2L236.4 548.7L235.3 549.0L224.1 551.2L211.8 549.1L199.4 552.3L187.1 554.4L174.8 553.7L162.4 557.7L158.8 559.7L150.1 567.1L140.2 570.4L137.8 571.6L125.5 576.8L116.3 581.1L113.2 583.4L100.8 588.3L88.7 591.8L88.5 591.8L76.2 594.7L63.9 598.3L56.4 602.5L51.5 605.2L39.2 613.0L39.2 613.2L39.2 619.7Z"/>
<path fill="#9deb85" stroke="#9deb85" stroke-width="0.3" d="M51.5 605.2L56.4 602.5L63.9 598.3L76.2 594.7L88.5 591.8L88.7 591.8L100.8 588.3L113.2 583.4L116.3 581.1L125.5 576.8L137.8 571.6L140.2 570.4L150.1 567.1L158.8 559.7L162.4 557.7L174.8 553.7L187.1 554.4L199.4 552.3L211.8 549.1L224.1 551.2L235.3 549.0L236.4 548.7L248.7 544.2L261.1 545.3L273.4 541.5L285.7 540.7L285.7 538.3L285.7 528.4L273.4 528.7L261.1 533.3L248.7 532.8L236.4 535.2L224.1 535.0L211.8 537.3L209.4 538.3L199.4 541.2L187.1 539.2L174.8 540.1L162.4 548.1L159.3 549.0L150.1 551.3L137.8 559.2L136.5 559.7L125.5 565.8L119.7 570.4L113.2 573.3L100.8 575.7L88.5 580.0L85.8 581.1L76.2 584.5L63.9 586.4L60.1 591.8L51.5 597.9L45.7 602.5L39.2 607.4L39.2 613.0Z"/>
<path fill="#c5f38d" stroke="#c5f38d" stroke-width="0.3" d="M45.7 602.5L51.5 597.9L60.1 591.8L63.9 586.4L76.2 584.5L85.8 581.1L88.5 580.0L100.8 575.7L113.2 573.3L119.7 570.4L125.5 565.8L136.5 559.7L137.8 559.2L150.1 551.3L159.3 549.0L162.4 548.1L174.8 540.1L187.1 539.2L199.4 541.2L209.4 538.3L211.8 537.3L224.1 535.0L236.4 535.2L248.7 532.8L261.1 533.3L273.4 528.7L285.7 528.4L285.7 527.6L285.7 517.0L285.7 515.8L273.4 516.9L272.9 517.0L261.1 520.5L248.7 521.1L236.4 524.2L224.1 522.4L211.8 523.1L199.4 525.9L187.1 526.0L177.7 527.6L174.8 528.0L172.7 527.6L162.4 526.0L160.9 527.6L150.1 538.1L149.6 538.3L137.8 545.7L133.5 549.0L125.5 553.2L113.2 559.4L112.5 559.7L100.8 565.0L88.5 568.1L82.9 570.4L76.2 573.0L63.9 577.4L60.6 581.1L51.7 591.8L51.5 591.9L39.2 601.4L39.2 602.5L39.2 607.4Z"/>
<path fill="#edfb95" stroke="#edfb95" stroke-width="0.3" d="M51.5 591.9L51.7 591.8L60.6 581.1L63.9 577.4L76.2 573.0L82.9 570.4L88.5 568.1L100.8 565.0L112.5 559.7L113.2 559.4L125.5 553.2L133.5 549.0L137.8 545.7L149.6 538.3L150.1 538.1L160.9 527.6L162.4 526.0L172.7 527.6L174.8 528.0L177.7 527.6L187.1 526.0L199.4 525.9L211.8 523.1L224.1 522.4L236.4 524.2L248.7 521.1L261.0 520.5L272.9 517.0L273.4 516.9L285.7 515.8L285.7 508.2L273.4 506.9L267.3 506.3L261.0 505.0L248.7 501.6L236.4 505.8L224.1 505.6L221.9 506.3L211.8 509.1L199.4 507.2L187.1 510.4L174.8 510.1L163.6 506.3L162.4 505.8L161.8 506.3L161.1 517.0L151.4 527.6L150.1 528.9L137.8 530.7L128.5 538.3L125.5 540.7L113.2 546.1L106.1 549.0L100.8 551.1L88.5 556.6L82.8 559.7L76.2 563.3L65.2 570.4L63.9 571.0L54.8 581.1L51.5 585.1L41.1 591.8L39.2 593.3L39.2 601.4Z"/>
<path fill="#f6f394" stroke="#f6f394" stroke-width="0.3" d="M41.1 591.8L51.5 585.1L54.8 581.1L63.9 571.0L65.2 570.4L76.2 563.3L82.8 559.7L88.5 556.6L100.8 551.1L106.1 549.0L113.2 546.1L125.5 540.7L128.5 538.3L137.8 530.7L150.1 528.9L151.4 527.6L161.1 517.0L161.8 506.3L162.4 505.8L163.6 506.3L174.8 510.1L187.1 510.4L199.4 507.2L211.8 509.1L221.9 506.3L224.1 505.6L236.4 505.8L248.7 501.6L261.1 505.0L267.3 506.3L273.4 506.9L285.7 508.2L285.7 506.3L285.7 495.6L285.7 484.9L285.7 474.2L285.7 472.7L284.1 474.2L278.8 484.9L273.4 486.2L265.5 484.9L261.1 483.8L248.7 481.9L238.0 484.9L236.4 485.3L234.1 484.9L224.1 483.4L219.7 484.9L211.8 487.7L205.0 484.9L199.4 483.6L197.0 484.9L187.1 493.1L174.8 492.4L165.8 495.6L162.4 496.2L150.1 502.1L146.1 506.3L137.8 514.4L134.3 517.0L125.5 521.2L117.9 527.6L113.2 531.5L103.2 538.3L100.8 539.6L88.5 546.1L86.0 549.0L76.2 554.7L71.1 559.7L63.9 565.0L59.1 570.4L51.5 578.6L48.6 581.1L39.2 587.7L39.2 591.8L39.2 593.3Z"/>
<path fill="#e2da89" stroke="#e2da89" stroke-width="0.3" d="M48.6 581.1L51.5 578.6L59.1 570.4L63.9 565.0L71.1 559.7L76.2 554.7L86.0 549.0L88.5 546.1L100.8 539.6L103.2 538.3L113.2 531.5L117.9 527.6L125.5 521.2L134.3 517.0L137.8 514.4L146.1 506.3L150.1 502.1L162.4 496.2L165.8 495.6L174.8 492.4L187.1 493.1L197.0 484.9L199.4 483.6L205.0 484.9L211.8 487.7L219.7 484.9L224.1 483.4L234.1 484.9L236.4 485.3L238.0 484.9L248.7 481.9L261.1 483.8L265.5 484.9L273.4 486.2L278.8 484.9L284.1 474.2L285.7 472.7L285.7 463.5L273.4 463.5L261.1 463.5L253.2 463.5L248.7 465.5L236.4 468.4L224.1 467.4L211.8 471.3L200.5 474.2L199.4 474.4L187.1 476.0L174.8 477.6L162.4 475.6L150.1 482.5L147.5 484.9L138.5 495.6L137.8 496.3L125.5 504.2L123.2 506.3L113.2 516.9L113.1 516.9L100.8 524.9L93.3 527.6L88.5 529.9L81.0 538.3L76.2 543.9L73.4 549.0L63.9 558.6L63.0 559.7L53.7 570.4L51.5 572.8L41.5 581.1L39.2 582.7L39.2 587.7Z"/>
<path fill="#cec07f" stroke="#cec07f" stroke-width="0.3" d="M41.5 581.1L51.5 572.8L53.7 570.4L63.0 559.7L63.9 558.6L73.4 549.0L76.2 543.9L81.0 538.3L88.5 529.9L93.3 527.6L100.8 524.9L113.1 517.0L113.2 516.9L123.2 506.3L125.5 504.2L137.8 496.3L138.5 495.6L147.5 484.9L150.1 482.5L162.4 475.6L174.8 477.6L187.1 476.0L199.4 474.4L200.5 474.2L211.8 471.3L224.1 467.4L236.4 468.4L248.7 465.5L253.2 463.5L248.7 463.5L236.4 463.5L224.1 463.5L211.8 463.5L199.4 463.5L187.1 463.5L178.3 463.5L174.8 465.2L170.5 463.5L162.4 463.5L158.8 463.5L150.1 469.7L139.9 474.2L137.8 476.1L125.8 484.9L125.5 485.1L116.3 495.6L113.2 498.4L103.2 506.3L100.8 509.0L88.5 514.4L86.1 516.9L76.2 526.9L75.8 527.6L71.7 538.3L64.8 549.0L63.9 550.0L56.8 559.7L51.5 566.1L49.1 570.4L39.2 578.7L39.2 581.1L39.2 582.7Z"/>
<path fill="#baa774" stroke="#baa774" stroke-width="0.3" d="M49.1 570.4L51.5 566.1L56.8 559.7L63.9 550.0L64.8 549.0L71.7 538.3L75.8 527.6L76.2 526.9L86.1 517.0L88.5 514.4L100.8 509.0L103.2 506.3L113.2 498.4L116.3 495.6L125.5 485.1L125.8 484.9L137.8 476.1L139.9 474.2L150.1 469.7L158.8 463.5L150.1 463.5L137.8 463.5L125.5 463.5L117.1 463.5L113.2 468.3L104.2 474.2L100.8 477.3L95.6 484.9L91.1 495.6L88.5 498.3L82.5 506.3L76.2 513.4L74.4 517.0L69.3 527.6L64.8 538.3L63.9 539.8L56.4 549.0L51.5 557.6L50.8 559.7L44.9 570.4L39.2 575.2L39.2 578.7ZM174.8 465.2L178.3 463.5L174.8 463.5L170.5 463.5Z"/>
<path fill="#a68d69" stroke="#a68d69" stroke-width="0.3" d="M44.9 570.4L50.8 559.7L51.5 557.6L56.4 549.0L63.9 539.8L64.8 538.3L69.3 527.6L74.4 517.0L76.2 513.4L82.5 506.3L88.5 498.3L91.1 495.6L95.6 484.9L100.8 477.3L104.2 474.2L113.2 468.3L117.1 463.5L113.2 463.5L100.8 463.5L88.5 463.5L86.8 463.5L85.4 474.2L81.7 484.9L76.2 492.2L73.4 495.6L70.6 506.3L65.2 517.0L63.9 522.0L62.5 527.6L55.9 538.3L51.5 544.1L49.6 549.0L46.0 559.7L40.7 570.4L39.2 571.7L39.2 575.2Z"/>
<path fill="#92735e" stroke="#92735e" stroke-width="0.3" d="M40.7 570.4L46.0 559.7L49.6 549.0L51.5 544.1L55.9 538.3L62.5 527.6L63.9 522.0L65.2 517.0L70.6 506.3L73.4 495.6L76.2 492.2L81.7 484.9L85.4 474.2L86.8 463.5L78.6 463.5L76.9 474.2L76.2 476.1L72.7 484.9L63.9 494.8L63.4 495.6L62.2 506.3L57.1 517.0L54.5 527.6L51.5 532.1L48.3 538.3L44.9 549.0L41.1 559.7L39.2 563.7L39.2 570.4L39.2 571.7Z"/>
<path fill="#815e56" stroke="#815e56" stroke-width="0.3" d="M41.1 559.7L44.9 549.0L48.3 538.3L51.5 532.1L54.5 527.6L57.1 517.0L62.2 506.3L63.4 495.6L63.9 494.8L72.7 484.9L76.2 476.1L76.9 474.2L78.6 463.5L76.2 463.5L72.2 463.5L68.6 474.2L64.1 484.9L63.9 485.2L58.3 495.6L55.7 506.3L51.5 513.5L50.2 517.0L46.8 527.6L42.2 538.3L40.2 549.0L39.2 551.7L39.2 559.7L39.2 563.7Z"/>
<path fill="#93756e" stroke="#93756e" stroke-width="0.3" d="M40.2 549.0L42.2 538.3L46.8 527.6L50.2 517.0L51.5 513.5L55.7 506.3L58.3 495.6L63.9 485.2L64.1 484.9L68.6 474.2L72.2 463.5L66.6 463.5L63.9 469.2L61.7 474.2L57.9 484.9L53.2 495.6L51.5 500.6L49.5 506.3L45.7 517.0L39.2 527.5L39.2 527.6L39.2 538.3L39.2 549.0L39.2 551.7Z"/>
<path fill="#a78e89" stroke="#a78e89" stroke-width="0.3" d="M45.7 517.0L49.5 506.3L51.5 500.6L53.2 495.6L57.9 484.9L61.7 474.2L63.9 469.2L66.6 463.5L63.9 463.5L61.1 463.5L56.8 474.2L51.8 484.9L51.5 485.6L48.2 495.6L44.0 506.3L41.2 517.0L39.2 520.2L39.2 527.5Z"/>
<path fill="#bba8a4" stroke="#bba8a4" stroke-width="0.3" d="M41.2 517.0L44.0 506.3L48.2 495.6L51.5 485.6L51.8 484.9L56.8 474.2L61.1 463.5L55.6 463.5L51.9 474.2L51.5 474.9L46.5 484.9L43.3 495.6L39.2 504.7L39.2 506.3L39.2 517.0L39.2 520.2Z"/>
<path fill="#cfc2bf" stroke="#cfc2bf" stroke-width="0.3" d="M43.3 495.6L46.5 484.9L51.5 474.9L51.9 474.2L55.6 463.5L51.5 463.5L49.7 463.5L45.0 474.2L41.3 484.9L39.2 492.6L39.2 495.6L39.2 504.7Z"/>
<path fill="#e3dbd9" stroke="#e3dbd9" stroke-width="0.3" d="M41.3 484.9L45.0 474.2L49.7 463.5L42.5 463.5L39.2 471.4L39.2 474.2L39.2 484.9L39.2 492.6Z"/>
<path fill="#f7f5f4" stroke="#f7f5f4" stroke-width="0.3" d="M42.5 463.5L39.2 463.5L39.2 471.4Z"/>
<rect x="39.20" y="463.50" width="246.50" height="213.80" fill="none" stroke="#222" stroke-width="0.90"/>
<rect x="300.90" y="668.88" width="10.90" height="8.62" fill="#2e3ea4"/>
<rect x="300.90" y="660.65" width="10.90" height="8.62" fill="#2058be"/>
<rect x="300.90" y="652.43" width="10.90" height="8.62" fill="#1373d9"/>
<rect x="300.90" y="644.21" width="10.90" height="8.62" fill="#068ef4"/>
<rect x="300.90" y="635.98" width="10.90" height="8.62" fill="#00a4dc"/>
<rect x="300.90" y="627.76" width="10.90" height="8.62" fill="#00b8a0"/>
<rect x="300.90" y="619.54" width="10.90" height="8.62" fill="#01cc66"/>
<rect x="300.90" y="611.32" width="10.90" height="8.62" fill="#25d36d"/>
<rect x="300.90" y="603.09" width="10.90" height="8.62" fill="#4ddb75"/>
<rect x="300.90" y="594.87" width="10.90" height="8.62" fill="#75e37d"/>
<rect x="300.90" y="586.65" width="10.90" height="8.62" fill="#9deb85"/>
<rect x="300.90" y="578.42" width="10.90" height="8.62" fill="#c5f38d"/>
<rect x="300.90" y="570.20" width="10.90" height="8.62" fill="#edfb95"/>
<rect x="300.90" y="561.98" width="10.90" height="8.62" fill="#f6f394"/>
<rect x="300.90" y="553.75" width="10.90" height="8.62" fill="#e2da89"/>
<rect x="300.90" y="545.53" width="10.90" height="8.62" fill="#cec07f"/>
<rect x="300.90" y="537.31" width="10.90" height="8.62" fill="#baa774"/>
<rect x="300.90" y="529.08" width="10.90" height="8.62" fill="#a68d69"/>
<rect x="300.90" y="520.86" width="10.90" height="8.62" fill="#92735e"/>
<rect x="300.90" y="512.64" width="10.90" height="8.62" fill="#815e56"/>
<rect x="300.90" y="504.42" width="10.90" height="8.62" fill="#93756e"/>
<rect x="300.90" y="496.19" width="10.90" height="8.62" fill="#a78e89"/>
<rect x="300.90" y="487.97" width="10.90" height="8.62" fill="#bba8a4"/>
<rect x="300.90" y="479.75" width="10.90" height="8.62" fill="#cfc2bf"/>
<rect x="300.90" y="471.52" width="10.90" height="8.62" fill="#e3dbd9"/>
<rect x="300.90" y="463.30" width="10.90" height="8.62" fill="#f7f5f4"/>
<rect x="300.90" y="463.50" width="10.90" height="213.80" fill="none" stroke="#222" stroke-width="0.90"/>
<line x1="76.18" y1="677.30" x2="76.18" y2="680.30" stroke="#222" stroke-width="0.8"/>
<line x1="36.20" y1="645.23" x2="39.20" y2="645.23" stroke="#222" stroke-width="0.8"/>
<text x="76.18" y="691.70" font-size="11.21" font-family='"Liberation Sans", sans-serif' text-anchor="middle" fill="#1a1a1a" stroke="#1a1a1a" stroke-width="0.30" textLength="16.70" lengthAdjust="spacingAndGlyphs">0.2</text>
<text x="33.30" y="649.33" font-size="11.21" font-family='"Liberation Sans", sans-serif' text-anchor="end" fill="#1a1a1a" stroke="#1a1a1a" stroke-width="0.30" textLength="16.70" lengthAdjust="spacingAndGlyphs">0.2</text>
<line x1="125.48" y1="677.30" x2="125.48" y2="680.30" stroke="#222" stroke-width="0.8"/>
<line x1="36.20" y1="602.47" x2="39.20" y2="602.47" stroke="#222" stroke-width="0.8"/>
<text x="125.48" y="691.70" font-size="11.21" font-family='"Liberation Sans", sans-serif' text-anchor="middle" fill="#1a1a1a" stroke="#1a1a1a" stroke-width="0.30" textLength="16.70" lengthAdjust="spacingAndGlyphs">0.4</text>
<text x="33.30" y="606.57" font-size="11.21" font-family='"Liberation Sans", sans-serif' text-anchor="end" fill="#1a1a1a" stroke="#1a1a1a" stroke-width="0.30" textLength="16.70" lengthAdjust="spacingAndGlyphs">0.4</text>
<line x1="174.77" y1="677.30" x2="174.77" y2="680.30" stroke="#222" stroke-width="0.8"/>
<line x1="36.20" y1="559.71" x2="39.20" y2="559.71" stroke="#222" stroke-width="0.8"/>
<text x="174.77" y="691.70" font-size="11.21" font-family='"Liberation Sans", sans-serif' text-anchor="middle" fill="#1a1a1a" stroke="#1a1a1a" stroke-width="0.30" textLength="16.70" lengthAdjust="spacingAndGlyphs">0.6</text>
<text x="33.30" y="563.81" font-size="11.21" font-family='"Liberation Sans", sans-serif' text-anchor="end" fill="#1a1a1a" stroke="#1a1a1a" stroke-width="0.30" textLength="16.70" lengthAdjust="spacingAndGlyphs">0.6</text>
<line x1="224.07" y1="677.30" x2="224.07" y2="680.30" stroke="#222" stroke-width="0.8"/>
<line x1="36.20" y1="516.95" x2="39.20" y2="516.95" stroke="#222" stroke-width="0.8"/>
<text x="224.07" y="691.70" font-size="11.21" font-family='"Liberation Sans", sans-serif' text-anchor="middle" fill="#1a1a1a" stroke="#1a1a1a" stroke-width="0.30" textLength="16.70" lengthAdjust="spacingAndGlyphs">0.8</text>
<text x="33.30" y="521.05" font-size="11.21" font-family='"Liberation Sans", sans-serif' text-anchor="end" fill="#1a1a1a" stroke="#1a1a1a" stroke-width="0.30" textLength="16.70" lengthAdjust="spacingAndGlyphs">0.8</text>
<line x1="273.38" y1="677.30" x2="273.38" y2="680.30" stroke="#222" stroke-width="0.8"/>
<line x1="36.20" y1="474.19" x2="39.20" y2="474.19" stroke="#222" stroke-width="0.8"/>
<text x="273.38" y="691.70" font-size="11.21" font-family='"Liberation Sans", sans-serif' text-anchor="middle" fill="#1a1a1a" stroke="#1a1a1a" stroke-width="0.30" textLength="16.70" lengthAdjust="spacingAndGlyphs">1.0</text>
<text x="33.30" y="478.29" font-size="11.21" font-family='"Liberation Sans", sans-serif' text-anchor="end" fill="#1a1a1a" stroke="#1a1a1a" stroke-width="0.30" textLength="16.70" lengthAdjust="spacingAndGlyphs">1.0</text>
<line x1="311.80" y1="677.30" x2="314.80" y2="677.30" stroke="#222" stroke-width="0.8"/>
<text x="318.40" y="681.40" font-size="11.21" font-family='"Liberation Sans", sans-serif' text-anchor="start" fill="#1a1a1a" stroke="#1a1a1a" stroke-width="0.30" textLength="30.06" lengthAdjust="spacingAndGlyphs">0.056</text>
<line x1="311.80" y1="652.63" x2="314.80" y2="652.63" stroke="#222" stroke-width="0.8"/>
<text x="318.40" y="656.73" font-size="11.21" font-family='"Liberation Sans", sans-serif' text-anchor="start" fill="#1a1a1a" stroke="#1a1a1a" stroke-width="0.30" textLength="30.06" lengthAdjust="spacingAndGlyphs">0.068</text>
<line x1="311.80" y1="627.96" x2="314.80" y2="627.96" stroke="#222" stroke-width="0.8"/>
<text x="318.40" y="632.06" font-size="11.21" font-family='"Liberation Sans", sans-serif' text-anchor="start" fill="#1a1a1a" stroke="#1a1a1a" stroke-width="0.30" textLength="30.06" lengthAdjust="spacingAndGlyphs">0.080</text>
<line x1="311.80" y1="603.29" x2="314.80" y2="603.29" stroke="#222" stroke-width="0.8"/>
<text x="318.40" y="607.39" font-size="11.21" font-family='"Liberation Sans", sans-serif' text-anchor="start" fill="#1a1a1a" stroke="#1a1a1a" stroke-width="0.30" textLength="30.06" lengthAdjust="spacingAndGlyphs">0.092</text>
<line x1="311.80" y1="578.62" x2="314.80" y2="578.62" stroke="#222" stroke-width="0.8"/>
<text x="318.40" y="582.72" font-size="11.21" font-family='"Liberation Sans", sans-serif' text-anchor="start" fill="#1a1a1a" stroke="#1a1a1a" stroke-width="0.30" textLength="30.06" lengthAdjust="spacingAndGlyphs">0.104</text>
<line x1="311.80" y1="553.95" x2="314.80" y2="553.95" stroke="#222" stroke-width="0.8"/>
<text x="318.40" y="558.05" font-size="11.21" font-family='"Liberation Sans", sans-serif' text-anchor="start" fill="#1a1a1a" stroke="#1a1a1a" stroke-width="0.30" textLength="30.06" lengthAdjust="spacingAndGlyphs">0.116</text>
<line x1="311.80" y1="529.28" x2="314.80" y2="529.28" stroke="#222" stroke-width="0.8"/>
<text x="318.40" y="533.38" font-size="11.21" font-family='"Liberation Sans", sans-serif' text-anchor="start" fill="#1a1a1a" stroke="#1a1a1a" stroke-width="0.30" textLength="30.06" lengthAdjust="spacingAndGlyphs">0.128</text>
<line x1="311.80" y1="504.62" x2="314.80" y2="504.62" stroke="#222" stroke-width="0.8"/>
<text x="318.40" y="508.72" font-size="11.21" font-family='"Liberation Sans", sans-serif' text-anchor="start" fill="#1a1a1a" stroke="#1a1a1a" stroke-width="0.30" textLength="30.06" lengthAdjust="spacingAndGlyphs">0.140</text>
<line x1="311.80" y1="479.95" x2="314.80" y2="479.95" stroke="#222" stroke-width="0.8"/>
<text x="318.40" y="484.05" font-size="11.21" font-family='"Liberation Sans", sans-serif' text-anchor="start" fill="#1a1a1a" stroke="#1a1a1a" stroke-width="0.30" textLength="30.06" lengthAdjust="spacingAndGlyphs">0.152</text>
<path fill="#2c40a6" stroke="#2c40a6" stroke-width="0.3" d="M407.9 678.9L420.2 678.9L432.6 678.9L444.9 678.9L457.2 678.9L469.6 678.9L481.9 678.9L494.3 678.9L506.6 678.9L519.0 678.9L531.4 678.9L543.7 678.9L556.0 678.9L568.4 678.9L580.8 678.9L593.1 678.9L605.5 678.9L617.8 678.9L630.1 678.9L642.5 678.9L642.5 668.2L642.5 658.5L632.7 657.5L630.1 657.3L626.8 657.5L617.8 660.0L605.5 663.2L593.1 661.8L580.8 663.3L568.4 663.3L556.0 664.4L543.7 663.5L531.4 663.8L519.0 665.5L508.4 668.2L506.6 668.8L505.2 668.2L494.3 664.9L483.0 668.2L481.9 668.5L480.8 668.2L469.6 665.0L457.2 664.5L444.9 667.2L434.6 668.2L432.6 668.5L420.2 670.0L407.9 669.5L395.5 670.2L395.5 678.9Z"/>
<path fill="#1c60c6" stroke="#1c60c6" stroke-width="0.3" d="M407.9 669.5L420.2 670.0L432.6 668.5L434.6 668.2L444.9 667.2L457.2 664.5L469.6 665.0L480.8 668.2L481.9 668.5L483.0 668.2L494.3 664.9L505.2 668.2L506.6 668.8L508.4 668.2L519.0 665.5L531.4 663.8L543.7 663.5L556.0 664.4L568.4 663.3L580.8 663.3L593.1 661.8L605.5 663.2L617.8 660.0L626.8 657.5L630.1 657.3L632.7 657.5L642.5 658.5L642.5 657.5L642.5 646.8L642.5 639.3L630.1 639.2L617.8 641.9L605.5 641.9L593.1 639.3L580.8 642.0L568.4 642.6L556.6 646.8L556.0 647.1L543.7 648.0L531.4 650.3L519.0 652.2L506.6 652.1L494.3 652.3L481.9 653.2L469.6 649.8L457.2 649.5L444.9 655.8L439.5 657.5L432.6 659.4L420.2 659.2L407.9 658.4L395.5 661.0L395.5 668.2L395.5 670.2Z"/>
<path fill="#0c80e6" stroke="#0c80e6" stroke-width="0.3" d="M407.9 658.4L420.2 659.2L432.6 659.4L439.5 657.5L444.9 655.8L457.2 649.5L469.6 649.8L481.9 653.2L494.3 652.3L506.6 652.1L519.0 652.2L531.4 650.3L543.7 648.0L556.0 647.1L556.6 646.8L568.4 642.6L580.8 642.0L593.1 639.3L605.5 641.9L617.8 641.9L630.1 639.2L642.5 639.3L642.5 636.1L642.5 625.4L642.5 621.7L630.1 623.1L617.8 618.8L605.5 623.5L599.7 625.4L593.1 627.1L580.8 629.0L568.4 626.7L556.0 630.5L543.7 634.5L531.4 632.2L520.6 636.1L519.0 636.9L506.6 637.3L494.3 637.8L481.9 638.3L469.6 640.0L457.2 637.0L444.9 644.6L435.5 646.8L432.6 647.5L429.3 646.8L420.2 644.9L407.9 645.4L403.8 646.8L395.5 650.2L395.5 657.5L395.5 661.0Z"/>
<path fill="#009cf4" stroke="#009cf4" stroke-width="0.3" d="M403.8 646.8L407.9 645.4L420.2 644.9L429.3 646.8L432.6 647.5L435.5 646.8L444.9 644.6L457.2 637.0L469.6 640.0L481.9 638.3L494.3 637.8L506.6 637.3L519.0 636.9L520.6 636.1L531.4 632.2L543.7 634.5L556.0 630.5L568.4 626.7L580.8 629.0L593.1 627.1L599.7 625.4L605.5 623.5L617.8 618.8L630.1 623.1L642.5 621.7L642.5 614.7L642.5 604.5L639.7 604.0L630.1 602.9L626.4 604.0L617.8 606.3L605.5 609.3L593.1 608.9L580.8 610.5L568.4 612.5L556.0 612.8L549.4 614.7L543.7 617.0L531.4 619.4L519.0 622.5L506.6 618.1L494.3 624.5L482.0 625.0L481.2 625.4L469.6 630.5L457.2 628.5L444.9 631.9L432.6 634.4L420.2 633.7L407.9 635.0L406.1 636.1L395.5 641.7L395.5 646.8L395.5 650.2Z"/>
<path fill="#00b4ac" stroke="#00b4ac" stroke-width="0.3" d="M406.1 636.1L407.9 635.0L420.2 633.7L432.6 634.4L444.9 631.9L457.2 628.5L469.6 630.5L481.2 625.4L481.9 625.0L494.3 624.5L506.6 618.1L519.0 622.5L531.4 619.4L543.7 617.0L549.4 614.7L556.0 612.8L568.4 612.5L580.8 610.5L593.1 608.9L605.5 609.3L617.8 606.3L626.4 604.0L630.1 602.9L639.7 604.0L642.5 604.5L642.5 604.0L642.5 593.3L642.5 592.5L630.1 589.1L617.8 591.1L606.8 593.3L605.5 593.6L595.0 593.3L593.1 593.3L593.0 593.3L580.8 596.3L568.4 593.6L567.5 593.3L556.0 591.4L548.2 593.3L543.7 596.1L531.4 600.4L521.8 604.0L519.0 605.7L506.6 604.1L505.0 604.0L494.3 603.7L493.9 604.0L481.9 611.6L475.9 614.7L469.6 618.3L460.2 614.7L457.2 614.1L452.1 614.7L444.9 616.8L432.6 622.6L422.0 625.4L420.2 625.7L407.9 626.6L395.5 633.0L395.5 636.1L395.5 641.7Z"/>
<path fill="#01cc66" stroke="#01cc66" stroke-width="0.3" d="M407.9 626.6L420.2 625.7L422.0 625.4L432.6 622.6L444.9 616.8L452.1 614.7L457.2 614.1L460.2 614.7L469.6 618.3L475.9 614.7L481.9 611.6L493.9 604.0L494.3 603.7L505.0 604.0L506.6 604.1L519.0 605.7L521.8 604.0L531.4 600.4L543.7 596.1L548.2 593.3L556.0 591.4L567.5 593.3L568.4 593.6L580.8 596.3L593.0 593.3L593.1 593.3L595.0 593.3L605.5 593.6L606.8 593.3L617.8 591.1L630.1 589.1L642.5 592.5L642.5 582.6L642.5 573.3L638.8 572.0L630.1 568.9L617.8 570.6L615.0 572.0L605.5 575.1L596.4 572.0L593.1 571.2L584.2 572.0L580.8 572.7L570.0 572.0L568.4 571.9L568.1 572.0L556.0 578.1L543.7 577.0L531.4 580.1L521.4 582.6L519.0 583.5L506.6 585.9L494.3 589.9L487.4 593.3L481.9 597.6L471.4 604.0L469.6 604.9L457.2 605.9L444.9 609.2L432.6 612.5L420.2 612.7L410.7 614.7L407.9 615.9L395.5 622.1L395.5 625.4L395.5 633.0Z"/>
<path fill="#2dd56f" stroke="#2dd56f" stroke-width="0.3" d="M407.9 615.9L410.7 614.7L420.2 612.7L432.6 612.5L444.9 609.2L457.2 605.9L469.6 604.9L471.4 604.0L481.9 597.6L487.4 593.3L494.3 589.9L506.6 585.9L519.0 583.5L521.4 582.6L531.4 580.1L543.7 577.0L556.0 578.1L568.1 572.0L568.4 571.9L570.0 572.0L580.8 572.7L584.2 572.0L593.1 571.2L596.4 572.0L605.5 575.1L615.0 572.0L617.8 570.6L630.1 568.9L638.8 572.0L642.5 573.3L642.5 572.0L642.5 561.3L642.5 553.7L630.1 556.2L617.8 554.6L605.5 557.2L594.0 561.3L593.1 561.4L585.9 561.3L580.8 561.1L568.4 559.1L556.0 559.9L543.7 559.6L538.0 561.3L531.4 567.3L519.0 569.3L507.1 572.0L506.6 572.0L494.3 576.8L482.0 582.3L481.4 582.6L469.6 589.4L463.5 593.3L457.2 597.0L444.9 602.6L441.4 604.0L432.6 606.5L420.2 607.1L407.9 609.6L396.4 614.7L395.5 615.2L395.5 622.1Z"/>
<path fill="#5ddf79" stroke="#5ddf79" stroke-width="0.3" d="M396.4 614.7L407.9 609.6L420.2 607.1L432.6 606.5L441.4 604.0L444.9 602.6L457.2 597.0L463.5 593.3L469.6 589.4L481.4 582.6L481.9 582.3L494.3 576.8L506.6 572.0L507.1 572.0L519.0 569.3L531.4 567.3L538.0 561.3L543.7 559.6L556.0 559.9L568.4 559.1L580.8 561.1L585.9 561.3L593.1 561.4L594.0 561.3L605.5 557.2L617.8 554.6L630.1 556.2L642.5 553.7L642.5 550.6L642.5 539.9L642.5 539.3L639.7 539.9L630.1 542.4L617.8 542.6L605.5 542.7L593.1 547.7L580.8 545.6L568.4 547.7L556.0 542.7L543.7 548.2L537.9 550.6L531.4 552.3L519.0 552.2L506.6 555.0L494.3 552.4L487.8 561.3L481.9 570.1L480.4 572.0L469.6 579.6L464.8 582.6L457.2 587.7L446.5 593.3L444.9 594.1L432.6 599.0L420.2 600.9L407.9 603.8L407.0 604.0L395.5 608.0L395.5 614.7L395.5 615.2Z"/>
<path fill="#89e781" stroke="#89e781" stroke-width="0.3" d="M407.0 604.0L407.9 603.8L420.2 600.9L432.6 599.0L444.9 594.1L446.5 593.3L457.2 587.7L464.8 582.6L469.6 579.6L480.4 572.0L481.9 570.1L487.8 561.3L494.3 552.4L506.6 555.0L519.0 552.2L531.4 552.3L537.9 550.6L543.7 548.2L556.0 542.7L568.4 547.7L580.8 545.6L593.1 547.7L605.5 542.7L617.8 542.6L630.1 542.4L639.7 539.9L642.5 539.3L642.5 529.2L642.5 527.4L630.1 524.6L617.8 528.0L611.2 529.2L605.5 530.2L593.1 532.8L580.8 531.1L568.4 535.7L556.0 530.5L543.7 533.6L531.4 537.2L519.0 538.8L514.8 539.9L506.6 542.2L494.3 543.0L482.5 550.6L481.9 551.5L473.2 561.3L469.6 567.2L466.8 572.0L457.2 577.3L447.6 582.6L444.9 584.0L432.6 590.5L423.0 593.3L420.2 594.0L407.9 598.4L395.5 601.4L395.5 604.0L395.5 608.0Z"/>
<path fill="#b9f18b" stroke="#b9f18b" stroke-width="0.3" d="M407.9 598.4L420.2 594.0L423.0 593.3L432.6 590.5L444.9 584.0L447.6 582.6L457.2 577.3L466.8 572.0L469.6 567.2L473.2 561.3L481.9 551.5L482.5 550.6L494.3 543.0L506.6 542.2L514.8 539.9L519.0 538.8L531.4 537.2L543.7 533.6L556.0 530.5L568.4 535.7L580.8 531.1L593.1 532.8L605.5 530.2L611.2 529.2L617.8 528.0L630.1 524.6L642.5 527.4L642.5 518.5L642.5 514.2L630.1 513.1L617.8 515.6L605.5 508.9L593.1 514.1L580.8 518.2L568.4 518.0L556.0 514.1L549.9 518.5L543.7 521.0L536.2 518.5L531.4 516.9L528.9 518.5L519.0 526.1L512.3 529.2L506.6 531.1L494.3 530.1L481.9 534.5L477.0 539.9L469.6 542.8L462.4 550.6L457.2 556.2L453.8 561.3L447.5 572.0L444.9 573.5L432.6 582.3L432.0 582.6L420.2 586.8L407.9 592.9L406.2 593.3L395.5 595.6L395.5 601.4Z"/>
<path fill="#e9fb95" stroke="#e9fb95" stroke-width="0.3" d="M406.2 593.3L407.9 592.9L420.2 586.8L432.0 582.6L432.6 582.3L444.9 573.5L447.5 572.0L453.8 561.3L457.2 556.2L462.4 550.6L469.6 542.8L477.0 539.9L481.9 534.5L494.3 530.1L506.6 531.1L512.3 529.2L519.0 526.1L528.9 518.5L531.4 516.9L536.2 518.5L543.7 521.0L549.9 518.5L556.0 514.1L568.4 518.0L580.8 518.2L593.1 514.1L605.5 508.9L617.8 515.6L630.1 513.1L642.5 514.2L642.5 507.8L642.5 497.1L642.5 495.5L638.2 497.1L630.1 499.8L617.8 499.9L605.5 497.7L593.1 498.8L580.8 497.8L577.2 497.1L568.4 495.1L556.0 492.6L549.9 497.1L543.7 497.4L531.4 502.6L519.0 505.3L511.5 507.8L506.6 510.2L494.3 515.4L484.9 518.5L481.9 519.2L469.6 523.1L462.5 529.2L457.2 533.4L452.8 539.9L450.1 550.6L444.9 557.3L441.9 561.3L432.6 570.3L430.7 572.0L420.2 579.3L412.0 582.6L407.9 584.5L395.5 588.9L395.5 593.3L395.5 595.6Z"/>
<path fill="#f4f193" stroke="#f4f193" stroke-width="0.3" d="M407.9 584.5L412.0 582.6L420.2 579.3L430.7 572.0L432.6 570.3L441.9 561.3L444.9 557.3L450.1 550.6L452.8 539.9L457.2 533.4L462.5 529.2L469.6 523.1L481.9 519.2L484.9 518.5L494.3 515.4L506.6 510.2L511.5 507.8L519.0 505.3L531.4 502.6L543.7 497.4L549.9 497.1L556.0 492.6L568.4 495.1L577.2 497.1L580.8 497.8L593.1 498.8L605.5 497.7L617.8 499.9L630.1 499.8L638.2 497.1L642.5 495.5L642.5 486.4L642.5 476.6L630.1 479.4L624.9 475.7L617.8 472.3L613.5 475.7L605.5 478.2L595.0 475.7L593.1 474.2L580.8 471.6L568.4 472.7L556.0 467.9L546.7 475.7L543.7 477.6L534.7 475.7L531.4 474.8L529.7 475.7L519.0 482.4L509.4 486.4L506.6 487.4L494.3 494.1L481.9 494.0L471.7 497.1L469.6 499.2L457.8 507.8L457.2 508.3L454.3 518.5L449.4 529.2L444.9 535.0L441.1 539.9L439.5 550.6L432.6 559.7L431.5 561.3L420.2 571.2L419.2 572.0L407.9 577.7L395.5 581.8L395.5 582.6L395.5 588.9Z"/>
<path fill="#dcd286" stroke="#dcd286" stroke-width="0.3" d="M407.9 577.7L419.2 572.0L420.2 571.2L431.5 561.3L432.6 559.7L439.5 550.6L441.1 539.9L444.9 535.0L449.4 529.2L454.3 518.5L457.2 508.3L457.8 507.8L469.6 499.2L471.7 497.1L481.9 494.0L494.3 494.1L506.6 487.4L509.4 486.4L519.0 482.4L529.7 475.7L531.4 474.8L534.7 475.7L543.7 477.6L546.7 475.7L556.0 467.9L568.4 472.7L580.8 471.6L593.1 474.2L595.0 475.7L605.5 478.2L613.5 475.7L617.8 472.3L624.9 475.7L630.1 479.4L642.5 476.6L642.5 475.7L642.5 465.0L630.1 465.0L617.8 465.0L605.5 465.0L593.1 465.0L580.8 465.0L568.4 465.0L556.0 465.0L543.7 465.0L531.4 465.0L519.0 465.0L516.4 465.0L506.6 467.6L494.3 468.8L481.9 472.2L474.4 475.7L469.6 479.8L464.2 486.4L457.2 493.2L455.1 497.1L446.4 507.8L444.9 512.7L443.1 518.5L438.2 529.2L432.6 536.9L431.2 539.9L428.0 550.6L421.6 561.3L420.2 562.5L407.9 571.2L406.4 572.0L395.5 576.1L395.5 581.8Z"/>
<path fill="#c4b379" stroke="#c4b379" stroke-width="0.3" d="M406.4 572.0L407.9 571.2L420.2 562.5L421.6 561.3L428.0 550.6L431.2 539.9L432.6 536.9L438.2 529.2L443.1 518.5L444.9 512.7L446.4 507.8L455.1 497.1L457.2 493.2L464.2 486.4L469.6 479.8L474.4 475.7L481.9 472.2L494.3 468.8L506.6 467.6L516.4 465.0L506.6 465.0L494.3 465.0L481.9 465.0L469.6 465.0L459.5 465.0L457.2 470.5L455.9 475.7L447.3 486.4L444.9 493.6L440.7 497.1L434.9 507.8L432.6 514.9L431.5 518.5L427.4 529.2L424.0 539.9L420.2 546.0L416.3 550.6L410.2 561.3L407.9 562.9L395.5 570.0L395.5 572.0L395.5 576.1Z"/>
<path fill="#ae976d" stroke="#ae976d" stroke-width="0.3" d="M407.9 562.9L410.2 561.3L416.3 550.6L420.2 546.0L424.0 539.9L427.4 529.2L431.5 518.5L432.6 514.9L434.9 507.8L440.7 497.1L444.9 493.6L447.3 486.4L455.9 475.7L457.2 470.5L459.5 465.0L457.2 465.0L448.1 465.0L446.5 475.7L444.9 477.5L432.8 486.4L432.6 486.6L426.5 497.1L422.4 507.8L421.4 518.5L420.2 521.9L417.0 529.2L407.9 539.9L407.9 540.0L406.8 550.6L398.7 561.3L395.5 563.1L395.5 570.0Z"/>
<path fill="#967960" stroke="#967960" stroke-width="0.3" d="M398.7 561.3L406.8 550.6L407.9 540.0L407.9 539.9L417.0 529.2L420.2 521.9L421.4 518.5L422.4 507.8L426.5 497.1L432.6 486.6L432.8 486.4L444.9 477.5L446.5 475.7L448.1 465.0L444.9 465.0L437.9 465.0L433.3 475.7L432.6 476.2L423.4 486.4L420.2 494.2L419.0 497.1L410.9 507.8L407.9 514.1L407.1 518.5L406.5 529.2L402.2 539.9L399.4 550.6L395.5 555.1L395.5 561.3L395.5 563.1Z"/>
<path fill="#815e56" stroke="#815e56" stroke-width="0.3" d="M399.4 550.6L402.2 539.9L406.5 529.2L407.1 518.5L407.9 514.1L410.9 507.8L419.0 497.1L420.2 494.2L423.4 486.4L432.6 476.2L433.3 475.7L437.9 465.0L432.6 465.0L428.2 465.0L423.4 475.7L420.2 479.4L415.0 486.4L409.6 497.1L407.9 499.3L405.3 507.8L403.0 518.5L401.7 529.2L396.6 539.9L395.5 542.9L395.5 550.6L395.5 555.1Z"/>
<path fill="#977a74" stroke="#977a74" stroke-width="0.3" d="M396.6 539.9L401.7 529.2L403.0 518.5L405.3 507.8L407.9 499.3L409.6 497.1L415.0 486.4L420.2 479.4L423.4 475.7L428.2 465.0L420.2 465.0L419.3 465.0L414.0 475.7L407.9 484.9L407.4 486.4L404.9 497.1L401.9 507.8L398.9 518.5L396.8 529.2L395.5 531.8L395.5 539.9L395.5 542.9Z"/>
<path fill="#af9994" stroke="#af9994" stroke-width="0.3" d="M396.8 529.2L398.9 518.5L401.9 507.8L404.9 497.1L407.4 486.4L407.9 484.9L414.0 475.7L419.3 465.0L411.8 465.0L407.9 471.6L406.2 475.7L403.2 486.4L401.2 497.1L398.5 507.8L395.5 516.7L395.5 518.5L395.5 529.2L395.5 531.8Z"/>
<path fill="#c5b5b1" stroke="#c5b5b1" stroke-width="0.3" d="M398.5 507.8L401.2 497.1L403.2 486.4L406.2 475.7L407.9 471.6L411.8 465.0L407.9 465.0L405.0 465.0L401.4 475.7L399.0 486.4L397.5 497.1L395.5 505.6L395.5 507.8L395.5 516.7Z"/>
<path fill="#ddd3d1" stroke="#ddd3d1" stroke-width="0.3" d="M397.5 497.1L399.0 486.4L401.4 475.7L405.0 465.0L398.8 465.0L396.6 475.7L395.5 481.7L395.5 486.4L395.5 497.1L395.5 505.6Z"/>
<path fill="#f5f2f2" stroke="#f5f2f2" stroke-width="0.3" d="M396.6 475.7L398.8 465.0L395.5 465.0L395.5 475.7L395.5 481.7Z"/>
<rect x="395.50" y="465.00" width="247.00" height="213.90" fill="none" stroke="#222" stroke-width="0.90"/>
<rect x="657.30" y="668.98" width="11.00" height="10.12" fill="#2c40a6"/>
<rect x="657.30" y="659.25" width="11.00" height="10.12" fill="#1c60c6"/>
<rect x="657.30" y="649.53" width="11.00" height="10.12" fill="#0c80e6"/>
<rect x="657.30" y="639.81" width="11.00" height="10.12" fill="#009cf4"/>
<rect x="657.30" y="630.09" width="11.00" height="10.12" fill="#00b4ac"/>
<rect x="657.30" y="620.36" width="11.00" height="10.12" fill="#01cc66"/>
<rect x="657.30" y="610.64" width="11.00" height="10.12" fill="#2dd56f"/>
<rect x="657.30" y="600.92" width="11.00" height="10.12" fill="#5ddf79"/>
<rect x="657.30" y="591.20" width="11.00" height="10.12" fill="#89e781"/>
<rect x="657.30" y="581.47" width="11.00" height="10.12" fill="#b9f18b"/>
<rect x="657.30" y="571.75" width="11.00" height="10.12" fill="#e9fb95"/>
<rect x="657.30" y="562.03" width="11.00" height="10.12" fill="#f4f193"/>
<rect x="657.30" y="552.30" width="11.00" height="10.12" fill="#dcd286"/>
<rect x="657.30" y="542.58" width="11.00" height="10.12" fill="#c4b379"/>
<rect x="657.30" y="532.86" width="11.00" height="10.12" fill="#ae976d"/>
<rect x="657.30" y="523.14" width="11.00" height="10.12" fill="#967960"/>
<rect x="657.30" y="513.41" width="11.00" height="10.12" fill="#815e56"/>
<rect x="657.30" y="503.69" width="11.00" height="10.12" fill="#977a74"/>
<rect x="657.30" y="493.97" width="11.00" height="10.12" fill="#af9994"/>
<rect x="657.30" y="484.25" width="11.00" height="10.12" fill="#c5b5b1"/>
<rect x="657.30" y="474.52" width="11.00" height="10.12" fill="#ddd3d1"/>
<rect x="657.30" y="464.80" width="11.00" height="10.12" fill="#f5f2f2"/>
<rect x="657.30" y="465.00" width="11.00" height="213.90" fill="none" stroke="#222" stroke-width="0.90"/>
<line x1="432.55" y1="678.90" x2="432.55" y2="681.90" stroke="#222" stroke-width="0.8"/>
<line x1="392.50" y1="646.81" x2="395.50" y2="646.81" stroke="#222" stroke-width="0.8"/>
<text x="432.55" y="693.30" font-size="11.21" font-family='"Liberation Sans", sans-serif' text-anchor="middle" fill="#1a1a1a" stroke="#1a1a1a" stroke-width="0.30" textLength="16.70" lengthAdjust="spacingAndGlyphs">0.2</text>
<text x="389.60" y="650.91" font-size="11.21" font-family='"Liberation Sans", sans-serif' text-anchor="end" fill="#1a1a1a" stroke="#1a1a1a" stroke-width="0.30" textLength="16.70" lengthAdjust="spacingAndGlyphs">0.2</text>
<line x1="481.95" y1="678.90" x2="481.95" y2="681.90" stroke="#222" stroke-width="0.8"/>
<line x1="392.50" y1="604.03" x2="395.50" y2="604.03" stroke="#222" stroke-width="0.8"/>
<text x="481.95" y="693.30" font-size="11.21" font-family='"Liberation Sans", sans-serif' text-anchor="middle" fill="#1a1a1a" stroke="#1a1a1a" stroke-width="0.30" textLength="16.70" lengthAdjust="spacingAndGlyphs">0.4</text>
<text x="389.60" y="608.13" font-size="11.21" font-family='"Liberation Sans", sans-serif' text-anchor="end" fill="#1a1a1a" stroke="#1a1a1a" stroke-width="0.30" textLength="16.70" lengthAdjust="spacingAndGlyphs">0.4</text>
<line x1="531.35" y1="678.90" x2="531.35" y2="681.90" stroke="#222" stroke-width="0.8"/>
<line x1="392.50" y1="561.25" x2="395.50" y2="561.25" stroke="#222" stroke-width="0.8"/>
<text x="531.35" y="693.30" font-size="11.21" font-family='"Liberation Sans", sans-serif' text-anchor="middle" fill="#1a1a1a" stroke="#1a1a1a" stroke-width="0.30" textLength="16.70" lengthAdjust="spacingAndGlyphs">0.6</text>
<text x="389.60" y="565.36" font-size="11.21" font-family='"Liberation Sans", sans-serif' text-anchor="end" fill="#1a1a1a" stroke="#1a1a1a" stroke-width="0.30" textLength="16.70" lengthAdjust="spacingAndGlyphs">0.6</text>
<line x1="580.75" y1="678.90" x2="580.75" y2="681.90" stroke="#222" stroke-width="0.8"/>
<line x1="392.50" y1="518.48" x2="395.50" y2="518.48" stroke="#222" stroke-width="0.8"/>
<text x="580.75" y="693.30" font-size="11.21" font-family='"Liberation Sans", sans-serif' text-anchor="middle" fill="#1a1a1a" stroke="#1a1a1a" stroke-width="0.30" textLength="16.70" lengthAdjust="spacingAndGlyphs">0.8</text>
<text x="389.60" y="522.58" font-size="11.21" font-family='"Liberation Sans", sans-serif' text-anchor="end" fill="#1a1a1a" stroke="#1a1a1a" stroke-width="0.30" textLength="16.70" lengthAdjust="spacingAndGlyphs">0.8</text>
<line x1="630.15" y1="678.90" x2="630.15" y2="681.90" stroke="#222" stroke-width="0.8"/>
<line x1="392.50" y1="475.70" x2="395.50" y2="475.70" stroke="#222" stroke-width="0.8"/>
<text x="630.15" y="693.30" font-size="11.21" font-family='"Liberation Sans", sans-serif' text-anchor="middle" fill="#1a1a1a" stroke="#1a1a1a" stroke-width="0.30" textLength="16.70" lengthAdjust="spacingAndGlyphs">1.0</text>
<text x="389.60" y="479.80" font-size="11.21" font-family='"Liberation Sans", sans-serif' text-anchor="end" fill="#1a1a1a" stroke="#1a1a1a" stroke-width="0.30" textLength="16.70" lengthAdjust="spacingAndGlyphs">1.0</text>
<line x1="668.30" y1="678.90" x2="671.30" y2="678.90" stroke="#222" stroke-width="0.8"/>
<text x="675.00" y="683.00" font-size="11.21" font-family='"Liberation Sans", sans-serif' text-anchor="start" fill="#1a1a1a" stroke="#1a1a1a" stroke-width="0.30" textLength="30.06" lengthAdjust="spacingAndGlyphs">0.055</text>
<line x1="668.30" y1="649.73" x2="671.30" y2="649.73" stroke="#222" stroke-width="0.8"/>
<text x="675.00" y="653.83" font-size="11.21" font-family='"Liberation Sans", sans-serif' text-anchor="start" fill="#1a1a1a" stroke="#1a1a1a" stroke-width="0.30" textLength="30.06" lengthAdjust="spacingAndGlyphs">0.070</text>
<line x1="668.30" y1="620.56" x2="671.30" y2="620.56" stroke="#222" stroke-width="0.8"/>
<text x="675.00" y="624.66" font-size="11.21" font-family='"Liberation Sans", sans-serif' text-anchor="start" fill="#1a1a1a" stroke="#1a1a1a" stroke-width="0.30" textLength="30.06" lengthAdjust="spacingAndGlyphs">0.085</text>
<line x1="668.30" y1="591.40" x2="671.30" y2="591.40" stroke="#222" stroke-width="0.8"/>
<text x="675.00" y="595.50" font-size="11.21" font-family='"Liberation Sans", sans-serif' text-anchor="start" fill="#1a1a1a" stroke="#1a1a1a" stroke-width="0.30" textLength="30.06" lengthAdjust="spacingAndGlyphs">0.100</text>
<line x1="668.30" y1="562.23" x2="671.30" y2="562.23" stroke="#222" stroke-width="0.8"/>
<text x="675.00" y="566.33" font-size="11.21" font-family='"Liberation Sans", sans-serif' text-anchor="start" fill="#1a1a1a" stroke="#1a1a1a" stroke-width="0.30" textLength="30.06" lengthAdjust="spacingAndGlyphs">0.115</text>
<line x1="668.30" y1="533.06" x2="671.30" y2="533.06" stroke="#222" stroke-width="0.8"/>
<text x="675.00" y="537.16" font-size="11.21" font-family='"Liberation Sans", sans-serif' text-anchor="start" fill="#1a1a1a" stroke="#1a1a1a" stroke-width="0.30" textLength="30.06" lengthAdjust="spacingAndGlyphs">0.130</text>
<line x1="668.30" y1="503.89" x2="671.30" y2="503.89" stroke="#222" stroke-width="0.8"/>
<text x="675.00" y="507.99" font-size="11.21" font-family='"Liberation Sans", sans-serif' text-anchor="start" fill="#1a1a1a" stroke="#1a1a1a" stroke-width="0.30" textLength="30.06" lengthAdjust="spacingAndGlyphs">0.145</text>
<line x1="668.30" y1="474.72" x2="671.30" y2="474.72" stroke="#222" stroke-width="0.8"/>
<text x="675.00" y="478.82" font-size="11.21" font-family='"Liberation Sans", sans-serif' text-anchor="start" fill="#1a1a1a" stroke="#1a1a1a" stroke-width="0.30" textLength="30.06" lengthAdjust="spacingAndGlyphs">0.160</text>
<path fill="#2e3ea4" stroke="#2e3ea4" stroke-width="0.3" d="M243.9 954.5L253.7 954.5L243.9 951.5L234.3 954.5ZM268.1 954.5L280.2 954.5L280.2 952.8L268.1 949.6L258.1 954.5Z"/>
<path fill="#2058be" stroke="#2058be" stroke-width="0.3" d="M207.6 954.5L219.7 954.5L231.8 954.5L234.3 954.5L243.9 951.5L253.7 954.5L256.0 954.5L258.1 954.5L268.1 949.6L280.2 952.8L280.2 944.0L280.2 938.1L268.1 938.5L256.0 941.6L243.9 941.2L233.5 944.0L231.8 944.5L219.7 947.4L207.6 951.7L197.5 954.5Z"/>
<path fill="#1373d9" stroke="#1373d9" stroke-width="0.3" d="M171.3 954.5L183.4 954.5L195.5 954.5L197.5 954.5L207.6 951.7L219.7 947.4L231.8 944.5L233.5 944.0L243.9 941.2L256.0 941.6L268.1 938.5L280.2 938.1L280.2 933.5L280.2 928.2L268.1 926.4L256.0 927.1L243.9 931.2L231.8 933.0L230.7 933.5L219.7 937.9L207.6 941.0L195.5 943.4L193.3 944.0L183.4 946.5L171.3 950.3L168.7 954.5Z"/>
<path fill="#068ef4" stroke="#068ef4" stroke-width="0.3" d="M171.3 950.3L183.4 946.5L193.3 944.0L195.5 943.4L207.6 941.0L219.7 937.9L230.7 933.5L231.8 933.0L243.9 931.2L256.0 927.1L268.1 926.4L280.2 928.2L280.2 923.0L280.2 916.9L268.1 915.8L256.0 915.8L243.9 921.4L231.8 922.7L226.6 923.0L219.7 923.8L207.6 928.4L195.5 933.1L194.3 933.5L183.4 936.2L171.3 942.2L169.0 944.0L164.1 954.5L168.7 954.5Z"/>
<path fill="#00a4dc" stroke="#00a4dc" stroke-width="0.3" d="M159.2 952.4L159.5 954.5L164.1 954.5L169.0 944.0L171.3 942.2L183.4 936.2L194.3 933.5L195.5 933.1L207.6 928.4L219.7 923.8L226.6 923.0L231.8 922.7L243.9 921.4L256.0 915.8L268.1 915.8L280.2 916.9L280.2 912.5L280.2 905.3L268.1 906.0L256.0 905.9L243.9 911.0L238.0 912.5L231.8 913.9L219.7 914.1L207.6 916.9L195.5 920.0L187.9 923.0L183.4 924.7L171.3 931.2L169.8 933.5L159.2 942.0L157.6 944.0Z"/>
<path fill="#00b8a0" stroke="#00b8a0" stroke-width="0.3" d="M159.2 954.5L159.5 954.5L159.2 952.4L157.6 944.0L159.2 942.0L169.8 933.5L171.3 931.2L183.4 924.7L187.9 923.0L195.5 920.0L207.6 916.9L219.7 914.1L231.8 913.9L238.0 912.5L243.9 911.0L256.0 905.9L268.1 906.0L280.2 905.3L280.2 902.0L280.2 895.1L268.1 895.3L256.0 895.4L244.2 902.0L243.9 902.1L243.0 902.0L231.8 899.7L219.7 901.4L217.0 902.0L207.6 905.2L195.5 909.0L183.4 909.1L179.2 912.5L171.3 918.3L166.3 923.0L160.5 933.5L159.2 934.5L151.6 944.0L151.8 954.5Z"/>
<path fill="#01cc66" stroke="#01cc66" stroke-width="0.3" d="M147.1 954.5L151.8 954.5L151.6 944.0L159.2 934.5L160.5 933.5L166.3 923.0L171.3 918.3L179.2 912.5L183.4 909.1L195.5 909.0L207.6 905.2L217.0 902.0L219.7 901.4L231.8 899.7L243.0 902.0L243.9 902.1L244.2 902.0L256.0 895.4L268.1 895.3L280.2 895.1L280.2 891.4L280.2 884.5L271.8 880.9L268.1 879.9L265.1 880.9L256.0 885.3L243.9 887.6L231.8 887.7L225.8 891.4L219.7 893.6L207.6 894.0L195.5 895.7L183.4 897.9L171.5 902.0L171.3 902.1L162.6 912.5L159.2 915.9L155.6 923.0L149.9 933.5L147.1 938.8L144.2 944.0L141.1 954.5Z"/>
<path fill="#25d36d" stroke="#25d36d" stroke-width="0.3" d="M135.0 954.5L141.1 954.5L144.2 944.0L147.1 938.8L149.9 933.5L155.6 923.0L159.2 915.9L162.6 912.5L171.3 902.1L171.5 902.0L183.4 897.9L195.5 895.7L207.6 894.0L219.7 893.6L225.8 891.4L231.8 887.7L243.9 887.6L256.0 885.3L265.1 880.9L268.1 879.9L271.8 880.9L280.2 884.5L280.2 880.9L280.2 872.8L268.1 873.0L256.0 875.4L243.9 877.2L231.8 875.5L219.7 877.8L207.6 879.2L202.0 880.9L195.5 883.5L183.4 888.6L171.3 890.6L170.3 891.4L159.2 898.6L155.3 902.0L148.5 912.5L147.1 918.8L145.8 923.0L138.1 933.5L135.0 939.5L132.5 944.0L131.6 954.5Z"/>
<path fill="#4ddb75" stroke="#4ddb75" stroke-width="0.3" d="M122.9 947.5L125.8 954.5L131.6 954.5L132.5 944.0L135.0 939.5L138.1 933.5L145.8 923.0L147.1 918.8L148.5 912.5L155.3 902.0L159.2 898.6L170.3 891.4L171.3 890.6L183.4 888.6L195.5 883.5L202.0 880.9L207.6 879.2L219.7 877.8L231.8 875.5L243.9 877.2L256.0 875.4L268.1 873.0L280.2 872.8L280.2 870.4L280.2 859.9L280.2 859.6L278.7 859.9L268.1 864.8L256.0 864.2L243.9 868.0L231.8 866.5L219.7 869.0L214.3 870.4L207.6 872.0L195.5 875.2L183.4 879.7L171.3 879.1L168.0 880.9L159.2 888.0L151.3 891.4L147.1 894.9L142.6 902.0L137.4 912.5L135.0 916.2L130.3 923.0L128.5 933.5L122.9 941.1L121.3 944.0Z"/>
<path fill="#75e37d" stroke="#75e37d" stroke-width="0.3" d="M122.9 954.5L125.8 954.5L122.9 947.5L121.3 944.0L122.9 941.1L128.5 933.5L130.3 923.0L135.0 916.2L137.4 912.5L142.6 902.0L147.1 894.9L151.3 891.4L159.2 888.0L168.0 880.9L171.3 879.1L183.4 879.7L195.5 875.2L207.6 872.0L214.3 870.4L219.7 869.0L231.8 866.5L243.9 868.0L256.0 864.2L268.1 864.8L278.7 859.9L280.2 859.6L280.2 855.2L268.1 856.8L256.0 855.7L243.9 858.1L231.8 859.2L228.1 859.9L219.7 861.4L207.6 863.6L195.5 865.6L183.4 867.0L171.3 869.2L168.6 870.4L159.2 875.5L152.4 880.9L147.1 884.3L135.0 891.2L134.9 891.4L129.3 902.0L125.7 912.5L122.9 916.7L119.8 923.0L119.4 933.5L114.9 944.0L118.2 954.5Z"/>
<path fill="#9deb85" stroke="#9deb85" stroke-width="0.3" d="M110.8 954.5L118.2 954.5L114.9 944.0L119.4 933.5L119.8 923.0L122.9 916.7L125.7 912.5L129.3 902.0L134.9 891.4L135.0 891.2L147.1 884.3L152.4 880.9L159.2 875.5L168.6 870.4L171.3 869.2L183.4 867.0L195.5 865.6L207.6 863.6L219.7 861.4L228.1 859.9L231.8 859.2L243.9 858.1L256.0 855.7L268.1 856.8L280.2 855.2L280.2 850.9L268.1 849.8L260.6 849.4L256.0 849.2L255.0 849.4L243.9 852.0L231.8 851.5L219.7 851.7L207.6 856.1L195.5 856.3L183.4 858.2L173.3 859.9L171.3 860.3L159.2 862.5L147.1 865.8L144.0 870.4L135.0 876.4L130.5 880.9L124.8 891.4L122.9 895.1L119.8 902.0L117.1 912.5L110.9 923.0L110.8 923.9L109.4 933.5L107.5 944.0L107.3 954.5Z"/>
<path fill="#c5f38d" stroke="#c5f38d" stroke-width="0.3" d="M98.7 954.5L107.3 954.5L107.5 944.0L109.4 933.5L110.8 923.9L110.9 923.0L117.1 912.5L119.8 902.0L122.9 895.1L124.8 891.4L130.5 880.9L135.0 876.4L144.0 870.4L147.1 865.8L159.2 862.5L171.3 860.3L173.3 859.9L183.4 858.2L195.5 856.3L207.6 856.1L219.7 851.7L231.8 851.5L243.9 852.0L255.0 849.4L256.0 849.2L260.6 849.4L268.1 849.8L280.2 850.9L280.2 849.4L280.2 844.6L268.1 843.7L256.0 842.9L243.9 843.7L231.8 843.1L219.7 841.7L207.7 849.4L207.6 849.4L195.5 849.6L183.4 851.1L171.3 852.3L159.2 853.3L147.1 855.3L135.0 857.5L127.3 859.9L126.9 870.4L122.9 874.7L117.9 880.9L114.7 891.4L111.1 902.0L110.8 903.4L108.4 912.5L101.4 923.0L99.7 933.5L98.7 941.7L98.5 944.0L96.2 954.5Z"/>
<path fill="#edfb95" stroke="#edfb95" stroke-width="0.3" d="M98.5 944.0L98.7 941.7L99.7 933.5L101.4 923.0L108.4 912.5L110.8 903.4L111.1 902.0L114.7 891.4L117.9 880.9L122.9 874.7L126.9 870.4L127.3 859.9L135.0 857.5L147.1 855.3L159.2 853.3L171.3 852.3L183.4 851.1L195.5 849.6L207.6 849.4L207.7 849.4L219.7 841.7L231.8 843.1L243.9 843.7L256.0 842.9L268.1 843.7L280.2 844.6L280.2 838.9L280.2 834.9L268.1 836.2L256.0 834.3L243.9 833.3L231.8 828.4L219.7 833.0L207.6 831.6L195.5 836.5L183.4 837.2L177.4 838.9L171.3 841.8L159.2 845.3L147.5 849.4L147.1 849.5L135.0 851.4L122.9 856.9L111.1 859.9L110.8 860.5L107.6 870.4L106.2 880.9L105.3 891.4L100.9 902.0L98.7 906.4L95.7 912.5L91.7 923.0L92.6 933.5L91.2 944.0L90.5 954.5L96.2 954.5Z"/>
<path fill="#f6f394" stroke="#f6f394" stroke-width="0.3" d="M86.6 954.5L90.5 954.5L91.2 944.0L92.6 933.5L91.7 923.0L95.7 912.5L98.7 906.4L100.9 902.0L105.3 891.4L106.2 880.9L107.6 870.4L110.8 860.5L111.1 859.9L122.9 856.9L135.0 851.4L147.1 849.5L147.5 849.4L159.2 845.3L171.3 841.8L177.4 838.9L183.4 837.2L195.5 836.5L207.6 831.6L219.7 833.0L231.8 828.4L243.9 833.3L256.0 834.3L268.1 836.2L280.2 834.9L280.2 828.4L280.2 822.2L268.1 822.7L256.0 822.0L243.9 821.7L231.8 819.1L226.3 817.9L219.7 815.9L209.5 817.9L207.6 818.3L195.5 825.4L189.3 828.4L183.4 830.1L171.3 833.3L159.2 835.8L150.0 838.9L147.1 839.6L135.0 845.7L129.8 849.4L122.9 852.9L110.8 855.9L103.2 859.9L99.0 870.4L98.7 871.5L96.6 880.9L94.4 891.4L88.5 902.0L86.6 908.3L86.1 912.5L84.1 923.0L85.5 933.5L85.0 944.0L83.8 954.5Z"/>
<path fill="#e2da89" stroke="#e2da89" stroke-width="0.3" d="M85.0 944.0L85.5 933.5L84.1 923.0L86.1 912.5L86.6 908.3L88.5 902.0L94.4 891.4L96.6 880.9L98.7 871.5L99.0 870.4L103.2 859.9L110.8 855.9L122.9 852.9L129.8 849.4L135.0 845.7L147.1 839.6L150.0 838.9L159.2 835.8L171.3 833.3L183.4 830.1L189.3 828.4L195.5 825.4L207.6 818.3L209.5 817.9L219.7 815.9L226.3 817.9L231.8 819.1L243.9 821.7L256.0 822.0L268.1 822.7L280.2 822.2L280.2 817.9L280.2 812.1L268.1 810.7L256.0 811.3L243.9 809.1L240.2 807.4L231.8 803.6L219.7 803.0L212.5 807.4L207.6 809.3L195.5 814.5L187.3 817.9L183.4 819.7L171.3 824.4L159.2 821.9L147.1 825.1L144.0 828.4L137.4 838.9L135.0 840.2L122.9 848.7L121.1 849.4L110.8 851.8L98.7 857.8L96.3 859.9L93.1 870.4L89.3 880.9L86.6 885.3L84.5 891.4L83.0 902.0L81.2 912.5L79.0 923.0L76.9 933.5L80.5 944.0L74.6 954.5L83.8 954.5Z"/>
<path fill="#cec07f" stroke="#cec07f" stroke-width="0.3" d="M74.5 954.5L74.6 954.5L80.5 944.0L76.9 933.5L79.0 923.0L81.2 912.5L83.0 902.0L84.5 891.4L86.6 885.3L89.3 880.9L93.1 870.4L96.3 859.9L98.7 857.8L110.8 851.8L121.1 849.4L122.9 848.7L135.0 840.2L137.4 838.9L144.0 828.4L147.1 825.1L159.2 821.9L171.3 824.4L183.4 819.7L187.3 817.9L195.5 814.5L207.6 809.3L212.5 807.4L219.7 803.0L231.8 803.6L240.2 807.4L243.9 809.1L256.0 811.3L268.1 810.7L280.2 812.1L280.2 807.4L280.2 801.2L268.1 799.7L256.3 796.8L256.0 796.8L243.9 793.8L231.8 794.3L219.7 793.1L207.6 794.3L203.8 796.8L195.5 804.6L190.4 807.4L183.4 810.7L171.3 813.4L159.2 812.3L147.1 816.3L145.5 817.9L135.8 828.4L135.0 829.6L127.3 838.9L122.9 841.9L110.8 847.3L106.0 849.4L98.7 852.7L90.7 859.9L87.3 870.4L86.6 872.2L83.7 880.9L80.5 891.4L78.9 902.0L76.3 912.5L74.5 920.3L73.9 923.0L71.5 933.5L74.5 940.6L76.1 944.0L74.5 946.8L71.2 954.5Z"/>
<path fill="#baa774" stroke="#baa774" stroke-width="0.3" d="M74.5 946.8L76.1 944.0L74.5 940.6L71.5 933.5L73.9 923.0L74.5 920.3L76.3 912.5L78.9 902.0L80.5 891.4L83.7 880.9L86.6 872.2L87.3 870.4L90.7 859.9L98.7 852.7L106.0 849.4L110.8 847.3L122.9 841.9L127.3 838.9L135.0 829.6L135.8 828.4L145.5 817.9L147.1 816.3L159.2 812.3L171.3 813.4L183.4 810.7L190.4 807.4L195.5 804.6L203.8 796.8L207.6 794.3L219.7 793.1L231.8 794.3L243.9 793.8L256.0 796.8L256.3 796.8L268.1 799.7L280.2 801.2L280.2 796.8L280.2 790.7L268.1 789.5L256.0 789.2L243.9 788.0L231.8 788.6L219.7 786.5L207.6 787.6L195.5 794.0L191.1 796.8L183.4 800.4L171.3 803.9L159.2 800.8L147.1 805.1L144.9 807.4L135.1 817.9L135.0 817.9L126.7 828.4L122.9 832.9L117.6 838.9L110.8 842.4L98.7 847.4L96.1 849.4L86.6 858.1L84.7 859.9L81.9 870.4L79.1 880.9L76.5 891.4L74.7 902.0L74.5 902.6L71.0 912.5L69.5 923.0L67.4 933.5L71.4 944.0L67.9 954.5L71.2 954.5Z"/>
<path fill="#a68d69" stroke="#a68d69" stroke-width="0.3" d="M71.4 944.0L67.4 933.5L69.5 923.0L71.0 912.5L74.5 902.6L74.7 902.0L76.5 891.4L79.1 880.9L81.9 870.4L84.7 859.9L86.6 858.1L96.1 849.4L98.7 847.4L110.8 842.4L117.6 838.9L122.9 832.9L126.7 828.4L135.0 817.9L135.1 817.9L144.9 807.4L147.1 805.1L159.2 800.8L171.3 803.9L183.4 800.4L191.1 796.8L195.5 794.0L207.6 787.6L219.7 786.5L231.8 788.6L243.9 788.0L256.0 789.2L268.1 789.5L280.2 790.7L280.2 786.3L280.2 778.9L268.1 777.4L256.0 776.6L243.9 779.0L231.8 777.1L219.7 779.8L207.6 780.5L195.5 782.0L185.5 786.3L183.4 787.8L171.3 794.4L159.2 791.8L147.1 792.2L140.5 796.8L135.0 803.1L130.2 807.4L122.9 813.4L119.8 817.9L114.0 828.4L110.8 832.9L106.7 838.9L98.7 841.9L89.1 849.4L86.6 851.6L77.8 859.9L76.6 870.4L74.5 880.7L74.4 880.9L71.2 891.4L68.4 902.0L65.5 912.5L65.0 923.0L63.3 933.5L66.5 944.0L64.5 954.5L67.9 954.5Z"/>
<path fill="#92735e" stroke="#92735e" stroke-width="0.3" d="M62.4 954.5L64.5 954.5L66.5 944.0L63.3 933.5L65.0 923.0L65.5 912.5L68.4 902.0L71.2 891.4L74.4 880.9L74.5 880.7L76.6 870.4L77.8 859.9L86.6 851.6L89.1 849.4L98.7 841.9L106.7 838.9L110.8 832.9L114.0 828.4L119.8 817.9L122.9 813.4L130.2 807.4L135.0 803.1L140.5 796.8L147.1 792.2L159.2 791.8L171.3 794.4L183.4 787.8L185.5 786.3L195.5 782.0L207.6 780.5L219.7 779.8L231.8 777.1L243.9 779.0L256.0 776.6L268.1 777.4L280.2 778.9L280.2 775.8L280.2 766.1L268.1 767.8L256.0 769.3L243.9 766.9L231.8 767.6L219.7 767.4L207.6 769.9L195.5 772.0L183.4 771.8L171.3 775.7L171.0 775.8L159.2 783.2L147.1 781.2L139.5 786.3L135.0 789.7L122.9 796.2L122.6 796.8L113.4 807.4L110.8 811.3L106.3 817.9L99.8 828.4L98.7 829.9L93.0 838.9L86.6 843.5L80.8 849.4L74.5 855.5L70.0 859.9L69.1 870.4L66.8 880.9L64.4 891.4L62.4 900.3L62.1 902.0L59.9 912.5L60.1 923.0L58.4 933.5L61.1 944.0L57.6 954.5Z"/>
<path fill="#815e56" stroke="#815e56" stroke-width="0.3" d="M50.3 954.5L57.6 954.5L61.1 944.0L58.4 933.5L60.1 923.0L59.9 912.5L62.1 902.0L62.4 900.3L64.4 891.4L66.8 880.9L69.1 870.4L70.0 859.9L74.5 855.5L80.8 849.4L86.6 843.5L93.0 838.9L98.7 829.9L99.8 828.4L106.3 817.9L110.8 811.3L113.4 807.4L122.6 796.8L122.9 796.2L135.0 789.7L139.5 786.3L147.1 781.2L159.2 783.2L171.0 775.8L171.3 775.7L183.4 771.8L195.5 772.0L207.6 769.9L219.7 767.4L231.8 767.6L243.9 766.9L256.0 769.3L268.1 767.8L280.2 766.1L280.2 765.3L280.2 754.8L280.2 752.1L268.1 745.4L256.0 749.7L243.9 748.5L231.8 750.2L225.9 754.8L219.7 756.8L213.9 754.8L207.6 749.2L195.8 754.8L195.5 754.9L183.4 755.3L171.7 765.3L171.3 765.5L168.1 765.3L159.2 764.1L155.8 765.3L147.1 767.6L135.0 770.7L122.9 773.5L119.7 775.8L110.8 785.3L109.6 786.3L101.1 796.8L98.7 798.2L94.5 807.4L91.5 817.9L86.6 825.0L84.3 828.4L82.0 838.9L74.5 846.6L71.7 849.4L62.4 858.7L61.6 859.9L60.6 870.4L59.2 880.9L57.4 891.4L56.8 902.0L54.3 912.5L54.5 923.0L53.3 933.5L52.7 944.0L50.3 948.1L48.5 954.5Z"/>
<path fill="#93756e" stroke="#93756e" stroke-width="0.3" d="M50.3 948.1L52.7 944.0L53.3 933.5L54.5 923.0L54.3 912.5L56.8 902.0L57.4 891.4L59.2 880.9L60.6 870.4L61.6 859.9L62.4 858.7L71.7 849.4L74.5 846.6L82.0 838.9L84.3 828.4L86.6 825.0L91.5 817.9L94.5 807.4L98.7 798.2L101.1 796.8L109.6 786.3L110.8 785.3L119.7 775.8L122.9 773.5L135.0 770.7L147.1 767.6L155.8 765.3L159.2 764.1L168.1 765.3L171.3 765.5L171.7 765.3L183.4 755.3L195.5 754.9L195.8 754.8L207.6 749.2L213.9 754.8L219.7 756.8L225.9 754.8L231.8 750.2L243.9 748.5L256.0 749.7L268.1 745.4L280.2 752.1L280.2 744.3L268.1 744.3L256.0 744.3L243.9 744.3L231.8 744.3L219.7 744.3L207.6 744.3L195.5 744.3L183.4 744.3L171.3 744.3L159.2 744.3L147.8 744.3L147.1 744.4L135.0 751.6L127.1 754.8L122.9 756.9L110.8 762.6L107.8 765.3L98.7 774.3L97.1 775.8L89.4 786.3L86.6 793.9L85.1 796.9L82.5 807.4L74.8 817.9L74.5 818.4L71.3 828.4L71.8 838.9L62.4 848.8L61.8 849.4L55.1 859.9L53.2 870.4L51.4 880.9L50.3 889.9L50.2 891.4L50.3 892.4L51.5 902.0L50.3 906.6L48.6 912.5L48.5 923.0L47.4 933.5L46.2 944.0L44.5 954.5L48.5 954.5Z"/>
<path fill="#a78e89" stroke="#a78e89" stroke-width="0.3" d="M46.2 944.0L47.4 933.5L48.5 923.0L48.6 912.5L50.3 906.6L51.5 902.0L50.3 892.4L50.2 891.4L50.3 889.9L51.4 880.9L53.2 870.4L55.1 859.9L61.8 849.4L62.4 848.8L71.8 838.9L71.3 828.4L74.5 818.4L74.8 817.9L82.5 807.4L85.1 796.8L86.6 793.9L89.4 786.3L97.1 775.8L98.7 774.3L107.8 765.3L110.8 762.6L122.9 756.9L127.1 754.8L135.0 751.6L147.1 744.4L147.8 744.3L147.1 744.3L135.0 744.3L122.9 744.3L110.8 744.3L105.1 744.3L101.6 754.8L98.7 757.9L90.5 765.3L86.6 770.1L83.4 775.8L75.4 786.3L74.5 787.7L70.4 796.8L68.7 807.4L64.3 817.9L62.4 826.2L61.5 828.4L59.1 838.9L50.3 848.5L50.0 849.4L48.7 859.9L46.4 870.4L45.4 880.9L44.1 891.4L43.7 902.0L42.7 912.5L41.3 923.0L40.3 933.5L40.3 944.0L40.5 954.5L44.5 954.5Z"/>
<path fill="#bba8a4" stroke="#bba8a4" stroke-width="0.3" d="M40.3 944.0L40.3 933.5L41.3 923.0L42.7 912.5L43.7 902.0L44.1 891.4L45.4 880.9L46.4 870.4L48.7 859.9L50.0 849.4L50.3 848.5L59.1 838.9L61.5 828.4L62.4 826.2L64.3 817.9L68.7 807.4L70.4 796.8L74.5 787.7L75.4 786.3L83.4 775.8L86.6 770.1L90.5 765.3L98.7 757.9L101.6 754.8L105.1 744.3L98.7 744.3L86.6 744.3L74.5 744.3L67.7 744.3L73.0 754.8L65.4 765.3L64.8 775.8L62.4 784.4L61.8 786.3L60.0 796.8L58.2 807.4L54.7 817.9L50.3 823.8L48.2 828.4L47.6 838.9L44.4 849.4L42.8 859.9L40.1 870.4L39.6 880.9L38.2 891.0L38.2 891.4L38.2 902.0L38.2 912.5L38.2 923.0L38.2 933.5L38.2 944.0L38.2 954.5L40.5 954.5Z"/>
<path fill="#cfc2bf" stroke="#cfc2bf" stroke-width="0.3" d="M39.6 880.9L40.1 870.4L42.8 859.9L44.4 849.4L47.6 838.9L48.2 828.4L50.3 823.8L54.7 817.9L58.2 807.4L60.0 796.8L61.8 786.3L62.4 784.4L64.8 775.8L65.4 765.3L73.0 754.8L67.7 744.3L62.4 744.3L58.1 744.3L56.7 754.8L52.3 765.3L50.3 772.8L49.6 775.8L47.9 786.3L45.8 796.8L48.1 807.4L44.8 817.9L42.4 828.4L41.4 838.9L38.7 849.4L38.2 852.6L38.2 859.9L38.2 870.4L38.2 880.9L38.2 891.0Z"/>
<path fill="#e3dbd9" stroke="#e3dbd9" stroke-width="0.3" d="M38.7 849.4L41.4 838.9L42.4 828.4L44.8 817.9L48.1 807.4L45.8 796.8L47.9 786.3L49.6 775.8L50.3 772.8L52.3 765.3L56.7 754.8L58.1 744.3L50.9 744.3L50.3 746.9L45.0 754.8L41.9 765.3L39.0 775.8L38.2 784.3L38.2 786.3L38.2 796.8L38.2 807.4L38.2 817.9L38.2 828.4L38.2 838.9L38.2 849.4L38.2 852.6Z"/>
<path fill="#f7f5f4" stroke="#f7f5f4" stroke-width="0.3" d="M39.0 775.8L41.9 765.3L45.0 754.8L50.3 746.9L50.9 744.3L50.3 744.3L38.2 744.3L38.2 754.8L38.2 765.3L38.2 775.8L38.2 784.3Z"/>
<rect x="38.20" y="744.30" width="242.00" height="210.20" fill="none" stroke="#222" stroke-width="0.90"/>
<rect x="295.20" y="946.22" width="10.30" height="8.48" fill="#2e3ea4"/>
<rect x="295.20" y="938.13" width="10.30" height="8.48" fill="#2058be"/>
<rect x="295.20" y="930.05" width="10.30" height="8.48" fill="#1373d9"/>
<rect x="295.20" y="921.96" width="10.30" height="8.48" fill="#068ef4"/>
<rect x="295.20" y="913.88" width="10.30" height="8.48" fill="#00a4dc"/>
<rect x="295.20" y="905.79" width="10.30" height="8.48" fill="#00b8a0"/>
<rect x="295.20" y="897.71" width="10.30" height="8.48" fill="#01cc66"/>
<rect x="295.20" y="889.62" width="10.30" height="8.48" fill="#25d36d"/>
<rect x="295.20" y="881.54" width="10.30" height="8.48" fill="#4ddb75"/>
<rect x="295.20" y="873.45" width="10.30" height="8.48" fill="#75e37d"/>
<rect x="295.20" y="865.37" width="10.30" height="8.48" fill="#9deb85"/>
<rect x="295.20" y="857.28" width="10.30" height="8.48" fill="#c5f38d"/>
<rect x="295.20" y="849.20" width="10.30" height="8.48" fill="#edfb95"/>
<rect x="295.20" y="841.12" width="10.30" height="8.48" fill="#f6f394"/>
<rect x="295.20" y="833.03" width="10.30" height="8.48" fill="#e2da89"/>
<rect x="295.20" y="824.95" width="10.30" height="8.48" fill="#cec07f"/>
<rect x="295.20" y="816.86" width="10.30" height="8.48" fill="#baa774"/>
<rect x="295.20" y="808.78" width="10.30" height="8.48" fill="#a68d69"/>
<rect x="295.20" y="800.69" width="10.30" height="8.48" fill="#92735e"/>
<rect x="295.20" y="792.61" width="10.30" height="8.48" fill="#815e56"/>
<rect x="295.20" y="784.52" width="10.30" height="8.48" fill="#93756e"/>
<rect x="295.20" y="776.44" width="10.30" height="8.48" fill="#a78e89"/>
<rect x="295.20" y="768.35" width="10.30" height="8.48" fill="#bba8a4"/>
<rect x="295.20" y="760.27" width="10.30" height="8.48" fill="#cfc2bf"/>
<rect x="295.20" y="752.18" width="10.30" height="8.48" fill="#e3dbd9"/>
<rect x="295.20" y="744.10" width="10.30" height="8.48" fill="#f7f5f4"/>
<rect x="295.20" y="744.30" width="10.30" height="210.20" fill="none" stroke="#222" stroke-width="0.90"/>
<line x1="74.50" y1="954.50" x2="74.50" y2="957.50" stroke="#222" stroke-width="0.8"/>
<line x1="35.20" y1="922.97" x2="38.20" y2="922.97" stroke="#222" stroke-width="0.8"/>
<text x="74.50" y="968.90" font-size="11.21" font-family='"Liberation Sans", sans-serif' text-anchor="middle" fill="#1a1a1a" stroke="#1a1a1a" stroke-width="0.30" textLength="16.70" lengthAdjust="spacingAndGlyphs">0.2</text>
<text x="32.30" y="927.07" font-size="11.21" font-family='"Liberation Sans", sans-serif' text-anchor="end" fill="#1a1a1a" stroke="#1a1a1a" stroke-width="0.30" textLength="16.70" lengthAdjust="spacingAndGlyphs">0.2</text>
<line x1="122.90" y1="954.50" x2="122.90" y2="957.50" stroke="#222" stroke-width="0.8"/>
<line x1="35.20" y1="880.93" x2="38.20" y2="880.93" stroke="#222" stroke-width="0.8"/>
<text x="122.90" y="968.90" font-size="11.21" font-family='"Liberation Sans", sans-serif' text-anchor="middle" fill="#1a1a1a" stroke="#1a1a1a" stroke-width="0.30" textLength="16.70" lengthAdjust="spacingAndGlyphs">0.4</text>
<text x="32.30" y="885.03" font-size="11.21" font-family='"Liberation Sans", sans-serif' text-anchor="end" fill="#1a1a1a" stroke="#1a1a1a" stroke-width="0.30" textLength="16.70" lengthAdjust="spacingAndGlyphs">0.4</text>
<line x1="171.30" y1="954.50" x2="171.30" y2="957.50" stroke="#222" stroke-width="0.8"/>
<line x1="35.20" y1="838.89" x2="38.20" y2="838.89" stroke="#222" stroke-width="0.8"/>
<text x="171.30" y="968.90" font-size="11.21" font-family='"Liberation Sans", sans-serif' text-anchor="middle" fill="#1a1a1a" stroke="#1a1a1a" stroke-width="0.30" textLength="16.70" lengthAdjust="spacingAndGlyphs">0.6</text>
<text x="32.30" y="842.99" font-size="11.21" font-family='"Liberation Sans", sans-serif' text-anchor="end" fill="#1a1a1a" stroke="#1a1a1a" stroke-width="0.30" textLength="16.70" lengthAdjust="spacingAndGlyphs">0.6</text>
<line x1="219.70" y1="954.50" x2="219.70" y2="957.50" stroke="#222" stroke-width="0.8"/>
<line x1="35.20" y1="796.85" x2="38.20" y2="796.85" stroke="#222" stroke-width="0.8"/>
<text x="219.70" y="968.90" font-size="11.21" font-family='"Liberation Sans", sans-serif' text-anchor="middle" fill="#1a1a1a" stroke="#1a1a1a" stroke-width="0.30" textLength="16.70" lengthAdjust="spacingAndGlyphs">0.8</text>
<text x="32.30" y="800.95" font-size="11.21" font-family='"Liberation Sans", sans-serif' text-anchor="end" fill="#1a1a1a" stroke="#1a1a1a" stroke-width="0.30" textLength="16.70" lengthAdjust="spacingAndGlyphs">0.8</text>
<line x1="268.10" y1="954.50" x2="268.10" y2="957.50" stroke="#222" stroke-width="0.8"/>
<line x1="35.20" y1="754.81" x2="38.20" y2="754.81" stroke="#222" stroke-width="0.8"/>
<text x="268.10" y="968.90" font-size="11.21" font-family='"Liberation Sans", sans-serif' text-anchor="middle" fill="#1a1a1a" stroke="#1a1a1a" stroke-width="0.30" textLength="16.70" lengthAdjust="spacingAndGlyphs">1.0</text>
<text x="32.30" y="758.91" font-size="11.21" font-family='"Liberation Sans", sans-serif' text-anchor="end" fill="#1a1a1a" stroke="#1a1a1a" stroke-width="0.30" textLength="16.70" lengthAdjust="spacingAndGlyphs">1.0</text>
<line x1="305.50" y1="954.50" x2="308.50" y2="954.50" stroke="#222" stroke-width="0.8"/>
<text x="312.10" y="958.60" font-size="11.21" font-family='"Liberation Sans", sans-serif' text-anchor="start" fill="#1a1a1a" stroke="#1a1a1a" stroke-width="0.30" textLength="36.74" lengthAdjust="spacingAndGlyphs">0.0650</text>
<line x1="305.50" y1="930.25" x2="308.50" y2="930.25" stroke="#222" stroke-width="0.8"/>
<text x="312.10" y="934.35" font-size="11.21" font-family='"Liberation Sans", sans-serif' text-anchor="start" fill="#1a1a1a" stroke="#1a1a1a" stroke-width="0.30" textLength="36.74" lengthAdjust="spacingAndGlyphs">0.0725</text>
<line x1="305.50" y1="905.99" x2="308.50" y2="905.99" stroke="#222" stroke-width="0.8"/>
<text x="312.10" y="910.09" font-size="11.21" font-family='"Liberation Sans", sans-serif' text-anchor="start" fill="#1a1a1a" stroke="#1a1a1a" stroke-width="0.30" textLength="36.74" lengthAdjust="spacingAndGlyphs">0.0800</text>
<line x1="305.50" y1="881.74" x2="308.50" y2="881.74" stroke="#222" stroke-width="0.8"/>
<text x="312.10" y="885.84" font-size="11.21" font-family='"Liberation Sans", sans-serif' text-anchor="start" fill="#1a1a1a" stroke="#1a1a1a" stroke-width="0.30" textLength="36.74" lengthAdjust="spacingAndGlyphs">0.0875</text>
<line x1="305.50" y1="857.48" x2="308.50" y2="857.48" stroke="#222" stroke-width="0.8"/>
<text x="312.10" y="861.58" font-size="11.21" font-family='"Liberation Sans", sans-serif' text-anchor="start" fill="#1a1a1a" stroke="#1a1a1a" stroke-width="0.30" textLength="36.74" lengthAdjust="spacingAndGlyphs">0.0950</text>
<line x1="305.50" y1="833.23" x2="308.50" y2="833.23" stroke="#222" stroke-width="0.8"/>
<text x="312.10" y="837.33" font-size="11.21" font-family='"Liberation Sans", sans-serif' text-anchor="start" fill="#1a1a1a" stroke="#1a1a1a" stroke-width="0.30" textLength="36.74" lengthAdjust="spacingAndGlyphs">0.1025</text>
<line x1="305.50" y1="808.98" x2="308.50" y2="808.98" stroke="#222" stroke-width="0.8"/>
<text x="312.10" y="813.08" font-size="11.21" font-family='"Liberation Sans", sans-serif' text-anchor="start" fill="#1a1a1a" stroke="#1a1a1a" stroke-width="0.30" textLength="36.74" lengthAdjust="spacingAndGlyphs">0.1100</text>
<line x1="305.50" y1="784.72" x2="308.50" y2="784.72" stroke="#222" stroke-width="0.8"/>
<text x="312.10" y="788.82" font-size="11.21" font-family='"Liberation Sans", sans-serif' text-anchor="start" fill="#1a1a1a" stroke="#1a1a1a" stroke-width="0.30" textLength="36.74" lengthAdjust="spacingAndGlyphs">0.1175</text>
<line x1="305.50" y1="760.47" x2="308.50" y2="760.47" stroke="#222" stroke-width="0.8"/>
<text x="312.10" y="764.57" font-size="11.21" font-family='"Liberation Sans", sans-serif' text-anchor="start" fill="#1a1a1a" stroke="#1a1a1a" stroke-width="0.30" textLength="36.74" lengthAdjust="spacingAndGlyphs">0.1250</text>
<text x="4.50" y="493.60" font-size="14.10" font-family='"Liberation Sans", sans-serif' text-anchor="start" fill="#1a1a1a" stroke="#1a1a1a" stroke-width="0.30" font-style="italic" textLength="8.66" lengthAdjust="spacingAndGlyphs">K</text>
<text x="13.16" y="495.71" font-size="9.87" font-family='"Liberation Sans", sans-serif' text-anchor="start" fill="#1a1a1a" stroke="#1a1a1a" stroke-width="0.30" font-style="italic" textLength="8.56" lengthAdjust="spacingAndGlyphs">IE</text>
<text x="234.50" y="708.90" font-size="14.10" font-family='"Liberation Sans", sans-serif' text-anchor="start" fill="#1a1a1a" stroke="#1a1a1a" stroke-width="0.30" font-style="italic" textLength="8.66" lengthAdjust="spacingAndGlyphs">K</text>
<text x="243.16" y="711.01" font-size="9.87" font-family='"Liberation Sans", sans-serif' text-anchor="start" fill="#1a1a1a" stroke="#1a1a1a" stroke-width="0.30" font-style="italic" textLength="8.56" lengthAdjust="spacingAndGlyphs">EI</text>
<text x="360.70" y="495.30" font-size="14.10" font-family='"Liberation Sans", sans-serif' text-anchor="start" fill="#1a1a1a" stroke="#1a1a1a" stroke-width="0.30" font-style="italic" textLength="8.66" lengthAdjust="spacingAndGlyphs">K</text>
<text x="369.36" y="497.41" font-size="9.87" font-family='"Liberation Sans", sans-serif' text-anchor="start" fill="#1a1a1a" stroke="#1a1a1a" stroke-width="0.30" font-style="italic" textLength="8.56" lengthAdjust="spacingAndGlyphs">IE</text>
<text x="591.70" y="710.60" font-size="14.10" font-family='"Liberation Sans", sans-serif' text-anchor="start" fill="#1a1a1a" stroke="#1a1a1a" stroke-width="0.30" font-style="italic" textLength="8.66" lengthAdjust="spacingAndGlyphs">K</text>
<text x="600.36" y="712.71" font-size="9.87" font-family='"Liberation Sans", sans-serif' text-anchor="start" fill="#1a1a1a" stroke="#1a1a1a" stroke-width="0.30" font-style="italic" textLength="8.56" lengthAdjust="spacingAndGlyphs">EI</text>
<text x="4.30" y="774.00" font-size="14.10" font-family='"Liberation Sans", sans-serif' text-anchor="start" fill="#1a1a1a" stroke="#1a1a1a" stroke-width="0.30" font-style="italic" textLength="8.66" lengthAdjust="spacingAndGlyphs">K</text>
<text x="12.96" y="776.11" font-size="9.87" font-family='"Liberation Sans", sans-serif' text-anchor="start" fill="#1a1a1a" stroke="#1a1a1a" stroke-width="0.30" font-style="italic" textLength="8.56" lengthAdjust="spacingAndGlyphs">IE</text>
<text x="230.70" y="984.80" font-size="14.10" font-family='"Liberation Sans", sans-serif' text-anchor="start" fill="#1a1a1a" stroke="#1a1a1a" stroke-width="0.30" font-style="italic" textLength="8.66" lengthAdjust="spacingAndGlyphs">K</text>
<text x="239.36" y="986.91" font-size="9.87" font-family='"Liberation Sans", sans-serif' text-anchor="start" fill="#1a1a1a" stroke="#1a1a1a" stroke-width="0.30" font-style="italic" textLength="8.56" lengthAdjust="spacingAndGlyphs">EI</text>
<text x="629.70" y="984.30" font-size="14.10" font-family='"Liberation Sans", sans-serif' text-anchor="start" fill="#1a1a1a" stroke="#1a1a1a" stroke-width="0.30" font-style="italic" textLength="8.66" lengthAdjust="spacingAndGlyphs">K</text>
<text x="638.36" y="986.41" font-size="9.87" font-family='"Liberation Sans", sans-serif' text-anchor="start" fill="#1a1a1a" stroke="#1a1a1a" stroke-width="0.30" font-style="italic" textLength="8.56" lengthAdjust="spacingAndGlyphs">IE</text>
<text x="157.73" y="457.70" font-size="14.63" font-family='"Liberation Sans", sans-serif' text-anchor="start" fill="#1a1a1a" stroke="#1a1a1a" stroke-width="0.30" font-style="italic" textLength="8.37" lengthAdjust="spacingAndGlyphs">T</text>
<line x1="161.56" y1="445.10" x2="165.95" y2="445.10" stroke="#1a1a1a" stroke-width="1.10"/>
<text x="510.93" y="458.60" font-size="14.63" font-family='"Liberation Sans", sans-serif' text-anchor="start" fill="#1a1a1a" stroke="#1a1a1a" stroke-width="0.30" font-style="italic" textLength="8.37" lengthAdjust="spacingAndGlyphs">T</text>
<line x1="514.76" y1="446.00" x2="519.15" y2="446.00" stroke="#1a1a1a" stroke-width="1.10"/>
<text x="520.24" y="461.07" font-size="10.24" font-family='"Liberation Sans", sans-serif' text-anchor="start" fill="#1a1a1a" stroke="#1a1a1a" stroke-width="0.30" font-style="italic" textLength="6.06" lengthAdjust="spacingAndGlyphs">E</text>
<text x="152.73" y="738.30" font-size="14.63" font-family='"Liberation Sans", sans-serif' text-anchor="start" fill="#1a1a1a" stroke="#1a1a1a" stroke-width="0.30" font-style="italic" textLength="8.37" lengthAdjust="spacingAndGlyphs">T</text>
<line x1="156.56" y1="725.70" x2="160.95" y2="725.70" stroke="#1a1a1a" stroke-width="1.10"/>
<text x="162.04" y="740.77" font-size="10.24" font-family='"Liberation Sans", sans-serif' text-anchor="start" fill="#1a1a1a" stroke="#1a1a1a" stroke-width="0.30" font-style="italic" textLength="2.83" lengthAdjust="spacingAndGlyphs">I</text>
<line x1="428.60" y1="740.20" x2="428.60" y2="954.20" stroke="#b0b0b0" stroke-width="0.8"/>
<line x1="428.60" y1="954.20" x2="428.60" y2="957.20" stroke="#222" stroke-width="0.8"/>
<text x="428.60" y="967.80" font-size="11.21" font-family='"Liberation Sans", sans-serif' text-anchor="middle" fill="#1a1a1a" stroke="#1a1a1a" stroke-width="0.30" textLength="16.70" lengthAdjust="spacingAndGlyphs">0.0</text>
<line x1="475.76" y1="740.20" x2="475.76" y2="954.20" stroke="#b0b0b0" stroke-width="0.8"/>
<line x1="475.76" y1="954.20" x2="475.76" y2="957.20" stroke="#222" stroke-width="0.8"/>
<text x="475.76" y="967.80" font-size="11.21" font-family='"Liberation Sans", sans-serif' text-anchor="middle" fill="#1a1a1a" stroke="#1a1a1a" stroke-width="0.30" textLength="16.70" lengthAdjust="spacingAndGlyphs">0.2</text>
<line x1="522.93" y1="740.20" x2="522.93" y2="954.20" stroke="#b0b0b0" stroke-width="0.8"/>
<line x1="522.93" y1="954.20" x2="522.93" y2="957.20" stroke="#222" stroke-width="0.8"/>
<text x="522.93" y="967.80" font-size="11.21" font-family='"Liberation Sans", sans-serif' text-anchor="middle" fill="#1a1a1a" stroke="#1a1a1a" stroke-width="0.30" textLength="16.70" lengthAdjust="spacingAndGlyphs">0.4</text>
<line x1="570.09" y1="740.20" x2="570.09" y2="954.20" stroke="#b0b0b0" stroke-width="0.8"/>
<line x1="570.09" y1="954.20" x2="570.09" y2="957.20" stroke="#222" stroke-width="0.8"/>
<text x="570.09" y="967.80" font-size="11.21" font-family='"Liberation Sans", sans-serif' text-anchor="middle" fill="#1a1a1a" stroke="#1a1a1a" stroke-width="0.30" textLength="16.70" lengthAdjust="spacingAndGlyphs">0.6</text>
<line x1="617.25" y1="740.20" x2="617.25" y2="954.20" stroke="#b0b0b0" stroke-width="0.8"/>
<line x1="617.25" y1="954.20" x2="617.25" y2="957.20" stroke="#222" stroke-width="0.8"/>
<text x="617.25" y="967.80" font-size="11.21" font-family='"Liberation Sans", sans-serif' text-anchor="middle" fill="#1a1a1a" stroke="#1a1a1a" stroke-width="0.30" textLength="16.70" lengthAdjust="spacingAndGlyphs">0.8</text>
<line x1="664.42" y1="740.20" x2="664.42" y2="954.20" stroke="#b0b0b0" stroke-width="0.8"/>
<line x1="664.42" y1="954.20" x2="664.42" y2="957.20" stroke="#222" stroke-width="0.8"/>
<text x="664.42" y="967.80" font-size="11.21" font-family='"Liberation Sans", sans-serif' text-anchor="middle" fill="#1a1a1a" stroke="#1a1a1a" stroke-width="0.30" textLength="16.70" lengthAdjust="spacingAndGlyphs">1.0</text>
<line x1="428.60" y1="936.00" x2="688.00" y2="936.00" stroke="#b0b0b0" stroke-width="0.8"/>
<line x1="425.60" y1="936.00" x2="428.60" y2="936.00" stroke="#222" stroke-width="0.8"/>
<text x="422.00" y="940.10" font-size="11.21" font-family='"Liberation Sans", sans-serif' text-anchor="end" fill="#1a1a1a" stroke="#1a1a1a" stroke-width="0.30" textLength="23.38" lengthAdjust="spacingAndGlyphs">0.06</text>
<line x1="428.60" y1="911.40" x2="688.00" y2="911.40" stroke="#b0b0b0" stroke-width="0.8"/>
<line x1="425.60" y1="911.40" x2="428.60" y2="911.40" stroke="#222" stroke-width="0.8"/>
<text x="422.00" y="915.50" font-size="11.21" font-family='"Liberation Sans", sans-serif' text-anchor="end" fill="#1a1a1a" stroke="#1a1a1a" stroke-width="0.30" textLength="23.38" lengthAdjust="spacingAndGlyphs">0.07</text>
<line x1="428.60" y1="886.80" x2="688.00" y2="886.80" stroke="#b0b0b0" stroke-width="0.8"/>
<line x1="425.60" y1="886.80" x2="428.60" y2="886.80" stroke="#222" stroke-width="0.8"/>
<text x="422.00" y="890.90" font-size="11.21" font-family='"Liberation Sans", sans-serif' text-anchor="end" fill="#1a1a1a" stroke="#1a1a1a" stroke-width="0.30" textLength="23.38" lengthAdjust="spacingAndGlyphs">0.08</text>
<line x1="428.60" y1="862.20" x2="688.00" y2="862.20" stroke="#b0b0b0" stroke-width="0.8"/>
<line x1="425.60" y1="862.20" x2="428.60" y2="862.20" stroke="#222" stroke-width="0.8"/>
<text x="422.00" y="866.30" font-size="11.21" font-family='"Liberation Sans", sans-serif' text-anchor="end" fill="#1a1a1a" stroke="#1a1a1a" stroke-width="0.30" textLength="23.38" lengthAdjust="spacingAndGlyphs">0.09</text>
<line x1="428.60" y1="837.61" x2="688.00" y2="837.61" stroke="#b0b0b0" stroke-width="0.8"/>
<line x1="425.60" y1="837.61" x2="428.60" y2="837.61" stroke="#222" stroke-width="0.8"/>
<text x="422.00" y="841.71" font-size="11.21" font-family='"Liberation Sans", sans-serif' text-anchor="end" fill="#1a1a1a" stroke="#1a1a1a" stroke-width="0.30" textLength="23.38" lengthAdjust="spacingAndGlyphs">0.10</text>
<line x1="428.60" y1="813.01" x2="688.00" y2="813.01" stroke="#b0b0b0" stroke-width="0.8"/>
<line x1="425.60" y1="813.01" x2="428.60" y2="813.01" stroke="#222" stroke-width="0.8"/>
<text x="422.00" y="817.11" font-size="11.21" font-family='"Liberation Sans", sans-serif' text-anchor="end" fill="#1a1a1a" stroke="#1a1a1a" stroke-width="0.30" textLength="23.38" lengthAdjust="spacingAndGlyphs">0.11</text>
<line x1="428.60" y1="788.41" x2="688.00" y2="788.41" stroke="#b0b0b0" stroke-width="0.8"/>
<line x1="425.60" y1="788.41" x2="428.60" y2="788.41" stroke="#222" stroke-width="0.8"/>
<text x="422.00" y="792.51" font-size="11.21" font-family='"Liberation Sans", sans-serif' text-anchor="end" fill="#1a1a1a" stroke="#1a1a1a" stroke-width="0.30" textLength="23.38" lengthAdjust="spacingAndGlyphs">0.12</text>
<line x1="428.60" y1="763.81" x2="688.00" y2="763.81" stroke="#b0b0b0" stroke-width="0.8"/>
<line x1="425.60" y1="763.81" x2="428.60" y2="763.81" stroke="#222" stroke-width="0.8"/>
<text x="422.00" y="767.91" font-size="11.21" font-family='"Liberation Sans", sans-serif' text-anchor="end" fill="#1a1a1a" stroke="#1a1a1a" stroke-width="0.30" textLength="23.38" lengthAdjust="spacingAndGlyphs">0.13</text>
<polyline points="440.39,921.24 452.18,916.57 463.97,904.76 475.76,895.90 487.55,886.80 499.35,874.50 511.14,866.14 522.93,853.84 534.72,843.76 546.51,834.41 558.30,818.67 570.09,813.01 581.88,796.77 593.67,795.54 605.46,793.58 617.25,782.26 629.05,773.41 640.84,767.01 652.63,769.23 664.42,759.88 676.21,756.93" fill="none" stroke="#1f77b4" stroke-width="1.5" stroke-linejoin="round"/>
<circle cx="440.39" cy="921.24" r="2.2" fill="#1f77b4"/>
<circle cx="452.18" cy="916.57" r="2.2" fill="#1f77b4"/>
<circle cx="463.97" cy="904.76" r="2.2" fill="#1f77b4"/>
<circle cx="475.76" cy="895.90" r="2.2" fill="#1f77b4"/>
<circle cx="487.55" cy="886.80" r="2.2" fill="#1f77b4"/>
<circle cx="499.35" cy="874.50" r="2.2" fill="#1f77b4"/>
<circle cx="511.14" cy="866.14" r="2.2" fill="#1f77b4"/>
<circle cx="522.93" cy="853.84" r="2.2" fill="#1f77b4"/>
<circle cx="534.72" cy="843.76" r="2.2" fill="#1f77b4"/>
<circle cx="546.51" cy="834.41" r="2.2" fill="#1f77b4"/>
<circle cx="558.30" cy="818.67" r="2.2" fill="#1f77b4"/>
<circle cx="570.09" cy="813.01" r="2.2" fill="#1f77b4"/>
<circle cx="581.88" cy="796.77" r="2.2" fill="#1f77b4"/>
<circle cx="593.67" cy="795.54" r="2.2" fill="#1f77b4"/>
<circle cx="605.46" cy="793.58" r="2.2" fill="#1f77b4"/>
<circle cx="617.25" cy="782.26" r="2.2" fill="#1f77b4"/>
<circle cx="629.05" cy="773.41" r="2.2" fill="#1f77b4"/>
<circle cx="640.84" cy="767.01" r="2.2" fill="#1f77b4"/>
<circle cx="652.63" cy="769.23" r="2.2" fill="#1f77b4"/>
<circle cx="664.42" cy="759.88" r="2.2" fill="#1f77b4"/>
<circle cx="676.21" cy="756.93" r="2.2" fill="#1f77b4"/>
<polyline points="440.39,943.13 452.18,936.24 463.97,922.71 475.76,912.63 487.55,901.07 499.35,886.31 511.14,877.21 522.93,862.45 534.72,850.64 546.51,842.03 558.30,821.86 570.09,814.98 581.88,798.74 593.67,794.56 605.46,792.84 617.25,779.56 629.05,769.23 640.84,762.83 652.63,763.81 664.42,754.47 676.21,749.79" fill="none" stroke="#ff7f0e" stroke-width="1.5" stroke-linejoin="round"/>
<circle cx="440.39" cy="943.13" r="2.2" fill="#ff7f0e"/>
<circle cx="452.18" cy="936.24" r="2.2" fill="#ff7f0e"/>
<circle cx="463.97" cy="922.71" r="2.2" fill="#ff7f0e"/>
<circle cx="475.76" cy="912.63" r="2.2" fill="#ff7f0e"/>
<circle cx="487.55" cy="901.07" r="2.2" fill="#ff7f0e"/>
<circle cx="499.35" cy="886.31" r="2.2" fill="#ff7f0e"/>
<circle cx="511.14" cy="877.21" r="2.2" fill="#ff7f0e"/>
<circle cx="522.93" cy="862.45" r="2.2" fill="#ff7f0e"/>
<circle cx="534.72" cy="850.64" r="2.2" fill="#ff7f0e"/>
<circle cx="546.51" cy="842.03" r="2.2" fill="#ff7f0e"/>
<circle cx="558.30" cy="821.86" r="2.2" fill="#ff7f0e"/>
<circle cx="570.09" cy="814.98" r="2.2" fill="#ff7f0e"/>
<circle cx="581.88" cy="798.74" r="2.2" fill="#ff7f0e"/>
<circle cx="593.67" cy="794.56" r="2.2" fill="#ff7f0e"/>
<circle cx="605.46" cy="792.84" r="2.2" fill="#ff7f0e"/>
<circle cx="617.25" cy="779.56" r="2.2" fill="#ff7f0e"/>
<circle cx="629.05" cy="769.23" r="2.2" fill="#ff7f0e"/>
<circle cx="640.84" cy="762.83" r="2.2" fill="#ff7f0e"/>
<circle cx="652.63" cy="763.81" r="2.2" fill="#ff7f0e"/>
<circle cx="664.42" cy="754.47" r="2.2" fill="#ff7f0e"/>
<circle cx="676.21" cy="749.79" r="2.2" fill="#ff7f0e"/>
<polyline points="440.39,832.20 452.18,835.64 463.97,832.69 475.76,830.97 487.55,830.47 499.35,826.54 511.14,821.86 522.93,821.13 534.72,815.47 546.51,805.38 558.30,803.91 570.09,804.89 581.88,793.09 593.67,796.77 605.46,797.76 617.25,793.58 629.05,786.44 640.84,783.25 652.63,790.63 664.42,782.51 676.21,785.95" fill="none" stroke="#2ca02c" stroke-width="1.5" stroke-linejoin="round"/>
<circle cx="440.39" cy="832.20" r="2.2" fill="#2ca02c"/>
<circle cx="452.18" cy="835.64" r="2.2" fill="#2ca02c"/>
<circle cx="463.97" cy="832.69" r="2.2" fill="#2ca02c"/>
<circle cx="475.76" cy="830.97" r="2.2" fill="#2ca02c"/>
<circle cx="487.55" cy="830.47" r="2.2" fill="#2ca02c"/>
<circle cx="499.35" cy="826.54" r="2.2" fill="#2ca02c"/>
<circle cx="511.14" cy="821.86" r="2.2" fill="#2ca02c"/>
<circle cx="522.93" cy="821.13" r="2.2" fill="#2ca02c"/>
<circle cx="534.72" cy="815.47" r="2.2" fill="#2ca02c"/>
<circle cx="546.51" cy="805.38" r="2.2" fill="#2ca02c"/>
<circle cx="558.30" cy="803.91" r="2.2" fill="#2ca02c"/>
<circle cx="570.09" cy="804.89" r="2.2" fill="#2ca02c"/>
<circle cx="581.88" cy="793.09" r="2.2" fill="#2ca02c"/>
<circle cx="593.67" cy="796.77" r="2.2" fill="#2ca02c"/>
<circle cx="605.46" cy="797.76" r="2.2" fill="#2ca02c"/>
<circle cx="617.25" cy="793.58" r="2.2" fill="#2ca02c"/>
<circle cx="629.05" cy="786.44" r="2.2" fill="#2ca02c"/>
<circle cx="640.84" cy="783.25" r="2.2" fill="#2ca02c"/>
<circle cx="652.63" cy="790.63" r="2.2" fill="#2ca02c"/>
<circle cx="664.42" cy="782.51" r="2.2" fill="#2ca02c"/>
<circle cx="676.21" cy="785.95" r="2.2" fill="#2ca02c"/>
<rect x="428.60" y="740.20" width="259.40" height="214.00" fill="none" stroke="#222" stroke-width="1.00"/>
<rect x="625.4" y="811.7" width="55.6" height="70.1" rx="2.8" fill="#fff" fill-opacity="0.8" stroke="#d9d9d9" stroke-width="0.9"/>
<line x1="628.9" y1="824.70" x2="653.6" y2="824.70" stroke="#1f77b4" stroke-width="1.5"/>
<text x="663.75" y="827.60" font-size="13.46" font-family='"Liberation Sans", sans-serif' text-anchor="start" fill="#1a1a1a" stroke="#1a1a1a" stroke-width="0.30" font-style="italic" textLength="7.70" lengthAdjust="spacingAndGlyphs">T</text>
<line x1="667.28" y1="816.01" x2="671.31" y2="816.01" stroke="#1a1a1a" stroke-width="1.01"/>
<line x1="628.9" y1="847.25" x2="653.6" y2="847.25" stroke="#ff7f0e" stroke-width="1.5"/>
<text x="663.75" y="850.30" font-size="13.46" font-family='"Liberation Sans", sans-serif' text-anchor="start" fill="#1a1a1a" stroke="#1a1a1a" stroke-width="0.30" font-style="italic" textLength="7.70" lengthAdjust="spacingAndGlyphs">T</text>
<line x1="667.28" y1="838.71" x2="671.31" y2="838.71" stroke="#1a1a1a" stroke-width="1.01"/>
<text x="672.32" y="852.57" font-size="9.42" font-family='"Liberation Sans", sans-serif' text-anchor="start" fill="#1a1a1a" stroke="#1a1a1a" stroke-width="0.30" font-style="italic" textLength="5.57" lengthAdjust="spacingAndGlyphs">E</text>
<line x1="628.9" y1="869.80" x2="653.6" y2="869.80" stroke="#2ca02c" stroke-width="1.5"/>
<text x="663.75" y="873.00" font-size="13.46" font-family='"Liberation Sans", sans-serif' text-anchor="start" fill="#1a1a1a" stroke="#1a1a1a" stroke-width="0.30" font-style="italic" textLength="7.70" lengthAdjust="spacingAndGlyphs">T</text>
<line x1="667.28" y1="861.41" x2="671.31" y2="861.41" stroke="#1a1a1a" stroke-width="1.01"/>
<text x="672.32" y="875.27" font-size="9.42" font-family='"Liberation Sans", sans-serif' text-anchor="start" fill="#1a1a1a" stroke="#1a1a1a" stroke-width="0.30" font-style="italic" textLength="2.60" lengthAdjust="spacingAndGlyphs">I</text>
<text x="379.44" y="799.80" font-size="14.10" font-family='"Liberation Sans", sans-serif' text-anchor="start" fill="#1a1a1a" stroke="#1a1a1a" stroke-width="0.30" font-style="italic" textLength="8.06" lengthAdjust="spacingAndGlyphs">T</text>
<line x1="383.13" y1="787.66" x2="387.36" y2="787.66" stroke="#1a1a1a" stroke-width="1.06"/>
<text x="379.44" y="820.80" font-size="14.10" font-family='"Liberation Sans", sans-serif' text-anchor="start" fill="#1a1a1a" stroke="#1a1a1a" stroke-width="0.30" font-style="italic" textLength="8.06" lengthAdjust="spacingAndGlyphs">T</text>
<line x1="383.13" y1="808.66" x2="387.36" y2="808.66" stroke="#1a1a1a" stroke-width="1.06"/>
<text x="388.41" y="823.18" font-size="9.87" font-family='"Liberation Sans", sans-serif' text-anchor="start" fill="#1a1a1a" stroke="#1a1a1a" stroke-width="0.30" font-style="italic" textLength="5.84" lengthAdjust="spacingAndGlyphs">E</text>
<text x="379.44" y="841.80" font-size="14.10" font-family='"Liberation Sans", sans-serif' text-anchor="start" fill="#1a1a1a" stroke="#1a1a1a" stroke-width="0.30" font-style="italic" textLength="8.06" lengthAdjust="spacingAndGlyphs">T</text>
<line x1="383.13" y1="829.66" x2="387.36" y2="829.66" stroke="#1a1a1a" stroke-width="1.06"/>
<text x="388.41" y="844.18" font-size="9.87" font-family='"Liberation Sans", sans-serif' text-anchor="start" fill="#1a1a1a" stroke="#1a1a1a" stroke-width="0.30" font-style="italic" textLength="2.73" lengthAdjust="spacingAndGlyphs">I</text>
<text x="440.60" y="734.70" font-size="16.20" font-family='"Liberation Serif", serif' text-anchor="start" fill="#1a1a1a" stroke="#1a1a1a" stroke-width="0.30" font-style="italic" textLength="13.00" lengthAdjust="spacingAndGlyphs">K</text>
<text x="452.60" y="737.60" font-size="11.00" font-family='"Liberation Serif", serif' text-anchor="start" fill="#1a1a1a" stroke="#1a1a1a" stroke-width="0.30" font-style="italic" textLength="11.00" lengthAdjust="spacingAndGlyphs">EI</text>
<text x="470.60" y="734.70" font-size="16.20" font-family='"Liberation Serif", serif' text-anchor="start" fill="#1a1a1a" stroke="#1a1a1a" stroke-width="0.30" textLength="11.00" lengthAdjust="spacingAndGlyphs">=</text>
<text x="488.20" y="734.70" font-size="16.20" font-family='"Liberation Serif", serif' text-anchor="start" fill="#1a1a1a" stroke="#1a1a1a" stroke-width="0.30" textLength="21.40" lengthAdjust="spacingAndGlyphs">0.2</text>
</svg>
</body></html>
